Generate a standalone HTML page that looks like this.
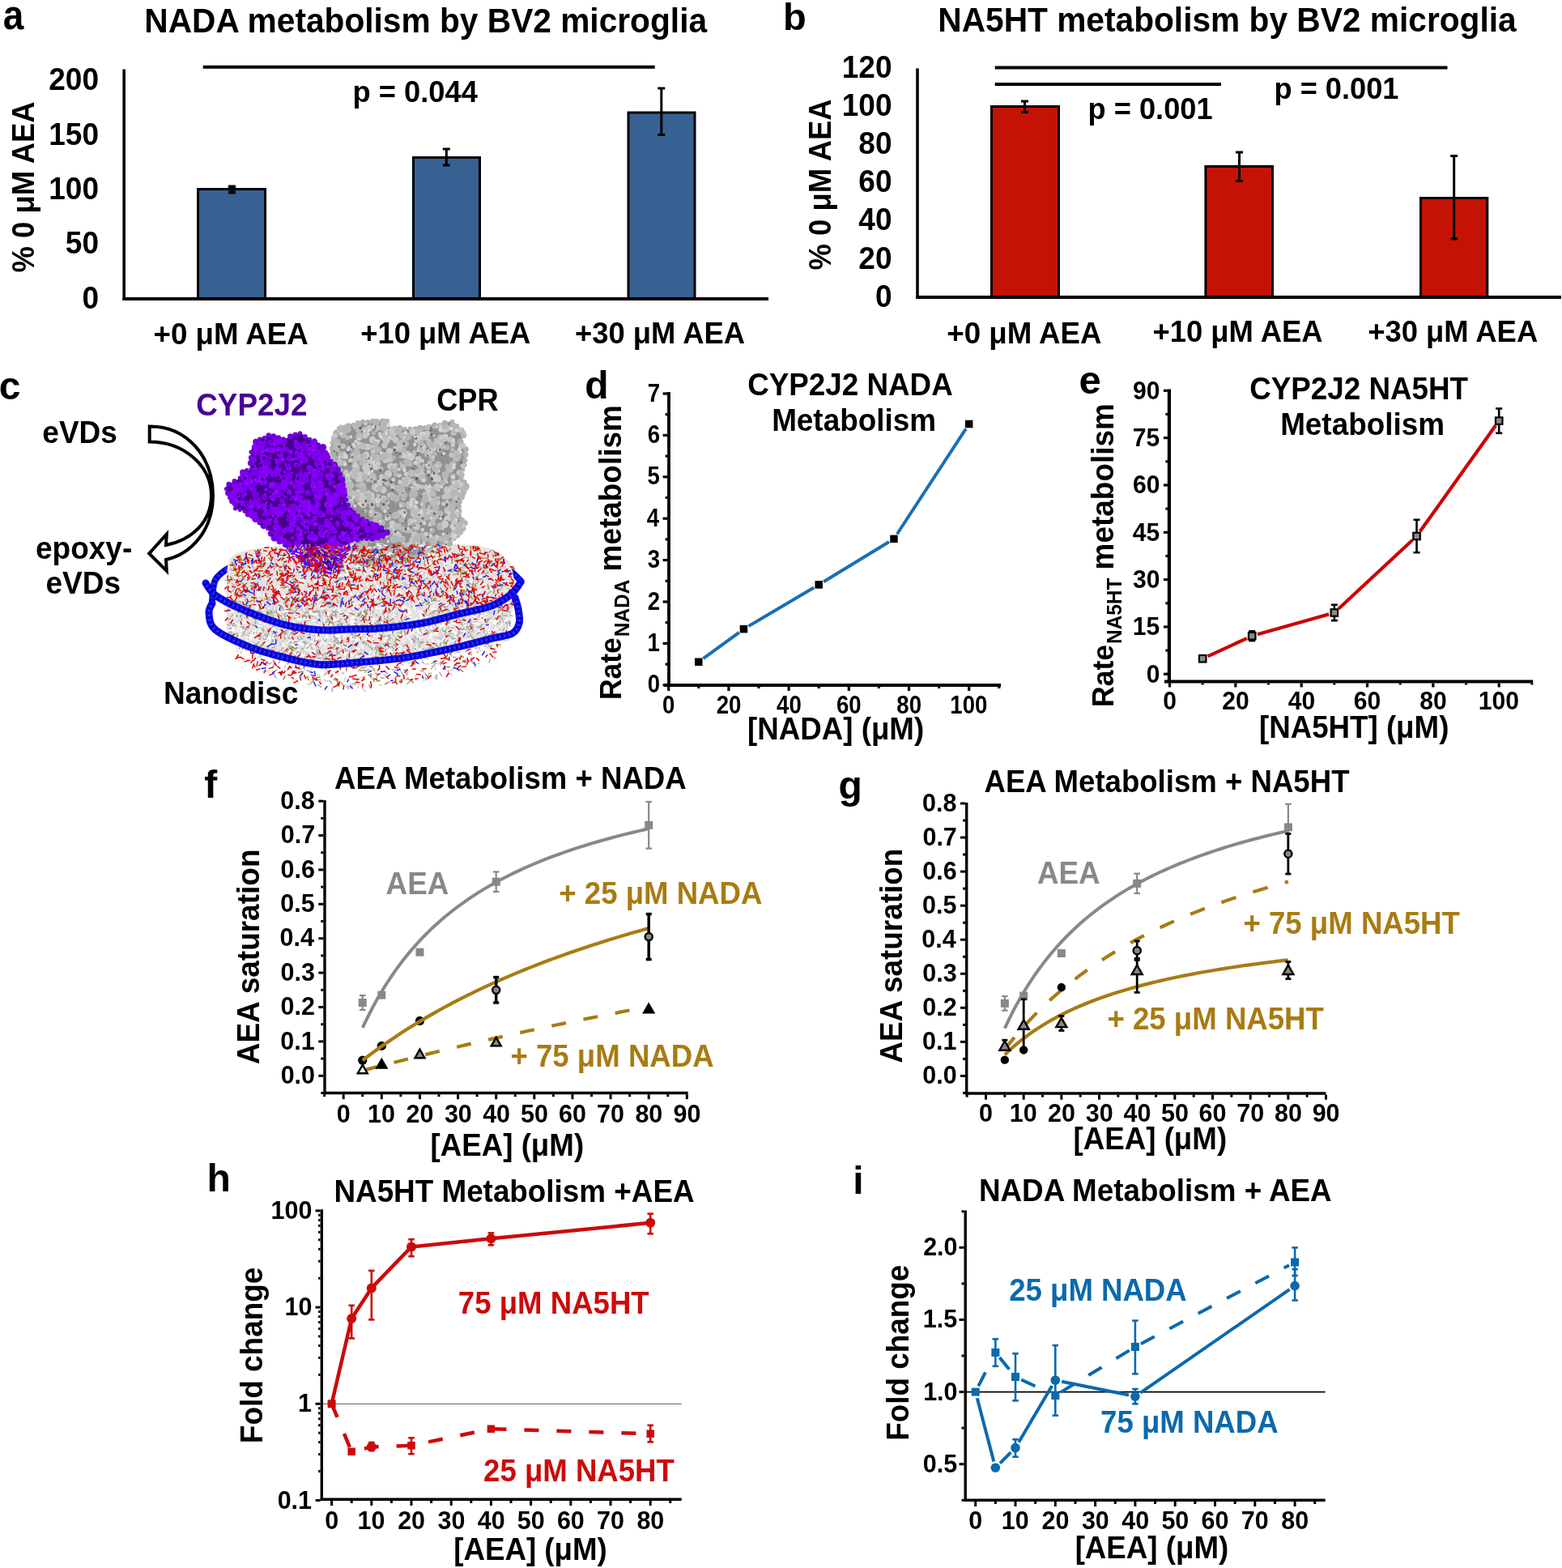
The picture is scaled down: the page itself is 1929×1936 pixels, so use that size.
<!DOCTYPE html>
<html><head><meta charset="utf-8"><title>Figure</title>
<style>html,body{margin:0;padding:0;background:#fff;}svg{display:block;}text{font-family:"Liberation Sans", Arial, Helvetica, sans-serif;font-weight:bold;}</style>
</head><body>
<svg width="1929" height="1936" viewBox="0 0 1929 1936">
<rect width="1929" height="1936" fill="#fff"/>
<text transform="translate(3.65,36.4) scale(1,1.12)" font-size="46">a</text>
<text transform="translate(178.28,39.5) scale(1,1.03)" font-size="40.7">NADA metabolism by BV2 microglia</text>
<rect x="244.5" y="233.5" width="83" height="135.5" fill="#366192" stroke="#000" stroke-width="3"/>
<rect x="510.5" y="194.5" width="82" height="174.5" fill="#366192" stroke="#000" stroke-width="3"/>
<rect x="776" y="139" width="82" height="230" fill="#366192" stroke="#000" stroke-width="3"/>
<line x1="286.5" y1="230.5" x2="286.5" y2="237.5" stroke="#000" stroke-width="4"/>
<line x1="282" y1="230.5" x2="291" y2="230.5" stroke="#000" stroke-width="4"/>
<line x1="282" y1="237.5" x2="291" y2="237.5" stroke="#000" stroke-width="4"/>
<line x1="551.3" y1="184" x2="551.3" y2="204" stroke="#000" stroke-width="3"/>
<line x1="546.8" y1="184" x2="555.8" y2="184" stroke="#000" stroke-width="3"/>
<line x1="546.8" y1="204" x2="555.8" y2="204" stroke="#000" stroke-width="3"/>
<line x1="816.8" y1="109" x2="816.8" y2="166.5" stroke="#000" stroke-width="3"/>
<line x1="812.3" y1="109" x2="821.3" y2="109" stroke="#000" stroke-width="3"/>
<line x1="812.3" y1="166.5" x2="821.3" y2="166.5" stroke="#000" stroke-width="3"/>
<line x1="153.2" y1="85.5" x2="153.2" y2="371" stroke="#000" stroke-width="3.6"/>
<line x1="151.4" y1="369" x2="949" y2="369" stroke="#000" stroke-width="4"/>
<line x1="250.7" y1="82.7" x2="808.7" y2="82.7" stroke="#000" stroke-width="4"/>
<text transform="translate(435.61,125.6) scale(1,1.03)" font-size="36.3">p = 0.044</text>
<text transform="translate(60.28,110.5) scale(1,1.03)" font-size="37">200</text>
<text transform="translate(60.28,178.7) scale(1,1.03)" font-size="37">150</text>
<text transform="translate(60.28,246) scale(1,1.03)" font-size="37">100</text>
<text transform="translate(80.86,313.3) scale(1,1.03)" font-size="37">50</text>
<text transform="translate(101.44,380.5) scale(1,1.03)" font-size="37">0</text>
<text transform="translate(189.46,425) scale(1,1.03)" font-size="36.7">+0 μM AEA</text>
<text transform="translate(445.27,423.5) scale(1,1.03)" font-size="36.4">+10 μM AEA</text>
<text transform="translate(709.97,423.5) scale(1,1.03)" font-size="36.4">+30 μM AEA</text>
<text transform="translate(42.4,336.41) rotate(-90) scale(1,1.08)" font-size="36.4">% 0 μM AEA</text>
<text x="966.9" y="37" font-size="47">b</text>
<text transform="translate(1158.28,38.7) scale(1,1.03)" font-size="40.7">NA5HT metabolism by BV2 microglia</text>
<rect x="1224.5" y="131.5" width="83" height="235.5" fill="#c41304" stroke="#000" stroke-width="3"/>
<rect x="1488.9" y="205.5" width="82.6" height="161.5" fill="#c41304" stroke="#000" stroke-width="3"/>
<rect x="1754.5" y="244.5" width="82.3" height="122.5" fill="#c41304" stroke="#000" stroke-width="3"/>
<line x1="1265.5" y1="125" x2="1265.5" y2="138.5" stroke="#000" stroke-width="3"/>
<line x1="1261" y1="125" x2="1270" y2="125" stroke="#000" stroke-width="3"/>
<line x1="1261" y1="138.5" x2="1270" y2="138.5" stroke="#000" stroke-width="3"/>
<line x1="1530.5" y1="188" x2="1530.5" y2="223.5" stroke="#000" stroke-width="3"/>
<line x1="1526" y1="188" x2="1535" y2="188" stroke="#000" stroke-width="3"/>
<line x1="1526" y1="223.5" x2="1535" y2="223.5" stroke="#000" stroke-width="3"/>
<line x1="1795.7" y1="192.5" x2="1795.7" y2="295" stroke="#000" stroke-width="3"/>
<line x1="1791.2" y1="192.5" x2="1800.2" y2="192.5" stroke="#000" stroke-width="3"/>
<line x1="1791.2" y1="295" x2="1800.2" y2="295" stroke="#000" stroke-width="3"/>
<line x1="1133" y1="84.5" x2="1133" y2="369" stroke="#000" stroke-width="3.6"/>
<line x1="1131.2" y1="367" x2="1928" y2="367" stroke="#000" stroke-width="4"/>
<line x1="1228.75" y1="83.4" x2="1787.5" y2="83.4" stroke="#000" stroke-width="4"/>
<line x1="1228.75" y1="104" x2="1508" y2="104" stroke="#000" stroke-width="4"/>
<text transform="translate(1343.61,146.5) scale(1,1.03)" font-size="36.2">p = 0.001</text>
<text transform="translate(1573.51,122.3) scale(1,1.03)" font-size="36.2">p = 0.001</text>
<text transform="translate(1080.94,378.75) scale(1,1.03)" font-size="37">0</text>
<text transform="translate(1060.36,331.55) scale(1,1.03)" font-size="37">20</text>
<text transform="translate(1060.36,284.35) scale(1,1.03)" font-size="37">40</text>
<text transform="translate(1060.36,237.15) scale(1,1.03)" font-size="37">60</text>
<text transform="translate(1060.36,189.95) scale(1,1.03)" font-size="37">80</text>
<text transform="translate(1039.78,142.75) scale(1,1.03)" font-size="37">100</text>
<text transform="translate(1039.78,95.55) scale(1,1.03)" font-size="37">120</text>
<text transform="translate(1169.21,423.75) scale(1,1.03)" font-size="36.7">+0 μM AEA</text>
<text transform="translate(1423.47,422.4) scale(1,1.03)" font-size="36.4">+10 μM AEA</text>
<text transform="translate(1689.17,422.4) scale(1,1.03)" font-size="36.4">+30 μM AEA</text>
<text transform="translate(1025.5,333.41) rotate(-90) scale(1,1.08)" font-size="36.4">% 0 μM AEA</text>
<text x="-1.38" y="492.7" font-size="48">c</text>
<text transform="translate(242.19,513.2) scale(1,1.06)" font-size="36.9" fill="#4b0096">CYP2J2</text>
<text transform="translate(539.22,507) scale(1,1.06)" font-size="36.2">CPR</text>
<text transform="translate(52.35,547) scale(1,1.06)" font-size="37">eVDs</text>
<text transform="translate(44.05,690) scale(1,1.06)" font-size="37">epoxy-</text>
<text transform="translate(56.55,732.7) scale(1,1.06)" font-size="37">eVDs</text>
<text transform="translate(201.92,869) scale(1,1.06)" font-size="37">Nanodisc</text>
<path d="M184.7,526.4 C230,526 263,563 263,612 C263,655 236,684 205,691 L205.8,705 L184.2,683.4 L205.8,659.5 L205,673 C236,667 261,645 261,612 C261,574 226,545.6 184.7,545.6 Z" stroke="#000" stroke-width="4" fill="#fff" stroke-linejoin="miter"/>
<path d="M262,742 C262.67,737.67 262.17,723 266,716 C269.83,709 277.67,704 285,700 C292.33,696 305.83,693.33 310,692" stroke="#1010f0" stroke-width="8" fill="none" stroke-linecap="round" stroke-linejoin="round"/>
<path d="M262,742 C262.67,737.67 262.17,723 266,716 C269.83,709 277.67,704 285,700 C292.33,696 305.83,693.33 310,692" stroke="#0000a8" stroke-width="6.8" fill="none" stroke-dasharray="1.8 4" stroke-linecap="butt"/>
<path d="M262,742 C262.67,737.67 262.17,723 266,716 C269.83,709 277.67,704 285,700 C292.33,696 305.83,693.33 310,692" stroke="#4848ff" stroke-width="1.4" fill="none" stroke-dasharray="2 3.8" stroke-dashoffset="2.5"/>
<path d="M598,690 C602,691.33 614.67,693.67 622,698 C629.33,702.33 638.67,713 642,716" stroke="#1010f0" stroke-width="8" fill="none" stroke-linecap="round" stroke-linejoin="round"/>
<path d="M598,690 C602,691.33 614.67,693.67 622,698 C629.33,702.33 638.67,713 642,716" stroke="#0000a8" stroke-width="6.8" fill="none" stroke-dasharray="1.8 4" stroke-linecap="butt"/>
<path d="M598,690 C602,691.33 614.67,693.67 622,698 C629.33,702.33 638.67,713 642,716" stroke="#4848ff" stroke-width="1.4" fill="none" stroke-dasharray="2 3.8" stroke-dashoffset="2.5"/>
<path d="M283,692 C286.33,685.17 292.17,683.67 300,681 C307.83,678.33 316.67,677.67 330,676 C343.33,674.33 360,671.67 380,671 C400,670.33 426.67,672 450,672 C473.33,672 498.33,670.83 520,671 C541.67,671.17 565,671.67 580,673 C595,674.33 602.5,676.17 610,679 C617.5,681.83 621.33,686.17 625,690 C628.67,693.83 630.17,695.33 632,702 C633.83,708.67 636.17,720.33 636,730 C635.83,739.67 632.83,750.83 631,760 C629.17,769.17 630.17,779.67 625,785 C619.83,790.33 610.17,789.5 600,792 C589.83,794.5 580.67,796.5 564,800 C547.33,803.5 521.33,809.67 500,813 C478.67,816.33 453.67,818.5 436,820 C418.33,821.5 408.17,823 394,822 C379.83,821 365.17,817.5 351,814 C336.83,810.5 320.33,805 309,801 C297.67,797 287.83,796.83 283,790 C278.17,783.17 280.5,771.33 280,760 C279.5,748.67 279.5,733.33 280,722 C280.5,710.67 279.67,698.83 283,692Z" stroke="none" stroke-width="0" fill="#e6e2e2"/>
<path d="M418.6,529.4 C424.6,526.15 437.98,522.17 448,520.5 C458.02,518.83 473.2,518.07 478.7,519.4 C484.2,520.73 475.3,526.8 481,528.5 C486.7,530.2 505.68,529.6 512.9,529.6 C520.12,529.6 518.23,529.63 524.3,528.5 C530.37,527.37 543.6,524.13 549.3,522.8 C555,521.47 554.88,519.17 558.5,520.5 C562.12,521.83 568.53,527.95 571,530.8 C573.47,533.65 573.68,535.13 573.3,537.6 C572.92,540.07 568.33,542.75 568.7,545.6 C569.07,548.45 574.55,550.92 575.5,554.7 C576.45,558.48 574.97,564.13 574.4,568.3 C573.83,572.47 572.87,575.9 572.1,579.7 C571.33,583.5 569.03,587.68 569.8,591.1 C570.57,594.52 576.12,597.35 576.7,600.2 C577.28,603.05 574.82,604.97 573.3,608.2 C571.78,611.43 568.75,614.85 567.6,619.6 C566.45,624.35 565.27,632.33 566.4,636.7 C567.53,641.07 573.45,643.15 574.4,645.8 C575.35,648.45 574.38,649.38 572.1,652.6 C569.82,655.82 563.55,662.07 560.7,665.1 C557.85,668.13 558.03,668.7 555,670.8 C551.97,672.9 546.48,675.8 542.5,677.7 C538.52,679.6 534.9,680.68 531.1,682.2 C527.3,683.72 524.45,685.5 519.7,686.8 C514.95,688.1 507.72,688.63 502.6,690 C497.48,691.37 494.43,693.67 489,695 C483.57,696.33 478.17,698 470,698 C461.83,698 447.42,702.55 440,695 C432.58,687.45 427.17,664.87 425.5,652.7 C423.83,640.53 430.92,632.45 430,622 C429.08,611.55 423.43,601.43 420,590 C416.57,578.57 410.73,561.73 409.4,553.4 C408.07,545.07 410.47,544 412,540 C413.53,536 412.6,532.65 418.6,529.4Z" stroke="none" stroke-width="0" fill="#929292"/>
<path d="M415.75,529.4a2.85,2.85 0 1,0 5.7,0a2.85,2.85 0 1,0 -5.7,0M421.98,527.62a2.5,2.5 0 1,0 5,0a2.5,2.5 0 1,0 -5,0M426.86,525.84a3.5,3.5 0 1,0 7,0a3.5,3.5 0 1,0 -7,0M433.9,524.06a2.34,2.34 0 1,0 4.69,0a2.34,2.34 0 1,0 -4.69,0M438.85,522.28a3.27,3.27 0 1,0 6.54,0a3.27,3.27 0 1,0 -6.54,0M445.07,520.5a2.93,2.93 0 1,0 5.86,0a2.93,2.93 0 1,0 -5.86,0M451.82,520.28a2.32,2.32 0 1,0 4.63,0a2.32,2.32 0 1,0 -4.63,0M457.07,520.06a3.21,3.21 0 1,0 6.43,0a3.21,3.21 0 1,0 -6.43,0M464.15,519.84a2.27,2.27 0 1,0 4.55,0a2.27,2.27 0 1,0 -4.55,0M469.49,519.62a3.07,3.07 0 1,0 6.13,0a3.07,3.07 0 1,0 -6.13,0M476.36,519.4a2.34,2.34 0 1,0 4.68,0a2.34,2.34 0 1,0 -4.68,0M478.62,528.5a2.38,2.38 0 1,0 4.76,0a2.38,2.38 0 1,0 -4.76,0M484.33,528.72a3.05,3.05 0 1,0 6.1,0a3.05,3.05 0 1,0 -6.1,0M489.91,528.94a3.85,3.85 0 1,0 7.71,0a3.85,3.85 0 1,0 -7.71,0M497.69,529.16a2.45,2.45 0 1,0 4.9,0a2.45,2.45 0 1,0 -4.9,0M503.87,529.38a2.65,2.65 0 1,0 5.29,0a2.65,2.65 0 1,0 -5.29,0M509.45,529.6a3.45,3.45 0 1,0 6.91,0a3.45,3.45 0 1,0 -6.91,0M514.5,529.05a4.1,4.1 0 1,0 8.19,0a4.1,4.1 0 1,0 -8.19,0M520.95,528.5a3.35,3.35 0 1,0 6.71,0a3.35,3.35 0 1,0 -6.71,0M527.56,527.08a2.99,2.99 0 1,0 5.99,0a2.99,2.99 0 1,0 -5.99,0M532.65,525.65a4.15,4.15 0 1,0 8.31,0a4.15,4.15 0 1,0 -8.31,0M540.76,524.22a2.29,2.29 0 1,0 4.59,0a2.29,2.29 0 1,0 -4.59,0M545.38,522.8a3.92,3.92 0 1,0 7.83,0a3.92,3.92 0 1,0 -7.83,0M555.72,520.5a2.78,2.78 0 1,0 5.56,0a2.78,2.78 0 1,0 -5.56,0M562.26,525.65a2.49,2.49 0 1,0 4.98,0a2.49,2.49 0 1,0 -4.98,0M568.56,530.8a2.44,2.44 0 1,0 4.87,0a2.44,2.44 0 1,0 -4.87,0M570.48,537.6a2.82,2.82 0 1,0 5.63,0a2.82,2.82 0 1,0 -5.63,0M564.87,545.6a3.83,3.83 0 1,0 7.66,0a3.83,3.83 0 1,0 -7.66,0M569.54,550.15a2.56,2.56 0 1,0 5.12,0a2.56,2.56 0 1,0 -5.12,0M572.14,554.7a3.36,3.36 0 1,0 6.73,0a3.36,3.36 0 1,0 -6.73,0M571.47,561.5a3.48,3.48 0 1,0 6.96,0a3.48,3.48 0 1,0 -6.96,0M571.46,568.3a2.94,2.94 0 1,0 5.89,0a2.94,2.94 0 1,0 -5.89,0M569.95,574a3.3,3.3 0 1,0 6.59,0a3.3,3.3 0 1,0 -6.59,0M569.77,579.7a2.33,2.33 0 1,0 4.65,0a2.33,2.33 0 1,0 -4.65,0M568.63,585.4a2.32,2.32 0 1,0 4.64,0a2.32,2.32 0 1,0 -4.64,0M567.19,591.1a2.61,2.61 0 1,0 5.22,0a2.61,2.61 0 1,0 -5.22,0M569.69,595.65a3.56,3.56 0 1,0 7.12,0a3.56,3.56 0 1,0 -7.12,0M573.64,600.2a3.06,3.06 0 1,0 6.11,0a3.06,3.06 0 1,0 -6.11,0M570.47,608.2a2.83,2.83 0 1,0 5.66,0a2.83,2.83 0 1,0 -5.66,0M567.08,613.9a3.37,3.37 0 1,0 6.74,0a3.37,3.37 0 1,0 -6.74,0M564.49,619.6a3.11,3.11 0 1,0 6.21,0a3.11,3.11 0 1,0 -6.21,0M564.4,625.3a2.8,2.8 0 1,0 5.6,0a2.8,2.8 0 1,0 -5.6,0M563.01,631a3.79,3.79 0 1,0 7.58,0a3.79,3.79 0 1,0 -7.58,0M562.8,636.7a3.6,3.6 0 1,0 7.2,0a3.6,3.6 0 1,0 -7.2,0M567.71,641.25a2.69,2.69 0 1,0 5.38,0a2.69,2.69 0 1,0 -5.38,0M571.05,645.8a3.35,3.35 0 1,0 6.7,0a3.35,3.35 0 1,0 -6.7,0M568.85,652.6a3.25,3.25 0 1,0 6.5,0a3.25,3.25 0 1,0 -6.5,0M564.35,656.77a3.95,3.95 0 1,0 7.9,0a3.95,3.95 0 1,0 -7.9,0M560.84,660.93a3.66,3.66 0 1,0 7.32,0a3.66,3.66 0 1,0 -7.32,0M557.92,665.1a2.78,2.78 0 1,0 5.55,0a2.78,2.78 0 1,0 -5.55,0M550.84,670.8a4.16,4.16 0 1,0 8.32,0a4.16,4.16 0 1,0 -8.32,0M546.31,674.25a2.44,2.44 0 1,0 4.87,0a2.44,2.44 0 1,0 -4.87,0M539.46,677.7a3.04,3.04 0 1,0 6.07,0a3.04,3.04 0 1,0 -6.07,0M533.09,679.95a3.71,3.71 0 1,0 7.43,0a3.71,3.71 0 1,0 -7.43,0M528.6,682.2a2.5,2.5 0 1,0 5.01,0a2.5,2.5 0 1,0 -5.01,0M522.22,684.5a3.18,3.18 0 1,0 6.36,0a3.18,3.18 0 1,0 -6.36,0M517.42,686.8a2.28,2.28 0 1,0 4.56,0a2.28,2.28 0 1,0 -4.56,0M510.46,687.87a3.54,3.54 0 1,0 7.07,0a3.54,3.54 0 1,0 -7.07,0M504.57,688.93a3.73,3.73 0 1,0 7.46,0a3.73,3.73 0 1,0 -7.46,0M499.25,690a3.35,3.35 0 1,0 6.69,0a3.35,3.35 0 1,0 -6.69,0M491.85,692.5a3.95,3.95 0 1,0 7.9,0a3.95,3.95 0 1,0 -7.9,0M486.17,695a2.83,2.83 0 1,0 5.65,0a2.83,2.83 0 1,0 -5.65,0M479.08,696a3.59,3.59 0 1,0 7.18,0a3.59,3.59 0 1,0 -7.18,0M472.94,697a3.39,3.39 0 1,0 6.78,0a3.39,3.39 0 1,0 -6.78,0M466.64,698a3.36,3.36 0 1,0 6.72,0a3.36,3.36 0 1,0 -6.72,0M460.89,697.4a3.11,3.11 0 1,0 6.22,0a3.11,3.11 0 1,0 -6.22,0M454.12,696.8a3.88,3.88 0 1,0 7.76,0a3.88,3.88 0 1,0 -7.76,0M447.91,696.2a4.09,4.09 0 1,0 8.18,0a4.09,4.09 0 1,0 -8.18,0M442.85,695.6a3.15,3.15 0 1,0 6.3,0a3.15,3.15 0 1,0 -6.3,0M436.47,695a3.53,3.53 0 1,0 7.06,0a3.53,3.53 0 1,0 -7.06,0M435.87,689.71a2.32,2.32 0 1,0 4.64,0a2.32,2.32 0 1,0 -4.64,0M432.77,684.42a3.6,3.6 0 1,0 7.21,0a3.6,3.6 0 1,0 -7.21,0M431.07,679.14a3.49,3.49 0 1,0 6.99,0a3.49,3.49 0 1,0 -6.99,0M428.56,673.85a4.19,4.19 0 1,0 8.37,0a4.19,4.19 0 1,0 -8.37,0M427.09,668.56a3.84,3.84 0 1,0 7.69,0a3.84,3.84 0 1,0 -7.69,0M426.36,663.28a2.77,2.77 0 1,0 5.54,0a2.77,2.77 0 1,0 -5.54,0M424.34,657.99a2.97,2.97 0 1,0 5.94,0a2.97,2.97 0 1,0 -5.94,0M421.96,652.7a3.54,3.54 0 1,0 7.07,0a3.54,3.54 0 1,0 -7.07,0M424.15,646.56a2.25,2.25 0 1,0 4.49,0a2.25,2.25 0 1,0 -4.49,0M424.18,640.42a3.12,3.12 0 1,0 6.25,0a3.12,3.12 0 1,0 -6.25,0M425.66,634.28a2.54,2.54 0 1,0 5.07,0a2.54,2.54 0 1,0 -5.07,0M426.67,628.14a2.43,2.43 0 1,0 4.87,0a2.43,2.43 0 1,0 -4.87,0M427.68,622a2.32,2.32 0 1,0 4.64,0a2.32,2.32 0 1,0 -4.64,0M424.6,616.67a3.74,3.74 0 1,0 7.47,0a3.74,3.74 0 1,0 -7.47,0M424.21,611.33a2.46,2.46 0 1,0 4.92,0a2.46,2.46 0 1,0 -4.92,0M422.3,606a2.7,2.7 0 1,0 5.39,0a2.7,2.7 0 1,0 -5.39,0M420.35,600.67a2.98,2.98 0 1,0 5.96,0a2.98,2.98 0 1,0 -5.96,0M417.72,595.33a3.94,3.94 0 1,0 7.89,0a3.94,3.94 0 1,0 -7.89,0M417.64,590a2.36,2.36 0 1,0 4.72,0a2.36,2.36 0 1,0 -4.72,0M415.13,583.9a3.1,3.1 0 1,0 6.2,0a3.1,3.1 0 1,0 -6.2,0M413.17,577.8a3.3,3.3 0 1,0 6.6,0a3.3,3.3 0 1,0 -6.6,0M410.73,571.7a3.97,3.97 0 1,0 7.93,0a3.97,3.97 0 1,0 -7.93,0M409.09,565.6a3.84,3.84 0 1,0 7.68,0a3.84,3.84 0 1,0 -7.68,0M407.24,559.5a3.93,3.93 0 1,0 7.86,0a3.93,3.93 0 1,0 -7.86,0M406.64,553.4a2.76,2.76 0 1,0 5.51,0a2.76,2.76 0 1,0 -5.51,0M407.67,546.7a3.03,3.03 0 1,0 6.06,0a3.03,3.03 0 1,0 -6.06,0M409.08,540a2.92,2.92 0 1,0 5.84,0a2.92,2.92 0 1,0 -5.84,0M411.33,534.7a3.97,3.97 0 1,0 7.94,0a3.97,3.97 0 1,0 -7.94,0" fill="#b0b0b0"/>
<path d="M436.45,560.83a2.43,2.43 0 1,0 4.86,0a2.43,2.43 0 1,0 -4.86,0M416.36,531.43a3.46,3.46 0 1,0 6.92,0a3.46,3.46 0 1,0 -6.92,0M520.5,611.62a4.68,4.68 0 1,0 9.36,0a4.68,4.68 0 1,0 -9.36,0M449.83,584.89a3.25,3.25 0 1,0 6.51,0a3.25,3.25 0 1,0 -6.51,0M507.66,660.21a4.33,4.33 0 1,0 8.67,0a4.33,4.33 0 1,0 -8.67,0M543.43,651.54a2.88,2.88 0 1,0 5.76,0a2.88,2.88 0 1,0 -5.76,0M566.53,584.52a2.65,2.65 0 1,0 5.29,0a2.65,2.65 0 1,0 -5.29,0M425.91,588.79a3.55,3.55 0 1,0 7.09,0a3.55,3.55 0 1,0 -7.09,0M563.02,648.85a4.78,4.78 0 1,0 9.57,0a4.78,4.78 0 1,0 -9.57,0M465.57,617.39a2.45,2.45 0 1,0 4.9,0a2.45,2.45 0 1,0 -4.9,0M561.21,596.88a4.38,4.38 0 1,0 8.77,0a4.38,4.38 0 1,0 -8.77,0M552.66,542.75a3.66,3.66 0 1,0 7.31,0a3.66,3.66 0 1,0 -7.31,0M507.81,609.69a4.06,4.06 0 1,0 8.13,0a4.06,4.06 0 1,0 -8.13,0M433.85,638.67a2.79,2.79 0 1,0 5.58,0a2.79,2.79 0 1,0 -5.58,0M451.84,681.19a3.05,3.05 0 1,0 6.1,0a3.05,3.05 0 1,0 -6.1,0M420.95,529.67a3.42,3.42 0 1,0 6.84,0a3.42,3.42 0 1,0 -6.84,0M457.67,557.83a3.22,3.22 0 1,0 6.44,0a3.22,3.22 0 1,0 -6.44,0M545.27,645.62a3.37,3.37 0 1,0 6.74,0a3.37,3.37 0 1,0 -6.74,0M465.11,529.11a2.43,2.43 0 1,0 4.87,0a2.43,2.43 0 1,0 -4.87,0M509.77,650.47a4.58,4.58 0 1,0 9.17,0a4.58,4.58 0 1,0 -9.17,0M504.51,678.86a2.6,2.6 0 1,0 5.21,0a2.6,2.6 0 1,0 -5.21,0M510.85,631.24a3.57,3.57 0 1,0 7.15,0a3.57,3.57 0 1,0 -7.15,0M471.54,683.1a2.58,2.58 0 1,0 5.16,0a2.58,2.58 0 1,0 -5.16,0M520.03,591.81a3.4,3.4 0 1,0 6.8,0a3.4,3.4 0 1,0 -6.8,0M532.7,590.85a4.13,4.13 0 1,0 8.25,0a4.13,4.13 0 1,0 -8.25,0M558.43,617.65a3.53,3.53 0 1,0 7.07,0a3.53,3.53 0 1,0 -7.07,0M497.82,562.99a3.22,3.22 0 1,0 6.44,0a3.22,3.22 0 1,0 -6.44,0M491,631.85a2.62,2.62 0 1,0 5.24,0a2.62,2.62 0 1,0 -5.24,0M448.2,538.88a2.76,2.76 0 1,0 5.53,0a2.76,2.76 0 1,0 -5.53,0M452.47,575.9a3.54,3.54 0 1,0 7.08,0a3.54,3.54 0 1,0 -7.08,0M513.67,533.88a4,4 0 1,0 8,0a4,4 0 1,0 -8,0M568.7,575.07a2.95,2.95 0 1,0 5.91,0a2.95,2.95 0 1,0 -5.91,0M510.16,628.36a3.56,3.56 0 1,0 7.13,0a3.56,3.56 0 1,0 -7.13,0M557.1,529.48a4.61,4.61 0 1,0 9.23,0a4.61,4.61 0 1,0 -9.23,0M529.09,666.34a3.86,3.86 0 1,0 7.71,0a3.86,3.86 0 1,0 -7.71,0M568.63,550.33a3.4,3.4 0 1,0 6.8,0a3.4,3.4 0 1,0 -6.8,0M530.03,554.98a2.85,2.85 0 1,0 5.69,0a2.85,2.85 0 1,0 -5.69,0M445.62,569.65a3.18,3.18 0 1,0 6.37,0a3.18,3.18 0 1,0 -6.37,0M471.7,696.65a3.96,3.96 0 1,0 7.92,0a3.96,3.96 0 1,0 -7.92,0M505.23,667.27a4.63,4.63 0 1,0 9.26,0a4.63,4.63 0 1,0 -9.26,0M506.65,630.12a2.49,2.49 0 1,0 4.98,0a2.49,2.49 0 1,0 -4.98,0M437.9,575.16a2.48,2.48 0 1,0 4.95,0a2.48,2.48 0 1,0 -4.95,0M554.39,601.72a2.71,2.71 0 1,0 5.42,0a2.71,2.71 0 1,0 -5.42,0M510.74,585.63a2.75,2.75 0 1,0 5.5,0a2.75,2.75 0 1,0 -5.5,0M488.34,663.14a3.12,3.12 0 1,0 6.25,0a3.12,3.12 0 1,0 -6.25,0M509.25,666.67a3.94,3.94 0 1,0 7.87,0a3.94,3.94 0 1,0 -7.87,0M548.32,630.32a4.39,4.39 0 1,0 8.78,0a4.39,4.39 0 1,0 -8.78,0M432.59,583.55a2.99,2.99 0 1,0 5.99,0a2.99,2.99 0 1,0 -5.99,0M535.54,601.25a4.35,4.35 0 1,0 8.69,0a4.35,4.35 0 1,0 -8.69,0M491.24,586.89a2.46,2.46 0 1,0 4.92,0a2.46,2.46 0 1,0 -4.92,0M520.51,538.97a4.76,4.76 0 1,0 9.51,0a4.76,4.76 0 1,0 -9.51,0M487.64,690.26a4.05,4.05 0 1,0 8.09,0a4.05,4.05 0 1,0 -8.09,0M423.8,583.19a3.39,3.39 0 1,0 6.78,0a3.39,3.39 0 1,0 -6.78,0M484.75,543.47a4.1,4.1 0 1,0 8.2,0a4.1,4.1 0 1,0 -8.2,0M480.34,530.77a4.49,4.49 0 1,0 8.98,0a4.49,4.49 0 1,0 -8.98,0M491.42,607.42a4.57,4.57 0 1,0 9.14,0a4.57,4.57 0 1,0 -9.14,0M456.25,685.24a2.61,2.61 0 1,0 5.21,0a2.61,2.61 0 1,0 -5.21,0M489.87,549.72a4.42,4.42 0 1,0 8.84,0a4.42,4.42 0 1,0 -8.84,0M445.18,677.42a3.34,3.34 0 1,0 6.68,0a3.34,3.34 0 1,0 -6.68,0M504.58,620.35a2.75,2.75 0 1,0 5.49,0a2.75,2.75 0 1,0 -5.49,0M410.67,538.45a3.23,3.23 0 1,0 6.46,0a3.23,3.23 0 1,0 -6.46,0M523.17,615.47a4.11,4.11 0 1,0 8.23,0a4.11,4.11 0 1,0 -8.23,0M486.9,661.7a4.72,4.72 0 1,0 9.44,0a4.72,4.72 0 1,0 -9.44,0M492.5,622.63a3.08,3.08 0 1,0 6.16,0a3.08,3.08 0 1,0 -6.16,0M554.44,561.9a3.04,3.04 0 1,0 6.08,0a3.04,3.04 0 1,0 -6.08,0M531.53,667.02a4.14,4.14 0 1,0 8.27,0a4.14,4.14 0 1,0 -8.27,0M514.71,554.3a4.76,4.76 0 1,0 9.52,0a4.76,4.76 0 1,0 -9.52,0M472.56,660.67a3.6,3.6 0 1,0 7.2,0a3.6,3.6 0 1,0 -7.2,0M512.18,602.14a3.02,3.02 0 1,0 6.03,0a3.02,3.02 0 1,0 -6.03,0M517.11,635.93a4.03,4.03 0 1,0 8.06,0a4.03,4.03 0 1,0 -8.06,0M522.34,679.2a4.28,4.28 0 1,0 8.56,0a4.28,4.28 0 1,0 -8.56,0M548.49,611.96a4.55,4.55 0 1,0 9.09,0a4.55,4.55 0 1,0 -9.09,0M424.41,564.27a2.79,2.79 0 1,0 5.57,0a2.79,2.79 0 1,0 -5.57,0M473.27,688.71a4.78,4.78 0 1,0 9.55,0a4.78,4.78 0 1,0 -9.55,0M455.39,590.93a4.79,4.79 0 1,0 9.57,0a4.79,4.79 0 1,0 -9.57,0M567.44,601.93a2.71,2.71 0 1,0 5.42,0a2.71,2.71 0 1,0 -5.42,0M535.8,663.99a3.53,3.53 0 1,0 7.05,0a3.53,3.53 0 1,0 -7.05,0M500.18,559.76a3.25,3.25 0 1,0 6.5,0a3.25,3.25 0 1,0 -6.5,0M454.37,617.32a4.27,4.27 0 1,0 8.54,0a4.27,4.27 0 1,0 -8.54,0M484.89,659.35a3.04,3.04 0 1,0 6.08,0a3.04,3.04 0 1,0 -6.08,0M557.27,659.43a3.67,3.67 0 1,0 7.35,0a3.67,3.67 0 1,0 -7.35,0M557.29,644.5a3.6,3.6 0 1,0 7.19,0a3.6,3.6 0 1,0 -7.19,0M536.57,618.37a3.08,3.08 0 1,0 6.16,0a3.08,3.08 0 1,0 -6.16,0M518.35,601.18a2.64,2.64 0 1,0 5.29,0a2.64,2.64 0 1,0 -5.29,0M514.81,585.28a4.29,4.29 0 1,0 8.58,0a4.29,4.29 0 1,0 -8.58,0M445.32,650.41a4.61,4.61 0 1,0 9.23,0a4.61,4.61 0 1,0 -9.23,0M466.46,652.86a4.15,4.15 0 1,0 8.3,0a4.15,4.15 0 1,0 -8.3,0M459.38,567.27a3.81,3.81 0 1,0 7.62,0a3.81,3.81 0 1,0 -7.62,0M542.15,674.28a3.06,3.06 0 1,0 6.11,0a3.06,3.06 0 1,0 -6.11,0M539.66,555.2a3.14,3.14 0 1,0 6.29,0a3.14,3.14 0 1,0 -6.29,0M493.85,604.52a2.85,2.85 0 1,0 5.71,0a2.85,2.85 0 1,0 -5.71,0M500.84,591.28a2.99,2.99 0 1,0 5.98,0a2.99,2.99 0 1,0 -5.98,0M564.74,656.43a3.01,3.01 0 1,0 6.02,0a3.01,3.01 0 1,0 -6.02,0M412.43,555.3a3.31,3.31 0 1,0 6.62,0a3.31,3.31 0 1,0 -6.62,0M468.64,561.39a2.81,2.81 0 1,0 5.63,0a2.81,2.81 0 1,0 -5.63,0M429.6,654.23a4.02,4.02 0 1,0 8.05,0a4.02,4.02 0 1,0 -8.05,0M433.01,561.99a4.59,4.59 0 1,0 9.19,0a4.59,4.59 0 1,0 -9.19,0M554.34,602.97a4.32,4.32 0 1,0 8.63,0a4.32,4.32 0 1,0 -8.63,0M451.51,592.94a2.46,2.46 0 1,0 4.92,0a2.46,2.46 0 1,0 -4.92,0M501.9,572.36a3.03,3.03 0 1,0 6.05,0a3.03,3.03 0 1,0 -6.05,0M555.4,638.75a3.74,3.74 0 1,0 7.49,0a3.74,3.74 0 1,0 -7.49,0M544.41,540.69a4.73,4.73 0 1,0 9.46,0a4.73,4.73 0 1,0 -9.46,0M477.06,566.11a4.62,4.62 0 1,0 9.24,0a4.62,4.62 0 1,0 -9.24,0M423.18,571.09a2.54,2.54 0 1,0 5.08,0a2.54,2.54 0 1,0 -5.08,0M545.37,613.45a3.26,3.26 0 1,0 6.53,0a3.26,3.26 0 1,0 -6.53,0M452.06,551.67a3.65,3.65 0 1,0 7.3,0a3.65,3.65 0 1,0 -7.3,0M428.53,639.04a3.8,3.8 0 1,0 7.6,0a3.8,3.8 0 1,0 -7.6,0M505.59,622.36a4.09,4.09 0 1,0 8.17,0a4.09,4.09 0 1,0 -8.17,0M472.8,543.86a4.47,4.47 0 1,0 8.93,0a4.47,4.47 0 1,0 -8.93,0M546.51,528.96a4.7,4.7 0 1,0 9.4,0a4.7,4.7 0 1,0 -9.4,0M437.16,577.33a3.61,3.61 0 1,0 7.22,0a3.61,3.61 0 1,0 -7.22,0M556.75,534.49a3.46,3.46 0 1,0 6.91,0a3.46,3.46 0 1,0 -6.91,0M484.66,574.86a3.2,3.2 0 1,0 6.4,0a3.2,3.2 0 1,0 -6.4,0M465.22,673.33a3.18,3.18 0 1,0 6.35,0a3.18,3.18 0 1,0 -6.35,0M460.74,567.61a3.11,3.11 0 1,0 6.22,0a3.11,3.11 0 1,0 -6.22,0M463.87,655.64a4.77,4.77 0 1,0 9.55,0a4.77,4.77 0 1,0 -9.55,0M475.1,638.75a4.02,4.02 0 1,0 8.04,0a4.02,4.02 0 1,0 -8.04,0M511.52,632.3a3.39,3.39 0 1,0 6.78,0a3.39,3.39 0 1,0 -6.78,0M456.15,615.29a3.45,3.45 0 1,0 6.89,0a3.45,3.45 0 1,0 -6.89,0M471.96,619.66a4.51,4.51 0 1,0 9.02,0a4.51,4.51 0 1,0 -9.02,0M493.46,665.17a3.61,3.61 0 1,0 7.22,0a3.61,3.61 0 1,0 -7.22,0M555.45,611.26a3.78,3.78 0 1,0 7.56,0a3.78,3.78 0 1,0 -7.56,0M474.53,541.1a3.64,3.64 0 1,0 7.29,0a3.64,3.64 0 1,0 -7.29,0M535.07,577.06a3.25,3.25 0 1,0 6.5,0a3.25,3.25 0 1,0 -6.5,0M564.47,530.66a3.48,3.48 0 1,0 6.96,0a3.48,3.48 0 1,0 -6.96,0M566.94,597.92a3,3 0 1,0 6,0a3,3 0 1,0 -6,0M488.28,689.02a4.03,4.03 0 1,0 8.05,0a4.03,4.03 0 1,0 -8.05,0M553.23,605.91a2.61,2.61 0 1,0 5.22,0a2.61,2.61 0 1,0 -5.22,0M476.72,682.46a3.33,3.33 0 1,0 6.66,0a3.33,3.33 0 1,0 -6.66,0M517.55,580.38a2.98,2.98 0 1,0 5.96,0a2.98,2.98 0 1,0 -5.96,0M427.39,554.46a3.73,3.73 0 1,0 7.46,0a3.73,3.73 0 1,0 -7.46,0M484.76,661.38a2.78,2.78 0 1,0 5.56,0a2.78,2.78 0 1,0 -5.56,0M442.76,600.25a4.66,4.66 0 1,0 9.32,0a4.66,4.66 0 1,0 -9.32,0M496.15,591.58a2.7,2.7 0 1,0 5.4,0a2.7,2.7 0 1,0 -5.4,0M420.62,551.02a3.17,3.17 0 1,0 6.34,0a3.17,3.17 0 1,0 -6.34,0M472.24,681.73a4.65,4.65 0 1,0 9.3,0a4.65,4.65 0 1,0 -9.3,0M529.17,618.05a3.75,3.75 0 1,0 7.51,0a3.75,3.75 0 1,0 -7.51,0M503.26,643.71a4.03,4.03 0 1,0 8.07,0a4.03,4.03 0 1,0 -8.07,0M519.02,556.19a3.57,3.57 0 1,0 7.15,0a3.57,3.57 0 1,0 -7.15,0M433.08,658.86a3.71,3.71 0 1,0 7.41,0a3.71,3.71 0 1,0 -7.41,0M512.1,644.07a4.52,4.52 0 1,0 9.05,0a4.52,4.52 0 1,0 -9.05,0M425.11,595.24a4.02,4.02 0 1,0 8.05,0a4.02,4.02 0 1,0 -8.05,0M547.17,591.93a2.67,2.67 0 1,0 5.35,0a2.67,2.67 0 1,0 -5.35,0M455.3,583.78a2.5,2.5 0 1,0 5.01,0a2.5,2.5 0 1,0 -5.01,0M431.04,585.1a2.65,2.65 0 1,0 5.29,0a2.65,2.65 0 1,0 -5.29,0M514.41,583.03a3.28,3.28 0 1,0 6.57,0a3.28,3.28 0 1,0 -6.57,0M511.42,544.74a2.79,2.79 0 1,0 5.59,0a2.79,2.79 0 1,0 -5.59,0M547.58,605.02a4.14,4.14 0 1,0 8.27,0a4.14,4.14 0 1,0 -8.27,0M566.03,550.88a3.31,3.31 0 1,0 6.62,0a3.31,3.31 0 1,0 -6.62,0M458.82,601.64a4.74,4.74 0 1,0 9.48,0a4.74,4.74 0 1,0 -9.48,0M511.4,670.87a4.03,4.03 0 1,0 8.06,0a4.03,4.03 0 1,0 -8.06,0M563.44,583.7a3.76,3.76 0 1,0 7.51,0a3.76,3.76 0 1,0 -7.51,0M470.98,539.81a4.72,4.72 0 1,0 9.45,0a4.72,4.72 0 1,0 -9.45,0M438.86,653.32a4.47,4.47 0 1,0 8.94,0a4.47,4.47 0 1,0 -8.94,0M471.22,549.99a3.75,3.75 0 1,0 7.5,0a3.75,3.75 0 1,0 -7.5,0M482.89,540.93a3.42,3.42 0 1,0 6.84,0a3.42,3.42 0 1,0 -6.84,0M554.32,630.34a3.75,3.75 0 1,0 7.5,0a3.75,3.75 0 1,0 -7.5,0M540.73,539.58a3.01,3.01 0 1,0 6.02,0a3.01,3.01 0 1,0 -6.02,0M493.96,574.99a3.81,3.81 0 1,0 7.63,0a3.81,3.81 0 1,0 -7.63,0M463.08,605.74a2.45,2.45 0 1,0 4.9,0a2.45,2.45 0 1,0 -4.9,0M413.94,545.45a3.05,3.05 0 1,0 6.11,0a3.05,3.05 0 1,0 -6.11,0M500.57,623.78a4.78,4.78 0 1,0 9.56,0a4.78,4.78 0 1,0 -9.56,0M445.19,661.69a4.04,4.04 0 1,0 8.07,0a4.04,4.04 0 1,0 -8.07,0M471.85,657.34a3.81,3.81 0 1,0 7.62,0a3.81,3.81 0 1,0 -7.62,0M438.1,684.57a3.13,3.13 0 1,0 6.26,0a3.13,3.13 0 1,0 -6.26,0M532.21,631.28a4.09,4.09 0 1,0 8.18,0a4.09,4.09 0 1,0 -8.18,0M441.38,590.76a4.54,4.54 0 1,0 9.09,0a4.54,4.54 0 1,0 -9.09,0" fill="#c4c4c4"/>
<path d="M546.03,551.97a2.41,2.41 0 1,0 4.82,0a2.41,2.41 0 1,0 -4.82,0M474.8,585.35a4.69,4.69 0 1,0 9.37,0a4.69,4.69 0 1,0 -9.37,0M439.5,586.59a4.69,4.69 0 1,0 9.39,0a4.69,4.69 0 1,0 -9.39,0M429.96,653.29a3.55,3.55 0 1,0 7.1,0a3.55,3.55 0 1,0 -7.1,0M442.75,616.12a3.93,3.93 0 1,0 7.85,0a3.93,3.93 0 1,0 -7.85,0M484.93,553.98a3.47,3.47 0 1,0 6.95,0a3.47,3.47 0 1,0 -6.95,0M436.66,660.34a2.61,2.61 0 1,0 5.22,0a2.61,2.61 0 1,0 -5.22,0M441.1,564.38a3.6,3.6 0 1,0 7.21,0a3.6,3.6 0 1,0 -7.21,0M446.22,612.85a4.61,4.61 0 1,0 9.23,0a4.61,4.61 0 1,0 -9.23,0M476.78,557.39a4.28,4.28 0 1,0 8.56,0a4.28,4.28 0 1,0 -8.56,0M556.73,546.98a2.74,2.74 0 1,0 5.49,0a2.74,2.74 0 1,0 -5.49,0M478.18,611.49a3.41,3.41 0 1,0 6.82,0a3.41,3.41 0 1,0 -6.82,0M466.61,535.87a2.45,2.45 0 1,0 4.89,0a2.45,2.45 0 1,0 -4.89,0M427.7,594.81a3.37,3.37 0 1,0 6.75,0a3.37,3.37 0 1,0 -6.75,0M462.25,618.18a3.89,3.89 0 1,0 7.78,0a3.89,3.89 0 1,0 -7.78,0M449.31,551.75a3.91,3.91 0 1,0 7.82,0a3.91,3.91 0 1,0 -7.82,0M551.2,639.16a3.84,3.84 0 1,0 7.67,0a3.84,3.84 0 1,0 -7.67,0M498,563.06a2.92,2.92 0 1,0 5.85,0a2.92,2.92 0 1,0 -5.85,0M525.83,607.66a4.14,4.14 0 1,0 8.28,0a4.14,4.14 0 1,0 -8.28,0M448.63,532.7a2.96,2.96 0 1,0 5.93,0a2.96,2.96 0 1,0 -5.93,0M469.16,604.95a4.24,4.24 0 1,0 8.48,0a4.24,4.24 0 1,0 -8.48,0M461.01,635.76a3.89,3.89 0 1,0 7.78,0a3.89,3.89 0 1,0 -7.78,0M448.67,583.62a4.53,4.53 0 1,0 9.06,0a4.53,4.53 0 1,0 -9.06,0M469.92,540.99a2.4,2.4 0 1,0 4.81,0a2.4,2.4 0 1,0 -4.81,0M465.3,595.85a4.45,4.45 0 1,0 8.9,0a4.45,4.45 0 1,0 -8.9,0M452.43,528.62a3.92,3.92 0 1,0 7.85,0a3.92,3.92 0 1,0 -7.85,0M478.1,575.77a4.28,4.28 0 1,0 8.57,0a4.28,4.28 0 1,0 -8.57,0M481.26,653.83a3.57,3.57 0 1,0 7.13,0a3.57,3.57 0 1,0 -7.13,0M463.52,572.58a3.37,3.37 0 1,0 6.75,0a3.37,3.37 0 1,0 -6.75,0M420.3,562.11a4.34,4.34 0 1,0 8.68,0a4.34,4.34 0 1,0 -8.68,0M530.97,556.91a3.21,3.21 0 1,0 6.42,0a3.21,3.21 0 1,0 -6.42,0M417.08,568.96a2.7,2.7 0 1,0 5.4,0a2.7,2.7 0 1,0 -5.4,0M456.55,542.25a3.67,3.67 0 1,0 7.34,0a3.67,3.67 0 1,0 -7.34,0M443.79,655.22a2.66,2.66 0 1,0 5.32,0a2.66,2.66 0 1,0 -5.32,0M480.47,646.57a4.16,4.16 0 1,0 8.32,0a4.16,4.16 0 1,0 -8.32,0M515.8,587.02a4.76,4.76 0 1,0 9.53,0a4.76,4.76 0 1,0 -9.53,0M531.98,587.29a4.37,4.37 0 1,0 8.75,0a4.37,4.37 0 1,0 -8.75,0M526.18,575.92a3.11,3.11 0 1,0 6.23,0a3.11,3.11 0 1,0 -6.23,0M459.96,576.47a4.28,4.28 0 1,0 8.56,0a4.28,4.28 0 1,0 -8.56,0M455.28,569.3a3.3,3.3 0 1,0 6.59,0a3.3,3.3 0 1,0 -6.59,0M463.79,527.29a2.49,2.49 0 1,0 4.98,0a2.49,2.49 0 1,0 -4.98,0M471.94,567.83a4,4 0 1,0 8.01,0a4,4 0 1,0 -8.01,0M475.91,528.57a3.39,3.39 0 1,0 6.79,0a3.39,3.39 0 1,0 -6.79,0M547.67,639.46a2.68,2.68 0 1,0 5.37,0a2.68,2.68 0 1,0 -5.37,0M505.74,617.64a3.96,3.96 0 1,0 7.92,0a3.96,3.96 0 1,0 -7.92,0M472.94,531.39a3.43,3.43 0 1,0 6.87,0a3.43,3.43 0 1,0 -6.87,0M526.17,558.89a3.87,3.87 0 1,0 7.73,0a3.87,3.87 0 1,0 -7.73,0M447.02,577.24a4.57,4.57 0 1,0 9.14,0a4.57,4.57 0 1,0 -9.14,0M450.08,609.77a3.29,3.29 0 1,0 6.59,0a3.29,3.29 0 1,0 -6.59,0M438.65,591.46a4.03,4.03 0 1,0 8.06,0a4.03,4.03 0 1,0 -8.06,0M556.53,549.54a2.68,2.68 0 1,0 5.35,0a2.68,2.68 0 1,0 -5.35,0M493.47,633.05a4.72,4.72 0 1,0 9.44,0a4.72,4.72 0 1,0 -9.44,0M495.99,672.39a3.04,3.04 0 1,0 6.07,0a3.04,3.04 0 1,0 -6.07,0M455.05,611.58a3.93,3.93 0 1,0 7.87,0a3.93,3.93 0 1,0 -7.87,0M455.89,543.28a3.9,3.9 0 1,0 7.79,0a3.9,3.9 0 1,0 -7.79,0M535.53,591.19a4.72,4.72 0 1,0 9.44,0a4.72,4.72 0 1,0 -9.44,0M434.71,574.66a3.9,3.9 0 1,0 7.8,0a3.9,3.9 0 1,0 -7.8,0M513.04,541.42a4.11,4.11 0 1,0 8.22,0a4.11,4.11 0 1,0 -8.22,0M440.46,547.83a2.86,2.86 0 1,0 5.72,0a2.86,2.86 0 1,0 -5.72,0M538.73,634.83a3.17,3.17 0 1,0 6.33,0a3.17,3.17 0 1,0 -6.33,0M447.76,569.87a4.58,4.58 0 1,0 9.17,0a4.58,4.58 0 1,0 -9.17,0M545.09,622.01a2.81,2.81 0 1,0 5.62,0a2.81,2.81 0 1,0 -5.62,0M522.78,659.95a3.25,3.25 0 1,0 6.51,0a3.25,3.25 0 1,0 -6.51,0M514.42,585.83a3.03,3.03 0 1,0 6.06,0a3.03,3.03 0 1,0 -6.06,0M448.92,560.66a3.51,3.51 0 1,0 7.02,0a3.51,3.51 0 1,0 -7.02,0M569.69,648.56a2.79,2.79 0 1,0 5.57,0a2.79,2.79 0 1,0 -5.57,0M513.71,600.47a3.02,3.02 0 1,0 6.05,0a3.02,3.02 0 1,0 -6.05,0M524.27,631.85a4.44,4.44 0 1,0 8.88,0a4.44,4.44 0 1,0 -8.88,0M525.75,610.88a3.65,3.65 0 1,0 7.3,0a3.65,3.65 0 1,0 -7.3,0M509.06,633.27a3.06,3.06 0 1,0 6.12,0a3.06,3.06 0 1,0 -6.12,0M511.9,639.93a2.66,2.66 0 1,0 5.32,0a2.66,2.66 0 1,0 -5.32,0M486.71,663.25a3.26,3.26 0 1,0 6.52,0a3.26,3.26 0 1,0 -6.52,0M513.25,637.14a2.77,2.77 0 1,0 5.53,0a2.77,2.77 0 1,0 -5.53,0M556.08,660.15a2.87,2.87 0 1,0 5.75,0a2.87,2.87 0 1,0 -5.75,0M518.56,551.64a3.93,3.93 0 1,0 7.85,0a3.93,3.93 0 1,0 -7.85,0M462.83,673.3a3.22,3.22 0 1,0 6.44,0a3.22,3.22 0 1,0 -6.44,0M462.05,576.03a2.71,2.71 0 1,0 5.41,0a2.71,2.71 0 1,0 -5.41,0M500.6,565.48a2.84,2.84 0 1,0 5.69,0a2.84,2.84 0 1,0 -5.69,0M425.57,603.76a4.13,4.13 0 1,0 8.25,0a4.13,4.13 0 1,0 -8.25,0M523.46,601.66a4.59,4.59 0 1,0 9.18,0a4.59,4.59 0 1,0 -9.18,0M537.6,620.63a3.07,3.07 0 1,0 6.14,0a3.07,3.07 0 1,0 -6.14,0M508.95,635.66a4.49,4.49 0 1,0 8.97,0a4.49,4.49 0 1,0 -8.97,0M555.27,663.62a4.05,4.05 0 1,0 8.11,0a4.05,4.05 0 1,0 -8.11,0M469.55,615.94a4.25,4.25 0 1,0 8.51,0a4.25,4.25 0 1,0 -8.51,0M443.83,622.91a4.52,4.52 0 1,0 9.05,0a4.52,4.52 0 1,0 -9.05,0M438.3,551.67a3.27,3.27 0 1,0 6.54,0a3.27,3.27 0 1,0 -6.54,0M483.1,534a3.83,3.83 0 1,0 7.67,0a3.83,3.83 0 1,0 -7.67,0M441.71,684.69a3.42,3.42 0 1,0 6.84,0a3.42,3.42 0 1,0 -6.84,0M523.82,535.47a3.75,3.75 0 1,0 7.51,0a3.75,3.75 0 1,0 -7.51,0M468.03,589.06a3.56,3.56 0 1,0 7.11,0a3.56,3.56 0 1,0 -7.11,0M555.36,649.93a2.82,2.82 0 1,0 5.64,0a2.82,2.82 0 1,0 -5.64,0M559.48,612a3.2,3.2 0 1,0 6.41,0a3.2,3.2 0 1,0 -6.41,0M558.68,604.52a3,3 0 1,0 5.99,0a3,3 0 1,0 -5.99,0M501.94,672.65a3.65,3.65 0 1,0 7.3,0a3.65,3.65 0 1,0 -7.3,0M446.07,667.65a4.27,4.27 0 1,0 8.54,0a4.27,4.27 0 1,0 -8.54,0M561.93,651.34a2.44,2.44 0 1,0 4.88,0a2.44,2.44 0 1,0 -4.88,0M563.52,658.16a3.36,3.36 0 1,0 6.72,0a3.36,3.36 0 1,0 -6.72,0M545.34,647.19a4.36,4.36 0 1,0 8.71,0a4.36,4.36 0 1,0 -8.71,0M512.83,566.87a3.91,3.91 0 1,0 7.82,0a3.91,3.91 0 1,0 -7.82,0M450.84,650.84a4.42,4.42 0 1,0 8.83,0a4.42,4.42 0 1,0 -8.83,0M524.37,601.71a3.87,3.87 0 1,0 7.74,0a3.87,3.87 0 1,0 -7.74,0M481.96,601.18a3.1,3.1 0 1,0 6.21,0a3.1,3.1 0 1,0 -6.21,0M469.29,560.82a3.18,3.18 0 1,0 6.35,0a3.18,3.18 0 1,0 -6.35,0M547.61,669.09a2.89,2.89 0 1,0 5.78,0a2.89,2.89 0 1,0 -5.78,0M447.71,679.41a4.61,4.61 0 1,0 9.22,0a4.61,4.61 0 1,0 -9.22,0M458.98,694.15a3.63,3.63 0 1,0 7.26,0a3.63,3.63 0 1,0 -7.26,0M437.81,608.32a4.49,4.49 0 1,0 8.98,0a4.49,4.49 0 1,0 -8.98,0M515.95,538.86a4.33,4.33 0 1,0 8.66,0a4.33,4.33 0 1,0 -8.66,0M533.68,553.84a2.61,2.61 0 1,0 5.22,0a2.61,2.61 0 1,0 -5.22,0M434.36,584.87a4.55,4.55 0 1,0 9.11,0a4.55,4.55 0 1,0 -9.11,0M508.43,596.32a2.77,2.77 0 1,0 5.55,0a2.77,2.77 0 1,0 -5.55,0M442.87,608.32a4.62,4.62 0 1,0 9.24,0a4.62,4.62 0 1,0 -9.24,0M564.21,598.44a4.06,4.06 0 1,0 8.12,0a4.06,4.06 0 1,0 -8.12,0M438.25,689.48a2.82,2.82 0 1,0 5.64,0a2.82,2.82 0 1,0 -5.64,0M447.94,530.01a3.23,3.23 0 1,0 6.47,0a3.23,3.23 0 1,0 -6.47,0M429.23,620a3.91,3.91 0 1,0 7.82,0a3.91,3.91 0 1,0 -7.82,0M480.89,539.58a3.47,3.47 0 1,0 6.94,0a3.47,3.47 0 1,0 -6.94,0M488.68,659.4a2.42,2.42 0 1,0 4.84,0a2.42,2.42 0 1,0 -4.84,0M559.27,634.51a3.97,3.97 0 1,0 7.93,0a3.97,3.97 0 1,0 -7.93,0M526.35,574.83a3.31,3.31 0 1,0 6.62,0a3.31,3.31 0 1,0 -6.62,0M498.63,585.35a2.97,2.97 0 1,0 5.95,0a2.97,2.97 0 1,0 -5.95,0M541.24,530.12a3.86,3.86 0 1,0 7.72,0a3.86,3.86 0 1,0 -7.72,0M455.54,621.4a3.55,3.55 0 1,0 7.11,0a3.55,3.55 0 1,0 -7.11,0M514.03,572.86a3.67,3.67 0 1,0 7.35,0a3.67,3.67 0 1,0 -7.35,0M480.51,534.62a3.73,3.73 0 1,0 7.46,0a3.73,3.73 0 1,0 -7.46,0M447.71,536.36a4.1,4.1 0 1,0 8.2,0a4.1,4.1 0 1,0 -8.2,0M433.18,652.53a4.33,4.33 0 1,0 8.66,0a4.33,4.33 0 1,0 -8.66,0M448.03,562.14a4.13,4.13 0 1,0 8.26,0a4.13,4.13 0 1,0 -8.26,0M410.06,539.12a2.84,2.84 0 1,0 5.69,0a2.84,2.84 0 1,0 -5.69,0M503.15,564.1a4.68,4.68 0 1,0 9.35,0a4.68,4.68 0 1,0 -9.35,0M412.56,549.71a4.15,4.15 0 1,0 8.29,0a4.15,4.15 0 1,0 -8.29,0M461.68,603.06a3.15,3.15 0 1,0 6.31,0a3.15,3.15 0 1,0 -6.31,0M451.87,608.7a3.26,3.26 0 1,0 6.51,0a3.26,3.26 0 1,0 -6.51,0M511.27,584.22a4.3,4.3 0 1,0 8.61,0a4.3,4.3 0 1,0 -8.61,0M456.64,655.73a3.62,3.62 0 1,0 7.24,0a3.62,3.62 0 1,0 -7.24,0M556.24,663.93a2.76,2.76 0 1,0 5.52,0a2.76,2.76 0 1,0 -5.52,0M429.32,647.97a4.14,4.14 0 1,0 8.29,0a4.14,4.14 0 1,0 -8.29,0M499.05,686.82a2.58,2.58 0 1,0 5.15,0a2.58,2.58 0 1,0 -5.15,0M459.1,550.7a3.71,3.71 0 1,0 7.42,0a3.71,3.71 0 1,0 -7.42,0M505.83,533.56a4.13,4.13 0 1,0 8.25,0a4.13,4.13 0 1,0 -8.25,0M460.24,524.32a3.18,3.18 0 1,0 6.37,0a3.18,3.18 0 1,0 -6.37,0" fill="#c9c9c9"/>
<path d="M521.42,611.47a3.5,3.5 0 1,0 6.99,0a3.5,3.5 0 1,0 -6.99,0M496.61,688.88a2.57,2.57 0 1,0 5.14,0a2.57,2.57 0 1,0 -5.14,0M505.72,604.08a4.44,4.44 0 1,0 8.87,0a4.44,4.44 0 1,0 -8.87,0M493.56,545.58a4.22,4.22 0 1,0 8.44,0a4.22,4.22 0 1,0 -8.44,0M455.2,634.22a4.07,4.07 0 1,0 8.14,0a4.07,4.07 0 1,0 -8.14,0M487.55,649.96a4.3,4.3 0 1,0 8.59,0a4.3,4.3 0 1,0 -8.59,0M485.21,636.02a4.4,4.4 0 1,0 8.81,0a4.4,4.4 0 1,0 -8.81,0M539.47,649.13a3.66,3.66 0 1,0 7.33,0a3.66,3.66 0 1,0 -7.33,0M447.35,568.86a3.62,3.62 0 1,0 7.24,0a3.62,3.62 0 1,0 -7.24,0M499.91,655.13a3.46,3.46 0 1,0 6.93,0a3.46,3.46 0 1,0 -6.93,0M425.74,598.36a4.01,4.01 0 1,0 8.02,0a4.01,4.01 0 1,0 -8.02,0M498.77,598.07a3.32,3.32 0 1,0 6.64,0a3.32,3.32 0 1,0 -6.64,0M493.3,572.17a2.67,2.67 0 1,0 5.34,0a2.67,2.67 0 1,0 -5.34,0M560.47,560.22a2.6,2.6 0 1,0 5.2,0a2.6,2.6 0 1,0 -5.2,0M511.68,662.57a3.86,3.86 0 1,0 7.72,0a3.86,3.86 0 1,0 -7.72,0M443.12,566.63a3.49,3.49 0 1,0 6.98,0a3.49,3.49 0 1,0 -6.98,0M434.38,581.37a4.79,4.79 0 1,0 9.57,0a4.79,4.79 0 1,0 -9.57,0M437.38,567.45a3.03,3.03 0 1,0 6.06,0a3.03,3.03 0 1,0 -6.06,0M436.47,579.29a3.54,3.54 0 1,0 7.08,0a3.54,3.54 0 1,0 -7.08,0M490.89,555.3a2.62,2.62 0 1,0 5.24,0a2.62,2.62 0 1,0 -5.24,0M542.75,545.09a3.35,3.35 0 1,0 6.69,0a3.35,3.35 0 1,0 -6.69,0M455.73,631.86a3.81,3.81 0 1,0 7.61,0a3.81,3.81 0 1,0 -7.61,0M530.97,620.93a4.38,4.38 0 1,0 8.77,0a4.38,4.38 0 1,0 -8.77,0M530.6,609.23a3.98,3.98 0 1,0 7.96,0a3.98,3.98 0 1,0 -7.96,0M508.78,634.2a3.84,3.84 0 1,0 7.68,0a3.84,3.84 0 1,0 -7.68,0M530.34,669.27a4.66,4.66 0 1,0 9.31,0a4.66,4.66 0 1,0 -9.31,0M529.84,564.62a3.34,3.34 0 1,0 6.69,0a3.34,3.34 0 1,0 -6.69,0M458.89,664.84a2.71,2.71 0 1,0 5.41,0a2.71,2.71 0 1,0 -5.41,0M426.47,621.09a3.95,3.95 0 1,0 7.9,0a3.95,3.95 0 1,0 -7.9,0M480.01,655.82a2.57,2.57 0 1,0 5.14,0a2.57,2.57 0 1,0 -5.14,0M560.11,559.9a4.07,4.07 0 1,0 8.14,0a4.07,4.07 0 1,0 -8.14,0M539.86,651.41a2.89,2.89 0 1,0 5.79,0a2.89,2.89 0 1,0 -5.79,0M506.29,593.59a2.84,2.84 0 1,0 5.68,0a2.84,2.84 0 1,0 -5.68,0M480.35,538.86a3.07,3.07 0 1,0 6.14,0a3.07,3.07 0 1,0 -6.14,0M464.45,690.05a3.75,3.75 0 1,0 7.49,0a3.75,3.75 0 1,0 -7.49,0M466.42,679.6a3.92,3.92 0 1,0 7.83,0a3.92,3.92 0 1,0 -7.83,0M558.77,565.3a4.56,4.56 0 1,0 9.11,0a4.56,4.56 0 1,0 -9.11,0M463.1,568.04a3.03,3.03 0 1,0 6.06,0a3.03,3.03 0 1,0 -6.06,0M527.66,625.77a2.46,2.46 0 1,0 4.92,0a2.46,2.46 0 1,0 -4.92,0M427.28,608.08a4.33,4.33 0 1,0 8.65,0a4.33,4.33 0 1,0 -8.65,0M447.22,530.96a3.56,3.56 0 1,0 7.11,0a3.56,3.56 0 1,0 -7.11,0M508.91,639.8a4.27,4.27 0 1,0 8.54,0a4.27,4.27 0 1,0 -8.54,0M423.58,602.26a2.65,2.65 0 1,0 5.29,0a2.65,2.65 0 1,0 -5.29,0M413.63,571.85a2.52,2.52 0 1,0 5.04,0a2.52,2.52 0 1,0 -5.04,0M536.4,638.13a2.65,2.65 0 1,0 5.31,0a2.65,2.65 0 1,0 -5.31,0M471.57,617.65a3.97,3.97 0 1,0 7.93,0a3.97,3.97 0 1,0 -7.93,0M556.87,595.08a3.37,3.37 0 1,0 6.75,0a3.37,3.37 0 1,0 -6.75,0M454.13,612.48a2.66,2.66 0 1,0 5.32,0a2.66,2.66 0 1,0 -5.32,0M506.49,633.06a4.57,4.57 0 1,0 9.14,0a4.57,4.57 0 1,0 -9.14,0M526.15,679.66a4.52,4.52 0 1,0 9.04,0a4.52,4.52 0 1,0 -9.04,0M481.74,597.69a2.41,2.41 0 1,0 4.82,0a2.41,2.41 0 1,0 -4.82,0M422.25,598.34a2.5,2.5 0 1,0 5,0a2.5,2.5 0 1,0 -5,0M459.36,648.06a2.53,2.53 0 1,0 5.06,0a2.53,2.53 0 1,0 -5.06,0M482.19,612.53a3,3 0 1,0 6.01,0a3,3 0 1,0 -6.01,0M516.24,575.24a4.19,4.19 0 1,0 8.39,0a4.19,4.19 0 1,0 -8.39,0M472.73,561.85a4.59,4.59 0 1,0 9.18,0a4.59,4.59 0 1,0 -9.18,0M512.89,643.89a2.56,2.56 0 1,0 5.12,0a2.56,2.56 0 1,0 -5.12,0M503.67,584.3a4.51,4.51 0 1,0 9.02,0a4.51,4.51 0 1,0 -9.02,0M439.14,539.4a4.68,4.68 0 1,0 9.36,0a4.68,4.68 0 1,0 -9.36,0M557.45,654.02a4.38,4.38 0 1,0 8.76,0a4.38,4.38 0 1,0 -8.76,0M512.34,570.72a2.72,2.72 0 1,0 5.44,0a2.72,2.72 0 1,0 -5.44,0M475.25,597.35a3.23,3.23 0 1,0 6.46,0a3.23,3.23 0 1,0 -6.46,0M473.12,589.88a3.41,3.41 0 1,0 6.83,0a3.41,3.41 0 1,0 -6.83,0M427.39,625.5a3.24,3.24 0 1,0 6.47,0a3.24,3.24 0 1,0 -6.47,0M461.49,553.2a2.8,2.8 0 1,0 5.59,0a2.8,2.8 0 1,0 -5.59,0M436,611.16a4.15,4.15 0 1,0 8.3,0a4.15,4.15 0 1,0 -8.3,0M455.73,588.18a4.39,4.39 0 1,0 8.77,0a4.39,4.39 0 1,0 -8.77,0M464.24,623.43a2.9,2.9 0 1,0 5.81,0a2.9,2.9 0 1,0 -5.81,0M417.66,571.73a3.79,3.79 0 1,0 7.58,0a3.79,3.79 0 1,0 -7.58,0M537.84,549.39a4,4 0 1,0 8.01,0a4,4 0 1,0 -8.01,0M429.15,607.46a3.56,3.56 0 1,0 7.12,0a3.56,3.56 0 1,0 -7.12,0M496.88,673.51a2.78,2.78 0 1,0 5.57,0a2.78,2.78 0 1,0 -5.57,0M462.22,564.33a4.38,4.38 0 1,0 8.77,0a4.38,4.38 0 1,0 -8.77,0M568.78,535.04a3.36,3.36 0 1,0 6.71,0a3.36,3.36 0 1,0 -6.71,0M498.78,591.92a3.36,3.36 0 1,0 6.71,0a3.36,3.36 0 1,0 -6.71,0M511.36,643.78a2.91,2.91 0 1,0 5.82,0a2.91,2.91 0 1,0 -5.82,0M435.14,526a4.59,4.59 0 1,0 9.19,0a4.59,4.59 0 1,0 -9.19,0M500.55,622.68a3.59,3.59 0 1,0 7.19,0a3.59,3.59 0 1,0 -7.19,0M559.05,599.14a4.03,4.03 0 1,0 8.06,0a4.03,4.03 0 1,0 -8.06,0M520.87,541.13a2.92,2.92 0 1,0 5.85,0a2.92,2.92 0 1,0 -5.85,0M560.46,607.5a3.29,3.29 0 1,0 6.58,0a3.29,3.29 0 1,0 -6.58,0M464.48,612.17a2.63,2.63 0 1,0 5.25,0a2.63,2.63 0 1,0 -5.25,0M455.86,625.04a3.53,3.53 0 1,0 7.06,0a3.53,3.53 0 1,0 -7.06,0M431.02,668.14a4.64,4.64 0 1,0 9.28,0a4.64,4.64 0 1,0 -9.28,0M428.16,599.28a4.62,4.62 0 1,0 9.24,0a4.62,4.62 0 1,0 -9.24,0M470.34,523.28a3.49,3.49 0 1,0 6.97,0a3.49,3.49 0 1,0 -6.97,0M467.8,578.69a2.83,2.83 0 1,0 5.67,0a2.83,2.83 0 1,0 -5.67,0M527.48,571.82a3.46,3.46 0 1,0 6.92,0a3.46,3.46 0 1,0 -6.92,0M443.56,550.77a4.39,4.39 0 1,0 8.78,0a4.39,4.39 0 1,0 -8.78,0M480.72,611.49a3.26,3.26 0 1,0 6.51,0a3.26,3.26 0 1,0 -6.51,0M551.53,622.33a3.1,3.1 0 1,0 6.2,0a3.1,3.1 0 1,0 -6.2,0M495.17,615.37a2.98,2.98 0 1,0 5.97,0a2.98,2.98 0 1,0 -5.97,0M435.04,575.11a2.45,2.45 0 1,0 4.89,0a2.45,2.45 0 1,0 -4.89,0M525.85,527.47a3.52,3.52 0 1,0 7.03,0a3.52,3.52 0 1,0 -7.03,0M504.73,655.41a2.69,2.69 0 1,0 5.39,0a2.69,2.69 0 1,0 -5.39,0M471.09,594.5a3.35,3.35 0 1,0 6.7,0a3.35,3.35 0 1,0 -6.7,0M563.67,632.49a2.48,2.48 0 1,0 4.96,0a2.48,2.48 0 1,0 -4.96,0M541.3,525.79a3,3 0 1,0 6,0a3,3 0 1,0 -6,0M493.36,596.86a3.09,3.09 0 1,0 6.18,0a3.09,3.09 0 1,0 -6.18,0M457.95,635.05a2.54,2.54 0 1,0 5.09,0a2.54,2.54 0 1,0 -5.09,0M534.72,547.72a3.85,3.85 0 1,0 7.71,0a3.85,3.85 0 1,0 -7.71,0M508.33,671.21a4.17,4.17 0 1,0 8.35,0a4.17,4.17 0 1,0 -8.35,0M423.1,592.7a3.59,3.59 0 1,0 7.19,0a3.59,3.59 0 1,0 -7.19,0M476.01,659.37a3.31,3.31 0 1,0 6.62,0a3.31,3.31 0 1,0 -6.62,0M478.28,682.03a2.46,2.46 0 1,0 4.92,0a2.46,2.46 0 1,0 -4.92,0M557.02,624.31a2.81,2.81 0 1,0 5.62,0a2.81,2.81 0 1,0 -5.62,0M437.62,551.98a3.25,3.25 0 1,0 6.5,0a3.25,3.25 0 1,0 -6.5,0M536.57,574.18a4.6,4.6 0 1,0 9.2,0a4.6,4.6 0 1,0 -9.2,0M471.91,536.99a4,4 0 1,0 8.01,0a4,4 0 1,0 -8.01,0M433.28,567.02a4.46,4.46 0 1,0 8.92,0a4.46,4.46 0 1,0 -8.92,0M433.1,587.09a4.73,4.73 0 1,0 9.46,0a4.73,4.73 0 1,0 -9.46,0M454.83,619.69a3.2,3.2 0 1,0 6.41,0a3.2,3.2 0 1,0 -6.41,0M550.49,579.39a4.71,4.71 0 1,0 9.41,0a4.71,4.71 0 1,0 -9.41,0M531.29,640.46a3.7,3.7 0 1,0 7.4,0a3.7,3.7 0 1,0 -7.4,0M526.22,545.31a3.34,3.34 0 1,0 6.67,0a3.34,3.34 0 1,0 -6.67,0M473.57,681.22a2.84,2.84 0 1,0 5.67,0a2.84,2.84 0 1,0 -5.67,0M528.84,646.67a3.37,3.37 0 1,0 6.74,0a3.37,3.37 0 1,0 -6.74,0M518.84,622.14a2.67,2.67 0 1,0 5.34,0a2.67,2.67 0 1,0 -5.34,0M532.67,636.46a4.5,4.5 0 1,0 9,0a4.5,4.5 0 1,0 -9,0M536.01,581.14a3.4,3.4 0 1,0 6.8,0a3.4,3.4 0 1,0 -6.8,0M509.11,558.83a3.24,3.24 0 1,0 6.48,0a3.24,3.24 0 1,0 -6.48,0M555.19,573.68a4.08,4.08 0 1,0 8.17,0a4.08,4.08 0 1,0 -8.17,0M502.12,571.11a2.51,2.51 0 1,0 5.02,0a2.51,2.51 0 1,0 -5.02,0M478.8,692.61a4.75,4.75 0 1,0 9.5,0a4.75,4.75 0 1,0 -9.5,0M443.21,601.23a4.17,4.17 0 1,0 8.33,0a4.17,4.17 0 1,0 -8.33,0M539.39,543.38a3.9,3.9 0 1,0 7.81,0a3.9,3.9 0 1,0 -7.81,0M535.68,543.83a3.37,3.37 0 1,0 6.74,0a3.37,3.37 0 1,0 -6.74,0M430.33,609.02a4.32,4.32 0 1,0 8.64,0a4.32,4.32 0 1,0 -8.64,0M552.19,628.5a3.27,3.27 0 1,0 6.53,0a3.27,3.27 0 1,0 -6.53,0M453.81,609.04a2.87,2.87 0 1,0 5.74,0a2.87,2.87 0 1,0 -5.74,0" fill="#bcbcbc"/>
<path d="M519.9,619.29a3.36,3.36 0 1,0 6.72,0a3.36,3.36 0 1,0 -6.72,0M572.4,602.63a3.15,3.15 0 1,0 6.3,0a3.15,3.15 0 1,0 -6.3,0M484.15,579.72a3.9,3.9 0 1,0 7.8,0a3.9,3.9 0 1,0 -7.8,0M564.33,648.32a3.36,3.36 0 1,0 6.73,0a3.36,3.36 0 1,0 -6.73,0M483.28,636.54a3.98,3.98 0 1,0 7.95,0a3.98,3.98 0 1,0 -7.95,0M532.76,577.62a4.4,4.4 0 1,0 8.8,0a4.4,4.4 0 1,0 -8.8,0M555.2,637.72a4.39,4.39 0 1,0 8.77,0a4.39,4.39 0 1,0 -8.77,0M539.22,550.18a3.89,3.89 0 1,0 7.77,0a3.89,3.89 0 1,0 -7.77,0M425.25,530.43a4.28,4.28 0 1,0 8.56,0a4.28,4.28 0 1,0 -8.56,0M481.46,614.64a3.62,3.62 0 1,0 7.24,0a3.62,3.62 0 1,0 -7.24,0M556.03,555.58a2.73,2.73 0 1,0 5.46,0a2.73,2.73 0 1,0 -5.46,0M441.61,689.52a4.52,4.52 0 1,0 9.05,0a4.52,4.52 0 1,0 -9.05,0M495.09,611.34a4.08,4.08 0 1,0 8.16,0a4.08,4.08 0 1,0 -8.16,0M494.65,556.17a3.6,3.6 0 1,0 7.2,0a3.6,3.6 0 1,0 -7.2,0M492.78,563.28a2.66,2.66 0 1,0 5.31,0a2.66,2.66 0 1,0 -5.31,0M542.7,596.59a3.71,3.71 0 1,0 7.42,0a3.71,3.71 0 1,0 -7.42,0M511.25,676.54a2.79,2.79 0 1,0 5.58,0a2.79,2.79 0 1,0 -5.58,0M493.7,653.45a4.23,4.23 0 1,0 8.47,0a4.23,4.23 0 1,0 -8.47,0M566.19,586.66a3.74,3.74 0 1,0 7.48,0a3.74,3.74 0 1,0 -7.48,0M532.37,560.61a3.59,3.59 0 1,0 7.17,0a3.59,3.59 0 1,0 -7.17,0M428.68,605.56a3.05,3.05 0 1,0 6.09,0a3.05,3.05 0 1,0 -6.09,0M518.73,643.02a3.1,3.1 0 1,0 6.2,0a3.1,3.1 0 1,0 -6.2,0M491.58,602.39a4.24,4.24 0 1,0 8.48,0a4.24,4.24 0 1,0 -8.48,0M459.1,534.73a2.44,2.44 0 1,0 4.88,0a2.44,2.44 0 1,0 -4.88,0M481.4,665.83a4.79,4.79 0 1,0 9.57,0a4.79,4.79 0 1,0 -9.57,0M523.72,560.73a3.35,3.35 0 1,0 6.69,0a3.35,3.35 0 1,0 -6.69,0M446.64,605.7a2.69,2.69 0 1,0 5.37,0a2.69,2.69 0 1,0 -5.37,0M513.29,532.83a3.72,3.72 0 1,0 7.44,0a3.72,3.72 0 1,0 -7.44,0M481.76,578.84a3.43,3.43 0 1,0 6.85,0a3.43,3.43 0 1,0 -6.85,0M439.9,522.99a3.32,3.32 0 1,0 6.64,0a3.32,3.32 0 1,0 -6.64,0M556,588.08a3.44,3.44 0 1,0 6.87,0a3.44,3.44 0 1,0 -6.87,0M475.81,655.8a4.72,4.72 0 1,0 9.45,0a4.72,4.72 0 1,0 -9.45,0M486.61,532.46a4.73,4.73 0 1,0 9.47,0a4.73,4.73 0 1,0 -9.47,0M569.39,538.85a2.6,2.6 0 1,0 5.21,0a2.6,2.6 0 1,0 -5.21,0M494.11,623.5a3.03,3.03 0 1,0 6.05,0a3.03,3.03 0 1,0 -6.05,0M444.59,563.52a4.09,4.09 0 1,0 8.18,0a4.09,4.09 0 1,0 -8.18,0M456.3,523.29a4.52,4.52 0 1,0 9.05,0a4.52,4.52 0 1,0 -9.05,0M526.7,584.11a2.88,2.88 0 1,0 5.75,0a2.88,2.88 0 1,0 -5.75,0M462.01,552.53a2.48,2.48 0 1,0 4.95,0a2.48,2.48 0 1,0 -4.95,0M485.75,585.97a2.86,2.86 0 1,0 5.73,0a2.86,2.86 0 1,0 -5.73,0M448.4,631.1a2.5,2.5 0 1,0 5,0a2.5,2.5 0 1,0 -5,0M443.84,604.27a4.69,4.69 0 1,0 9.38,0a4.69,4.69 0 1,0 -9.38,0M469.71,564.24a4.36,4.36 0 1,0 8.71,0a4.36,4.36 0 1,0 -8.71,0M504.86,610.82a4.21,4.21 0 1,0 8.41,0a4.21,4.21 0 1,0 -8.41,0M495.99,548.1a4.52,4.52 0 1,0 9.04,0a4.52,4.52 0 1,0 -9.04,0M418.69,536.62a4.77,4.77 0 1,0 9.54,0a4.77,4.77 0 1,0 -9.54,0M484.23,665.69a4.59,4.59 0 1,0 9.19,0a4.59,4.59 0 1,0 -9.19,0M467.83,674.09a3.85,3.85 0 1,0 7.69,0a3.85,3.85 0 1,0 -7.69,0M541.68,665.64a4.03,4.03 0 1,0 8.06,0a4.03,4.03 0 1,0 -8.06,0M489.67,605.75a2.64,2.64 0 1,0 5.29,0a2.64,2.64 0 1,0 -5.29,0M539.46,634.5a4.15,4.15 0 1,0 8.29,0a4.15,4.15 0 1,0 -8.29,0M415.43,544.85a2.61,2.61 0 1,0 5.23,0a2.61,2.61 0 1,0 -5.23,0M546.32,527.17a3.15,3.15 0 1,0 6.31,0a3.15,3.15 0 1,0 -6.31,0M435.36,558.36a4.65,4.65 0 1,0 9.31,0a4.65,4.65 0 1,0 -9.31,0M456.98,563.92a3.98,3.98 0 1,0 7.96,0a3.98,3.98 0 1,0 -7.96,0M570.15,602.5a4.23,4.23 0 1,0 8.47,0a4.23,4.23 0 1,0 -8.47,0M482.86,564.79a2.9,2.9 0 1,0 5.8,0a2.9,2.9 0 1,0 -5.8,0M466.72,655.96a2.95,2.95 0 1,0 5.9,0a2.95,2.95 0 1,0 -5.9,0M443.08,571.37a3.4,3.4 0 1,0 6.8,0a3.4,3.4 0 1,0 -6.8,0M467.37,527.93a2.95,2.95 0 1,0 5.89,0a2.95,2.95 0 1,0 -5.89,0M554.9,625.62a3.84,3.84 0 1,0 7.69,0a3.84,3.84 0 1,0 -7.69,0M516.4,554.63a2.88,2.88 0 1,0 5.76,0a2.88,2.88 0 1,0 -5.76,0M506.78,609.94a4.35,4.35 0 1,0 8.7,0a4.35,4.35 0 1,0 -8.7,0M484.93,615.56a4.43,4.43 0 1,0 8.85,0a4.43,4.43 0 1,0 -8.85,0M531.25,602.5a2.82,2.82 0 1,0 5.64,0a2.82,2.82 0 1,0 -5.64,0M449.85,618.31a4.05,4.05 0 1,0 8.09,0a4.05,4.05 0 1,0 -8.09,0M469.85,626.78a4.58,4.58 0 1,0 9.16,0a4.58,4.58 0 1,0 -9.16,0M511.38,643.14a3.53,3.53 0 1,0 7.07,0a3.53,3.53 0 1,0 -7.07,0M533.18,646.43a2.66,2.66 0 1,0 5.31,0a2.66,2.66 0 1,0 -5.31,0M533.65,626.92a4.44,4.44 0 1,0 8.89,0a4.44,4.44 0 1,0 -8.89,0M442.52,644.33a2.8,2.8 0 1,0 5.6,0a2.8,2.8 0 1,0 -5.6,0M562.16,656.35a4.29,4.29 0 1,0 8.58,0a4.29,4.29 0 1,0 -8.58,0M555.42,608.91a4.76,4.76 0 1,0 9.52,0a4.76,4.76 0 1,0 -9.52,0M460.06,547.14a3.99,3.99 0 1,0 7.98,0a3.99,3.99 0 1,0 -7.98,0M529.48,549.68a4.05,4.05 0 1,0 8.11,0a4.05,4.05 0 1,0 -8.11,0M539.33,650.37a3.06,3.06 0 1,0 6.11,0a3.06,3.06 0 1,0 -6.11,0M453.9,677.51a2.48,2.48 0 1,0 4.96,0a2.48,2.48 0 1,0 -4.96,0M445.5,671.73a4.43,4.43 0 1,0 8.86,0a4.43,4.43 0 1,0 -8.86,0M459.7,521.3a4.58,4.58 0 1,0 9.16,0a4.58,4.58 0 1,0 -9.16,0M492.57,537.45a3.7,3.7 0 1,0 7.4,0a3.7,3.7 0 1,0 -7.4,0M471.67,521.78a4.6,4.6 0 1,0 9.19,0a4.6,4.6 0 1,0 -9.19,0M512.75,665.63a3.52,3.52 0 1,0 7.05,0a3.52,3.52 0 1,0 -7.05,0M468.3,564.68a4.03,4.03 0 1,0 8.06,0a4.03,4.03 0 1,0 -8.06,0M515.45,576.61a3.43,3.43 0 1,0 6.86,0a3.43,3.43 0 1,0 -6.86,0M549.07,552.56a3.23,3.23 0 1,0 6.46,0a3.23,3.23 0 1,0 -6.46,0M521.29,614.2a4.01,4.01 0 1,0 8.02,0a4.01,4.01 0 1,0 -8.02,0M426.01,540.55a2.96,2.96 0 1,0 5.92,0a2.96,2.96 0 1,0 -5.92,0M459.05,643.69a4,4 0 1,0 7.99,0a4,4 0 1,0 -7.99,0M545.23,586.37a4.8,4.8 0 1,0 9.6,0a4.8,4.8 0 1,0 -9.6,0M461.12,694.73a3.56,3.56 0 1,0 7.13,0a3.56,3.56 0 1,0 -7.13,0M555.66,525.45a3.9,3.9 0 1,0 7.8,0a3.9,3.9 0 1,0 -7.8,0M455.2,667.23a3.2,3.2 0 1,0 6.4,0a3.2,3.2 0 1,0 -6.4,0M462.79,555.75a4.3,4.3 0 1,0 8.6,0a4.3,4.3 0 1,0 -8.6,0M423.69,527.69a3.86,3.86 0 1,0 7.72,0a3.86,3.86 0 1,0 -7.72,0M515.61,660.32a3.88,3.88 0 1,0 7.76,0a3.88,3.88 0 1,0 -7.76,0M492.98,666.7a3.78,3.78 0 1,0 7.56,0a3.78,3.78 0 1,0 -7.56,0M516,547.14a3.72,3.72 0 1,0 7.43,0a3.72,3.72 0 1,0 -7.43,0M556.85,631.36a2.41,2.41 0 1,0 4.82,0a2.41,2.41 0 1,0 -4.82,0M521.13,629.81a3.15,3.15 0 1,0 6.29,0a3.15,3.15 0 1,0 -6.29,0M527.57,549.05a3.86,3.86 0 1,0 7.72,0a3.86,3.86 0 1,0 -7.72,0M458.79,688.85a3.53,3.53 0 1,0 7.06,0a3.53,3.53 0 1,0 -7.06,0M433.52,662.61a3.33,3.33 0 1,0 6.65,0a3.33,3.33 0 1,0 -6.65,0M429.94,668.11a4.74,4.74 0 1,0 9.49,0a4.74,4.74 0 1,0 -9.49,0M446.73,588.58a3.84,3.84 0 1,0 7.69,0a3.84,3.84 0 1,0 -7.69,0M548.57,663.54a3.23,3.23 0 1,0 6.46,0a3.23,3.23 0 1,0 -6.46,0M439.83,674.92a3.81,3.81 0 1,0 7.62,0a3.81,3.81 0 1,0 -7.62,0M466.57,645.41a4.67,4.67 0 1,0 9.35,0a4.67,4.67 0 1,0 -9.35,0M557.02,530.86a4.61,4.61 0 1,0 9.23,0a4.61,4.61 0 1,0 -9.23,0M517.01,589.61a4.44,4.44 0 1,0 8.88,0a4.44,4.44 0 1,0 -8.88,0M450.01,611.08a2.53,2.53 0 1,0 5.07,0a2.53,2.53 0 1,0 -5.07,0M463.57,666.4a2.68,2.68 0 1,0 5.35,0a2.68,2.68 0 1,0 -5.35,0M480.43,678.23a4.49,4.49 0 1,0 8.98,0a4.49,4.49 0 1,0 -8.98,0M425,600.87a2.67,2.67 0 1,0 5.35,0a2.67,2.67 0 1,0 -5.35,0M491.95,610.63a2.4,2.4 0 1,0 4.81,0a2.4,2.4 0 1,0 -4.81,0M438.82,531.13a4.42,4.42 0 1,0 8.84,0a4.42,4.42 0 1,0 -8.84,0M423.78,649.95a3.63,3.63 0 1,0 7.26,0a3.63,3.63 0 1,0 -7.26,0M431.24,621.71a2.79,2.79 0 1,0 5.59,0a2.79,2.79 0 1,0 -5.59,0M561.72,563.92a3.99,3.99 0 1,0 7.98,0a3.99,3.99 0 1,0 -7.98,0M408.62,544.3a4.26,4.26 0 1,0 8.53,0a4.26,4.26 0 1,0 -8.53,0M491.21,677.5a3.79,3.79 0 1,0 7.57,0a3.79,3.79 0 1,0 -7.57,0M508.56,621.23a2.88,2.88 0 1,0 5.77,0a2.88,2.88 0 1,0 -5.77,0M438.56,616.9a2.43,2.43 0 1,0 4.86,0a2.43,2.43 0 1,0 -4.86,0M463.22,636.87a4.4,4.4 0 1,0 8.8,0a4.4,4.4 0 1,0 -8.8,0M530.71,655.08a3.04,3.04 0 1,0 6.09,0a3.04,3.04 0 1,0 -6.09,0M470.81,618.59a3.96,3.96 0 1,0 7.91,0a3.96,3.96 0 1,0 -7.91,0M535.16,615.58a3.64,3.64 0 1,0 7.28,0a3.64,3.64 0 1,0 -7.28,0M492.42,641.78a3.51,3.51 0 1,0 7.03,0a3.51,3.51 0 1,0 -7.03,0M417.52,560.35a3.3,3.3 0 1,0 6.6,0a3.3,3.3 0 1,0 -6.6,0M566.51,606.33a4.24,4.24 0 1,0 8.48,0a4.24,4.24 0 1,0 -8.48,0M520.9,665.95a3.91,3.91 0 1,0 7.83,0a3.91,3.91 0 1,0 -7.83,0M487.11,602.9a4.34,4.34 0 1,0 8.67,0a4.34,4.34 0 1,0 -8.67,0M470.12,529.17a3.8,3.8 0 1,0 7.6,0a3.8,3.8 0 1,0 -7.6,0M549.27,575.62a3.13,3.13 0 1,0 6.26,0a3.13,3.13 0 1,0 -6.26,0M519.17,623.85a3.14,3.14 0 1,0 6.28,0a3.14,3.14 0 1,0 -6.28,0M485.05,580.92a2.48,2.48 0 1,0 4.97,0a2.48,2.48 0 1,0 -4.97,0M464.53,648.43a3.91,3.91 0 1,0 7.82,0a3.91,3.91 0 1,0 -7.82,0M502.95,572.49a3.61,3.61 0 1,0 7.22,0a3.61,3.61 0 1,0 -7.22,0M452.17,657.23a2.47,2.47 0 1,0 4.94,0a2.47,2.47 0 1,0 -4.94,0M454.6,665.29a3.08,3.08 0 1,0 6.16,0a3.08,3.08 0 1,0 -6.16,0M529.35,667.64a3.62,3.62 0 1,0 7.24,0a3.62,3.62 0 1,0 -7.24,0M428.34,641.96a4.01,4.01 0 1,0 8.02,0a4.01,4.01 0 1,0 -8.02,0M446.48,562.57a2.72,2.72 0 1,0 5.44,0a2.72,2.72 0 1,0 -5.44,0M485.18,694.4a2.6,2.6 0 1,0 5.2,0a2.6,2.6 0 1,0 -5.2,0M499,538.83a4.7,4.7 0 1,0 9.39,0a4.7,4.7 0 1,0 -9.39,0M509.93,665.8a4.57,4.57 0 1,0 9.14,0a4.57,4.57 0 1,0 -9.14,0M563.33,607.7a4.15,4.15 0 1,0 8.31,0a4.15,4.15 0 1,0 -8.31,0M549.75,659.94a2.74,2.74 0 1,0 5.49,0a2.74,2.74 0 1,0 -5.49,0M416.91,529.28a4.54,4.54 0 1,0 9.07,0a4.54,4.54 0 1,0 -9.07,0M519.77,620.76a2.6,2.6 0 1,0 5.21,0a2.6,2.6 0 1,0 -5.21,0M557.49,620.64a4.03,4.03 0 1,0 8.06,0a4.03,4.03 0 1,0 -8.06,0M565.68,611.41a4.39,4.39 0 1,0 8.79,0a4.39,4.39 0 1,0 -8.79,0M439.04,599.19a2.67,2.67 0 1,0 5.35,0a2.67,2.67 0 1,0 -5.35,0M497.72,571.2a4.41,4.41 0 1,0 8.81,0a4.41,4.41 0 1,0 -8.81,0M410.91,551.96a4.42,4.42 0 1,0 8.85,0a4.42,4.42 0 1,0 -8.85,0M567.92,643.16a3.34,3.34 0 1,0 6.69,0a3.34,3.34 0 1,0 -6.69,0M534.45,675.21a3.92,3.92 0 1,0 7.84,0a3.92,3.92 0 1,0 -7.84,0M512.47,581.99a3.2,3.2 0 1,0 6.41,0a3.2,3.2 0 1,0 -6.41,0M523.61,639.38a3.61,3.61 0 1,0 7.22,0a3.61,3.61 0 1,0 -7.22,0M440.39,678.13a3.37,3.37 0 1,0 6.74,0a3.37,3.37 0 1,0 -6.74,0M464.41,602.96a4.13,4.13 0 1,0 8.26,0a4.13,4.13 0 1,0 -8.26,0M530.9,635.3a3.86,3.86 0 1,0 7.73,0a3.86,3.86 0 1,0 -7.73,0M538.99,550.57a4.31,4.31 0 1,0 8.62,0a4.31,4.31 0 1,0 -8.62,0" fill="#b6b6b6"/>
<path d="M475.42,687.33a0.83,0.83 0 1,0 1.65,0a0.83,0.83 0 1,0 -1.65,0M411.35,556.99a1.16,1.16 0 1,0 2.32,0a1.16,1.16 0 1,0 -2.32,0M468.46,580.86a1.46,1.46 0 1,0 2.91,0a1.46,1.46 0 1,0 -2.91,0M512.88,590.99a1.74,1.74 0 1,0 3.47,0a1.74,1.74 0 1,0 -3.47,0M512.55,541.23a1.36,1.36 0 1,0 2.71,0a1.36,1.36 0 1,0 -2.71,0M551.41,658.55a1.15,1.15 0 1,0 2.3,0a1.15,1.15 0 1,0 -2.3,0M473.58,557.28a0.91,0.91 0 1,0 1.82,0a0.91,0.91 0 1,0 -1.82,0M431.11,573a1.13,1.13 0 1,0 2.26,0a1.13,1.13 0 1,0 -2.26,0M489.51,678.53a1.12,1.12 0 1,0 2.24,0a1.12,1.12 0 1,0 -2.24,0M443.23,528.71a1.65,1.65 0 1,0 3.3,0a1.65,1.65 0 1,0 -3.3,0M458.24,523.76a0.95,0.95 0 1,0 1.9,0a0.95,0.95 0 1,0 -1.9,0M531.27,536.82a1.26,1.26 0 1,0 2.53,0a1.26,1.26 0 1,0 -2.53,0M447.81,660.87a0.84,0.84 0 1,0 1.68,0a0.84,0.84 0 1,0 -1.68,0M498.49,632.49a1.33,1.33 0 1,0 2.66,0a1.33,1.33 0 1,0 -2.66,0M446.05,532.33a0.82,0.82 0 1,0 1.63,0a0.82,0.82 0 1,0 -1.63,0M453.1,691.99a1.31,1.31 0 1,0 2.62,0a1.31,1.31 0 1,0 -2.62,0M461.46,594.26a1.19,1.19 0 1,0 2.37,0a1.19,1.19 0 1,0 -2.37,0M472.18,592.62a1.7,1.7 0 1,0 3.4,0a1.7,1.7 0 1,0 -3.4,0M545.87,637.89a1.64,1.64 0 1,0 3.29,0a1.64,1.64 0 1,0 -3.29,0M488.27,558.91a0.87,0.87 0 1,0 1.73,0a0.87,0.87 0 1,0 -1.73,0M534.76,584.43a1.33,1.33 0 1,0 2.65,0a1.33,1.33 0 1,0 -2.65,0M544.52,562.02a0.95,0.95 0 1,0 1.9,0a0.95,0.95 0 1,0 -1.9,0M519,551.14a1.12,1.12 0 1,0 2.24,0a1.12,1.12 0 1,0 -2.24,0M433.97,564.31a1.16,1.16 0 1,0 2.33,0a1.16,1.16 0 1,0 -2.33,0M483.01,604.83a1.56,1.56 0 1,0 3.12,0a1.56,1.56 0 1,0 -3.12,0M450.33,618.74a1.37,1.37 0 1,0 2.74,0a1.37,1.37 0 1,0 -2.74,0M514.9,672.8a0.93,0.93 0 1,0 1.86,0a0.93,0.93 0 1,0 -1.86,0M527.91,586.5a1.51,1.51 0 1,0 3.03,0a1.51,1.51 0 1,0 -3.03,0M472.09,622.76a1.78,1.78 0 1,0 3.56,0a1.78,1.78 0 1,0 -3.56,0M550.43,623.03a1.47,1.47 0 1,0 2.93,0a1.47,1.47 0 1,0 -2.93,0M496.46,608.09a0.91,0.91 0 1,0 1.82,0a0.91,0.91 0 1,0 -1.82,0M430.56,653.85a1.47,1.47 0 1,0 2.94,0a1.47,1.47 0 1,0 -2.94,0M531.55,591.14a1.73,1.73 0 1,0 3.45,0a1.73,1.73 0 1,0 -3.45,0M427.79,558.82a1.37,1.37 0 1,0 2.74,0a1.37,1.37 0 1,0 -2.74,0M499.68,652.98a1.8,1.8 0 1,0 3.6,0a1.8,1.8 0 1,0 -3.6,0M544.94,675.13a1.12,1.12 0 1,0 2.24,0a1.12,1.12 0 1,0 -2.24,0M439.44,694.83a1.79,1.79 0 1,0 3.58,0a1.79,1.79 0 1,0 -3.58,0M518.04,646.18a1.17,1.17 0 1,0 2.33,0a1.17,1.17 0 1,0 -2.33,0M541.95,555.17a1.53,1.53 0 1,0 3.06,0a1.53,1.53 0 1,0 -3.06,0M530.3,555.81a0.86,0.86 0 1,0 1.72,0a0.86,0.86 0 1,0 -1.72,0M481.02,633.57a0.94,0.94 0 1,0 1.87,0a0.94,0.94 0 1,0 -1.87,0M562.42,619.61a1.3,1.3 0 1,0 2.6,0a1.3,1.3 0 1,0 -2.6,0M497.5,547.79a1.32,1.32 0 1,0 2.63,0a1.32,1.32 0 1,0 -2.63,0M485.55,555.41a1.75,1.75 0 1,0 3.5,0a1.75,1.75 0 1,0 -3.5,0M481.69,595.23a1.72,1.72 0 1,0 3.45,0a1.72,1.72 0 1,0 -3.45,0M548.96,546.53a1.19,1.19 0 1,0 2.38,0a1.19,1.19 0 1,0 -2.38,0M515.6,559.29a1,1 0 1,0 2,0a1,1 0 1,0 -2,0M539.14,678.25a1,1 0 1,0 2,0a1,1 0 1,0 -2,0M455.24,573.51a1,1 0 1,0 2,0a1,1 0 1,0 -2,0M486.73,656.52a1.38,1.38 0 1,0 2.76,0a1.38,1.38 0 1,0 -2.76,0M457.8,623.01a1.77,1.77 0 1,0 3.53,0a1.77,1.77 0 1,0 -3.53,0" fill="#5e5e5e"/>
<path d="M461.56,636.22a0.86,0.86 0 1,0 1.71,0a0.86,0.86 0 1,0 -1.71,0M511.16,648.73a0.96,0.96 0 1,0 1.91,0a0.96,0.96 0 1,0 -1.91,0M508.43,578.49a1.61,1.61 0 1,0 3.23,0a1.61,1.61 0 1,0 -3.23,0M516.34,635.78a1.36,1.36 0 1,0 2.72,0a1.36,1.36 0 1,0 -2.72,0M468.92,613.99a0.93,0.93 0 1,0 1.86,0a0.93,0.93 0 1,0 -1.86,0M518.09,657.67a0.95,0.95 0 1,0 1.9,0a0.95,0.95 0 1,0 -1.9,0M438.28,687.24a1.54,1.54 0 1,0 3.08,0a1.54,1.54 0 1,0 -3.08,0M527.11,598.26a1.01,1.01 0 1,0 2.03,0a1.01,1.01 0 1,0 -2.03,0M530.62,531.09a1.47,1.47 0 1,0 2.95,0a1.47,1.47 0 1,0 -2.95,0M466.86,560.14a1.21,1.21 0 1,0 2.42,0a1.21,1.21 0 1,0 -2.42,0M513.5,559.42a0.82,0.82 0 1,0 1.64,0a0.82,0.82 0 1,0 -1.64,0M527.06,562.59a1,1 0 1,0 2.01,0a1,1 0 1,0 -2.01,0M534.73,634.19a1.68,1.68 0 1,0 3.36,0a1.68,1.68 0 1,0 -3.36,0M539.95,604.66a1.75,1.75 0 1,0 3.51,0a1.75,1.75 0 1,0 -3.51,0M531.47,527.65a0.98,0.98 0 1,0 1.96,0a0.98,0.98 0 1,0 -1.96,0M561.14,543.22a0.95,0.95 0 1,0 1.9,0a0.95,0.95 0 1,0 -1.9,0M474.17,593.38a1.68,1.68 0 1,0 3.36,0a1.68,1.68 0 1,0 -3.36,0M492.35,560.77a1.5,1.5 0 1,0 3,0a1.5,1.5 0 1,0 -3,0M530.41,528.03a0.86,0.86 0 1,0 1.73,0a0.86,0.86 0 1,0 -1.73,0M476.61,618.81a1.07,1.07 0 1,0 2.13,0a1.07,1.07 0 1,0 -2.13,0M462.55,526.8a1.34,1.34 0 1,0 2.69,0a1.34,1.34 0 1,0 -2.69,0M500.02,642.69a1.2,1.2 0 1,0 2.4,0a1.2,1.2 0 1,0 -2.4,0M514.14,562.1a1.49,1.49 0 1,0 2.99,0a1.49,1.49 0 1,0 -2.99,0M462.41,634.82a1.26,1.26 0 1,0 2.51,0a1.26,1.26 0 1,0 -2.51,0M504.74,603.96a1.31,1.31 0 1,0 2.62,0a1.31,1.31 0 1,0 -2.62,0M447.47,631.83a1.16,1.16 0 1,0 2.31,0a1.16,1.16 0 1,0 -2.31,0M453.1,637.2a0.87,0.87 0 1,0 1.74,0a0.87,0.87 0 1,0 -1.74,0M541.73,638.03a1.06,1.06 0 1,0 2.12,0a1.06,1.06 0 1,0 -2.12,0M548.78,672.59a1.32,1.32 0 1,0 2.64,0a1.32,1.32 0 1,0 -2.64,0M469,673.64a0.92,0.92 0 1,0 1.85,0a0.92,0.92 0 1,0 -1.85,0M519.07,612.73a1.25,1.25 0 1,0 2.51,0a1.25,1.25 0 1,0 -2.51,0M422.63,590.04a1.5,1.5 0 1,0 2.99,0a1.5,1.5 0 1,0 -2.99,0M433.19,640.88a1.29,1.29 0 1,0 2.58,0a1.29,1.29 0 1,0 -2.58,0M518.26,630.62a1.6,1.6 0 1,0 3.2,0a1.6,1.6 0 1,0 -3.2,0M417.34,551.27a1.72,1.72 0 1,0 3.43,0a1.72,1.72 0 1,0 -3.43,0M451.27,566.8a0.89,0.89 0 1,0 1.78,0a0.89,0.89 0 1,0 -1.78,0M568.01,571.27a1.72,1.72 0 1,0 3.44,0a1.72,1.72 0 1,0 -3.44,0M457.64,592.26a1.15,1.15 0 1,0 2.3,0a1.15,1.15 0 1,0 -2.3,0M463.34,532.04a1.18,1.18 0 1,0 2.36,0a1.18,1.18 0 1,0 -2.36,0M502.46,686.4a1.21,1.21 0 1,0 2.43,0a1.21,1.21 0 1,0 -2.43,0M487.44,678.42a1.2,1.2 0 1,0 2.4,0a1.2,1.2 0 1,0 -2.4,0M457.01,578.37a1.57,1.57 0 1,0 3.14,0a1.57,1.57 0 1,0 -3.14,0M550.44,557.91a0.86,0.86 0 1,0 1.71,0a0.86,0.86 0 1,0 -1.71,0M521.67,646.4a1.66,1.66 0 1,0 3.33,0a1.66,1.66 0 1,0 -3.33,0M454.17,566.25a1.18,1.18 0 1,0 2.37,0a1.18,1.18 0 1,0 -2.37,0M519.17,572.76a1.31,1.31 0 1,0 2.62,0a1.31,1.31 0 1,0 -2.62,0M478.65,528.54a1.05,1.05 0 1,0 2.1,0a1.05,1.05 0 1,0 -2.1,0M471.91,597.29a1.1,1.1 0 1,0 2.21,0a1.1,1.1 0 1,0 -2.21,0M429.71,556.46a1.73,1.73 0 1,0 3.46,0a1.73,1.73 0 1,0 -3.46,0M414.22,558.64a1.09,1.09 0 1,0 2.18,0a1.09,1.09 0 1,0 -2.18,0M527.07,662.72a1.21,1.21 0 1,0 2.41,0a1.21,1.21 0 1,0 -2.41,0M555.63,664.83a0.98,0.98 0 1,0 1.96,0a0.98,0.98 0 1,0 -1.96,0M520.53,639.95a1.6,1.6 0 1,0 3.2,0a1.6,1.6 0 1,0 -3.2,0M477.27,637.08a1.51,1.51 0 1,0 3.01,0a1.51,1.51 0 1,0 -3.01,0M430.62,548a1.09,1.09 0 1,0 2.19,0a1.09,1.09 0 1,0 -2.19,0M446.82,623.36a1.51,1.51 0 1,0 3.01,0a1.51,1.51 0 1,0 -3.01,0M528.62,574.69a1.12,1.12 0 1,0 2.25,0a1.12,1.12 0 1,0 -2.25,0M432.84,552.25a1.48,1.48 0 1,0 2.96,0a1.48,1.48 0 1,0 -2.96,0M496.64,571.33a0.82,0.82 0 1,0 1.64,0a0.82,0.82 0 1,0 -1.64,0" fill="#6e6e6e"/>
<path d="M465.74,688.07a1.26,1.26 0 1,0 2.52,0a1.26,1.26 0 1,0 -2.52,0M468.13,538.98a2.17,2.17 0 1,0 4.34,0a2.17,2.17 0 1,0 -4.34,0M497.58,540.4a1.5,1.5 0 1,0 2.99,0a1.5,1.5 0 1,0 -2.99,0M450.58,688.96a1.68,1.68 0 1,0 3.37,0a1.68,1.68 0 1,0 -3.37,0M511.22,642.96a1.61,1.61 0 1,0 3.22,0a1.61,1.61 0 1,0 -3.22,0M565.47,592.98a1.24,1.24 0 1,0 2.48,0a1.24,1.24 0 1,0 -2.48,0M540,605.08a1.83,1.83 0 1,0 3.66,0a1.83,1.83 0 1,0 -3.66,0M512.68,670.45a1.31,1.31 0 1,0 2.62,0a1.31,1.31 0 1,0 -2.62,0M490.44,657.29a1.36,1.36 0 1,0 2.72,0a1.36,1.36 0 1,0 -2.72,0M545.35,659.5a2.1,2.1 0 1,0 4.2,0a2.1,2.1 0 1,0 -4.2,0M505.82,619.7a1.89,1.89 0 1,0 3.78,0a1.89,1.89 0 1,0 -3.78,0M473.26,631.34a2.19,2.19 0 1,0 4.38,0a2.19,2.19 0 1,0 -4.38,0M475.37,534.96a2,2 0 1,0 3.99,0a2,2 0 1,0 -3.99,0M559.46,595.59a1.21,1.21 0 1,0 2.41,0a1.21,1.21 0 1,0 -2.41,0M478.07,627.41a1.37,1.37 0 1,0 2.75,0a1.37,1.37 0 1,0 -2.75,0M498.43,534.24a2.21,2.21 0 1,0 4.43,0a2.21,2.21 0 1,0 -4.43,0M438.74,678.27a1.99,1.99 0 1,0 3.99,0a1.99,1.99 0 1,0 -3.99,0M557.04,589a2.35,2.35 0 1,0 4.7,0a2.35,2.35 0 1,0 -4.7,0M468.45,559.44a1.57,1.57 0 1,0 3.14,0a1.57,1.57 0 1,0 -3.14,0M424.67,563.31a2.08,2.08 0 1,0 4.17,0a2.08,2.08 0 1,0 -4.17,0M530.93,653.91a1.36,1.36 0 1,0 2.72,0a1.36,1.36 0 1,0 -2.72,0M534.14,564.65a1.29,1.29 0 1,0 2.58,0a1.29,1.29 0 1,0 -2.58,0M512.16,598.72a1.63,1.63 0 1,0 3.27,0a1.63,1.63 0 1,0 -3.27,0M517.69,632.26a2.33,2.33 0 1,0 4.65,0a2.33,2.33 0 1,0 -4.65,0M542.9,530.06a1.79,1.79 0 1,0 3.58,0a1.79,1.79 0 1,0 -3.58,0M427.22,586.76a2.1,2.1 0 1,0 4.2,0a2.1,2.1 0 1,0 -4.2,0M557.24,649.57a1.24,1.24 0 1,0 2.48,0a1.24,1.24 0 1,0 -2.48,0M462.43,543.87a1.37,1.37 0 1,0 2.75,0a1.37,1.37 0 1,0 -2.75,0M436.49,624.7a1.95,1.95 0 1,0 3.91,0a1.95,1.95 0 1,0 -3.91,0M542.27,640.22a1.79,1.79 0 1,0 3.58,0a1.79,1.79 0 1,0 -3.58,0M558.25,577.3a2.19,2.19 0 1,0 4.38,0a2.19,2.19 0 1,0 -4.38,0M542.4,530.41a2.09,2.09 0 1,0 4.17,0a2.09,2.09 0 1,0 -4.17,0M468.08,643.26a1.57,1.57 0 1,0 3.14,0a1.57,1.57 0 1,0 -3.14,0M564.97,554.65a2.31,2.31 0 1,0 4.63,0a2.31,2.31 0 1,0 -4.63,0M475.16,641.13a1.67,1.67 0 1,0 3.35,0a1.67,1.67 0 1,0 -3.35,0M472.56,691.5a1.33,1.33 0 1,0 2.67,0a1.33,1.33 0 1,0 -2.67,0M562.32,630.62a1.96,1.96 0 1,0 3.93,0a1.96,1.96 0 1,0 -3.93,0M496.92,637.52a2.1,2.1 0 1,0 4.21,0a2.1,2.1 0 1,0 -4.21,0M453.64,584.19a1.84,1.84 0 1,0 3.67,0a1.84,1.84 0 1,0 -3.67,0M455.91,631.95a1.74,1.74 0 1,0 3.48,0a1.74,1.74 0 1,0 -3.48,0M524.67,573.98a1.52,1.52 0 1,0 3.04,0a1.52,1.52 0 1,0 -3.04,0M473.72,687.35a1.68,1.68 0 1,0 3.36,0a1.68,1.68 0 1,0 -3.36,0M431.39,650.79a2,2 0 1,0 4.01,0a2,2 0 1,0 -4.01,0M558.2,543.25a2.02,2.02 0 1,0 4.04,0a2.02,2.02 0 1,0 -4.04,0M519.67,622.6a1.46,1.46 0 1,0 2.91,0a1.46,1.46 0 1,0 -2.91,0M557.52,652.1a2.25,2.25 0 1,0 4.51,0a2.25,2.25 0 1,0 -4.51,0M429.43,645.15a1.93,1.93 0 1,0 3.87,0a1.93,1.93 0 1,0 -3.87,0M453.49,531.42a1.93,1.93 0 1,0 3.86,0a1.93,1.93 0 1,0 -3.86,0M558.61,574.63a2.01,2.01 0 1,0 4.02,0a2.01,2.01 0 1,0 -4.02,0M567.03,558.4a1.96,1.96 0 1,0 3.91,0a1.96,1.96 0 1,0 -3.91,0M554.57,529.17a2.35,2.35 0 1,0 4.71,0a2.35,2.35 0 1,0 -4.71,0M504.27,596.44a1.43,1.43 0 1,0 2.86,0a1.43,1.43 0 1,0 -2.86,0M440.96,654.34a2.1,2.1 0 1,0 4.19,0a2.1,2.1 0 1,0 -4.19,0M477.45,668.61a1.87,1.87 0 1,0 3.74,0a1.87,1.87 0 1,0 -3.74,0M512,620.38a2.39,2.39 0 1,0 4.78,0a2.39,2.39 0 1,0 -4.78,0M477.71,524.65a2.13,2.13 0 1,0 4.25,0a2.13,2.13 0 1,0 -4.25,0M464.64,672.66a2.13,2.13 0 1,0 4.27,0a2.13,2.13 0 1,0 -4.27,0M559.65,661.34a2.28,2.28 0 1,0 4.55,0a2.28,2.28 0 1,0 -4.55,0M496.33,564.27a1.45,1.45 0 1,0 2.9,0a1.45,1.45 0 1,0 -2.9,0M481.07,650.21a1.39,1.39 0 1,0 2.79,0a1.39,1.39 0 1,0 -2.79,0M443.97,623.94a1.23,1.23 0 1,0 2.47,0a1.23,1.23 0 1,0 -2.47,0M464.24,619.34a1.78,1.78 0 1,0 3.56,0a1.78,1.78 0 1,0 -3.56,0M428.63,555.1a1.89,1.89 0 1,0 3.77,0a1.89,1.89 0 1,0 -3.77,0M561.28,641.81a2.11,2.11 0 1,0 4.23,0a2.11,2.11 0 1,0 -4.23,0M503.39,647.85a1.4,1.4 0 1,0 2.81,0a1.4,1.4 0 1,0 -2.81,0M537.6,527.3a1.52,1.52 0 1,0 3.03,0a1.52,1.52 0 1,0 -3.03,0M543.09,548.48a1.33,1.33 0 1,0 2.65,0a1.33,1.33 0 1,0 -2.65,0M518.38,629.25a1.68,1.68 0 1,0 3.35,0a1.68,1.68 0 1,0 -3.35,0M549.8,537.51a1.53,1.53 0 1,0 3.06,0a1.53,1.53 0 1,0 -3.06,0M459.2,572.22a1.93,1.93 0 1,0 3.86,0a1.93,1.93 0 1,0 -3.86,0M521.15,671.21a2.16,2.16 0 1,0 4.32,0a2.16,2.16 0 1,0 -4.32,0M458.02,581.64a1.66,1.66 0 1,0 3.32,0a1.66,1.66 0 1,0 -3.32,0M434.41,548.5a2.11,2.11 0 1,0 4.23,0a2.11,2.11 0 1,0 -4.23,0M497.08,580.25a2.31,2.31 0 1,0 4.61,0a2.31,2.31 0 1,0 -4.61,0M550.2,595.31a1.64,1.64 0 1,0 3.28,0a1.64,1.64 0 1,0 -3.28,0M510.06,549.12a2.1,2.1 0 1,0 4.21,0a2.1,2.1 0 1,0 -4.21,0M508.13,643.51a1.29,1.29 0 1,0 2.59,0a1.29,1.29 0 1,0 -2.59,0M431.22,539.56a1.98,1.98 0 1,0 3.96,0a1.98,1.98 0 1,0 -3.96,0M493.36,676.17a1.41,1.41 0 1,0 2.83,0a1.41,1.41 0 1,0 -2.83,0M424.11,573.55a2.04,2.04 0 1,0 4.07,0a2.04,2.04 0 1,0 -4.07,0M419.56,535.38a1.99,1.99 0 1,0 3.99,0a1.99,1.99 0 1,0 -3.99,0" fill="#d8d8d8"/>
<path d="M463.54,599.7a1.6,1.6 0 1,0 3.19,0a1.6,1.6 0 1,0 -3.19,0M528.33,600.66a2.15,2.15 0 1,0 4.29,0a2.15,2.15 0 1,0 -4.29,0M507.8,601.81a1.25,1.25 0 1,0 2.5,0a1.25,1.25 0 1,0 -2.5,0M504.61,593.16a1.7,1.7 0 1,0 3.4,0a1.7,1.7 0 1,0 -3.4,0M547.83,533.02a1.63,1.63 0 1,0 3.26,0a1.63,1.63 0 1,0 -3.26,0M518.07,535.48a2.21,2.21 0 1,0 4.42,0a2.21,2.21 0 1,0 -4.42,0M554.01,605.17a1.51,1.51 0 1,0 3.03,0a1.51,1.51 0 1,0 -3.03,0M425.43,562.04a1.8,1.8 0 1,0 3.59,0a1.8,1.8 0 1,0 -3.59,0M441.37,542.1a2.07,2.07 0 1,0 4.14,0a2.07,2.07 0 1,0 -4.14,0M497.65,562.2a1.22,1.22 0 1,0 2.44,0a1.22,1.22 0 1,0 -2.44,0M565.19,606.63a2.03,2.03 0 1,0 4.05,0a2.03,2.03 0 1,0 -4.05,0M445.55,653.36a2.21,2.21 0 1,0 4.42,0a2.21,2.21 0 1,0 -4.42,0M512.53,538.98a1.3,1.3 0 1,0 2.6,0a1.3,1.3 0 1,0 -2.6,0M504,561.18a2.19,2.19 0 1,0 4.37,0a2.19,2.19 0 1,0 -4.37,0M420.37,579.64a1.25,1.25 0 1,0 2.5,0a1.25,1.25 0 1,0 -2.5,0M543.79,601.88a1.21,1.21 0 1,0 2.43,0a1.21,1.21 0 1,0 -2.43,0M539.95,545.84a1.38,1.38 0 1,0 2.76,0a1.38,1.38 0 1,0 -2.76,0M464.69,544.47a2.31,2.31 0 1,0 4.62,0a2.31,2.31 0 1,0 -4.62,0M521.78,645.96a2.4,2.4 0 1,0 4.79,0a2.4,2.4 0 1,0 -4.79,0M463.17,531.73a1.44,1.44 0 1,0 2.88,0a1.44,1.44 0 1,0 -2.88,0M527.26,581.77a2.16,2.16 0 1,0 4.33,0a2.16,2.16 0 1,0 -4.33,0M559.05,652.45a1.72,1.72 0 1,0 3.44,0a1.72,1.72 0 1,0 -3.44,0M507.43,636.42a1.28,1.28 0 1,0 2.56,0a1.28,1.28 0 1,0 -2.56,0M538.93,662.69a1.49,1.49 0 1,0 2.98,0a1.49,1.49 0 1,0 -2.98,0M510.61,571.57a2.39,2.39 0 1,0 4.78,0a2.39,2.39 0 1,0 -4.78,0M542.78,540.96a1.65,1.65 0 1,0 3.3,0a1.65,1.65 0 1,0 -3.3,0M460.46,675.89a2.23,2.23 0 1,0 4.46,0a2.23,2.23 0 1,0 -4.46,0M505.3,622.41a2.4,2.4 0 1,0 4.79,0a2.4,2.4 0 1,0 -4.79,0M448.14,657.44a1.7,1.7 0 1,0 3.41,0a1.7,1.7 0 1,0 -3.41,0M540.74,581.42a1.44,1.44 0 1,0 2.88,0a1.44,1.44 0 1,0 -2.88,0M436.05,575.12a1.9,1.9 0 1,0 3.81,0a1.9,1.9 0 1,0 -3.81,0M538.13,575.62a1.53,1.53 0 1,0 3.07,0a1.53,1.53 0 1,0 -3.07,0M448.01,531.88a2.1,2.1 0 1,0 4.21,0a2.1,2.1 0 1,0 -4.21,0M520.52,593.11a2.32,2.32 0 1,0 4.63,0a2.32,2.32 0 1,0 -4.63,0M435.03,550.91a2.13,2.13 0 1,0 4.26,0a2.13,2.13 0 1,0 -4.26,0M490.96,579.56a2.05,2.05 0 1,0 4.11,0a2.05,2.05 0 1,0 -4.11,0M561.85,531.33a2.22,2.22 0 1,0 4.44,0a2.22,2.22 0 1,0 -4.44,0M529.94,659.64a1.38,1.38 0 1,0 2.76,0a1.38,1.38 0 1,0 -2.76,0M519.47,654.08a2.28,2.28 0 1,0 4.56,0a2.28,2.28 0 1,0 -4.56,0M468.23,644.32a1.35,1.35 0 1,0 2.69,0a1.35,1.35 0 1,0 -2.69,0M430.24,568.53a2.37,2.37 0 1,0 4.75,0a2.37,2.37 0 1,0 -4.75,0M506.9,625.79a1.25,1.25 0 1,0 2.5,0a1.25,1.25 0 1,0 -2.5,0M546.27,539.14a1.55,1.55 0 1,0 3.11,0a1.55,1.55 0 1,0 -3.11,0M496.65,560.53a1.54,1.54 0 1,0 3.08,0a1.54,1.54 0 1,0 -3.08,0M527.47,559.23a1.23,1.23 0 1,0 2.47,0a1.23,1.23 0 1,0 -2.47,0M491.49,595.11a2.35,2.35 0 1,0 4.69,0a2.35,2.35 0 1,0 -4.69,0M453.52,535.39a1.68,1.68 0 1,0 3.36,0a1.68,1.68 0 1,0 -3.36,0M493.07,624.55a2,2 0 1,0 4,0a2,2 0 1,0 -4,0M462.54,695.54a1.97,1.97 0 1,0 3.94,0a1.97,1.97 0 1,0 -3.94,0M510.86,539.38a1.54,1.54 0 1,0 3.08,0a1.54,1.54 0 1,0 -3.08,0M440.16,650.85a1.73,1.73 0 1,0 3.45,0a1.73,1.73 0 1,0 -3.45,0M440.35,645.09a2.13,2.13 0 1,0 4.26,0a2.13,2.13 0 1,0 -4.26,0M528.66,647.9a1.62,1.62 0 1,0 3.25,0a1.62,1.62 0 1,0 -3.25,0M458.52,527.3a2.03,2.03 0 1,0 4.06,0a2.03,2.03 0 1,0 -4.06,0M449.5,523.19a2.05,2.05 0 1,0 4.1,0a2.05,2.05 0 1,0 -4.1,0M558.15,597.39a1.22,1.22 0 1,0 2.43,0a1.22,1.22 0 1,0 -2.43,0M441.29,621.71a2.23,2.23 0 1,0 4.46,0a2.23,2.23 0 1,0 -4.46,0M514.94,556.14a1.45,1.45 0 1,0 2.89,0a1.45,1.45 0 1,0 -2.89,0M466.81,676.67a1.91,1.91 0 1,0 3.82,0a1.91,1.91 0 1,0 -3.82,0M516.4,673.33a2.06,2.06 0 1,0 4.12,0a2.06,2.06 0 1,0 -4.12,0M486.62,676.68a1.34,1.34 0 1,0 2.68,0a1.34,1.34 0 1,0 -2.68,0M490.55,587.57a2.16,2.16 0 1,0 4.32,0a2.16,2.16 0 1,0 -4.32,0M502.14,652.5a1.96,1.96 0 1,0 3.92,0a1.96,1.96 0 1,0 -3.92,0M542.01,526.2a1.68,1.68 0 1,0 3.36,0a1.68,1.68 0 1,0 -3.36,0M534.64,537.94a1.42,1.42 0 1,0 2.85,0a1.42,1.42 0 1,0 -2.85,0M550.04,618.68a1.8,1.8 0 1,0 3.61,0a1.8,1.8 0 1,0 -3.61,0M511.05,625.59a2.05,2.05 0 1,0 4.09,0a2.05,2.05 0 1,0 -4.09,0M543.12,601.2a2.05,2.05 0 1,0 4.1,0a2.05,2.05 0 1,0 -4.1,0M530.52,639.37a1.94,1.94 0 1,0 3.87,0a1.94,1.94 0 1,0 -3.87,0M520.55,535.09a2.22,2.22 0 1,0 4.44,0a2.22,2.22 0 1,0 -4.44,0M426.59,643.07a1.82,1.82 0 1,0 3.65,0a1.82,1.82 0 1,0 -3.65,0M483.33,592.16a2.3,2.3 0 1,0 4.6,0a2.3,2.3 0 1,0 -4.6,0M529.77,661.66a2.2,2.2 0 1,0 4.41,0a2.2,2.2 0 1,0 -4.41,0M456.98,565.03a1.5,1.5 0 1,0 3.01,0a1.5,1.5 0 1,0 -3.01,0M534.11,568.37a1.22,1.22 0 1,0 2.43,0a1.22,1.22 0 1,0 -2.43,0M462.13,657a2.27,2.27 0 1,0 4.54,0a2.27,2.27 0 1,0 -4.54,0M541.09,614.42a1.24,1.24 0 1,0 2.48,0a1.24,1.24 0 1,0 -2.48,0M434.03,614.22a2.33,2.33 0 1,0 4.65,0a2.33,2.33 0 1,0 -4.65,0M475.6,682.6a1.98,1.98 0 1,0 3.95,0a1.98,1.98 0 1,0 -3.95,0M443.82,654.26a2.06,2.06 0 1,0 4.11,0a2.06,2.06 0 1,0 -4.11,0M479.64,540.53a1.93,1.93 0 1,0 3.87,0a1.93,1.93 0 1,0 -3.87,0M449.66,565.32a1.31,1.31 0 1,0 2.62,0a1.31,1.31 0 1,0 -2.62,0M552.33,633.91a1.99,1.99 0 1,0 3.97,0a1.99,1.99 0 1,0 -3.97,0M529.83,615.07a1.63,1.63 0 1,0 3.27,0a1.63,1.63 0 1,0 -3.27,0M485.23,577.03a1.24,1.24 0 1,0 2.47,0a1.24,1.24 0 1,0 -2.47,0M545.89,559.81a2.16,2.16 0 1,0 4.33,0a2.16,2.16 0 1,0 -4.33,0M519.4,568.99a2.21,2.21 0 1,0 4.43,0a2.21,2.21 0 1,0 -4.43,0M437.41,545.06a2.2,2.2 0 1,0 4.41,0a2.2,2.2 0 1,0 -4.41,0M417.09,564.75a1.88,1.88 0 1,0 3.77,0a1.88,1.88 0 1,0 -3.77,0" fill="#d2d2d2"/>
<path d="M370.6,535.1 C373.65,535.1 372.65,535.73 377.4,538.6 C382.15,541.47 394.52,547.92 399.1,552.3 C403.68,556.68 401.85,560.52 404.9,564.9 C407.95,569.28 414.37,574.03 417.4,578.6 C420.43,583.17 421.77,586.97 423.1,592.3 C424.43,597.63 423.87,604.32 425.4,610.6 C426.93,616.88 427.72,624.48 432.3,630 C436.88,635.52 446.43,640.08 452.9,643.7 C459.37,647.32 466.92,649.42 471.1,651.7 C475.28,653.98 477.62,655.5 478,657.4 C478.38,659.3 477.58,661.77 473.4,663.1 C469.22,664.43 459.18,664.82 452.9,665.4 C446.62,665.98 439.52,664.88 435.7,666.6 C431.88,668.32 432.28,671.32 430,675.7 C427.72,680.08 423.9,688.13 422,692.9 C420.1,697.67 422.98,702.02 418.6,704.3 C414.22,706.58 401.42,707.55 395.7,706.6 C389.98,705.65 389.07,701.85 384.3,698.6 C379.53,695.35 372.43,691.48 367.1,687.1 C361.77,682.72 357.05,676.1 352.3,672.3 C347.55,668.5 342.22,667.53 338.6,664.3 C334.98,661.07 334.42,656.72 330.6,652.9 C326.78,649.08 320.47,645.03 315.7,641.4 C310.93,637.77 306.18,633.38 302,631.1 C297.82,628.82 293.08,629.78 290.6,627.7 C288.12,625.62 289.02,622.6 287.1,618.6 C285.18,614.6 279.85,607.13 279.1,603.7 C278.35,600.27 279.73,600.28 282.6,598 C285.47,595.72 293.45,592.48 296.3,590 C299.15,587.52 297.42,585 299.7,583.1 C301.98,581.2 308.28,582.78 310,578.6 C311.72,574.42 309.05,563.53 310,558 C310.95,552.47 312.08,548.83 315.7,545.4 C319.32,541.97 325.98,537.97 331.7,537.4 C337.42,536.83 345.43,541.8 350,542 C354.57,542.2 355.67,539.75 359.1,538.6 C362.53,537.45 367.55,535.1 370.6,535.1Z" stroke="none" stroke-width="0" fill="#46008c"/>
<path d="M367.95,535.1a2.65,2.65 0 1,0 5.29,0a2.65,2.65 0 1,0 -5.29,0M375.07,538.6a2.33,2.33 0 1,0 4.66,0a2.33,2.33 0 1,0 -4.66,0M380.6,542.02a2.23,2.23 0 1,0 4.46,0a2.23,2.23 0 1,0 -4.46,0M384.34,545.45a3.91,3.91 0 1,0 7.81,0a3.91,3.91 0 1,0 -7.81,0M391.21,548.88a2.46,2.46 0 1,0 4.92,0a2.46,2.46 0 1,0 -4.92,0M394.97,552.3a4.13,4.13 0 1,0 8.25,0a4.13,4.13 0 1,0 -8.25,0M399.07,558.6a2.93,2.93 0 1,0 5.85,0a2.93,2.93 0 1,0 -5.85,0M401.25,564.9a3.65,3.65 0 1,0 7.29,0a3.65,3.65 0 1,0 -7.29,0M406.59,569.47a2.48,2.48 0 1,0 4.95,0a2.48,2.48 0 1,0 -4.95,0M409.46,574.03a3.78,3.78 0 1,0 7.55,0a3.78,3.78 0 1,0 -7.55,0M414.7,578.6a2.7,2.7 0 1,0 5.41,0a2.7,2.7 0 1,0 -5.41,0M417.32,585.45a2.93,2.93 0 1,0 5.86,0a2.93,2.93 0 1,0 -5.86,0M419.85,592.3a3.25,3.25 0 1,0 6.49,0a3.25,3.25 0 1,0 -6.49,0M421.44,598.4a2.42,2.42 0 1,0 4.85,0a2.42,2.42 0 1,0 -4.85,0M421.94,604.5a2.7,2.7 0 1,0 5.39,0a2.7,2.7 0 1,0 -5.39,0M421.61,610.6a3.79,3.79 0 1,0 7.58,0a3.79,3.79 0 1,0 -7.58,0M424.93,617.07a2.77,2.77 0 1,0 5.54,0a2.77,2.77 0 1,0 -5.54,0M427.04,623.53a2.96,2.96 0 1,0 5.92,0a2.96,2.96 0 1,0 -5.92,0M428.57,630a3.73,3.73 0 1,0 7.46,0a3.73,3.73 0 1,0 -7.46,0M434.8,633.42a2.65,2.65 0 1,0 5.3,0a2.65,2.65 0 1,0 -5.3,0M440.01,636.85a2.59,2.59 0 1,0 5.18,0a2.59,2.59 0 1,0 -5.18,0M445.11,640.28a2.64,2.64 0 1,0 5.28,0a2.64,2.64 0 1,0 -5.28,0M449.93,643.7a2.97,2.97 0 1,0 5.94,0a2.97,2.97 0 1,0 -5.94,0M456.04,646.37a2.93,2.93 0 1,0 5.86,0a2.93,2.93 0 1,0 -5.86,0M461.55,649.03a3.48,3.48 0 1,0 6.97,0a3.48,3.48 0 1,0 -6.97,0M467.96,651.7a3.14,3.14 0 1,0 6.29,0a3.14,3.14 0 1,0 -6.29,0M474.06,657.4a3.94,3.94 0 1,0 7.88,0a3.94,3.94 0 1,0 -7.88,0M471.1,663.1a2.3,2.3 0 1,0 4.6,0a2.3,2.3 0 1,0 -4.6,0M463.04,663.87a3.53,3.53 0 1,0 7.05,0a3.53,3.53 0 1,0 -7.05,0M455.86,664.63a3.87,3.87 0 1,0 7.75,0a3.87,3.87 0 1,0 -7.75,0M450.23,665.4a2.67,2.67 0 1,0 5.34,0a2.67,2.67 0 1,0 -5.34,0M444.91,665.8a2.26,2.26 0 1,0 4.52,0a2.26,2.26 0 1,0 -4.52,0M438.36,666.2a3.08,3.08 0 1,0 6.15,0a3.08,3.08 0 1,0 -6.15,0M433.27,666.6a2.43,2.43 0 1,0 4.86,0a2.43,2.43 0 1,0 -4.86,0M426.88,675.7a3.12,3.12 0 1,0 6.24,0a3.12,3.12 0 1,0 -6.24,0M423.71,681.43a3.62,3.62 0 1,0 7.25,0a3.62,3.62 0 1,0 -7.25,0M422.28,687.17a2.39,2.39 0 1,0 4.77,0a2.39,2.39 0 1,0 -4.77,0M419.56,692.9a2.44,2.44 0 1,0 4.87,0a2.44,2.44 0 1,0 -4.87,0M417.14,698.6a3.16,3.16 0 1,0 6.32,0a3.16,3.16 0 1,0 -6.32,0M416.05,704.3a2.55,2.55 0 1,0 5.1,0a2.55,2.55 0 1,0 -5.1,0M410.21,704.88a2.66,2.66 0 1,0 5.32,0a2.66,2.66 0 1,0 -5.32,0M404.07,705.45a3.08,3.08 0 1,0 6.16,0a3.08,3.08 0 1,0 -6.16,0M398.99,706.02a2.44,2.44 0 1,0 4.87,0a2.44,2.44 0 1,0 -4.87,0M393.36,706.6a2.34,2.34 0 1,0 4.67,0a2.34,2.34 0 1,0 -4.67,0M387.08,702.6a2.92,2.92 0 1,0 5.84,0a2.92,2.92 0 1,0 -5.84,0M381.16,698.6a3.14,3.14 0 1,0 6.28,0a3.14,3.14 0 1,0 -6.28,0M374.49,694.77a4.07,4.07 0 1,0 8.15,0a4.07,4.07 0 1,0 -8.15,0M369.52,690.93a3.31,3.31 0 1,0 6.62,0a3.31,3.31 0 1,0 -6.62,0M364.76,687.1a2.34,2.34 0 1,0 4.69,0a2.34,2.34 0 1,0 -4.69,0M359.52,682.17a2.64,2.64 0 1,0 5.29,0a2.64,2.64 0 1,0 -5.29,0M353.54,677.23a3.69,3.69 0 1,0 7.38,0a3.69,3.69 0 1,0 -7.38,0M348.97,672.3a3.33,3.33 0 1,0 6.65,0a3.33,3.33 0 1,0 -6.65,0M341.51,668.3a3.94,3.94 0 1,0 7.88,0a3.94,3.94 0 1,0 -7.88,0M334.48,664.3a4.12,4.12 0 1,0 8.25,0a4.12,4.12 0 1,0 -8.25,0M330.68,658.6a3.92,3.92 0 1,0 7.83,0a3.92,3.92 0 1,0 -7.83,0M328.18,652.9a2.42,2.42 0 1,0 4.84,0a2.42,2.42 0 1,0 -4.84,0M321.55,649.07a4.09,4.09 0 1,0 8.17,0a4.09,4.09 0 1,0 -8.17,0M317.42,645.23a3.25,3.25 0 1,0 6.5,0a3.25,3.25 0 1,0 -6.5,0M313.02,641.4a2.68,2.68 0 1,0 5.36,0a2.68,2.68 0 1,0 -5.36,0M308.59,637.97a2.54,2.54 0 1,0 5.08,0a2.54,2.54 0 1,0 -5.08,0M302.64,634.53a3.93,3.93 0 1,0 7.86,0a3.93,3.93 0 1,0 -7.86,0M299.38,631.1a2.62,2.62 0 1,0 5.25,0a2.62,2.62 0 1,0 -5.25,0M293.93,629.4a2.37,2.37 0 1,0 4.73,0a2.37,2.37 0 1,0 -4.73,0M287.87,627.7a2.73,2.73 0 1,0 5.46,0a2.73,2.73 0 1,0 -5.46,0M283.05,618.6a4.05,4.05 0 1,0 8.1,0a4.05,4.05 0 1,0 -8.1,0M281.31,613.63a3.12,3.12 0 1,0 6.24,0a3.12,3.12 0 1,0 -6.24,0M278.1,608.67a3.66,3.66 0 1,0 7.33,0a3.66,3.66 0 1,0 -7.33,0M276.75,603.7a2.35,2.35 0 1,0 4.7,0a2.35,2.35 0 1,0 -4.7,0M279.49,598a3.11,3.11 0 1,0 6.21,0a3.11,3.11 0 1,0 -6.21,0M286.61,594a2.84,2.84 0 1,0 5.67,0a2.84,2.84 0 1,0 -5.67,0M293.69,590a2.61,2.61 0 1,0 5.22,0a2.61,2.61 0 1,0 -5.22,0M296.17,583.1a3.53,3.53 0 1,0 7.05,0a3.53,3.53 0 1,0 -7.05,0M301.93,580.85a2.92,2.92 0 1,0 5.84,0a2.92,2.92 0 1,0 -5.84,0M307.56,578.6a2.44,2.44 0 1,0 4.88,0a2.44,2.44 0 1,0 -4.88,0M305.83,571.73a4.17,4.17 0 1,0 8.34,0a4.17,4.17 0 1,0 -8.34,0M306.84,564.87a3.16,3.16 0 1,0 6.33,0a3.16,3.16 0 1,0 -6.33,0M307.44,558a2.56,2.56 0 1,0 5.12,0a2.56,2.56 0 1,0 -5.12,0M310.63,551.7a2.22,2.22 0 1,0 4.44,0a2.22,2.22 0 1,0 -4.44,0M312.19,545.4a3.51,3.51 0 1,0 7.01,0a3.51,3.51 0 1,0 -7.01,0M317.8,542.73a3.23,3.23 0 1,0 6.46,0a3.23,3.23 0 1,0 -6.46,0M324.12,540.07a2.25,2.25 0 1,0 4.5,0a2.25,2.25 0 1,0 -4.5,0M328.56,537.4a3.14,3.14 0 1,0 6.28,0a3.14,3.14 0 1,0 -6.28,0M334.12,538.93a3.68,3.68 0 1,0 7.36,0a3.68,3.68 0 1,0 -7.36,0M340.63,540.47a3.27,3.27 0 1,0 6.55,0a3.27,3.27 0 1,0 -6.55,0M347.33,542a2.67,2.67 0 1,0 5.34,0a2.67,2.67 0 1,0 -5.34,0M355.9,538.6a3.2,3.2 0 1,0 6.4,0a3.2,3.2 0 1,0 -6.4,0M361.44,536.85a3.41,3.41 0 1,0 6.82,0a3.41,3.41 0 1,0 -6.82,0" fill="#7000d8"/>
<path d="M422.38,682.13a3.98,3.98 0 1,0 7.95,0a3.98,3.98 0 1,0 -7.95,0M312.57,615.78a4.8,4.8 0 1,0 9.6,0a4.8,4.8 0 1,0 -9.6,0M367.44,573.91a2.48,2.48 0 1,0 4.95,0a2.48,2.48 0 1,0 -4.95,0M301.84,624.66a4.53,4.53 0 1,0 9.06,0a4.53,4.53 0 1,0 -9.06,0M358.32,625.89a4.34,4.34 0 1,0 8.67,0a4.34,4.34 0 1,0 -8.67,0M373.91,626.07a4.56,4.56 0 1,0 9.11,0a4.56,4.56 0 1,0 -9.11,0M388.59,566.23a3.94,3.94 0 1,0 7.89,0a3.94,3.94 0 1,0 -7.89,0M342.7,624.68a3.1,3.1 0 1,0 6.2,0a3.1,3.1 0 1,0 -6.2,0M414.44,580.2a3.22,3.22 0 1,0 6.44,0a3.22,3.22 0 1,0 -6.44,0M338.27,648.72a2.71,2.71 0 1,0 5.43,0a2.71,2.71 0 1,0 -5.43,0M287.05,614.49a4.38,4.38 0 1,0 8.77,0a4.38,4.38 0 1,0 -8.77,0M338.22,585.43a3.63,3.63 0 1,0 7.27,0a3.63,3.63 0 1,0 -7.27,0M314.38,555.61a4.05,4.05 0 1,0 8.09,0a4.05,4.05 0 1,0 -8.09,0M349.14,611.73a3.88,3.88 0 1,0 7.77,0a3.88,3.88 0 1,0 -7.77,0M297.26,613.26a2.72,2.72 0 1,0 5.44,0a2.72,2.72 0 1,0 -5.44,0M406.45,681.29a3.45,3.45 0 1,0 6.9,0a3.45,3.45 0 1,0 -6.9,0M414.25,702.52a3.15,3.15 0 1,0 6.3,0a3.15,3.15 0 1,0 -6.3,0M321.33,594.06a3.86,3.86 0 1,0 7.71,0a3.86,3.86 0 1,0 -7.71,0M348.52,599.35a3.35,3.35 0 1,0 6.69,0a3.35,3.35 0 1,0 -6.69,0M305.73,587.71a3.31,3.31 0 1,0 6.63,0a3.31,3.31 0 1,0 -6.63,0M313.02,585.01a2.64,2.64 0 1,0 5.29,0a2.64,2.64 0 1,0 -5.29,0M315.59,586.85a3.64,3.64 0 1,0 7.27,0a3.64,3.64 0 1,0 -7.27,0M395.9,579.54a2.96,2.96 0 1,0 5.92,0a2.96,2.96 0 1,0 -5.92,0M386.85,606.28a3.5,3.5 0 1,0 7.01,0a3.5,3.5 0 1,0 -7.01,0M347.23,609.87a2.79,2.79 0 1,0 5.58,0a2.79,2.79 0 1,0 -5.58,0M392.13,651.25a4.32,4.32 0 1,0 8.65,0a4.32,4.32 0 1,0 -8.65,0M327.29,639.67a2.44,2.44 0 1,0 4.88,0a2.44,2.44 0 1,0 -4.88,0M307.31,566.13a4.01,4.01 0 1,0 8.03,0a4.01,4.01 0 1,0 -8.03,0M337.24,599.69a4.78,4.78 0 1,0 9.57,0a4.78,4.78 0 1,0 -9.57,0M390.12,591.06a4.32,4.32 0 1,0 8.65,0a4.32,4.32 0 1,0 -8.65,0M426.67,633.43a3.81,3.81 0 1,0 7.62,0a3.81,3.81 0 1,0 -7.62,0M364.38,659.67a2.6,2.6 0 1,0 5.19,0a2.6,2.6 0 1,0 -5.19,0M406.35,582.76a2.89,2.89 0 1,0 5.79,0a2.89,2.89 0 1,0 -5.79,0M413.37,646.14a3.49,3.49 0 1,0 6.99,0a3.49,3.49 0 1,0 -6.99,0M357.87,615.65a4.04,4.04 0 1,0 8.07,0a4.04,4.04 0 1,0 -8.07,0M295.98,620.42a2.79,2.79 0 1,0 5.58,0a2.79,2.79 0 1,0 -5.58,0M366.1,598.47a3.55,3.55 0 1,0 7.11,0a3.55,3.55 0 1,0 -7.11,0M321.67,554.03a4.62,4.62 0 1,0 9.25,0a4.62,4.62 0 1,0 -9.25,0M285.74,608.25a3.15,3.15 0 1,0 6.3,0a3.15,3.15 0 1,0 -6.3,0M414.23,607.89a3.63,3.63 0 1,0 7.27,0a3.63,3.63 0 1,0 -7.27,0M418.91,629.64a4.61,4.61 0 1,0 9.21,0a4.61,4.61 0 1,0 -9.21,0M355.46,627.05a4.79,4.79 0 1,0 9.57,0a4.79,4.79 0 1,0 -9.57,0M342.79,580.76a2.93,2.93 0 1,0 5.87,0a2.93,2.93 0 1,0 -5.87,0M375.12,673.8a2.55,2.55 0 1,0 5.1,0a2.55,2.55 0 1,0 -5.1,0M329.08,564.35a3.38,3.38 0 1,0 6.75,0a3.38,3.38 0 1,0 -6.75,0M320.45,561.34a2.6,2.6 0 1,0 5.2,0a2.6,2.6 0 1,0 -5.2,0M405.23,651.06a4.06,4.06 0 1,0 8.13,0a4.06,4.06 0 1,0 -8.13,0M329.98,545.54a3.38,3.38 0 1,0 6.77,0a3.38,3.38 0 1,0 -6.77,0M361.78,639.43a4.33,4.33 0 1,0 8.66,0a4.33,4.33 0 1,0 -8.66,0M363.7,607.34a2.77,2.77 0 1,0 5.54,0a2.77,2.77 0 1,0 -5.54,0M403.6,657.34a3.07,3.07 0 1,0 6.15,0a3.07,3.07 0 1,0 -6.15,0M350.16,555.57a3.45,3.45 0 1,0 6.91,0a3.45,3.45 0 1,0 -6.91,0M353.39,637.19a4.77,4.77 0 1,0 9.54,0a4.77,4.77 0 1,0 -9.54,0M322.82,635.6a2.69,2.69 0 1,0 5.38,0a2.69,2.69 0 1,0 -5.38,0M338.59,606.52a2.44,2.44 0 1,0 4.87,0a2.44,2.44 0 1,0 -4.87,0M379.63,554.65a4.47,4.47 0 1,0 8.93,0a4.47,4.47 0 1,0 -8.93,0M347.18,592.63a3.08,3.08 0 1,0 6.16,0a3.08,3.08 0 1,0 -6.16,0M349.84,554.72a2.73,2.73 0 1,0 5.46,0a2.73,2.73 0 1,0 -5.46,0M315.05,626.26a3.37,3.37 0 1,0 6.75,0a3.37,3.37 0 1,0 -6.75,0M365.69,677.77a4.36,4.36 0 1,0 8.71,0a4.36,4.36 0 1,0 -8.71,0M286.65,599.69a4.04,4.04 0 1,0 8.08,0a4.04,4.04 0 1,0 -8.08,0M429.24,648.06a3.1,3.1 0 1,0 6.19,0a3.1,3.1 0 1,0 -6.19,0M307.74,585.28a3.12,3.12 0 1,0 6.24,0a3.12,3.12 0 1,0 -6.24,0M377.29,557.94a3.35,3.35 0 1,0 6.7,0a3.35,3.35 0 1,0 -6.7,0M320.16,572.36a3.51,3.51 0 1,0 7.02,0a3.51,3.51 0 1,0 -7.02,0M344.94,618.23a3.36,3.36 0 1,0 6.73,0a3.36,3.36 0 1,0 -6.73,0M345.13,555.88a3.3,3.3 0 1,0 6.61,0a3.3,3.3 0 1,0 -6.61,0M404.51,609.53a2.76,2.76 0 1,0 5.51,0a2.76,2.76 0 1,0 -5.51,0M390.39,646.27a2.65,2.65 0 1,0 5.3,0a2.65,2.65 0 1,0 -5.3,0M306.73,587.75a3.72,3.72 0 1,0 7.44,0a3.72,3.72 0 1,0 -7.44,0M293.86,619.02a2.4,2.4 0 1,0 4.8,0a2.4,2.4 0 1,0 -4.8,0M381.86,665.03a2.83,2.83 0 1,0 5.66,0a2.83,2.83 0 1,0 -5.66,0M334.38,600.6a3.65,3.65 0 1,0 7.3,0a3.65,3.65 0 1,0 -7.3,0M306.35,601.94a3.27,3.27 0 1,0 6.53,0a3.27,3.27 0 1,0 -6.53,0M362.42,635.59a4.42,4.42 0 1,0 8.83,0a4.42,4.42 0 1,0 -8.83,0M391.95,658.75a4.03,4.03 0 1,0 8.05,0a4.03,4.03 0 1,0 -8.05,0M391.66,586.39a3.93,3.93 0 1,0 7.86,0a3.93,3.93 0 1,0 -7.86,0M348.32,589.4a4.13,4.13 0 1,0 8.25,0a4.13,4.13 0 1,0 -8.25,0M349.63,605.8a3.83,3.83 0 1,0 7.66,0a3.83,3.83 0 1,0 -7.66,0M352.88,607.96a4,4 0 1,0 8,0a4,4 0 1,0 -8,0M387.47,702.51a3.37,3.37 0 1,0 6.73,0a3.37,3.37 0 1,0 -6.73,0M302.34,622.95a4.78,4.78 0 1,0 9.56,0a4.78,4.78 0 1,0 -9.56,0M308.86,596.74a4.54,4.54 0 1,0 9.08,0a4.54,4.54 0 1,0 -9.08,0M365.68,592.11a4.76,4.76 0 1,0 9.52,0a4.76,4.76 0 1,0 -9.52,0M387.6,571.46a4.48,4.48 0 1,0 8.95,0a4.48,4.48 0 1,0 -8.95,0M431.6,648.91a3.84,3.84 0 1,0 7.68,0a3.84,3.84 0 1,0 -7.68,0M388.21,591.03a3.62,3.62 0 1,0 7.23,0a3.62,3.62 0 1,0 -7.23,0M363.09,614.3a4.61,4.61 0 1,0 9.22,0a4.61,4.61 0 1,0 -9.22,0M372.37,592.44a4.79,4.79 0 1,0 9.58,0a4.79,4.79 0 1,0 -9.58,0M372.13,619.66a4.41,4.41 0 1,0 8.82,0a4.41,4.41 0 1,0 -8.82,0M370,666.61a2.51,2.51 0 1,0 5.02,0a2.51,2.51 0 1,0 -5.02,0M449.83,649.15a4,4 0 1,0 8.01,0a4,4 0 1,0 -8.01,0M351.05,573.93a3.87,3.87 0 1,0 7.75,0a3.87,3.87 0 1,0 -7.75,0M363.62,679.88a4.65,4.65 0 1,0 9.29,0a4.65,4.65 0 1,0 -9.29,0M289.54,600.23a3.7,3.7 0 1,0 7.4,0a3.7,3.7 0 1,0 -7.4,0M310.54,610.22a4.75,4.75 0 1,0 9.49,0a4.75,4.75 0 1,0 -9.49,0M388,582.37a3.85,3.85 0 1,0 7.7,0a3.85,3.85 0 1,0 -7.7,0M311.06,640.51a4.53,4.53 0 1,0 9.07,0a4.53,4.53 0 1,0 -9.07,0M430.75,666.53a3.18,3.18 0 1,0 6.35,0a3.18,3.18 0 1,0 -6.35,0M352.59,585.34a3.1,3.1 0 1,0 6.2,0a3.1,3.1 0 1,0 -6.2,0M398.72,564.82a3.94,3.94 0 1,0 7.87,0a3.94,3.94 0 1,0 -7.87,0M402.49,705.28a3.3,3.3 0 1,0 6.6,0a3.3,3.3 0 1,0 -6.6,0M381.48,663.25a2.56,2.56 0 1,0 5.12,0a2.56,2.56 0 1,0 -5.12,0M353.02,641.34a2.43,2.43 0 1,0 4.86,0a2.43,2.43 0 1,0 -4.86,0M364.42,684.06a3.12,3.12 0 1,0 6.25,0a3.12,3.12 0 1,0 -6.25,0M334.76,659.11a3.75,3.75 0 1,0 7.49,0a3.75,3.75 0 1,0 -7.49,0M368.96,687.53a3.53,3.53 0 1,0 7.06,0a3.53,3.53 0 1,0 -7.06,0M399.56,680.2a3.68,3.68 0 1,0 7.37,0a3.68,3.68 0 1,0 -7.37,0M355.06,538.95a3.24,3.24 0 1,0 6.47,0a3.24,3.24 0 1,0 -6.47,0M413.47,631.34a3.98,3.98 0 1,0 7.96,0a3.98,3.98 0 1,0 -7.96,0M344.09,660.22a3.08,3.08 0 1,0 6.15,0a3.08,3.08 0 1,0 -6.15,0M303.2,597.75a3.22,3.22 0 1,0 6.44,0a3.22,3.22 0 1,0 -6.44,0M386.25,616.66a4.59,4.59 0 1,0 9.18,0a4.59,4.59 0 1,0 -9.18,0M372.39,548.68a4.03,4.03 0 1,0 8.05,0a4.03,4.03 0 1,0 -8.05,0M388.87,625.69a2.73,2.73 0 1,0 5.46,0a2.73,2.73 0 1,0 -5.46,0M318.13,560.22a2.71,2.71 0 1,0 5.43,0a2.71,2.71 0 1,0 -5.43,0M376.22,694.79a3.04,3.04 0 1,0 6.08,0a3.04,3.04 0 1,0 -6.08,0M322.91,613.95a3.77,3.77 0 1,0 7.54,0a3.77,3.77 0 1,0 -7.54,0M415.69,684.34a4.58,4.58 0 1,0 9.17,0a4.58,4.58 0 1,0 -9.17,0M339.47,570.3a3.69,3.69 0 1,0 7.37,0a3.69,3.69 0 1,0 -7.37,0M348.9,543.4a2.82,2.82 0 1,0 5.65,0a2.82,2.82 0 1,0 -5.65,0M393.13,558.66a4.76,4.76 0 1,0 9.53,0a4.76,4.76 0 1,0 -9.53,0M327.07,571.39a3.72,3.72 0 1,0 7.44,0a3.72,3.72 0 1,0 -7.44,0M339.72,577.73a4.38,4.38 0 1,0 8.76,0a4.38,4.38 0 1,0 -8.76,0M343.96,542.99a3.01,3.01 0 1,0 6.03,0a3.01,3.01 0 1,0 -6.03,0M404.89,596.23a4.1,4.1 0 1,0 8.2,0a4.1,4.1 0 1,0 -8.2,0M417.4,590.66a3.05,3.05 0 1,0 6.11,0a3.05,3.05 0 1,0 -6.11,0M329.8,642.35a2.83,2.83 0 1,0 5.66,0a2.83,2.83 0 1,0 -5.66,0M390.11,563.47a4.39,4.39 0 1,0 8.79,0a4.39,4.39 0 1,0 -8.79,0M397.16,561.16a3.17,3.17 0 1,0 6.35,0a3.17,3.17 0 1,0 -6.35,0M330.26,556.53a3.22,3.22 0 1,0 6.45,0a3.22,3.22 0 1,0 -6.45,0M367.59,674.37a3.13,3.13 0 1,0 6.26,0a3.13,3.13 0 1,0 -6.26,0M346.45,630.1a3.48,3.48 0 1,0 6.96,0a3.48,3.48 0 1,0 -6.96,0M364.03,631.61a4.7,4.7 0 1,0 9.41,0a4.7,4.7 0 1,0 -9.41,0" fill="#7400dc"/>
<path d="M404.71,655.11a3.84,3.84 0 1,0 7.67,0a3.84,3.84 0 1,0 -7.67,0M338.19,569.29a3.36,3.36 0 1,0 6.73,0a3.36,3.36 0 1,0 -6.73,0M310.64,605.94a3.76,3.76 0 1,0 7.53,0a3.76,3.76 0 1,0 -7.53,0M405.59,623.05a3.47,3.47 0 1,0 6.94,0a3.47,3.47 0 1,0 -6.94,0M318.23,580.72a3.62,3.62 0 1,0 7.25,0a3.62,3.62 0 1,0 -7.25,0M395.79,680.82a2.88,2.88 0 1,0 5.75,0a2.88,2.88 0 1,0 -5.75,0M327.71,580.64a3.9,3.9 0 1,0 7.8,0a3.9,3.9 0 1,0 -7.8,0M372.71,567.41a4.2,4.2 0 1,0 8.41,0a4.2,4.2 0 1,0 -8.41,0M337.58,658.78a4.26,4.26 0 1,0 8.52,0a4.26,4.26 0 1,0 -8.52,0M371.21,588.4a2.65,2.65 0 1,0 5.31,0a2.65,2.65 0 1,0 -5.31,0M292.03,602.65a4.12,4.12 0 1,0 8.24,0a4.12,4.12 0 1,0 -8.24,0M455.98,650.06a4.08,4.08 0 1,0 8.16,0a4.08,4.08 0 1,0 -8.16,0M383.1,592.79a3.23,3.23 0 1,0 6.46,0a3.23,3.23 0 1,0 -6.46,0M461.41,662.74a4.3,4.3 0 1,0 8.61,0a4.3,4.3 0 1,0 -8.61,0M347.7,546.08a3.19,3.19 0 1,0 6.37,0a3.19,3.19 0 1,0 -6.37,0M320.67,547.22a3.59,3.59 0 1,0 7.19,0a3.59,3.59 0 1,0 -7.19,0M288.2,611.61a4.51,4.51 0 1,0 9.03,0a4.51,4.51 0 1,0 -9.03,0M347.2,597.4a3.97,3.97 0 1,0 7.94,0a3.97,3.97 0 1,0 -7.94,0M434.08,638.65a2.93,2.93 0 1,0 5.85,0a2.93,2.93 0 1,0 -5.85,0M360.69,600.37a4.63,4.63 0 1,0 9.26,0a4.63,4.63 0 1,0 -9.26,0M319.53,642.88a2.62,2.62 0 1,0 5.24,0a2.62,2.62 0 1,0 -5.24,0M362.58,549.91a4.55,4.55 0 1,0 9.11,0a4.55,4.55 0 1,0 -9.11,0M397.69,561.93a4.68,4.68 0 1,0 9.36,0a4.68,4.68 0 1,0 -9.36,0M330.49,624.53a3.24,3.24 0 1,0 6.48,0a3.24,3.24 0 1,0 -6.48,0M437.23,642.86a3.06,3.06 0 1,0 6.12,0a3.06,3.06 0 1,0 -6.12,0M420.3,658.6a4.67,4.67 0 1,0 9.35,0a4.67,4.67 0 1,0 -9.35,0M384.42,693.21a4.25,4.25 0 1,0 8.51,0a4.25,4.25 0 1,0 -8.51,0M363.05,670.74a3.48,3.48 0 1,0 6.97,0a3.48,3.48 0 1,0 -6.97,0M351.74,653.55a3.6,3.6 0 1,0 7.2,0a3.6,3.6 0 1,0 -7.2,0M458.22,655.44a4.43,4.43 0 1,0 8.85,0a4.43,4.43 0 1,0 -8.85,0M374.21,677.21a2.76,2.76 0 1,0 5.52,0a2.76,2.76 0 1,0 -5.52,0M364.8,598.27a3.59,3.59 0 1,0 7.17,0a3.59,3.59 0 1,0 -7.17,0M367.35,615.54a4.15,4.15 0 1,0 8.3,0a4.15,4.15 0 1,0 -8.3,0M312.01,558.53a3.95,3.95 0 1,0 7.9,0a3.95,3.95 0 1,0 -7.9,0M320.69,579.62a2.93,2.93 0 1,0 5.86,0a2.93,2.93 0 1,0 -5.86,0M384.83,588.93a3.16,3.16 0 1,0 6.33,0a3.16,3.16 0 1,0 -6.33,0M315.82,622.13a4.21,4.21 0 1,0 8.42,0a4.21,4.21 0 1,0 -8.42,0M392.58,676.47a3.78,3.78 0 1,0 7.55,0a3.78,3.78 0 1,0 -7.55,0M320.64,571.21a3.04,3.04 0 1,0 6.08,0a3.04,3.04 0 1,0 -6.08,0M355.84,654.71a3.83,3.83 0 1,0 7.66,0a3.83,3.83 0 1,0 -7.66,0M306.02,636.03a2.78,2.78 0 1,0 5.57,0a2.78,2.78 0 1,0 -5.57,0M361.57,616.8a2.93,2.93 0 1,0 5.87,0a2.93,2.93 0 1,0 -5.87,0M422.19,662.39a3.08,3.08 0 1,0 6.17,0a3.08,3.08 0 1,0 -6.17,0M362.31,648.5a2.98,2.98 0 1,0 5.95,0a2.98,2.98 0 1,0 -5.95,0M313.95,580.23a3.32,3.32 0 1,0 6.64,0a3.32,3.32 0 1,0 -6.64,0M410.43,578.49a4.01,4.01 0 1,0 8.02,0a4.01,4.01 0 1,0 -8.02,0M371.23,556.89a4.07,4.07 0 1,0 8.15,0a4.07,4.07 0 1,0 -8.15,0M389.8,702.54a4.29,4.29 0 1,0 8.59,0a4.29,4.29 0 1,0 -8.59,0M415.96,613.13a4.21,4.21 0 1,0 8.42,0a4.21,4.21 0 1,0 -8.42,0M320.58,592.88a4.13,4.13 0 1,0 8.25,0a4.13,4.13 0 1,0 -8.25,0M352.89,566.97a4.17,4.17 0 1,0 8.33,0a4.17,4.17 0 1,0 -8.33,0M399.54,567.41a3.79,3.79 0 1,0 7.58,0a3.79,3.79 0 1,0 -7.58,0M390.13,574.84a2.88,2.88 0 1,0 5.76,0a2.88,2.88 0 1,0 -5.76,0M389.17,623.6a3.62,3.62 0 1,0 7.25,0a3.62,3.62 0 1,0 -7.25,0M392.26,599.79a3.65,3.65 0 1,0 7.29,0a3.65,3.65 0 1,0 -7.29,0M351.37,672.24a4.75,4.75 0 1,0 9.5,0a4.75,4.75 0 1,0 -9.5,0M426.87,663.37a3.15,3.15 0 1,0 6.29,0a3.15,3.15 0 1,0 -6.29,0M449.75,653.98a2.62,2.62 0 1,0 5.25,0a2.62,2.62 0 1,0 -5.25,0M382.63,657.99a2.72,2.72 0 1,0 5.45,0a2.72,2.72 0 1,0 -5.45,0M394.67,701.58a4.35,4.35 0 1,0 8.69,0a4.35,4.35 0 1,0 -8.69,0M406.09,577.76a3.03,3.03 0 1,0 6.07,0a3.03,3.03 0 1,0 -6.07,0M358.68,664.47a2.67,2.67 0 1,0 5.35,0a2.67,2.67 0 1,0 -5.35,0M353.27,588.69a3.88,3.88 0 1,0 7.77,0a3.88,3.88 0 1,0 -7.77,0M390.84,577.14a2.59,2.59 0 1,0 5.18,0a2.59,2.59 0 1,0 -5.18,0M321.14,546.74a4.01,4.01 0 1,0 8.02,0a4.01,4.01 0 1,0 -8.02,0M403.05,662.01a2.68,2.68 0 1,0 5.37,0a2.68,2.68 0 1,0 -5.37,0M385.76,678.15a3.96,3.96 0 1,0 7.93,0a3.96,3.96 0 1,0 -7.93,0M386.78,606.48a3.87,3.87 0 1,0 7.75,0a3.87,3.87 0 1,0 -7.75,0M296.47,586.81a4.35,4.35 0 1,0 8.69,0a4.35,4.35 0 1,0 -8.69,0M375.57,644.57a3.73,3.73 0 1,0 7.45,0a3.73,3.73 0 1,0 -7.45,0M357.65,637.6a2.64,2.64 0 1,0 5.28,0a2.64,2.64 0 1,0 -5.28,0M333.59,633.61a3.08,3.08 0 1,0 6.15,0a3.08,3.08 0 1,0 -6.15,0M384.9,565.42a2.77,2.77 0 1,0 5.55,0a2.77,2.77 0 1,0 -5.55,0M320.71,578.49a3.82,3.82 0 1,0 7.65,0a3.82,3.82 0 1,0 -7.65,0M368,607.05a2.99,2.99 0 1,0 5.98,0a2.99,2.99 0 1,0 -5.98,0M287.12,611.59a3.49,3.49 0 1,0 6.97,0a3.49,3.49 0 1,0 -6.97,0M357.57,680.84a3.81,3.81 0 1,0 7.61,0a3.81,3.81 0 1,0 -7.61,0M390.93,634.64a4.7,4.7 0 1,0 9.4,0a4.7,4.7 0 1,0 -9.4,0M400.42,605.31a3.6,3.6 0 1,0 7.2,0a3.6,3.6 0 1,0 -7.2,0M380.55,552.88a3.37,3.37 0 1,0 6.74,0a3.37,3.37 0 1,0 -6.74,0M434.13,637.69a4.16,4.16 0 1,0 8.31,0a4.16,4.16 0 1,0 -8.31,0M369.09,552.85a3.2,3.2 0 1,0 6.39,0a3.2,3.2 0 1,0 -6.39,0M370.08,643.87a4.09,4.09 0 1,0 8.18,0a4.09,4.09 0 1,0 -8.18,0M354.92,629.05a3.18,3.18 0 1,0 6.37,0a3.18,3.18 0 1,0 -6.37,0M402.04,630.64a4.62,4.62 0 1,0 9.23,0a4.62,4.62 0 1,0 -9.23,0M348.67,553.52a3.14,3.14 0 1,0 6.28,0a3.14,3.14 0 1,0 -6.28,0M374.11,622.75a4.35,4.35 0 1,0 8.7,0a4.35,4.35 0 1,0 -8.7,0M437.7,665.87a2.86,2.86 0 1,0 5.72,0a2.86,2.86 0 1,0 -5.72,0M381.28,644.64a3.73,3.73 0 1,0 7.46,0a3.73,3.73 0 1,0 -7.46,0M376.38,608.37a3.79,3.79 0 1,0 7.58,0a3.79,3.79 0 1,0 -7.58,0M364.62,587.41a3.22,3.22 0 1,0 6.45,0a3.22,3.22 0 1,0 -6.45,0M324.71,579.35a2.97,2.97 0 1,0 5.93,0a2.97,2.97 0 1,0 -5.93,0M383.6,696.52a4.05,4.05 0 1,0 8.11,0a4.05,4.05 0 1,0 -8.11,0M412.17,605.52a3.11,3.11 0 1,0 6.23,0a3.11,3.11 0 1,0 -6.23,0M420.14,639.02a3.66,3.66 0 1,0 7.33,0a3.66,3.66 0 1,0 -7.33,0M407.12,578.51a3.39,3.39 0 1,0 6.77,0a3.39,3.39 0 1,0 -6.77,0M443.04,660.59a3.37,3.37 0 1,0 6.74,0a3.37,3.37 0 1,0 -6.74,0M341.92,588.81a2.51,2.51 0 1,0 5.03,0a2.51,2.51 0 1,0 -5.03,0M404.46,647.6a3.59,3.59 0 1,0 7.17,0a3.59,3.59 0 1,0 -7.17,0M327.6,586.12a3.46,3.46 0 1,0 6.91,0a3.46,3.46 0 1,0 -6.91,0M310.47,620.89a3.48,3.48 0 1,0 6.95,0a3.48,3.48 0 1,0 -6.95,0M431.61,651.23a4.08,4.08 0 1,0 8.15,0a4.08,4.08 0 1,0 -8.15,0M451.34,647.25a3.77,3.77 0 1,0 7.55,0a3.77,3.77 0 1,0 -7.55,0M431.98,633.29a3.76,3.76 0 1,0 7.52,0a3.76,3.76 0 1,0 -7.52,0M357.32,627.4a2.83,2.83 0 1,0 5.66,0a2.83,2.83 0 1,0 -5.66,0M401.92,673.45a4.63,4.63 0 1,0 9.27,0a4.63,4.63 0 1,0 -9.27,0M319.82,573.14a3.36,3.36 0 1,0 6.73,0a3.36,3.36 0 1,0 -6.73,0M368.73,584.14a2.63,2.63 0 1,0 5.27,0a2.63,2.63 0 1,0 -5.27,0M401.21,622.04a4.45,4.45 0 1,0 8.9,0a4.45,4.45 0 1,0 -8.9,0M310.87,581.6a3.19,3.19 0 1,0 6.38,0a3.19,3.19 0 1,0 -6.38,0" fill="#7a00e6"/>
<path d="M363.29,559.19a3.13,3.13 0 1,0 6.26,0a3.13,3.13 0 1,0 -6.26,0M324.99,632.88a4.46,4.46 0 1,0 8.93,0a4.46,4.46 0 1,0 -8.93,0M332.22,584.66a4.49,4.49 0 1,0 8.98,0a4.49,4.49 0 1,0 -8.98,0M364.07,593.42a3.52,3.52 0 1,0 7.03,0a3.52,3.52 0 1,0 -7.03,0M355.58,558.07a3.29,3.29 0 1,0 6.58,0a3.29,3.29 0 1,0 -6.58,0M437.14,653.97a3.35,3.35 0 1,0 6.69,0a3.35,3.35 0 1,0 -6.69,0M333.29,629.46a3.92,3.92 0 1,0 7.85,0a3.92,3.92 0 1,0 -7.85,0M416.02,700.82a3.29,3.29 0 1,0 6.57,0a3.29,3.29 0 1,0 -6.57,0M443.85,646.36a4.37,4.37 0 1,0 8.74,0a4.37,4.37 0 1,0 -8.74,0M386.84,558.8a4.64,4.64 0 1,0 9.28,0a4.64,4.64 0 1,0 -9.28,0M340.97,544.89a4.14,4.14 0 1,0 8.28,0a4.14,4.14 0 1,0 -8.28,0M396.35,604.79a2.82,2.82 0 1,0 5.63,0a2.82,2.82 0 1,0 -5.63,0M342.84,556.24a3.5,3.5 0 1,0 7,0a3.5,3.5 0 1,0 -7,0M332.36,614.89a4.16,4.16 0 1,0 8.32,0a4.16,4.16 0 1,0 -8.32,0M420.19,680.65a3.98,3.98 0 1,0 7.97,0a3.98,3.98 0 1,0 -7.97,0M425.17,667.11a4.36,4.36 0 1,0 8.72,0a4.36,4.36 0 1,0 -8.72,0M366.8,663.54a4.15,4.15 0 1,0 8.3,0a4.15,4.15 0 1,0 -8.3,0M286.5,621.69a3.63,3.63 0 1,0 7.25,0a3.63,3.63 0 1,0 -7.25,0M418,663.44a3.69,3.69 0 1,0 7.39,0a3.69,3.69 0 1,0 -7.39,0M320.53,565.09a4.74,4.74 0 1,0 9.48,0a4.74,4.74 0 1,0 -9.48,0M368.01,637a3.05,3.05 0 1,0 6.11,0a3.05,3.05 0 1,0 -6.11,0M341.15,666.57a4.79,4.79 0 1,0 9.58,0a4.79,4.79 0 1,0 -9.58,0M318.75,549.67a3.82,3.82 0 1,0 7.63,0a3.82,3.82 0 1,0 -7.63,0M369.27,569.05a3.6,3.6 0 1,0 7.2,0a3.6,3.6 0 1,0 -7.2,0M415.8,679.21a3.52,3.52 0 1,0 7.03,0a3.52,3.52 0 1,0 -7.03,0M307.12,629.75a3.09,3.09 0 1,0 6.17,0a3.09,3.09 0 1,0 -6.17,0M420.53,607.51a3.83,3.83 0 1,0 7.67,0a3.83,3.83 0 1,0 -7.67,0M353.29,578.54a3.56,3.56 0 1,0 7.12,0a3.56,3.56 0 1,0 -7.12,0M341.66,603a4.46,4.46 0 1,0 8.93,0a4.46,4.46 0 1,0 -8.93,0M347.33,656.11a3.77,3.77 0 1,0 7.54,0a3.77,3.77 0 1,0 -7.54,0M383.45,662.08a3.24,3.24 0 1,0 6.49,0a3.24,3.24 0 1,0 -6.49,0M366.64,676.23a4.62,4.62 0 1,0 9.23,0a4.62,4.62 0 1,0 -9.23,0M384.72,604.58a4.6,4.6 0 1,0 9.19,0a4.6,4.6 0 1,0 -9.19,0M310.76,567.4a3.12,3.12 0 1,0 6.24,0a3.12,3.12 0 1,0 -6.24,0M349.93,628.31a2.78,2.78 0 1,0 5.56,0a2.78,2.78 0 1,0 -5.56,0M286.03,607.59a4.62,4.62 0 1,0 9.24,0a4.62,4.62 0 1,0 -9.24,0M323.73,541.55a2.88,2.88 0 1,0 5.75,0a2.88,2.88 0 1,0 -5.75,0M364.86,652.77a3.13,3.13 0 1,0 6.27,0a3.13,3.13 0 1,0 -6.27,0M415.76,608.65a3.81,3.81 0 1,0 7.62,0a3.81,3.81 0 1,0 -7.62,0M379.08,663.4a3.63,3.63 0 1,0 7.25,0a3.63,3.63 0 1,0 -7.25,0M393.58,688.05a2.74,2.74 0 1,0 5.48,0a2.74,2.74 0 1,0 -5.48,0M363.56,565.91a2.62,2.62 0 1,0 5.24,0a2.62,2.62 0 1,0 -5.24,0M419.54,683.4a3.98,3.98 0 1,0 7.96,0a3.98,3.98 0 1,0 -7.96,0M404.07,697.65a3.15,3.15 0 1,0 6.29,0a3.15,3.15 0 1,0 -6.29,0M300.35,595.94a3.89,3.89 0 1,0 7.77,0a3.89,3.89 0 1,0 -7.77,0M281.05,608.8a2.5,2.5 0 1,0 5.01,0a2.5,2.5 0 1,0 -5.01,0M297.76,590.16a4.03,4.03 0 1,0 8.06,0a4.03,4.03 0 1,0 -8.06,0M286.08,600.32a3.84,3.84 0 1,0 7.68,0a3.84,3.84 0 1,0 -7.68,0M345.65,598.29a2.64,2.64 0 1,0 5.28,0a2.64,2.64 0 1,0 -5.28,0M382.75,546.67a4.07,4.07 0 1,0 8.13,0a4.07,4.07 0 1,0 -8.13,0M326.47,645.64a4.09,4.09 0 1,0 8.17,0a4.09,4.09 0 1,0 -8.17,0M336.48,651.48a4.01,4.01 0 1,0 8.02,0a4.01,4.01 0 1,0 -8.02,0M372.9,629.4a4.37,4.37 0 1,0 8.75,0a4.37,4.37 0 1,0 -8.75,0M385.61,640.12a3.32,3.32 0 1,0 6.63,0a3.32,3.32 0 1,0 -6.63,0M384.92,631.71a4.08,4.08 0 1,0 8.16,0a4.08,4.08 0 1,0 -8.16,0M295.97,605.75a3.16,3.16 0 1,0 6.33,0a3.16,3.16 0 1,0 -6.33,0M312.7,634.14a2.79,2.79 0 1,0 5.57,0a2.79,2.79 0 1,0 -5.57,0M373.72,539.06a2.9,2.9 0 1,0 5.8,0a2.9,2.9 0 1,0 -5.8,0M356.69,648.45a3.51,3.51 0 1,0 7.01,0a3.51,3.51 0 1,0 -7.01,0M400.29,643.5a3.53,3.53 0 1,0 7.06,0a3.53,3.53 0 1,0 -7.06,0M302.41,586.59a2.74,2.74 0 1,0 5.49,0a2.74,2.74 0 1,0 -5.49,0M337.23,628.71a2.68,2.68 0 1,0 5.35,0a2.68,2.68 0 1,0 -5.35,0M419.23,598.33a3.88,3.88 0 1,0 7.76,0a3.88,3.88 0 1,0 -7.76,0M362.51,574.21a3.17,3.17 0 1,0 6.34,0a3.17,3.17 0 1,0 -6.34,0M394.44,564.48a4.65,4.65 0 1,0 9.3,0a4.65,4.65 0 1,0 -9.3,0M396.47,570.09a4.34,4.34 0 1,0 8.69,0a4.34,4.34 0 1,0 -8.69,0M386.83,548.74a3.26,3.26 0 1,0 6.53,0a3.26,3.26 0 1,0 -6.53,0M389.04,623.49a3.34,3.34 0 1,0 6.67,0a3.34,3.34 0 1,0 -6.67,0M367.66,679.01a4.04,4.04 0 1,0 8.08,0a4.04,4.04 0 1,0 -8.08,0M378.7,559.71a4.75,4.75 0 1,0 9.5,0a4.75,4.75 0 1,0 -9.5,0M333.16,549.19a3.35,3.35 0 1,0 6.7,0a3.35,3.35 0 1,0 -6.7,0M411.13,656.22a2.73,2.73 0 1,0 5.45,0a2.73,2.73 0 1,0 -5.45,0M363.38,671.12a4.35,4.35 0 1,0 8.71,0a4.35,4.35 0 1,0 -8.71,0M281,613.99a3.9,3.9 0 1,0 7.79,0a3.9,3.9 0 1,0 -7.79,0M415.12,602.43a4.44,4.44 0 1,0 8.87,0a4.44,4.44 0 1,0 -8.87,0M410.56,673.39a3.46,3.46 0 1,0 6.93,0a3.46,3.46 0 1,0 -6.93,0M294.78,604.04a2.79,2.79 0 1,0 5.58,0a2.79,2.79 0 1,0 -5.58,0M299.33,603.17a2.98,2.98 0 1,0 5.96,0a2.98,2.98 0 1,0 -5.96,0M295.98,621.19a3.63,3.63 0 1,0 7.25,0a3.63,3.63 0 1,0 -7.25,0M407.3,587.87a3.09,3.09 0 1,0 6.18,0a3.09,3.09 0 1,0 -6.18,0M368.2,605.6a4.08,4.08 0 1,0 8.15,0a4.08,4.08 0 1,0 -8.15,0M407.63,632.92a2.98,2.98 0 1,0 5.95,0a2.98,2.98 0 1,0 -5.95,0M386.46,647.32a2.7,2.7 0 1,0 5.4,0a2.7,2.7 0 1,0 -5.4,0M420.63,598.79a3.04,3.04 0 1,0 6.08,0a3.04,3.04 0 1,0 -6.08,0M393.24,660.09a4.77,4.77 0 1,0 9.54,0a4.77,4.77 0 1,0 -9.54,0M420.81,634.16a3.39,3.39 0 1,0 6.79,0a3.39,3.39 0 1,0 -6.79,0M331.16,599.15a4.71,4.71 0 1,0 9.42,0a4.71,4.71 0 1,0 -9.42,0M469.08,660.08a3.19,3.19 0 1,0 6.38,0a3.19,3.19 0 1,0 -6.38,0M324.29,577.44a4.08,4.08 0 1,0 8.16,0a4.08,4.08 0 1,0 -8.16,0M374.22,649.2a4,4 0 1,0 7.99,0a4,4 0 1,0 -7.99,0M330,555.29a3.63,3.63 0 1,0 7.26,0a3.63,3.63 0 1,0 -7.26,0M400.21,623.75a4.47,4.47 0 1,0 8.93,0a4.47,4.47 0 1,0 -8.93,0M341.85,560.76a4.28,4.28 0 1,0 8.56,0a4.28,4.28 0 1,0 -8.56,0M449.67,654.72a4.22,4.22 0 1,0 8.44,0a4.22,4.22 0 1,0 -8.44,0M336.35,660.14a2.74,2.74 0 1,0 5.49,0a2.74,2.74 0 1,0 -5.49,0M422.76,646.25a4.61,4.61 0 1,0 9.22,0a4.61,4.61 0 1,0 -9.22,0M426.45,633.3a3.19,3.19 0 1,0 6.38,0a3.19,3.19 0 1,0 -6.38,0M393.05,598.04a3.76,3.76 0 1,0 7.51,0a3.76,3.76 0 1,0 -7.51,0M364.99,634.56a2.64,2.64 0 1,0 5.28,0a2.64,2.64 0 1,0 -5.28,0M392.56,607.29a3.61,3.61 0 1,0 7.22,0a3.61,3.61 0 1,0 -7.22,0M392.19,610.48a3.78,3.78 0 1,0 7.55,0a3.78,3.78 0 1,0 -7.55,0M339.54,610.49a4.15,4.15 0 1,0 8.29,0a4.15,4.15 0 1,0 -8.29,0M412.01,611.7a3.1,3.1 0 1,0 6.21,0a3.1,3.1 0 1,0 -6.21,0M410.53,663.31a2.57,2.57 0 1,0 5.13,0a2.57,2.57 0 1,0 -5.13,0M401.26,683.52a2.98,2.98 0 1,0 5.96,0a2.98,2.98 0 1,0 -5.96,0M384.29,585.73a2.72,2.72 0 1,0 5.44,0a2.72,2.72 0 1,0 -5.44,0M308.73,604.13a3.13,3.13 0 1,0 6.25,0a3.13,3.13 0 1,0 -6.25,0M302.69,590.68a3.37,3.37 0 1,0 6.74,0a3.37,3.37 0 1,0 -6.74,0M383.55,557.97a2.65,2.65 0 1,0 5.29,0a2.65,2.65 0 1,0 -5.29,0M306.69,626.21a2.78,2.78 0 1,0 5.55,0a2.78,2.78 0 1,0 -5.55,0M281.99,609.9a4.04,4.04 0 1,0 8.09,0a4.04,4.04 0 1,0 -8.09,0M418.72,619.03a2.42,2.42 0 1,0 4.84,0a2.42,2.42 0 1,0 -4.84,0M300,594.37a3.7,3.7 0 1,0 7.4,0a3.7,3.7 0 1,0 -7.4,0M457.28,649.35a4.7,4.7 0 1,0 9.4,0a4.7,4.7 0 1,0 -9.4,0M420.28,665.52a3.53,3.53 0 1,0 7.06,0a3.53,3.53 0 1,0 -7.06,0M340.29,587.47a4.3,4.3 0 1,0 8.6,0a4.3,4.3 0 1,0 -8.6,0" fill="#8000f0"/>
<path d="M369.97,622.85a4.01,4.01 0 1,0 8.03,0a4.01,4.01 0 1,0 -8.03,0M436.8,639.14a3.75,3.75 0 1,0 7.5,0a3.75,3.75 0 1,0 -7.5,0M324.17,555.77a2.76,2.76 0 1,0 5.52,0a2.76,2.76 0 1,0 -5.52,0M308.12,635.53a4.3,4.3 0 1,0 8.59,0a4.3,4.3 0 1,0 -8.59,0M415.72,600.29a4.24,4.24 0 1,0 8.48,0a4.24,4.24 0 1,0 -8.48,0M403,615.63a4.66,4.66 0 1,0 9.32,0a4.66,4.66 0 1,0 -9.32,0M390.7,596.1a3.15,3.15 0 1,0 6.31,0a3.15,3.15 0 1,0 -6.31,0M338.41,547.47a2.63,2.63 0 1,0 5.25,0a2.63,2.63 0 1,0 -5.25,0M391.37,567.91a4.33,4.33 0 1,0 8.66,0a4.33,4.33 0 1,0 -8.66,0M366.41,663.87a3.65,3.65 0 1,0 7.3,0a3.65,3.65 0 1,0 -7.3,0M319.18,584.97a3.88,3.88 0 1,0 7.75,0a3.88,3.88 0 1,0 -7.75,0M290.47,601.48a2.56,2.56 0 1,0 5.12,0a2.56,2.56 0 1,0 -5.12,0M364.28,681.27a4.25,4.25 0 1,0 8.5,0a4.25,4.25 0 1,0 -8.5,0M385.34,550.82a3.53,3.53 0 1,0 7.07,0a3.53,3.53 0 1,0 -7.07,0M324.06,578.86a4.35,4.35 0 1,0 8.71,0a4.35,4.35 0 1,0 -8.71,0M401.72,588.46a4.69,4.69 0 1,0 9.38,0a4.69,4.69 0 1,0 -9.38,0M337.57,643.54a3.16,3.16 0 1,0 6.33,0a3.16,3.16 0 1,0 -6.33,0M389.69,614.25a2.46,2.46 0 1,0 4.91,0a2.46,2.46 0 1,0 -4.91,0M300.3,585.89a3.55,3.55 0 1,0 7.1,0a3.55,3.55 0 1,0 -7.1,0M320.71,595.43a4.72,4.72 0 1,0 9.44,0a4.72,4.72 0 1,0 -9.44,0M356.13,595.83a3.21,3.21 0 1,0 6.41,0a3.21,3.21 0 1,0 -6.41,0M369.25,622.38a4.68,4.68 0 1,0 9.37,0a4.68,4.68 0 1,0 -9.37,0M303.71,597.84a4.3,4.3 0 1,0 8.6,0a4.3,4.3 0 1,0 -8.6,0M382.23,694.49a2.68,2.68 0 1,0 5.36,0a2.68,2.68 0 1,0 -5.36,0M399.95,647.47a3.67,3.67 0 1,0 7.35,0a3.67,3.67 0 1,0 -7.35,0M419.28,605.21a4.69,4.69 0 1,0 9.39,0a4.69,4.69 0 1,0 -9.39,0M341.41,633.47a4.68,4.68 0 1,0 9.37,0a4.68,4.68 0 1,0 -9.37,0M375.88,620.99a4.25,4.25 0 1,0 8.49,0a4.25,4.25 0 1,0 -8.49,0M327.21,621.94a3.55,3.55 0 1,0 7.09,0a3.55,3.55 0 1,0 -7.09,0M401.66,626.5a2.91,2.91 0 1,0 5.82,0a2.91,2.91 0 1,0 -5.82,0M287.14,608.42a2.79,2.79 0 1,0 5.57,0a2.79,2.79 0 1,0 -5.57,0M375.72,633.62a3.39,3.39 0 1,0 6.78,0a3.39,3.39 0 1,0 -6.78,0M346.38,667.77a3.81,3.81 0 1,0 7.63,0a3.81,3.81 0 1,0 -7.63,0M407.59,678.25a4.77,4.77 0 1,0 9.54,0a4.77,4.77 0 1,0 -9.54,0M369.36,655.43a2.64,2.64 0 1,0 5.28,0a2.64,2.64 0 1,0 -5.28,0M356.24,653.17a2.57,2.57 0 1,0 5.13,0a2.57,2.57 0 1,0 -5.13,0M328.33,555.16a2.62,2.62 0 1,0 5.24,0a2.62,2.62 0 1,0 -5.24,0M335.24,636.31a4.73,4.73 0 1,0 9.45,0a4.73,4.73 0 1,0 -9.45,0M333.13,555.49a4.27,4.27 0 1,0 8.55,0a4.27,4.27 0 1,0 -8.55,0M378.3,577.8a3.71,3.71 0 1,0 7.41,0a3.71,3.71 0 1,0 -7.41,0M338.41,652a4.47,4.47 0 1,0 8.94,0a4.47,4.47 0 1,0 -8.94,0M300.7,593.22a4.48,4.48 0 1,0 8.96,0a4.48,4.48 0 1,0 -8.96,0M321.52,592.03a2.98,2.98 0 1,0 5.95,0a2.98,2.98 0 1,0 -5.95,0M384.26,587.2a4.26,4.26 0 1,0 8.53,0a4.26,4.26 0 1,0 -8.53,0M310.23,637.86a3.72,3.72 0 1,0 7.43,0a3.72,3.72 0 1,0 -7.43,0M293.81,598.37a3.38,3.38 0 1,0 6.77,0a3.38,3.38 0 1,0 -6.77,0M409.17,620.34a4.32,4.32 0 1,0 8.64,0a4.32,4.32 0 1,0 -8.64,0M362.94,677.48a3.68,3.68 0 1,0 7.36,0a3.68,3.68 0 1,0 -7.36,0M382.67,599.7a4.39,4.39 0 1,0 8.78,0a4.39,4.39 0 1,0 -8.78,0M308.14,620.21a2.78,2.78 0 1,0 5.55,0a2.78,2.78 0 1,0 -5.55,0M389.85,572.44a4.34,4.34 0 1,0 8.68,0a4.34,4.34 0 1,0 -8.68,0M362.84,615.2a2.85,2.85 0 1,0 5.71,0a2.85,2.85 0 1,0 -5.71,0M391.32,568.22a4.41,4.41 0 1,0 8.82,0a4.41,4.41 0 1,0 -8.82,0M428.84,632.85a2.92,2.92 0 1,0 5.84,0a2.92,2.92 0 1,0 -5.84,0M436.01,663.39a3.8,3.8 0 1,0 7.61,0a3.8,3.8 0 1,0 -7.61,0M368.07,618.64a3.32,3.32 0 1,0 6.64,0a3.32,3.32 0 1,0 -6.64,0M403.99,677.89a3.65,3.65 0 1,0 7.29,0a3.65,3.65 0 1,0 -7.29,0M406.96,670.54a4.1,4.1 0 1,0 8.21,0a4.1,4.1 0 1,0 -8.21,0M377.15,551.24a3.22,3.22 0 1,0 6.43,0a3.22,3.22 0 1,0 -6.43,0M393.44,576.44a4.66,4.66 0 1,0 9.33,0a4.66,4.66 0 1,0 -9.33,0M412.8,694.52a3.51,3.51 0 1,0 7.02,0a3.51,3.51 0 1,0 -7.02,0M371.2,646.48a2.5,2.5 0 1,0 5.01,0a2.5,2.5 0 1,0 -5.01,0M416.8,673.94a3.72,3.72 0 1,0 7.44,0a3.72,3.72 0 1,0 -7.44,0M383.68,580.69a2.79,2.79 0 1,0 5.57,0a2.79,2.79 0 1,0 -5.57,0M326.59,582.11a4.27,4.27 0 1,0 8.53,0a4.27,4.27 0 1,0 -8.53,0M323,587.38a3.4,3.4 0 1,0 6.8,0a3.4,3.4 0 1,0 -6.8,0M382.52,694.31a4.59,4.59 0 1,0 9.18,0a4.59,4.59 0 1,0 -9.18,0M407.19,684.92a3.9,3.9 0 1,0 7.8,0a3.9,3.9 0 1,0 -7.8,0M432.29,657.59a3.68,3.68 0 1,0 7.35,0a3.68,3.68 0 1,0 -7.35,0M299.34,610a3.08,3.08 0 1,0 6.16,0a3.08,3.08 0 1,0 -6.16,0M447.82,644.6a3.13,3.13 0 1,0 6.26,0a3.13,3.13 0 1,0 -6.26,0M364.39,608.43a3.02,3.02 0 1,0 6.04,0a3.02,3.02 0 1,0 -6.04,0M363.94,615.39a3.87,3.87 0 1,0 7.74,0a3.87,3.87 0 1,0 -7.74,0M357.66,633.97a3.92,3.92 0 1,0 7.84,0a3.92,3.92 0 1,0 -7.84,0M400.58,622.09a3.19,3.19 0 1,0 6.38,0a3.19,3.19 0 1,0 -6.38,0M374.55,586.32a3.68,3.68 0 1,0 7.36,0a3.68,3.68 0 1,0 -7.36,0M409.11,653.28a2.77,2.77 0 1,0 5.53,0a2.77,2.77 0 1,0 -5.53,0M367.46,562.42a4.67,4.67 0 1,0 9.34,0a4.67,4.67 0 1,0 -9.34,0M371.51,596.17a2.6,2.6 0 1,0 5.2,0a2.6,2.6 0 1,0 -5.2,0M424.82,636.15a3.91,3.91 0 1,0 7.83,0a3.91,3.91 0 1,0 -7.83,0M403.6,620.49a4.28,4.28 0 1,0 8.56,0a4.28,4.28 0 1,0 -8.56,0M383.8,664.69a4.76,4.76 0 1,0 9.52,0a4.76,4.76 0 1,0 -9.52,0M407.17,666.16a4.32,4.32 0 1,0 8.65,0a4.32,4.32 0 1,0 -8.65,0M356.69,645.27a4.65,4.65 0 1,0 9.3,0a4.65,4.65 0 1,0 -9.3,0M339.92,569.14a3.03,3.03 0 1,0 6.06,0a3.03,3.03 0 1,0 -6.06,0M323.24,626.96a3.24,3.24 0 1,0 6.48,0a3.24,3.24 0 1,0 -6.48,0M322.12,623.89a2.85,2.85 0 1,0 5.7,0a2.85,2.85 0 1,0 -5.7,0M399.95,673.25a3.53,3.53 0 1,0 7.06,0a3.53,3.53 0 1,0 -7.06,0M311.6,550.98a3.56,3.56 0 1,0 7.12,0a3.56,3.56 0 1,0 -7.12,0M411.81,614.64a2.8,2.8 0 1,0 5.61,0a2.8,2.8 0 1,0 -5.61,0M324.11,624.17a2.75,2.75 0 1,0 5.51,0a2.75,2.75 0 1,0 -5.51,0M339.94,554.66a3.48,3.48 0 1,0 6.95,0a3.48,3.48 0 1,0 -6.95,0M408.74,611.99a3.47,3.47 0 1,0 6.93,0a3.47,3.47 0 1,0 -6.93,0M347.19,595.04a4.6,4.6 0 1,0 9.19,0a4.6,4.6 0 1,0 -9.19,0M397.35,635.85a2.72,2.72 0 1,0 5.43,0a2.72,2.72 0 1,0 -5.43,0M317.24,592.08a4.36,4.36 0 1,0 8.73,0a4.36,4.36 0 1,0 -8.73,0M345.48,567.12a3.22,3.22 0 1,0 6.43,0a3.22,3.22 0 1,0 -6.43,0M311,576.56a2.73,2.73 0 1,0 5.45,0a2.73,2.73 0 1,0 -5.45,0M411.67,671.28a3.96,3.96 0 1,0 7.91,0a3.96,3.96 0 1,0 -7.91,0M337.63,544.64a4.04,4.04 0 1,0 8.08,0a4.04,4.04 0 1,0 -8.08,0M414.6,647.75a2.49,2.49 0 1,0 4.99,0a2.49,2.49 0 1,0 -4.99,0M384.69,627.63a4.59,4.59 0 1,0 9.18,0a4.59,4.59 0 1,0 -9.18,0M379.29,689.58a4.72,4.72 0 1,0 9.45,0a4.72,4.72 0 1,0 -9.45,0M337.33,630.96a4.62,4.62 0 1,0 9.24,0a4.62,4.62 0 1,0 -9.24,0M370.9,677.13a3.29,3.29 0 1,0 6.59,0a3.29,3.29 0 1,0 -6.59,0M339.17,579.88a3.95,3.95 0 1,0 7.91,0a3.95,3.95 0 1,0 -7.91,0M363.76,627.55a3.79,3.79 0 1,0 7.58,0a3.79,3.79 0 1,0 -7.58,0M379.84,627.61a4.74,4.74 0 1,0 9.48,0a4.74,4.74 0 1,0 -9.48,0M466.7,659.73a2.58,2.58 0 1,0 5.16,0a2.58,2.58 0 1,0 -5.16,0M391.02,692.02a3.83,3.83 0 1,0 7.67,0a3.83,3.83 0 1,0 -7.67,0" fill="#8400f6"/>
<path d="M321.63,621.17a1.17,1.17 0 1,0 2.35,0a1.17,1.17 0 1,0 -2.35,0M350.79,634.88a1.35,1.35 0 1,0 2.7,0a1.35,1.35 0 1,0 -2.7,0M415.88,594.85a1.76,1.76 0 1,0 3.52,0a1.76,1.76 0 1,0 -3.52,0M389.38,680.66a0.88,0.88 0 1,0 1.77,0a0.88,0.88 0 1,0 -1.77,0M411.45,598.62a0.88,0.88 0 1,0 1.77,0a0.88,0.88 0 1,0 -1.77,0M335.22,551.43a1.13,1.13 0 1,0 2.26,0a1.13,1.13 0 1,0 -2.26,0M322.35,643.22a1.05,1.05 0 1,0 2.1,0a1.05,1.05 0 1,0 -2.1,0M364.94,646.95a1,1 0 1,0 2.01,0a1,1 0 1,0 -2.01,0M363.95,539.74a1,1 0 1,0 2,0a1,1 0 1,0 -2,0M468.37,662.74a0.84,0.84 0 1,0 1.67,0a0.84,0.84 0 1,0 -1.67,0M337.76,639.64a0.82,0.82 0 1,0 1.65,0a0.82,0.82 0 1,0 -1.65,0M424.05,655.18a1.39,1.39 0 1,0 2.78,0a1.39,1.39 0 1,0 -2.78,0M292.21,610.87a1.32,1.32 0 1,0 2.65,0a1.32,1.32 0 1,0 -2.65,0M372.89,678.7a1.59,1.59 0 1,0 3.18,0a1.59,1.59 0 1,0 -3.18,0M301.55,590.83a1.49,1.49 0 1,0 2.98,0a1.49,1.49 0 1,0 -2.98,0M380.55,654.14a1.79,1.79 0 1,0 3.57,0a1.79,1.79 0 1,0 -3.57,0M342.52,593.67a1.15,1.15 0 1,0 2.29,0a1.15,1.15 0 1,0 -2.29,0M318.97,612.35a1.11,1.11 0 1,0 2.22,0a1.11,1.11 0 1,0 -2.22,0M446.61,661.53a1.21,1.21 0 1,0 2.42,0a1.21,1.21 0 1,0 -2.42,0M390.97,548.28a0.91,0.91 0 1,0 1.81,0a0.91,0.91 0 1,0 -1.81,0M385.25,618.5a1.53,1.53 0 1,0 3.06,0a1.53,1.53 0 1,0 -3.06,0M399.95,570.42a1.63,1.63 0 1,0 3.25,0a1.63,1.63 0 1,0 -3.25,0M329.99,622.45a1.66,1.66 0 1,0 3.31,0a1.66,1.66 0 1,0 -3.31,0M424.18,628.08a0.87,0.87 0 1,0 1.75,0a0.87,0.87 0 1,0 -1.75,0M405.14,680.07a1.29,1.29 0 1,0 2.59,0a1.29,1.29 0 1,0 -2.59,0M353.5,570.29a1.61,1.61 0 1,0 3.23,0a1.61,1.61 0 1,0 -3.23,0M414.26,681.96a1.21,1.21 0 1,0 2.43,0a1.21,1.21 0 1,0 -2.43,0M349.37,590.68a1.31,1.31 0 1,0 2.61,0a1.31,1.31 0 1,0 -2.61,0M339.04,637.07a1.45,1.45 0 1,0 2.9,0a1.45,1.45 0 1,0 -2.9,0M293.43,616.01a1.63,1.63 0 1,0 3.27,0a1.63,1.63 0 1,0 -3.27,0M301.01,589.87a1.43,1.43 0 1,0 2.86,0a1.43,1.43 0 1,0 -2.86,0M401.01,599.92a1.46,1.46 0 1,0 2.92,0a1.46,1.46 0 1,0 -2.92,0M316.87,604.58a1.47,1.47 0 1,0 2.95,0a1.47,1.47 0 1,0 -2.95,0M324.35,600.57a1.22,1.22 0 1,0 2.45,0a1.22,1.22 0 1,0 -2.45,0M432.94,654.41a1.29,1.29 0 1,0 2.59,0a1.29,1.29 0 1,0 -2.59,0M453.64,647.63a1.78,1.78 0 1,0 3.55,0a1.78,1.78 0 1,0 -3.55,0M392.48,699.53a0.91,0.91 0 1,0 1.81,0a0.91,0.91 0 1,0 -1.81,0M337.23,570.2a1.37,1.37 0 1,0 2.74,0a1.37,1.37 0 1,0 -2.74,0M377.32,647.18a1.33,1.33 0 1,0 2.66,0a1.33,1.33 0 1,0 -2.66,0M332.95,593.13a1.26,1.26 0 1,0 2.52,0a1.26,1.26 0 1,0 -2.52,0M360.12,638.84a0.95,0.95 0 1,0 1.9,0a0.95,0.95 0 1,0 -1.9,0M322.06,591.84a1.77,1.77 0 1,0 3.53,0a1.77,1.77 0 1,0 -3.53,0M365.02,633.81a1.44,1.44 0 1,0 2.88,0a1.44,1.44 0 1,0 -2.88,0M351.44,582.37a1.02,1.02 0 1,0 2.05,0a1.02,1.02 0 1,0 -2.05,0M331.24,618.61a1.75,1.75 0 1,0 3.49,0a1.75,1.75 0 1,0 -3.49,0M415.43,578.95a0.92,0.92 0 1,0 1.83,0a0.92,0.92 0 1,0 -1.83,0M442.88,654.85a1.37,1.37 0 1,0 2.75,0a1.37,1.37 0 1,0 -2.75,0M373.43,615.46a1.2,1.2 0 1,0 2.4,0a1.2,1.2 0 1,0 -2.4,0M421.52,659.7a1.31,1.31 0 1,0 2.62,0a1.31,1.31 0 1,0 -2.62,0M310.44,576.29a1.42,1.42 0 1,0 2.83,0a1.42,1.42 0 1,0 -2.83,0M345.94,584.03a1.72,1.72 0 1,0 3.44,0a1.72,1.72 0 1,0 -3.44,0M322.91,543.28a1.45,1.45 0 1,0 2.91,0a1.45,1.45 0 1,0 -2.91,0M381.08,551.89a1.62,1.62 0 1,0 3.24,0a1.62,1.62 0 1,0 -3.24,0M401.48,682.21a1.76,1.76 0 1,0 3.52,0a1.76,1.76 0 1,0 -3.52,0M392.33,571.02a0.89,0.89 0 1,0 1.79,0a0.89,0.89 0 1,0 -1.79,0M345.01,576.1a0.98,0.98 0 1,0 1.96,0a0.98,0.98 0 1,0 -1.96,0M317.07,607.36a0.91,0.91 0 1,0 1.83,0a0.91,0.91 0 1,0 -1.83,0M321.83,647.1a1.54,1.54 0 1,0 3.08,0a1.54,1.54 0 1,0 -3.08,0" fill="#2c0060"/>
<path d="M330.69,631.25a0.87,0.87 0 1,0 1.75,0a0.87,0.87 0 1,0 -1.75,0M387.97,656.85a1.68,1.68 0 1,0 3.35,0a1.68,1.68 0 1,0 -3.35,0M281.7,606.51a1.05,1.05 0 1,0 2.11,0a1.05,1.05 0 1,0 -2.11,0M383.47,613.75a0.87,0.87 0 1,0 1.74,0a0.87,0.87 0 1,0 -1.74,0M425.46,669.52a1.25,1.25 0 1,0 2.5,0a1.25,1.25 0 1,0 -2.5,0M324.33,565.73a1.74,1.74 0 1,0 3.47,0a1.74,1.74 0 1,0 -3.47,0M372.23,668.92a1.21,1.21 0 1,0 2.42,0a1.21,1.21 0 1,0 -2.42,0M346.21,605.12a1.23,1.23 0 1,0 2.46,0a1.23,1.23 0 1,0 -2.46,0M428,637.81a1.12,1.12 0 1,0 2.24,0a1.12,1.12 0 1,0 -2.24,0M326.15,553.26a1.01,1.01 0 1,0 2.02,0a1.01,1.01 0 1,0 -2.02,0M341.87,589.27a1.73,1.73 0 1,0 3.47,0a1.73,1.73 0 1,0 -3.47,0M309.44,600.34a0.98,0.98 0 1,0 1.97,0a0.98,0.98 0 1,0 -1.97,0M412.4,605.8a1.18,1.18 0 1,0 2.35,0a1.18,1.18 0 1,0 -2.35,0M373.07,662.84a0.8,0.8 0 1,0 1.6,0a0.8,0.8 0 1,0 -1.6,0M401.41,628.03a1,1 0 1,0 2,0a1,1 0 1,0 -2,0M443.52,663.06a1.79,1.79 0 1,0 3.58,0a1.79,1.79 0 1,0 -3.58,0M419.59,614.75a1.57,1.57 0 1,0 3.13,0a1.57,1.57 0 1,0 -3.13,0M410.42,620.91a1,1 0 1,0 2,0a1,1 0 1,0 -2,0M401.06,574.1a1.19,1.19 0 1,0 2.39,0a1.19,1.19 0 1,0 -2.39,0M331.17,560.58a1.43,1.43 0 1,0 2.86,0a1.43,1.43 0 1,0 -2.86,0M320.74,574.1a1.71,1.71 0 1,0 3.42,0a1.71,1.71 0 1,0 -3.42,0M392.49,644.43a1.45,1.45 0 1,0 2.9,0a1.45,1.45 0 1,0 -2.9,0M374.04,558.38a1.36,1.36 0 1,0 2.72,0a1.36,1.36 0 1,0 -2.72,0M317.15,633.53a0.88,0.88 0 1,0 1.75,0a0.88,0.88 0 1,0 -1.75,0M346.89,569.45a1.08,1.08 0 1,0 2.16,0a1.08,1.08 0 1,0 -2.16,0M383.62,563.02a0.95,0.95 0 1,0 1.9,0a0.95,0.95 0 1,0 -1.9,0M314.72,602.11a1.15,1.15 0 1,0 2.3,0a1.15,1.15 0 1,0 -2.3,0M352.16,660.37a1.36,1.36 0 1,0 2.72,0a1.36,1.36 0 1,0 -2.72,0M365.5,574.76a1.02,1.02 0 1,0 2.04,0a1.02,1.02 0 1,0 -2.04,0M419.05,619.02a1.21,1.21 0 1,0 2.43,0a1.21,1.21 0 1,0 -2.43,0M330.87,586.83a1.6,1.6 0 1,0 3.2,0a1.6,1.6 0 1,0 -3.2,0M330.09,649.87a1.5,1.5 0 1,0 2.99,0a1.5,1.5 0 1,0 -2.99,0M339.54,553.15a0.87,0.87 0 1,0 1.75,0a0.87,0.87 0 1,0 -1.75,0M350.91,560.87a1.12,1.12 0 1,0 2.24,0a1.12,1.12 0 1,0 -2.24,0M395.89,677.14a1.49,1.49 0 1,0 2.98,0a1.49,1.49 0 1,0 -2.98,0M360.22,619.13a1.72,1.72 0 1,0 3.44,0a1.72,1.72 0 1,0 -3.44,0M371.1,683.58a1.31,1.31 0 1,0 2.61,0a1.31,1.31 0 1,0 -2.61,0M329.45,560.94a0.93,0.93 0 1,0 1.85,0a0.93,0.93 0 1,0 -1.85,0M398.93,682.74a1.39,1.39 0 1,0 2.79,0a1.39,1.39 0 1,0 -2.79,0M354.81,612.26a1.58,1.58 0 1,0 3.16,0a1.58,1.58 0 1,0 -3.16,0M311,588.95a1.32,1.32 0 1,0 2.64,0a1.32,1.32 0 1,0 -2.64,0M302.59,622.32a1.38,1.38 0 1,0 2.76,0a1.38,1.38 0 1,0 -2.76,0M366.33,591.25a1.49,1.49 0 1,0 2.98,0a1.49,1.49 0 1,0 -2.98,0M404.05,701.19a1.66,1.66 0 1,0 3.33,0a1.66,1.66 0 1,0 -3.33,0M335.18,660.67a1.35,1.35 0 1,0 2.69,0a1.35,1.35 0 1,0 -2.69,0M393.01,576.02a1.66,1.66 0 1,0 3.31,0a1.66,1.66 0 1,0 -3.31,0M350.61,609.62a1.79,1.79 0 1,0 3.57,0a1.79,1.79 0 1,0 -3.57,0M394.06,590.21a0.81,0.81 0 1,0 1.63,0a0.81,0.81 0 1,0 -1.63,0M329.41,626.64a1.62,1.62 0 1,0 3.24,0a1.62,1.62 0 1,0 -3.24,0M371.12,643.1a0.91,0.91 0 1,0 1.83,0a0.91,0.91 0 1,0 -1.83,0M342.93,558.52a1.7,1.7 0 1,0 3.4,0a1.7,1.7 0 1,0 -3.4,0M413.1,592.88a1.06,1.06 0 1,0 2.13,0a1.06,1.06 0 1,0 -2.13,0" fill="#34006e"/>
<path d="M336.25,599.93a2.14,2.14 0 1,0 4.29,0a2.14,2.14 0 1,0 -4.29,0M413.15,635.49a1.34,1.34 0 1,0 2.68,0a1.34,1.34 0 1,0 -2.68,0M385.85,596.43a2.11,2.11 0 1,0 4.23,0a2.11,2.11 0 1,0 -4.23,0M417.23,637.45a1.24,1.24 0 1,0 2.49,0a1.24,1.24 0 1,0 -2.49,0M367.69,678.38a1.25,1.25 0 1,0 2.51,0a1.25,1.25 0 1,0 -2.51,0M385.97,563.31a1.52,1.52 0 1,0 3.04,0a1.52,1.52 0 1,0 -3.04,0M393.25,596.69a1.28,1.28 0 1,0 2.55,0a1.28,1.28 0 1,0 -2.55,0M312.96,592.03a2.28,2.28 0 1,0 4.56,0a2.28,2.28 0 1,0 -4.56,0M418.19,688.79a2.29,2.29 0 1,0 4.57,0a2.29,2.29 0 1,0 -4.57,0M328.18,586.41a1.75,1.75 0 1,0 3.5,0a1.75,1.75 0 1,0 -3.5,0M332.52,607.2a1.39,1.39 0 1,0 2.78,0a1.39,1.39 0 1,0 -2.78,0M362.49,672.48a1.83,1.83 0 1,0 3.65,0a1.83,1.83 0 1,0 -3.65,0M302.86,588.24a1.88,1.88 0 1,0 3.76,0a1.88,1.88 0 1,0 -3.76,0M457.89,647.23a1.79,1.79 0 1,0 3.57,0a1.79,1.79 0 1,0 -3.57,0M325.29,610.33a1.98,1.98 0 1,0 3.96,0a1.98,1.98 0 1,0 -3.96,0M386.3,685.98a1.26,1.26 0 1,0 2.53,0a1.26,1.26 0 1,0 -2.53,0M349.4,582.47a2.06,2.06 0 1,0 4.13,0a2.06,2.06 0 1,0 -4.13,0M396.98,577.07a1.67,1.67 0 1,0 3.33,0a1.67,1.67 0 1,0 -3.33,0M432.18,646.17a1.79,1.79 0 1,0 3.58,0a1.79,1.79 0 1,0 -3.58,0M319.04,589.72a1.36,1.36 0 1,0 2.71,0a1.36,1.36 0 1,0 -2.71,0M437.24,642.99a2.24,2.24 0 1,0 4.48,0a2.24,2.24 0 1,0 -4.48,0M291.28,617.66a1.55,1.55 0 1,0 3.1,0a1.55,1.55 0 1,0 -3.1,0M348.6,601.69a1.84,1.84 0 1,0 3.68,0a1.84,1.84 0 1,0 -3.68,0M317.88,625.92a2.16,2.16 0 1,0 4.32,0a2.16,2.16 0 1,0 -4.32,0M362.81,545.23a2.23,2.23 0 1,0 4.46,0a2.23,2.23 0 1,0 -4.46,0M380.63,583.24a2.04,2.04 0 1,0 4.09,0a2.04,2.04 0 1,0 -4.09,0M323.88,577.25a1.76,1.76 0 1,0 3.51,0a1.76,1.76 0 1,0 -3.51,0M291.62,603.63a2.24,2.24 0 1,0 4.47,0a2.24,2.24 0 1,0 -4.47,0M410.55,619.7a1.35,1.35 0 1,0 2.69,0a1.35,1.35 0 1,0 -2.69,0M392.37,582.57a1.45,1.45 0 1,0 2.9,0a1.45,1.45 0 1,0 -2.9,0M323.46,643.82a1.81,1.81 0 1,0 3.63,0a1.81,1.81 0 1,0 -3.63,0M408.07,665.79a1.86,1.86 0 1,0 3.73,0a1.86,1.86 0 1,0 -3.73,0M374.87,682.24a1.46,1.46 0 1,0 2.91,0a1.46,1.46 0 1,0 -2.91,0M393.68,614.65a2.04,2.04 0 1,0 4.08,0a2.04,2.04 0 1,0 -4.08,0M286.29,598.4a1.51,1.51 0 1,0 3.03,0a1.51,1.51 0 1,0 -3.03,0M335.86,609.23a1.24,1.24 0 1,0 2.48,0a1.24,1.24 0 1,0 -2.48,0M360,567.14a2.03,2.03 0 1,0 4.06,0a2.03,2.03 0 1,0 -4.06,0M385.17,595.72a1.93,1.93 0 1,0 3.86,0a1.93,1.93 0 1,0 -3.86,0M382.3,664.44a1.64,1.64 0 1,0 3.27,0a1.64,1.64 0 1,0 -3.27,0M369.74,569.75a2.23,2.23 0 1,0 4.46,0a2.23,2.23 0 1,0 -4.46,0M314.5,592.65a1.74,1.74 0 1,0 3.48,0a1.74,1.74 0 1,0 -3.48,0M354.8,607.07a2.25,2.25 0 1,0 4.5,0a2.25,2.25 0 1,0 -4.5,0M318.59,546.07a1.63,1.63 0 1,0 3.25,0a1.63,1.63 0 1,0 -3.25,0M425.53,640.72a1.69,1.69 0 1,0 3.39,0a1.69,1.69 0 1,0 -3.39,0M307.53,625.95a1.54,1.54 0 1,0 3.08,0a1.54,1.54 0 1,0 -3.08,0M369.95,684.72a2.12,2.12 0 1,0 4.24,0a2.12,2.12 0 1,0 -4.24,0M308.09,617.01a1.21,1.21 0 1,0 2.43,0a1.21,1.21 0 1,0 -2.43,0M389.09,673.32a1.44,1.44 0 1,0 2.88,0a1.44,1.44 0 1,0 -2.88,0M365.93,554.22a1.41,1.41 0 1,0 2.81,0a1.41,1.41 0 1,0 -2.81,0M390.01,625.46a1.46,1.46 0 1,0 2.92,0a1.46,1.46 0 1,0 -2.92,0M379.03,630.85a2.39,2.39 0 1,0 4.79,0a2.39,2.39 0 1,0 -4.79,0M416.83,618.82a1.48,1.48 0 1,0 2.96,0a1.48,1.48 0 1,0 -2.96,0M387.47,611.57a2.18,2.18 0 1,0 4.36,0a2.18,2.18 0 1,0 -4.36,0M419.31,682.63a1.28,1.28 0 1,0 2.57,0a1.28,1.28 0 1,0 -2.57,0M378.25,633.39a2.3,2.3 0 1,0 4.6,0a2.3,2.3 0 1,0 -4.6,0M386.1,651.87a1.3,1.3 0 1,0 2.61,0a1.3,1.3 0 1,0 -2.61,0M421.07,605.99a2.19,2.19 0 1,0 4.38,0a2.19,2.19 0 1,0 -4.38,0M418.39,589.64a2.07,2.07 0 1,0 4.14,0a2.07,2.07 0 1,0 -4.14,0M388.34,555.1a1.52,1.52 0 1,0 3.04,0a1.52,1.52 0 1,0 -3.04,0M424.75,681.66a1.94,1.94 0 1,0 3.88,0a1.94,1.94 0 1,0 -3.88,0M313.48,554.4a2.3,2.3 0 1,0 4.61,0a2.3,2.3 0 1,0 -4.61,0M338.04,546.51a1.46,1.46 0 1,0 2.92,0a1.46,1.46 0 1,0 -2.92,0M378.91,693.43a1.35,1.35 0 1,0 2.69,0a1.35,1.35 0 1,0 -2.69,0M407.65,675.43a1.27,1.27 0 1,0 2.55,0a1.27,1.27 0 1,0 -2.55,0M387,580.54a1.82,1.82 0 1,0 3.64,0a1.82,1.82 0 1,0 -3.64,0M381.24,684.38a1.45,1.45 0 1,0 2.9,0a1.45,1.45 0 1,0 -2.9,0M378.45,635.15a1.75,1.75 0 1,0 3.5,0a1.75,1.75 0 1,0 -3.5,0M378.6,653.14a1.82,1.82 0 1,0 3.64,0a1.82,1.82 0 1,0 -3.64,0M432.97,651.73a2.09,2.09 0 1,0 4.19,0a2.09,2.09 0 1,0 -4.19,0M358.92,584.2a1.79,1.79 0 1,0 3.58,0a1.79,1.79 0 1,0 -3.58,0M416.2,693.67a2.12,2.12 0 1,0 4.25,0a2.12,2.12 0 1,0 -4.25,0M317.01,593.45a2,2 0 1,0 4,0a2,2 0 1,0 -4,0M326.44,604.58a2.36,2.36 0 1,0 4.72,0a2.36,2.36 0 1,0 -4.72,0M407.74,629.15a1.3,1.3 0 1,0 2.59,0a1.3,1.3 0 1,0 -2.59,0M449.36,643.73a1.94,1.94 0 1,0 3.88,0a1.94,1.94 0 1,0 -3.88,0M405.18,667.26a2.1,2.1 0 1,0 4.19,0a2.1,2.1 0 1,0 -4.19,0M439.19,663.59a1.5,1.5 0 1,0 3,0a1.5,1.5 0 1,0 -3,0M400.87,586.87a1.85,1.85 0 1,0 3.71,0a1.85,1.85 0 1,0 -3.71,0M421.3,622.05a1.65,1.65 0 1,0 3.3,0a1.65,1.65 0 1,0 -3.3,0M414.74,672.75a1.39,1.39 0 1,0 2.77,0a1.39,1.39 0 1,0 -2.77,0M370.44,579.2a1.44,1.44 0 1,0 2.87,0a1.44,1.44 0 1,0 -2.87,0" fill="#8c00ff"/>
<path d="M379.79,682.3a1.97,1.97 0 1,0 3.94,0a1.97,1.97 0 1,0 -3.94,0M391.26,693.61a1.76,1.76 0 1,0 3.53,0a1.76,1.76 0 1,0 -3.53,0M380.78,583.34a1.26,1.26 0 1,0 2.53,0a1.26,1.26 0 1,0 -2.53,0M387.68,698.7a2.25,2.25 0 1,0 4.5,0a2.25,2.25 0 1,0 -4.5,0M384.51,689.84a1.85,1.85 0 1,0 3.7,0a1.85,1.85 0 1,0 -3.7,0M336.77,597.42a1.28,1.28 0 1,0 2.56,0a1.28,1.28 0 1,0 -2.56,0M338.52,549.82a1.38,1.38 0 1,0 2.76,0a1.38,1.38 0 1,0 -2.76,0M379.41,656.86a1.35,1.35 0 1,0 2.71,0a1.35,1.35 0 1,0 -2.71,0M411.1,600.72a2.39,2.39 0 1,0 4.79,0a2.39,2.39 0 1,0 -4.79,0M397.87,662.26a1.55,1.55 0 1,0 3.11,0a1.55,1.55 0 1,0 -3.11,0M387.7,666.08a1.79,1.79 0 1,0 3.58,0a1.79,1.79 0 1,0 -3.58,0M401.74,654.86a1.53,1.53 0 1,0 3.06,0a1.53,1.53 0 1,0 -3.06,0M379.88,552.99a1.55,1.55 0 1,0 3.1,0a1.55,1.55 0 1,0 -3.1,0M384.47,556.05a2.11,2.11 0 1,0 4.23,0a2.11,2.11 0 1,0 -4.23,0M361.41,639.46a2.27,2.27 0 1,0 4.55,0a2.27,2.27 0 1,0 -4.55,0M347.27,567.32a2.19,2.19 0 1,0 4.38,0a2.19,2.19 0 1,0 -4.38,0M402.32,610.55a2.18,2.18 0 1,0 4.37,0a2.18,2.18 0 1,0 -4.37,0M386.68,647.24a2.4,2.4 0 1,0 4.8,0a2.4,2.4 0 1,0 -4.8,0M387.15,681.68a1.33,1.33 0 1,0 2.66,0a1.33,1.33 0 1,0 -2.66,0M369.51,657.31a1.68,1.68 0 1,0 3.37,0a1.68,1.68 0 1,0 -3.37,0M315.55,594.66a2.01,2.01 0 1,0 4.02,0a2.01,2.01 0 1,0 -4.02,0M336.95,609.35a1.84,1.84 0 1,0 3.69,0a1.84,1.84 0 1,0 -3.69,0M375.38,644.11a1.55,1.55 0 1,0 3.1,0a1.55,1.55 0 1,0 -3.1,0M368.21,630.64a1.71,1.71 0 1,0 3.41,0a1.71,1.71 0 1,0 -3.41,0M336.51,617.72a1.42,1.42 0 1,0 2.84,0a1.42,1.42 0 1,0 -2.84,0M417.16,663.08a1.3,1.3 0 1,0 2.6,0a1.3,1.3 0 1,0 -2.6,0M291.58,619.69a2.09,2.09 0 1,0 4.18,0a2.09,2.09 0 1,0 -4.18,0M352.09,598.9a1.23,1.23 0 1,0 2.45,0a1.23,1.23 0 1,0 -2.45,0M368.53,563.62a1.23,1.23 0 1,0 2.46,0a1.23,1.23 0 1,0 -2.46,0M400.44,609.93a1.9,1.9 0 1,0 3.79,0a1.9,1.9 0 1,0 -3.79,0M406.66,630.27a1.27,1.27 0 1,0 2.54,0a1.27,1.27 0 1,0 -2.54,0M428.55,646.92a1.42,1.42 0 1,0 2.84,0a1.42,1.42 0 1,0 -2.84,0M348.1,623.3a2.33,2.33 0 1,0 4.66,0a2.33,2.33 0 1,0 -4.66,0M354.87,630.64a2.03,2.03 0 1,0 4.06,0a2.03,2.03 0 1,0 -4.06,0M387.48,601.35a1.25,1.25 0 1,0 2.51,0a1.25,1.25 0 1,0 -2.51,0M407.27,640.19a1.83,1.83 0 1,0 3.65,0a1.83,1.83 0 1,0 -3.65,0M400.17,657.17a1.76,1.76 0 1,0 3.52,0a1.76,1.76 0 1,0 -3.52,0M440.27,651.53a2.32,2.32 0 1,0 4.64,0a2.32,2.32 0 1,0 -4.64,0M321.71,558.08a2.15,2.15 0 1,0 4.3,0a2.15,2.15 0 1,0 -4.3,0M363.52,615.78a2.13,2.13 0 1,0 4.25,0a2.13,2.13 0 1,0 -4.25,0M319.3,594.86a2.35,2.35 0 1,0 4.7,0a2.35,2.35 0 1,0 -4.7,0M396.65,673.03a1.57,1.57 0 1,0 3.14,0a1.57,1.57 0 1,0 -3.14,0M332.81,641.21a1.52,1.52 0 1,0 3.03,0a1.52,1.52 0 1,0 -3.03,0M421.85,659.01a2.3,2.3 0 1,0 4.59,0a2.3,2.3 0 1,0 -4.59,0M348.86,549.58a1.36,1.36 0 1,0 2.71,0a1.36,1.36 0 1,0 -2.71,0M291.29,598.37a1.3,1.3 0 1,0 2.61,0a1.3,1.3 0 1,0 -2.61,0M402.92,575.99a1.91,1.91 0 1,0 3.82,0a1.91,1.91 0 1,0 -3.82,0M452.64,661.22a1.52,1.52 0 1,0 3.04,0a1.52,1.52 0 1,0 -3.04,0M422.58,678.74a1.76,1.76 0 1,0 3.53,0a1.76,1.76 0 1,0 -3.53,0M436.92,652.85a1.67,1.67 0 1,0 3.35,0a1.67,1.67 0 1,0 -3.35,0M310.47,625.35a1.94,1.94 0 1,0 3.88,0a1.94,1.94 0 1,0 -3.88,0M380.3,627.44a1.79,1.79 0 1,0 3.59,0a1.79,1.79 0 1,0 -3.59,0M308.55,593.36a2.03,2.03 0 1,0 4.05,0a2.03,2.03 0 1,0 -4.05,0M336.22,610.02a1.76,1.76 0 1,0 3.52,0a1.76,1.76 0 1,0 -3.52,0M313.06,550.9a1.3,1.3 0 1,0 2.59,0a1.3,1.3 0 1,0 -2.59,0M338.38,607.39a2.37,2.37 0 1,0 4.73,0a2.37,2.37 0 1,0 -4.73,0M334.44,598.4a2.01,2.01 0 1,0 4.02,0a2.01,2.01 0 1,0 -4.02,0M289.66,617.14a1.89,1.89 0 1,0 3.77,0a1.89,1.89 0 1,0 -3.77,0M413.73,611.31a1.53,1.53 0 1,0 3.06,0a1.53,1.53 0 1,0 -3.06,0M301.75,596.89a2.39,2.39 0 1,0 4.78,0a2.39,2.39 0 1,0 -4.78,0M407.27,586.52a1.3,1.3 0 1,0 2.6,0a1.3,1.3 0 1,0 -2.6,0M410.48,574.79a2.36,2.36 0 1,0 4.72,0a2.36,2.36 0 1,0 -4.72,0M379.44,636.37a2.09,2.09 0 1,0 4.18,0a2.09,2.09 0 1,0 -4.18,0M380.97,553.94a2.03,2.03 0 1,0 4.07,0a2.03,2.03 0 1,0 -4.07,0M371.71,638.07a1.62,1.62 0 1,0 3.24,0a1.62,1.62 0 1,0 -3.24,0M369.05,659.99a2.3,2.3 0 1,0 4.6,0a2.3,2.3 0 1,0 -4.6,0M375.69,657.38a1.47,1.47 0 1,0 2.94,0a1.47,1.47 0 1,0 -2.94,0M348.65,624.12a2.31,2.31 0 1,0 4.62,0a2.31,2.31 0 1,0 -4.62,0M405.95,623.54a2.36,2.36 0 1,0 4.71,0a2.36,2.36 0 1,0 -4.71,0" fill="#9008ff"/>
<path d="M327.29,772.52l4.84,2.14M607.85,784.96l-2.97,2.88M402.37,703.18l2.92,1.94M476.29,755.35l-3.05,3.95M488.61,679.33l4.26,1.91M438.93,796.69l-3.4,0.24M366.79,699.07l-3.9,0.81M563.85,817.92l0.14,3.21M346.24,775.19l4.46,1.09M331.36,680.19l1.4,4.42M440.82,722.54l-0.08,5.31M481.26,765.33l1.64,3.1M457.59,835.17l2.95,3.67M526.57,735.58l-2.02,1.94M316.44,761.35l-4.37,0.09M351.87,811.67l-2.33,1.07M553.91,781.85l1.63,4.84M417.32,828.86l-0.41,5.19M501.98,813.15l1.2,3.79M612.29,798.79l-0.77,2.76M510.19,790.94l2.39,2.54M582.2,755.72l-1.94,4.07M317.94,798.46l2.91,1.55M625.78,698.89l-2.58,1.73M522.01,789.22l0.85,3.74M401.56,784.28l0.69,2.82M463.89,806.02l1.9,2.59M335.71,808.39l-1.33,2.3M380.59,783.97l-0.03,2.61M590.34,766.92l2.41,1.4M415.85,844.06l3.03,2.91M410.8,718.16l0.86,4.42M537.96,757.68l-3.24,0.95M402.48,795.76l-0.89,4.26M323,781.24l-5.4,0.85M311.47,798.37l-3.67,0.53M480.67,678.15l-4.86,0.07M334.72,734.15l2.65,1.73M558.79,705.87l3.34,0.02M610.4,725.73l2.95,0.22M426.82,680.89l-4.57,2.57M419.73,771.5l4.37,1.1M517.42,748.74l2.38,3.35M574.57,724.09l3,2.29M533.45,775.65l-1.88,2.37M410.26,832.65l-2.71,0.37M468.93,766.32l-0.1,4.78M369.48,729.85l1.09,2.45M600.04,706.67l0.7,3.12M367.39,705.53l-1.79,1.91M562.09,778.94l4.82,1.65M435.72,719.79l4.35,0.06M606.1,761.49l-0.32,3.43M518.42,685.17l-0.21,2.94M368.18,741.64l-0.8,4.87M560.11,826.23l-3.11,1.15M339.35,694.27l-2.04,1.61M578.86,746.83l3.3,2.18M519.81,792.46l-4.86,2.56M532.22,804.01l5.29,0.41M322.72,794.1l0.86,5.23M486.3,700.42l1.57,2.32M471.51,784.59l-2.8,1.4M457.01,833.96l0.99,3.41M627.85,726.03l5.09,1.28M355.09,827.27l-2.97,1.83M458.47,676.94l2.87,0.29M568.84,804.78l-3.59,1.08M559,782.52l1.87,2.89M566.6,745.19l-2.11,3.42M456.42,732.68l-4.12,2.7M399.1,701.91l-0.78,4.74M541.45,812.39l-3.93,2.45M554.52,794.68l-3.65,2.99M362.25,774.79l0.65,2.74M365.91,754.32l-2.08,2.56M406.54,811.96l2.94,1.29M471.08,777.38l-4.04,0.2M311.77,754l3.48,2.02M478.29,713.87l4.94,2.27M497.42,833.47l0.27,5.15M392.43,723.47l-4.13,1.71M603.8,753.76l1.19,2.83M512.05,752.13l-3.12,1.3M546.79,678.92l-1.82,4.82M494.89,777.6l2.23,2.63M362.18,807.54l-5.21,0.55M387.1,784.52l2.6,0.04M443.12,720.92l-2.08,3.86M378.2,772.98l1.76,2.35M447.22,849.44l3.77,3.92M414.88,720.12l-3.55,0.21M330.83,789.36l2.08,1.8M307.28,762.73l-5.25,0.42M411.8,767.24l3.15,0.72M426.3,752.52l-1.59,3.16M552.79,814.23l4.53,1.36M388.87,764.17l5.25,0.66M520,765.25l0.75,3.29M466.18,792.75l3.51,3.3M627.65,715.52l-2.98,0.04M366.38,808.29l0.01,4.88M573.08,789.65l1.56,4.62M359.17,756.39l-2.72,2.49M353.61,807.17l-2.61,0.32M484.69,784.61l3.22,0.78M541.7,675.23l2.04,2.19M505.42,692.25l-4.85,2.25M386.78,836.52l-3.25,3.76M383.78,713.08l3.2,2.1M379.64,729.36l-3.16,2.2M543,734.73l-2.62,1.67M513,809.89l-2.17,3.37M340.69,696.65l-2.72,0.43M283.76,763.64l-4.74,1.34M507,817.42l-2.81,2.31M594.59,762.17l1.46,2.08M417.81,804.82l0.03,2.72M526.83,738.45l-1.79,2.19M617.07,732.46l2.72,0.49M457.14,773.71l1.57,4.24M335.03,755.49l4.8,1.99M404.74,819.57l-2.96,4.02M461.12,732.69l-0.08,4.75M514.87,760.05l1.93,3.03M329.53,695.16l-2.89,3.23M501.12,753.82l2.52,0.27M287.54,745.57l-2.47,0.98M375.5,748.33l2.65,3.52M583.8,811.84l-1.8,3.02M394.35,719.51l-2.91,1.82M341.33,776.22l-5.18,1.64M544.2,778.71l-1.36,3.97M345.43,705.68l-3.01,1.8M494.09,787.4l-3.41,2.98M469.56,816.37l-2.98,3.69M599.61,754.14l-1.58,5.09M465.39,776.63l-3.93,1.81M434.89,844.2l-3.09,2.71M592.34,790.55l-4.53,1.63M549.54,765.53l-2.7,3.09M563.77,771.93l-2.82,4.41M551.12,720.86l-2.93,0.25M372.19,776.4l-2.74,3.52M343.57,726.78l-4.41,1.75M631.26,715.99l-3.53,0.86M421.59,738.96l-0.53,4.1M537.93,819.07l4.42,0.59M551.72,814.84l-4.27,1.45M501.78,696.7l1.63,4.41M439.03,775.48l-2.52,4.44M443.01,845.79l-1.26,3.15M565.01,792.29l-3.4,0.13M547.4,778.43l3.65,3.13M433.02,806.91l0.87,2.73M357.39,796.25l3.74,2.49M501.11,762.81l4.67,2.29M503.18,752.77l-2.54,2.07M474.25,716.01l-0.29,4.74M451.41,725.99l-0.79,2.49M330.51,702.05l-2.64,2.27M500.29,774.51l-1.46,5.23M339.86,756.35l-3.03,0.51M358.18,784.58l-2.95,3.42M332.08,827.17l-2.55,1.62M513.56,755.37l-4.32,1.13M513.63,801.9l4.14,1.62M425.65,778.9l-2.58,1.45M442.2,778.7l-2.99,0.04M538.34,833.28l-1.64,5.22M328.55,785.07l0.21,4.29M443.39,776.18l-0.11,4.47M557.63,774.28l4.32,0.43M304.93,766.28l-2.27,4.25M534.73,678.56l3.12,0.82M633.86,728.26l-3.77,0.31M604.08,750.82l-2.3,1.26M551.55,683.89l-4.54,0.8M501.81,738.77l2.67,3.55M452.03,792.25l0.23,2.74M416.81,702.24l-3.01,2.59M395.71,800.54l-4.08,1.17M592.55,715.65l4.01,1.47M628.81,754.42l-3.33,2.09M296.74,760.76l2.61,1.74M528.04,810.89l0.2,3.34M475.18,716.84l4.51,1.61M602.31,704.57l1.24,3.26M426.64,836.81l-2.13,4.73M570.75,716.06l-2.31,2M563.92,675.41l3.61,0.1M288.12,785.82l2.72,3.43M581.86,802.98l0.54,3.92M353.27,763.3l4.09,3.45M422.55,773.5l-1.36,3.8M516.39,783.95l2.7,0.15M296.29,694.46l-5.05,0.88M591.62,706.47l-0.31,4.8M440.55,686.08l-1.88,3.44M305.96,814.02l-3.77,3.41M442.78,815.36l0.82,3.61M494.17,701.01l0.7,4.88M365.06,674.1l-2.47,4.79M344.7,792.92l2.11,1.96M312.3,752.78l-3.19,2.68M434.35,781.39l0.06,3.44M468.61,784.13l-2.97,0.72M554.11,688.76l-3.26,0.29M415.74,801.03l-4.47,0.62M535.24,716.93l2.72,4.06M592.59,712.79l-3.12,2.91M473.52,806.59l-0.6,4.1M533.53,746.62l-3.83,1.41M538.54,691.28l5.17,1.07M589.49,799.22l3.77,3.15M387.22,698.18l0.47,3.6M405.27,688.83l3.07,3.33M544.54,694.79l1.34,2.72M514.34,704.43l2.75,2.5M607.43,698.48l-2.55,4M395.85,838.39l0.28,3.17M308.27,793.71l1.71,2.93M593.34,792.57l2.29,1.56M461.63,750.67l-0.1,3.79M450.05,780.06l4.4,0.83M525.2,763.81l0.67,3.72M526.57,766.73l-0.03,4.01M527.45,722.67l-2.7,4.21M390.48,690.37l4.72,0.65M578.7,726.9l-3.04,3.58M495.52,838.55l-1.5,2.29M581.55,770.53l0.21,3.19M382.23,772.77l3.1,3.4M473.2,748.2l2.89,2.18M573.37,776.03l-2.39,3.98M382.52,819.46l3.96,2.31M450.41,682.29l0.34,2.99M521.86,828.05l3.51,4.2M370.66,749.67l-2.2,1.71M529.05,727.47l1.64,4.76M550.58,676.49l1.9,2.64M413.27,701.01l-0.45,4.27M525.58,803.98l0.42,4.02M408.92,726.22l3.78,0.15M528.9,731.42l-2.55,2.2M524.65,819.86l4.48,0M523.82,753.28l0.62,5.45M554.43,776.44l0.05,2.72M316.43,698.71l3.22,2.02M446.22,801.39l-0.23,3.83M281.57,717.15l1.62,2.24M510.67,788.36l2.13,3.35M445.14,777.03l2.43,1.54M612.2,794.88l-1.56,2.01M523.39,720.88l-1.34,5.3M430.97,748.97l-2.88,0.4M323.33,784.84l-1.21,2.27M543.74,794.86l4.05,1.15M541.31,795.1l1.87,3.64M466.83,703.19l4.97,1.3M410.52,681.99l-1.54,3.3M371.84,752.58l3.09,3.32M375.98,744.84l-3.54,3.44M433.26,702.13l-2.37,2.55M374.43,802l0.62,3.58M387.34,724.43l2.01,2.16M630.49,744.65l2.11,4.6M408.87,788.74l-0.93,4.14M435.99,815.67l-3.87,3.35M321.72,748.62l3.59,3.62M447.86,754.81l-2.47,4.34M483.34,710.58l2.53,2.02M461.85,707.04l0.3,2.52M335.41,681.23l2.37,4.8M441.09,767.51l3.76,0.12M363.83,786.56l0.81,5.38M410.15,741.48l-2.9,1.82M625.2,786.13l3.32,3.51M412.44,700.34l-1.93,3.03M488.38,799.88l2.16,2.61M554.67,754.83l-3.95,0.96M497.02,794.86l0.7,2.86M586.8,772.86l5.18,0.79M534.48,710.46l1.96,2.26M351.88,789.65l-3.18,2.19M336.01,794.95l0.94,4.58M332.98,767.65l-1.68,2.88M413.63,746.4l-1.81,1.98M364.17,792.03l3.82,0.19M524.99,706.47l-2.73,4.21M377.85,749.76l4.12,3.55M453.81,807.33l2.66,0.78M430.9,787.51l-2.48,0.8M442.36,762.07l4.45,2.49M457.31,755.55l-0.47,3.29M374.86,770.93l-1.87,1.77M457.42,803.01l0.73,4.01M565.12,696.15l2.55,0.46M513.5,792.41l-3.74,1.85M450.2,752.11l-0.74,4.29M420.75,773.29l-4.55,2.25M365.36,779.57l3.16,0.13M307.07,793.59l2.76,1.04M586.48,761.15l3.9,1.91M340.78,800.82l-4.59,1.25M379.2,835.66l-3.36,0.85M312.31,795l5.34,0.22M570.78,790.31l1.69,2.43M498.59,802.52l3.98,2.98M562.21,822.14l3.24,0.92M516.19,792.92l-2.83,3.79M572.86,817.19l-2.32,1.35M617.81,774.67l-0.23,3.84M421.64,788.69l3.86,3.67M372.99,757.82l3,1.61M382.7,730.75l-0.67,2.98M287.9,785.26l-1.01,4.64M501.77,719.32l-3.17,1.13M450.95,715.34l4.46,0.31M604.31,754.22l-1.95,2M498.41,718.75l-1.5,2.15M511.67,786.36l-4.08,2.91M359.79,804.53l2,2.64M557.76,772.92l-2.28,3.16M370.57,802.33l0.7,3.29M527.35,676.16l-1.5,2.24M495.22,778.93l-2.76,0.3M508.37,808.38l-2.42,0.98M347.46,678.61l3.14,3.49M334.84,778.88l-4.25,1.42M547.64,795.18l-1.87,2.44M465.42,675.06l-0.26,4.26M407.93,759.06l-2.36,2.95M395.18,705.11l-1.36,2.12M312.67,751.63l0.22,5.44M340.7,761.29l-1.36,3.19M435.48,770.95l-4.31,0.76M432.44,708.46l2.7,0.68M356.08,779.13l-1,4.22M477.68,762.83l2.84,3.26M505.8,749.81l3.78,0.15M377.61,804.35l1.23,4.08M541.61,787.02l3.34,1.67M470.74,794.89l-0.36,4.23M606.08,712.11l-0.39,3.13M550.03,753.08l-5.06,1.39M373.91,783.99l0.68,4.33M585.77,789.9l2.28,2.85M561.51,752.05l-0.49,3.62M510.38,775.06l-1.65,2.19M420.21,767.04l1.02,3.92M554.56,830.93l3.76,2.58M320.36,752.47l0.67,4.37M617.59,768.86l-0.07,2.82M612.29,680.99l0.9,4.33M398.64,758.91l-3.8,0.43M474.03,808.74l2.98,0.63M330.03,791.03l1.84,2.69M513.23,775.34l2.27,2.94M480.06,756.95l-1.45,2.94M575.78,802.83l2.72,1.35M324.23,777.11l0.52,3.81M346.54,677.5l1.1,5.25M554.58,719.12l1.02,2.59M419.96,767.82l1.15,3.83M410.19,817.23l0.18,3.17M512.4,704.9l-0.21,3.57M603.64,781.37l-3.71,1.92M370.1,780.69l-4.76,2.35M455.31,752.49l-4.07,0M616.08,700.82l2.96,2.78M435.95,782.65l3.92,1.71M490.11,713.49l3.38,3.54M332.63,752.21l1.87,1.99M302.92,801.7l1.74,2.24M302.65,759.31l-4.05,0.72M450.3,778.44l-0.69,3.42M573.79,716.57l5.46,0.07M494.42,749.72l0.34,5.32M504.02,701.14l-4.54,0.1M349.84,714.26l-2.42,2.85M432.09,834.78l-1.97,2.73M586.63,726.1l2.07,2.6M406.6,820.64l0.25,3.94M347.86,807.58l-4.62,2.44M408.57,682.5l-3.27,1.51M294.37,714.67l4.38,0.16M357.5,688.53l5.25,1.11M524.65,732.42l-3.04,0.13M435.38,790.58l0.12,3.33M397.07,753.78l3.65,3.44M577.8,774.19l0.63,2.53M533.76,723.42l-2.11,4.81M298.81,758.84l-3.28,0.47M432.85,753.65l-0.71,3.48M371.73,751.11l1.71,2.7M521.95,783.55l-0.46,3.65M581.3,775.5l-0.7,2.72M498.93,777.62l-1.84,2.21M610.79,811.92l-0.53,2.62M421.13,701.79l3.8,0.96M450,802.6l2.07,4.32M340.63,785.3l0.38,2.8M594.6,775.19l3.35,3.06M523.75,836.69l-0.27,3.88M481.28,735.81l-2.54,3.15M497.19,705.64l-1.4,2.17M410.69,780.44l3.71,1.48M544.87,749.21l-0.63,3.17M319.23,784.45l-4.08,0.75M427.8,766.19l-0.99,2.95M465.36,765.97l5.16,0.91M319.2,810.75l-2.15,3.19M367.85,762.14l-5.29,1.25M373.23,697.26l-2.62,1.41M463.87,748.33l-1.8,3.75M581.36,783.08l-1.81,2.04M625.27,726.52l4.14,1.37M464.46,698.57l0.69,3.6M456.42,697.83l1.84,3.35M440.5,776.81l3.45,0.32M477.26,742.48l-3.5,4.04M321.73,770.07l-0.53,4.6M494.38,729.68l-2.38,3.08M595.27,770.69l-3.18,3.72M405.17,745.97l2.46,3.26M297.7,776.73l2.35,4.07M513.83,796.9l-0.8,2.95M341.42,761.86l-0.19,4.65M456.09,776.31l3.25,2.12M429.18,803l-2.99,0.78M614.15,723.13l-3.33,1.57M606.22,733.5l3.44,0.14M405.35,776.22l4.34,1.2M626.19,767.22l3.51,1.97M618.03,726.69l3.66,1.47M593.29,708.56l-2.92,0.42M282.04,742.4l-1.74,4.43M309.86,725.33l0.2,3.53M520.53,695.54l-1.95,1.66M435.31,844.78l-0.71,3.67M372.17,783.8l3.89,3M400.34,839.77l4.78,1.29M288.92,748.59l-0.76,2.63M331.09,735.85l2.43,3.57M430.48,792.68l-2.05,5.05M554.21,766.48l-4.29,3.2M302.4,790.8l-0.71,2.94M628.34,699.4l4.2,2.39M480.3,709.2l-1.43,2.35M621.57,790.38l4.99,0.47M423.27,797.91l2.44,3.69M365.33,769.32l4.94,0.47M501.48,792.75l2.35,1.55M457.29,774.89l-3.49,0.76M567.86,716.06l3.05,2.54M442.31,804.66l1.48,4.94M434.57,797.48l0.01,4.48M324.21,758.95l-3.97,1.45M369.29,692.04l2.33,3.18M622.32,719.24l2.18,4.78M413.34,795.37l0.12,3.49M504.73,727.08l3.62,1.02M385.85,753.06l3.27,3.97M404.46,753.54l-2.2,1.7M405.61,717.73l-4.11,2.05M315.63,704.39l3.76,2.15M481.96,787.12l-1.2,3.54M453.73,743.13l5.15,0.69M556.48,794.97l0.07,3.29M558.9,797.58l1,4.28M372.64,797.47l3.66,1.74M393.15,807.55l3.12,2.1M416.65,827.5l-2.93,2.54M365.4,827.34l-0.27,3.01M607.4,801.18l3.76,2.16M531.44,745.61l0.6,4.93M543.98,786.4l-2.6,1.66M536.24,786.21l4.14,2.46M532.95,761.06l3.5,1.18M467.45,763.26l2.53,2.34M461.73,738.77l2.45,3.7M388.46,759.75l1.44,4.84M525.92,767.32l-5.27,0.22M510.4,750.31l3.26,2.04M470.19,680.33l1,2.45M291.7,778.22l1.35,2.45M446.24,772.7l-2.24,3.9M450.02,773.8l1.14,3.88M486.31,775.14l-0.71,3.3M337.99,781.2l-2.47,3.49M368.66,809.84l-0.7,3.24M333.97,775.59l-2.8,2.52M296.56,803.36l1.54,3.8M459.06,741.27l1.9,3.32M600.36,710.81l-3.09,1.9M427.53,711.69l-2.37,3.6M382.23,835.57l-3.28,0.22M370.26,825.68l3,0.43M389.6,785.83l0.29,5.48M591.93,818.98l-3.45,0.7M484.84,789.14l0.32,2.89M491.71,760.88l-4.54,0.25M536.19,800.71l-1.73,2.05M532.66,799.16l-3.46,2.4M365.49,781.14l-1.36,2.25M528.34,783.01l-2.55,0.57M416.21,772.56l-3.9,0.58M351.89,759.61l-3.2,0.48M528.51,758.76l-1.93,4.81M611.02,738.66l-0.67,5.29M563.71,726.86l-3.32,1.85M517.52,795.15l-2.05,4.57M378.4,702.03l-2.22,3.4M365.34,838.63l3.05,3.91M483.61,806.97l3.2,2.65M404.75,725.56l0.85,2.43M611.86,711.16l-3.74,2.45M574.07,760.05l0.23,3.38M585.1,777.53l-0.07,3.71M619.41,701.01l0.21,3.98M490.94,781.32l3.08,0.2M489.66,746.05l-2.22,4.85M314,730.93l-0.59,4.57M514.3,832.08l-1.37,3.54M351.83,807.85l-1.55,3.23M524.04,801.18l-0.4,4.3M573.16,731.65l-2.33,3.96M578.34,698.2l3.2,2.26M341.07,788.04l1.66,2.85M613.26,771.88l-4.04,3.17M380.86,792.27l-1.39,2.45M428.21,809.24l0.54,3.74M395.84,680.19l3.44,3.2M411.61,703.07l-1.47,4.62M434.88,752.44l2.81,3.73M384.3,844.68l-4.75,0.06M548.82,811.82l-3.44,2.73M547.29,785.31l-2.75,1.13M318.26,812.83l-4.21,2.07M489.5,792.4l2.61,2.28M334.94,762.23l-4.1,3.6M565.45,773.65l-4.41,0.09M467.55,799.53l3.08,0.17M368.53,724.1l0.37,2.76M551.35,771.52l-1.64,4.87M357.74,706.55l-1.66,2.8M309.87,792.04l3.41,1.7M512.99,774.5l-5.39,0.83M485.67,800.38l0.96,3.82M320.7,787.01l1.13,2.41M493.9,746.59l3.16,2.72M530.88,736.13l1.94,4.7M416.09,687.1l3.12,1.37M329.48,781.34l2.82,2.05M494.58,770.33l-3.94,2.3M551.75,776.77l3.19,0.13M447.25,761.85l-3.02,0.27M533.53,710.25l0.64,3.1M360.31,750.46l2.33,3.49M594.05,771.91l-0.47,4.56M564.52,748.4l-0.16,3.47M457.81,784.13l3.55,4.19M482.57,775.57l4.05,1.28M495.12,696.55l-3.17,0.52M316.42,756.63l4.05,2.9M452.62,805.44l-0.63,2.62M604.38,807.12l-0.13,3.45M599.36,782.92l-1.23,2.43M608.13,755.74l-3.18,2.17M430.04,749.5l-1.3,2.76M420.54,800.26l0.11,5.17M433.77,758.79l3.82,0.92M398.84,725.78l2.6,3.5M314.25,796.62l-2.55,1.91M575.15,776.36l2,1.84M596.7,788.68l-2.45,0.82M341.23,812.73l3.36,2.73M355.34,824.43l-0.66,3.72M333.69,757.03l0.06,5M398.5,726.15l2.5,1.02M622.3,706.67l-2.68,1.17M302.13,775.57l2.58,1.62M432.1,844.5l0.67,4.8M416.89,690.39l-0.45,3.08M467.46,739.32l2.11,2.32M339.5,689.01l0.51,3.17M378.97,809.27l-3.26,3.25M385.3,825.79l-1.74,3.66M346.15,768.52l2.38,1.98M397.84,819.56l-2.37,1.27M312.09,757.11l-0.76,2.53M457.89,775.35l0.06,3.59M518.76,797.72l-1.53,2.84M498.9,820.29l-3.45,0.61M370.47,761.05l-1,4.01M590.13,799.52l3.19,0.82M573.23,776.29l3.44,3.02M525.2,802.06l-1.99,2.3M549.31,800l-1.23,3.25M397.82,676.89l-3.9,1.6M513.18,780.63l2.55,3.42M469.79,827.16l2.22,3.3M382.33,786l-1.43,2.66M544.85,739.59l-2.72,2.73M439.12,795.14l-0.38,3.94M562.64,792.94l-1.88,2.08M476.01,800.94l-2.46,3.32M454.19,795.02l1.03,2.91M583.09,706.6l-2.12,2.11M447.04,705.15l1.96,4.91M382,760.41l0.91,5.18M501.81,734.24l1.56,2.29M302.33,762.03l4.26,2.86M618.99,749.81l4.11,1.29M467.25,797.75l-0.69,3.57M438.16,802.55l2.84,2.05M549.38,756.48l-0.96,5.01M565.91,804.47l-4.09,2.32M467.73,845.37l3.21,0.65M502.5,781.55l3.23,2.99M390.46,750.17l2.33,2.76M342.63,748.37l-1.39,4.11M289.91,692.63l-2.76,3.94M393.44,764.1l5.39,0.43M400,724.4l4.87,0.71M395.64,824.66l2.41,1.5M546.44,767.97l-3.86,0.14M512.79,746.02l0.65,2.83M609.85,724.41l-3.55,0.41M554.69,829.5l-2.57,3.12M452.99,821.66l0.27,2.93M316.98,780.16l4.2,3.24M285.35,779.39l3.02,1.59M385.24,716.62l0.79,4.73M489.95,790.77l0.85,4.72M395.1,816.54l-0.35,3.25M441.51,805.84l-0.81,5.38M334.64,745.46l-2.7,3.75M624.59,708.48l-4.64,1.59M592.89,784.23l1.15,3.01M368.25,721.41l1.19,3.97M512.39,800.12l2.09,2.39M501.67,709.81l-1.9,2.41M319.75,774.68l4.75,0.31M435.61,817.14l1.67,2.51M472.41,763.07l4.65,0.51M423.3,772.13l-2.65,3.01M582.75,732.71l4.74,0.3M545.51,783.6l1.64,5.08M609.61,746.35l-4.09,0.51M487.96,740.7l-2.82,0.36M331.11,769.92l4.03,3.23M374.98,824.83l1.64,2.65M488.86,841.18l-2.96,1.44M477.32,833.08l-3.54,0.08M440.29,699.67l-1.53,2.5M325.41,700.39l-2.57,2.09M305.42,782.26l-2.31,2.58M294.79,746.54l-2.6,2.3M327.66,826.97l-3.15,2M601.96,798.64l-1.99,3.3M384.16,721.32l1.49,3.73M592.82,751.57l-2.56,3.46M570.28,788.08l-1.85,2.23M347.72,795.76l-2.83,1.67M315.56,765.94l3.26,4.26M346.65,770.73l3.77,1.94M511.83,815.96l-4.63,1.94M531.43,734.52l-1.43,4.82M412.86,761.01l2.88,3.72M493.44,839.88l3.77,1.03M510.14,800.01l-0.59,3.13M563.06,749.43l-0.54,2.53M473.44,772.16l-0.09,3.97M389.15,797.17l4.16,2.21M309.69,741.1l-2.61,1.78M398.87,809.71l-2.24,2.41M293.43,737.84l-2.89,1.86M392.06,833.13l2.86,0.85M282.41,776.46l3.91,2.88M295.76,774.02l-1.3,2.97M439.65,797.75l-1.49,3.62M306.44,694.61l3.65,0.17M595.88,733.65l-3.5,2.81M493.06,749.26l3.89,1.62M542.74,673.59l1.11,4.43M553.92,761.64l-2.37,1.75M389.09,740.81l-2.79,2.58M337.82,731.14l2.02,4.2M415.43,709.86l2.37,0.94M447.84,785.64l-3.93,3.43M606.7,798.92l-2.61,1.17M574.89,700.24l-2.16,1.88M536.26,821.44l2.11,5.05M571.93,769.94l-2.49,0.8M307.05,747.27l-3.55,0.94M306.31,796.39l-1.95,1.85M548.53,802.55l5.31,1.4M518.94,748.29l-1.84,1.73M337.82,754.82l-5.43,0.7M325.88,785.18l-4.07,3.25M343.62,763.57l-0.32,3.37M596.1,778.36l-4.86,0.57M337.31,749.46l-1.02,3.47M501.24,744.69l3.35,2.19M596.2,792.01l1.5,2.15M429.08,761.68l-1.98,1.99M541.28,802.7l3.77,1.24M366.76,788.37l3.23,2.57M361.81,707.38l-1.41,5.27M360.92,761.16l-3.16,0.18M345.63,742.1l-1.72,4.35M567.54,760.76l2.93,1.18M343.28,726.56l-3.23,2.19M308.49,730.68l-1.72,3.98M308.02,786.16l-1.03,3.27M413.68,710.8l2.71,3.6M314.68,806.38l-3.74,1.72M526.18,758.2l2.65,2.73M443.19,816.88l-3.33,0.55M407.33,775.51l-2.41,3.53M556.16,726.2l-2.03,3.48M386.46,788.45l-2.14,4.07M524.13,771.2l-4.01,2.28" stroke="#cdcdcd" stroke-width="1.5" fill="none" stroke-linecap="round"/>
<path d="M302.86,775.94l-0.42,2.55M283.08,752.31l-2.05,2.71M542.9,708.55l3.14,2.79M603.11,701.06l-3.33,1.62M360.27,724.33l-3.3,2.49M561.4,722.67l-1.07,3.32M523.82,724.65l3.45,2.43M587.24,699.64l5.24,0.84M401.17,714.52l1.97,3.61M534.57,760.85l1.97,1.82M399.31,730.79l-2.46,4.08M297.01,799.09l-3.44,4.11M600.25,748.38l4.82,2.28M448.53,756.02l0.19,4.32M477.84,726.14l3.66,3.25M484.48,798.62l1.84,2.86M334.15,785.45l1.75,4.48M597.25,722.87l4.46,0.98M375.81,791.6l1.19,4.47M583.12,774.99l-0.48,5.46M281.7,715.85l-2.85,0.77M531.98,718.61l-0.86,3.05M579.45,688.59l-4.66,0.53M380.69,798.73l-2,1.54M569.17,691.32l-0.96,4.46M552.07,716.35l-0.3,5.27M407.07,739.85l3.81,0.53M500.55,809.98l-1.58,3.1M522.32,743.64l-0.32,3.75M540.88,787.61l2.18,1.81M550.59,749.94l-2.8,0.15M390.14,727.37l-0.1,5.08M459.25,777.25l-1.34,3.11M478.36,683.73l0.85,5.16M478.71,728.51l-0.84,2.5M288.34,788.02l-2.92,0.5M468.53,797.86l-2.83,1.97M605.04,781.9l1.22,4.11M554.19,804.23l2.01,4.32M328.38,763.84l3.91,2.76M453.51,737.39l-3.1,3.02M398.55,725.79l5.03,1.53M524.86,692l-0.85,2.51M322.28,696.55l1.22,4.92M400.86,755.45l-2.59,0.9M437.64,680.27l-3.62,2.18M385.34,689.06l2.69,0.55M585.75,746.86l0.92,4.9M320.97,800.74l3.55,2.77M423.52,793.08l-1.03,3.23M433.17,781.39l2.7,3.63M537.72,754.52l-2.87,2.74M547.64,745.91l3.72,3.34M431.72,690.06l-2.71,1.39M566.4,683.68l4.68,1.64M318.95,784.07l2.99,1.41M550.54,794.31l3.33,1.19M538.22,719.82l-0.58,4.01M571.9,763.89l3.73,3.63M549.44,687.02l1.52,3.16M534.38,750.48l0.61,5.34M466.4,802.5l-2.71,4.38M468.79,808.57l3.22,0.23M402.34,678.21l2.86,3.8M420.98,704.18l4.79,1.08M336.85,767.21l-2.6,0.65M537.39,767.94l0.94,4.63M302.31,779.92l-2.52,4.75M400.86,814.43l-1.88,3.83M285.21,747.26l-2.45,0.71M375.93,759.45l-2.71,3.47M438.74,763.47l1.25,3M522.71,717.96l-2.44,2.36M588.34,766.84l-3.55,2.5M426.94,817.38l1.93,3.01M516.94,788.07l-0.91,2.63M386.31,782.22l-4.51,1.73M390.83,796.65l2.8,2.79M394.49,764.01l-1.1,2.72M573.05,775.95l-3.52,2.42M283.08,775.44l2.28,4.22M530.94,726.99l-0.37,4.56M554.99,765.55l-0.15,4.49M320.38,753.7l1.71,2.69M484.46,797.6l-4.71,2.26M476.75,759.15l1.89,2.01M625.94,751l-1.27,3.49M628.59,766.11l1.65,3.53M421.17,745.94l4.11,0.11M569.78,768.84l1.12,3.2M385.67,702.09l-3.38,3.5M542.04,742.05l-3.99,0.23M415.57,711.89l-0.14,2.51M588,677.8l3.79,3.47M530.91,800.7l2.55,2.96M423.01,769.28l-2.36,3.73M484.96,815.71l4.6,0.76M399.5,788.7l1.66,2.36M593.47,775.01l-1,4.11M381.66,766.33l-5.17,0.5M442.91,783.81l-3.56,2.08M387.64,741.23l1.94,3.95M401.64,806.63l4.32,1.22M625.97,760l-4.61,0.25M307.26,768.41l-2.57,0.55M615.96,768.6l-2.43,2.09M594.26,789.52l-0.18,3.83M479.67,692.98l2.5,2.53M473.86,815.26l5.38,0.97M547.51,802.97l-1.08,5.12M562.06,688.43l2.66,1.03M506,672.83l3.1,0.38M352.8,678.62l3.41,0.42M470.33,836.77l3.32,0.47M531.39,737.24l2.11,2.97M616.48,754.56l-1.66,5.22M566.07,683.76l-3.86,1.35M419.32,731.41l-2.5,2.08M626.33,767.19l-1.32,2.94M392.48,753.6l2.57,2.02M552.92,805.54l-0.58,4.24M340.82,762.86l0.99,3.53M307.74,754.8l-3.23,3.18M392.17,713.68l3.14,1.73M374.14,678.34l1.32,5.13M528.03,736.36l3.27,2.49M566.88,792.41l1.43,4.68M414.54,756.13l-0.06,4.37M366.38,799.23l-4.42,2.75M421.18,770.12l-3.32,0.66M440.7,771.03l-2.44,2.33M453.82,772.02l-5.02,0.12M311.68,726.24l2.34,2.44M469.66,808.14l3.73,2.28M473.79,703.06l1.47,2.11M310.47,779.54l4.28,3.07M495.35,769.47l-3.02,0.65M496.29,753.88l-2.49,3.19M478.07,809.52l2.77,4.72M403.04,776.83l-0.19,2.82M399.18,699.45l-5.03,2.08M534.6,769.31l-4.19,1.72M461.07,777.39l3.78,3.74M584.72,743.94l4.71,1.96M448.12,808.29l1.57,4.57M493.14,774.04l0.53,4.81M554.94,798.42l-2.48,2.15M456.16,710.95l-2.6,0.65M415.18,777.31l3.17,1.64M412.65,781.97l-0.14,5.34M541.87,751.09l-1.19,3.54M420.9,784.46l-3.91,0.25M358.1,816.68l-3.11,3.13M476.2,811.4l5.15,0.31M366.22,759.01l3.95,3.32M535.72,762.11l-2.42,3.77M464.46,758.94l1.74,1.83M444.7,812.81l-2.74,3.09M449.98,672l-2.56,1.75M517.06,708.12l-2.62,4.19M478.62,724.5l-2.74,0.44M600.61,765.35l5.19,1.23M550.66,702.87l-3.27,3.36M371.24,798.42l-4.46,1.76M621.59,789.07l-4.57,1.01M293.38,783.68l-0.85,3.44M422.06,802.97l-2.2,2.76M404.63,741.79l-2.5,1.66M538.77,733.42l3.53,1.81M446.01,822.51l2.44,2.77M459.44,745.64l5,0.3M287.05,720.89l1.76,1.87M492.28,767.48l3.12,2.42M549.55,676.21l3.23,2.9M437.61,790.19l3.12,3.07M338.2,779.46l3.56,0.46M554.49,800.3l-0.71,5.44M532.29,831.07l-0.06,3.61M342.41,781.08l-5.36,0.89M312.87,752.89l4,3.02M518.2,774.97l1.13,4.28M335.18,801.89l-4.86,2.01M539.47,833.51l-0.27,5.21M355.93,797.7l3.22,3.36M436.7,844l2.25,1.43M408.45,675.86l-3.1,2.78M463.26,832.79l-2.76,0.33M453.29,752.99l-2.54,1.65M442.87,776.93l-0.37,3.43M580.93,755.6l2.77,1.62M612.56,780.7l-2.47,1.45M400.48,742.66l-2.57,1.62M411.13,691.43l-1.11,4.4M505.4,731.35l3.6,2.33M307.74,781.3l-0.77,4.28M451.19,765.29l4.2,0.44M340.91,732.7l-2.93,0.8M323.53,724.2l-0.33,2.81M519.1,705.41l-2.74,4.47M291.45,706.08l1.49,4.31M445.24,731.7l2.61,1.63M358.53,710.33l4.83,1.53M379.94,771.82l-1.78,3.02M351.65,738.85l2.1,3.12M596.82,724.95l1.07,3.46M567.91,776.09l-0.47,5.47M303.34,723.92l1.73,3.25M455.88,826.62l-4.12,1.42M533.82,737.52l-1.13,4.9M590.22,715.96l0.52,2.85M600.46,697.15l1.36,2.6M320.97,789.74l-1.42,2.27M581.15,750.83l-2.05,3.99M546.01,672.49l-3.32,0.04M574.27,759.4l-4.15,0.58M409.96,691.6l0.18,4.11M387.95,780.57l0.24,4.83M474.46,764.54l2.91,0.91M604.53,728.51l3.53,1.12M374.55,700.12l4.62,1.95M321.55,803.86l3.9,0.61M521.38,764.3l-2.05,3.03M526.43,812.29l-2.77,0.02M416.03,739.52l1.56,5.07M553.27,828.1l-0.25,5.19M402.43,744.19l4.68,2.59M465.09,797.44l-2.16,4.56M474.95,768.58l-3.04,3.81M474.64,752.85l2.2,2.72M628.37,769.01l1.86,3.79M298.81,764.66l-3.11,1.86M559.81,771.77l-1.36,4.21M408.96,780.55l-0.94,2.79M386.2,811.01l0.98,5.4M494.77,734.99l-2.32,1.35M331.64,757.65l-2.52,4.23M401.99,806.19l-2.88,2.69M439.17,722.86l2.26,2.64M520.44,684.69l-3.39,2.03M347.16,775.93l1.94,3.95M471.5,772.41l4.33,3.05M499.91,703.84l-4.86,2.06M292.15,800.16l0.92,4.28M544.72,760.27l2.69,1.01M586.27,788.26l-2.24,2.86M399.45,752.59l2.62,1.13M537.53,795.8l4.12,3.46M495.95,764.02l1.63,4.19M610.23,747.09l-3.32,0.57M415.1,758.36l-4.28,1.87M546.77,731.68l-0.16,5.12M513.59,818.69l-3.33,2.26M478.65,714.25l0.66,2.79M374.26,836.32l-3.03,0.33M324.94,752.05l2.99,0.66M444.16,693.93l2.71,4.12M323.82,756.04l-2.38,3.89M438.32,778.29l0.59,3.37M321.03,790.23l-2.28,2.98M447.04,759.43l-0.53,3.43M339.29,732.46l-0.32,3.04M502.44,750.68l-0.17,2.57M606.32,730.57l-4.6,2.89M343.78,759.36l0.8,3.08M589.38,775.57l5.03,1.09M470.08,768.65l1.69,4.38M384.68,795.31l-3.81,2.22M327.73,725.66l2.72,3.7M390.21,792.54l3.69,1.94M619.68,746.38l2.47,0.71M461.78,731.46l0.2,4M420.56,784.7l0.86,4.05M325.41,805.56l2.79,1.57M605.25,814.15l-1.22,3.4M491.12,794.46l-2.33,3.69M469.43,783.34l3,0.34M474.64,760.68l-0.25,2.82M499.59,803.88l-0.06,3.99M491.65,776.22l-2.6,1.97M610.59,748.58l-2.85,0.19M419.38,778.83l5.25,1.51M519.61,768.24l-0.51,5.34M626.44,749.31l-0.37,4.79M350.48,805.05l-2.66,2.65M287.69,766.39l-3.55,2.33M289.27,745.88l5.41,0.24M521.69,775.61l2.56,1.5M424.72,724.2l-2.79,0.61M379.46,813.81l-1.87,2.24M394.36,705.32l3.16,1.58M517.89,797.02l-2.25,1.75M461.21,790.62l-0.25,4.49M484,826.38l3.88,0.88M613.66,796.04l4.59,1.1M578.87,719.63l4.94,1.97M582.68,754.42l-0.33,3.39M537.98,739.05l1,4.61M539.05,775.24l1.45,5.24M373.31,672.56l-3.11,3.57M598.03,775.99l-0.72,5.32M399.55,811.95l0.34,2.61M303.08,795.43l2.55,3.21M573.14,695.29l-5.13,1.2M600.73,794.61l-1.99,4.12M587.13,761.63l-2.53,0.82M362.89,712.36l-2.39,1.13M436.52,768.82l4.06,1.67M382.98,782.46l-2.57,0.65M547.4,791.2l2.64,1.82M475.92,785.16l-4.93,0.79M486.06,767.34l-0.61,5.37M309.32,728.44l4.4,0.29M515.55,712.54l1.06,4.47M329.18,805.09l-3.01,1.63M391.64,738.7l-3.18,2.44M481.07,785.79l1.31,2.57M345.82,753.35l2.82,4.26M336.87,788.2l0.58,4.64M284.49,717.81l-3.41,2.67M301.45,797.7l2.46,3.64M387.05,778.12l-2.69,1.97M567.96,786.5l-2,1.71M467.61,681.34l3.18,3.27M525.04,742.68l-3.43,3.01M364.72,750.29l4.42,1.02M484.3,803.97l4.17,2.82M458.05,825.19l4.54,0.79M408.09,798.05l2.75,1.97M508.77,748.86l-3.44,1.24M465.34,766.75l1.51,2.84M412.92,717.92l3.25,0.2M367.39,786.64l2.45,2.78M605.47,779.17l-3.28,0.71M285.56,769.18l2.15,3.42M333.73,778.16l-2.24,2.98M507.87,767.69l-0.13,2.75M592.96,803.1l-3.69,2.51M511.74,785.48l2.45,3.66M368.34,823.75l2.59,2.52M531.25,776.42l4.72,2.49M341.64,827.09l-2.19,1.81M286.5,745.11l2.53,1.87M440.26,692.47l-3.64,1.41M550.64,735.16l4.88,1.96M563.46,793.29l-2.73,2.7M476.02,753.94l0.95,3.27M577.32,749.54l0.58,3.59M443.02,839.25l-2.83,2.27M484,732.66l1.91,2.15M581.82,744.18l-3.29,0.81M503.78,689.66l-4.68,0.5M410.65,767.99l1.33,4.37M350.82,798.73l-3.64,4.11M284.19,754.55l2.31,1.28M412.63,706.85l-2.61,2.45M339.5,817.85l-1.64,2.95M433.07,686.15l-2.28,4.82M358.7,790.01l0.52,3.73M523.33,760.8l1.36,2.17M432.32,712.54l2.78,1.13M503.87,699.25l-3.92,1.34M571.1,738.07l1.84,3.46M293.8,786l-2.97,3.27M546.25,685.11l-3.85,2.52M627.8,747.19l-5.09,1.4M455.72,845.18l1.54,4.61M391.22,765.64l1.05,3.21M391.2,688.68l-5.25,0.06M572.22,748.58l-3.17,0.32M560.76,690.55l2.8,1.66M418.25,696.25l4.6,1.85M294.41,753.96l0.25,5.08M489.88,776.64l0.47,3.93M463.73,809.11l-1.85,2.44M389.42,680l-2.63,1.28M419.81,727.33l-3.77,1.95M302.66,771.36l-3.1,4.43M547.57,767.29l2.66,3.07M497.03,710.75l0.95,2.77M523.5,827.66l-4.19,0.48M525.59,742.23l-2.93,1.65M474.03,743.33l5.3,0.15M332.13,774.16l-1.46,3.01M288.48,769.98l2.91,0.62M393.1,718.69l-3.28,3.75M456.68,697.09l-2.86,4.63M591.34,714.3l5.11,1.64M567.2,758.16l2.11,2.84M411,760.32l-3.98,0.86M475.27,829.87l3.39,1.42M363.27,762.96l3.42,1.72M367.23,804.01l4.14,3.44M433.5,775.98l-3.31,3.25M582.14,738.47l3.7,2.14M535.64,799.58l0.52,4.26M443.99,779.96l4.43,3.21M438.92,698.74l3.77,0.64M544.69,754.27l-3.01,2.92M491.47,750.84l3.17,4.49M480.17,786.4l-0.49,3.93M570.77,765.15l1.1,2.6M477.59,765.65l4.1,1.99M385.81,811.5l3.75,0.82M579.25,776.58l4.38,2.16M443.83,758.9l-2.4,2.81M520.72,807.68l2.84,4.14M398.43,677.4l4.26,3.33M598.83,681.98l0.11,2.74M432.93,681.35l3.03,2.57M393.42,755.63l1.89,1.71M393.56,805.69l0.57,3.52M523.89,758.2l-1.26,4.51M295.8,791.55l3.32,0.62M582.44,814.97l1.34,4.08M507.63,718.91l-0.93,3.38M539.34,706.34l1.14,3.93M387.95,711.64l2.75,1.56M411.77,754.95l5.12,0.49M549.52,778.76l-2.73,0.43M574.09,754.17l1.36,3.12M298.16,773.89l2.55,1.88M406.51,715.43l0.95,2.55M621.69,764.05l4.15,2.58M543.6,816.95l0.99,4.58M622.6,775.74l-1.63,3.14M524.38,769.89l-1.31,4.86M499.1,721.86l3.89,0.88M620.22,787.69l-2.53,3.08M339.62,699.9l-1.51,3.57M332.54,709.88l2.76,1.01M560.94,753.62l-2.86,2.45M579.84,751.92l3.17,2.98M295,689.23l-2.28,2.78M577.1,773.99l-1.92,3.52M578.38,770.09l5.41,0.46M566.74,811.05l1.86,3.52M576.62,799.61l-1.36,5.14M300.94,722.5l0.27,2.85M522.73,792.39l-3.27,2.98M494.59,682.03l-3.49,2.04M549.31,785.08l-0.22,5.38M335.58,793.19l-1.2,3.32M281.18,771.32l2.71,0.56M556.98,785.63l2.75,4.2M403.73,829.91l-3.09,3.54M415.39,789.11l2.67,3.76M387.61,777.86l-0.98,3.15M619.07,760.26l-2.21,3.35M517.76,792.59l4.82,0.1M283.48,743.56l3.86,3.32M540.82,792.39l4.11,1.15M586.8,712.71l3.3,2.01M508.64,788.3l2.55,3.59M523.48,777.85l-0.2,5.26M436.69,701.12l-3.26,2.17M416.75,683.04l-3.78,2.62M300.32,719.46l0.17,4.25M475.76,702.3l3.41,0.4M520.91,765.51l-0.18,4.59M330.48,745.96l-3.19,1.36M315.76,720.19l-4.36,1.67M402.78,789.43l-0.91,2.84M380.17,754.89l-3.57,1.7M596.54,751.8l0.21,3.86M394.74,675.39l-3.91,0.19M627.09,746.04l4.51,0.58M553.05,725.87l-3.2,0.96M509.95,718.39l-3.34,2.55M446.25,824.36l-3.43,4.2M595.34,775.87l2.38,1.18M519.35,731.61l3.51,0.99M460.46,773.15l4.33,1.75M416.09,725.82l3.95,1.7M509.36,719.1l3.4,2.83M520.01,684.54l0.08,4.01M626.92,754.84l2.77,1.11M495.22,755.76l-3.28,0.85M345.6,807.69l-3.51,2.84M369.99,772.6l-3.44,2.78M391.5,791.51l4.03,0.18M519.52,671.15l-1.97,4.39M354.86,791.46l2.11,2.44M527.9,696.82l0.42,3.42M350.57,739.5l1.2,2.57M517.71,716.27l2.62,3.13M462.03,784.08l-3.52,0.52M527.96,713.67l-2.82,1.54M481.15,784.16l-2.62,1.75M361.55,715.22l3.16,1.62M403.73,689.07l-1.24,3.8M557.18,744.86l2.1,2.77M565.88,758.08l3.53,1.23M590.38,710.74l-3,2.57M542.33,792.57l2.64,4.11M576.56,725.44l1.1,3.37M627.05,770.58l-0.64,4.62M310.97,800.24l-4.83,2.02M566.55,790.01l-1.86,2.97M377.78,768.27l-1.99,2.81M574.71,814.79l-3.27,1.93M380.83,680.58l-5.34,0.43M347.34,711.12l2.95,0.23M568.4,780.77l-3.37,3.12M493.13,773.15l-3.04,1.79M502.06,826.53l-3.31,1.18M595.95,770.75l-3.65,3.18M394.84,708.81l4.38,3.14M406.97,840.24l2.57,3.63M485.85,795.26l3.47,3.43M387.07,840.92l-3.94,2.47M437.24,778.76l2.8,1.53M414.34,753.66l-2.35,2.73M409.17,812.18l-2.32,4.89M332.46,738.12l2.02,3.99M586.51,753.62l3.11,0.59M414.47,731.2l2.38,4.62M378.91,827.62l3.6,1.34M578.44,795.89l4.69,2.25M466.72,727.73l4.53,0.86M371.57,769.14l-4.97,1.53M435.36,786.99l1.74,2.22M341.52,754.19l0.11,3.32M491.57,772.17l-4.82,0.3M480.42,752.64l-0.03,2.92M344.39,803.29l1.3,3.66M508.53,739.29l-0.11,3.97M472.87,806.43l-4.62,0.6M296.86,735.32l2.31,1.13M547.91,793.45l-3.53,3.54M462.98,798.88l3.09,4.47M582.91,773.21l0.92,5M356.37,738.56l-1.52,2.93M338.83,814.53l-1.9,1.67M433.72,769.99l-4.56,1.79M418.26,764.63l2.6,0.44M368.9,768.78l2.69,2.74M611.1,763.18l3.33,2.99M571.41,764.76l-2.08,2.39M298.29,812.56l3.89,1.72M449.5,755.14l-1.94,4.16M598.75,759.86l2.48,0.93M445.16,697.27l3.94,0.61M313.74,780.22l4.12,0.86M489.71,788.3l-2.22,4.56M549.84,783.54l4.4,1.85M568.31,798.78l3.24,0.62M548.73,797.88l-3.3,4.11M525.84,781.18l4.11,1.1M448.14,754.06l-2.58,3.35M593.07,761.89l3.17,1.66M484.52,813.91l2.5,2.46M500.13,753.08l-3.18,1.01M366.71,708.02l0.12,3.3M427.56,680.18l-1.21,2.91M417.88,791.98l-0.23,2.62M460.11,710.71l1.22,4.89M360.08,777.65l-0.23,5.24M512.89,776.18l-4.96,1.5M491.71,822.79l2.69,4.01M531.88,737.79l-2.29,1.59M542.97,830.26l2.56,4.49M575.82,774.93l3.13,1.03M328.48,748.63l0.57,3.91M597.27,758.62l-5.07,0.7M538.41,718.67l-3.82,1.59M360.89,775.68l5.46,0.56M570.67,780.91l3.12,2.97M325.34,816.35l0.7,4.41M479.49,774.58l0.03,2.83M449.97,791.72l-2.38,2.71M347.67,763.57l2.84,0.68M547.37,775.3l-1.71,2.02M494.42,773.44l3.28,1.81M603.4,784.52l-1.03,4.95M353.69,754.98l-1.15,2.5M433.91,717.08l-4.42,0.65M587.61,793.92l-4.71,1.1M364.88,736.28l0.12,2.77M410.95,848.04l-1.03,5.28M486.33,745.83l1.77,4.32M395.42,686.41l-1.6,5.02M309.96,750.59l0.97,3.09M586.98,754.45l-2.67,0.52M420.19,715.84l-4.7,1.47M526.76,754.73l-2.09,3.84M374.22,759.85l3.51,1.4M285.09,702.77l2.4,1.85M570.64,685.36l3.59,2.93M571.65,700.65l-4.27,0.14M297.88,795.38l-1.93,4.23M440.92,772.46l4.23,1.97M411.83,755.95l-3.5,3.42M459.04,776.54l-5.1,0.41M580.27,776.71l-0.19,2.55M511.21,722.62l-4.1,1.32M488.78,697.85l-2.35,2.5M419.64,766.73l-2.96,0.76M386.33,804.63l3.73,3.46M436.47,743.02l-2.01,2.4M408.34,806.03l-1.88,3.69M465.57,739.16l3.22,0.67M626.37,733.26l0.27,4.81M620.24,752.78l0.13,5.34M428.62,777.2l-3.67,3.99M359.28,704.98l-3.78,3.71M366.26,768.91l-2.49,2.44M537,674.82l-2.15,2.02M558.18,774.24l-5.12,0.5M384.53,701.57l-4.33,2.75M495.55,765.51l2.46,3.33M435.4,796.35l-3.94,1.85M620.68,746.63l3.13,0.37M578.46,752.65l2.82,3.88M444.49,734.07l2.18,2.06M383.53,760.09l2.78,1.03M280.91,752.28l3.31,1.47M608.73,810.92l3.59,2M295.55,741.88l-3.96,2.31M431.94,749.68l-3.96,0.11M614.24,763.44l3.66,4.1M499.5,753.94l3.04,2.64M294.04,729.63l3.23,2M575.55,781.09l1.27,2.34M384.83,697.71l2.72,0.99M515.15,680.33l-0.82,4.32M354.09,696.17l-1.18,2.68M585.59,774.37l2.55,0.43M421.15,736.02l-2.53,2.29M591.9,715.83l-2.37,4.39M349,722.26l3.5,1.77M329.24,816.25l2.3,2.85M409.5,809.15l5.38,0.1M378.19,682.23l-3.97,2.44M594.24,774.15l-3.62,2.82M295.23,772.74l1.23,3.31M544.34,673.08l-1.4,2.11M499.09,772.09l-2.08,1.78M520.4,813.66l2.34,4.93M384.71,711.92l0.2,5.22M599.65,752.18l-1.52,2.07M382.96,787.96l0.6,3.75M629.8,748.95l-4.86,1.82M549.86,746.09l-1.52,3.67M469.34,812.95l-0.9,5.01M380.88,703.26l4.47,0.25M488.14,713.89l2.47,0.66M339.43,754.3l2.22,1.63M491.59,777.54l2.76,3.39M390.04,789.08l-3.16,1.84M598.31,705.26l-1.18,3.73M410.24,753.48l3.27,1.96M517.89,781.49l3.09,0.33M493.17,798.89l-2.88,2.34M442.94,739.83l1.75,3.16M412.45,786.38l3.01,2.23M531.92,771.59l-3.75,1.19M472.71,672.87l-3.67,1.25M480.74,794.38l2.87,1.69M525.59,836.27l1.01,3.52M399.18,712.49l-2.97,2.79M430.39,792.3l-3.3,0.03M484.73,773.4l1.91,2.41M586.72,758.62l-0.9,4.85M373.63,792.51l4.94,0.99M346.56,811.87l0.28,2.55M591.71,698.89l3.43,2.62M577.28,780.89l3.11,1.03M442.63,777.69l4.05,2.7M390.78,807.28l0.41,3.5M459.85,676.49l2.85,2.52M630.23,759.58l2.52,1.03M584.59,775.13l-3.14,1.3M510.71,798.27l1.91,2.82M384.36,745.55l1.19,2.34M605.27,785.98l1.77,3.68M462.98,830.75l3.4,1.32M470.78,764.35l2.77,1.68M301.32,773.77l-2.38,4.53M566.43,740.92l4.82,0.38M291.79,691.77l-2.62,2.31M355.93,760.48l3.23,1.31M545.56,748.4l-3.33,0.56M359.14,753.29l2.95,3.07M534.84,760.79l2.93,1.88M528.93,739.97l0.19,4.99M368.12,806.34l-4.69,1.05M395.49,806.95l2.43,1.69M298.18,755.02l2.61,1.15M612.15,787l-1.6,3.77M330.17,762.03l2.4,0.71M421.12,804.95l-3.89,1.5M283.86,780.97l1.43,2.98M359.33,777.45l4.86,1.22M382.15,671.92l0.7,3.74M336.27,733.97l3.16,1.07M306.35,688.1l-0.97,3.38M536.89,817.64l-0.36,3.88M571.36,705.82l2.2,3.26M341.54,690.93l2.84,0.97M589.12,749.38l3.41,2.21M451.94,678.41l-4.06,2.63M407,682.66l5.04,1.33M361.45,795.26l-3.58,3.79M353.95,715.78l1.4,4.71M505.37,810.11l3.28,2.61M360.88,687.08l4.49,0.66M414.76,788.78l-3.02,3.96M448.53,773.4l-3.51,2.13M562.87,798.37l2.22,2.93M334.52,688.24l3.03,0.25M306.9,705.96l-0.17,5.04M355.95,746.34l-3.08,2.55M504.03,836.6l-2.76,2.61M423.49,802.86l-0.12,2.9M438.1,784.31l0.61,3.95M578.48,717.24l-1.85,1.77M485.53,807.46l-1.72,3.1M475.99,760.93l3.65,1.54M330.9,741.7l-2.96,3.26M621.52,786.43l-2.61,1.76M315.1,804.49l-4.03,2.33M511.52,789.3l0.63,3.88M331.61,690.18l-1.37,2.23M426.89,845.88l1.2,2.42M453.62,787.72l0.71,5.39M341.36,783.57l-3.04,3.21M526.74,725.99l4.01,3.53M449.57,763.67l-3.78,2.87M430.3,803.52l2.67,1.82M439.6,679.12l2.71,2.07M322.45,683.1l-1.94,3.02M331.17,782.59l-1.17,2.71M410.14,684.61l-3.99,1.63M471.83,737.26l-1.01,4.02M311.74,699.27l1.63,2.39M334.98,754.11l1.51,3.8M369.78,821.96l-0.58,3.89M352.72,779.03l-1.93,4.05M446,755.38l-2.71,2.47M393.12,702.37l3.06,1.01M395.48,713.8l3.57,1.76M291.26,695.96l1.16,3.62M583.56,774.55l-2.89,3.33M346.2,722.42l-1.1,3.01M585.13,717.53l-3.15,0.83M349.42,779.28l-4.39,1.14M283.14,780.28l-2.47,3.44M522.6,805.1l4.09,0.11M329.88,719.83l-0.26,3.91M317.75,754.36l4.97,1.45M324.02,773.83l1.06,3.57M533.71,673.8l0.07,2.83M411.41,815.53l3.13,1.28M321.92,709.39l-2.98,3.33M534.11,755.66l-3.66,3.1M568.74,677.88l-1.32,2.7M538.22,764.31l-2.97,4.39M516.45,773.2l-4.38,1.2M579.76,808.2l2.75,0.16M462.64,769.18l3.87,2.58M402.94,809.81l0.29,2.82M619.04,699.38l-3.81,2.68M503.59,830.16l-1.03,3.7M326.97,782.45l3.5,4.21M474.45,805.16l-2.89,4.62M580.25,771.68l4.1,0.28M401.93,730.29l-2.62,4.81M387.87,788.98l1.96,4.12M425.42,687.2l3.72,1.78M607.11,679.4l-3.31,2.74M480.9,730.27l2.38,1.59M441.18,793.29l-0.43,2.53M553.42,747.01l-1.43,2.15M449.28,771.8l-3.65,0.01M564.12,737.43l-5.21,0.38M323.38,762.56l2.39,1.26M356.71,800.92l-2.6,4.37M335.29,722.27l-2.49,4.69M313.26,763.64l2.98,0.99M544.7,766.41l2.79,0.15M428.24,729.37l1.85,2.34M584.53,749.11l1.22,3.53M593.25,780.19l-4.07,2.72M510.17,821.11l-2.69,1.46M564.58,784.66l2.26,4.98M379.28,820.27l1.7,2.81M350.03,736.58l3.42,2.09M585.94,794.45l-3.64,1.61M336.22,786.13l4.07,3.59M394.75,839.36l-3.79,0.56M327.42,732.7l2.95,0.36M376.78,810.1l-0.12,3.4M398.05,695.08l0.03,2.8M299.1,714.14l3.54,1.76M319.91,784.48l1.22,4.51M297.96,745.89l4.33,1.07M536.43,751.94l1.79,2.1M511,710.93l-3.63,1.9M542.95,719.51l5.33,0.47M460.14,799.8l-0.31,2.56M366.19,753.04l-3.47,3.57M300.68,735.73l3.11,2.31M464.47,816.28l1.94,5.04M612.89,739.91l-1.78,3.03M439.69,803.68l-3.45,1.1M435.11,753.68l0.92,2.75M548.2,807.53l2.13,3.51M387.28,734.51l-0.77,3.37M601.99,723.17l2.44,4.85M594.67,694.74l-4.43,1.91M562.53,791.28l-1.64,4.34M309.85,797.73l-0.9,4.61M515.34,796.99l-1.85,2.54M565.1,697.9l-2.46,0.75M383.32,700.41l-4.43,1.75M550.77,751.53l4.83,2.32M533.16,726.16l-2.14,2.68M480.42,705.04l3.49,0.76M538.23,792.04l1.97,4.58M359.01,791.14l-3.05,2.72M442.26,759.09l3.12,3.79M374.66,800.77l-3.03,0.96M408.79,795.66l-2.95,0.18M351.08,757.88l1.83,4.67M392.8,845.16l3.63,3.35M414.4,755.58l0.88,5.33M333.76,756.71l-4.61,1.39M461.47,827.34l1.96,1.9M607.76,797.17l-5.03,0.46M607.85,801.73l3.45,0.88M542.91,699.04l-0.62,3.99M353.5,762.03l-0.26,5.06M351.29,803.05l0.79,5.07M508.61,676.04l1.01,4.42M528.79,800.29l1.49,4.01M374.57,815.37l-1.88,2.41M290.62,698.78l0.1,3.23M424.8,673.71l-1.07,2.58M355.75,775.03l-0.55,2.87M445.54,757.04l-3.26,1.37M594.13,790.45l2.48,4.55M565.85,714.65l-2.64,1.8M410.3,767.23l-4.08,1.1M536.17,777l-2.81,2.51M459.95,761.8l-4.25,0.22M289.4,727.92l-1.94,1.97M469.87,765.9l-4.17,1.77M556.66,781.75l-2.56,2.82M468.06,813.43l1.7,2.63M378.48,689.74l0.33,4.97M400.01,729.57l3.88,2.22M572.96,714.89l3.78,1.13M379.35,755.7l1.69,2.35M370.3,742.94l3.1,0.51M518.77,782.11l3.35,2.11M469.91,813.79l-2.87,1.55M376.09,713.29l-4.17,0.72M506.32,841.49l-3.46,2.86M558.07,735.51l1.37,3.74M330.82,740.71l1.83,4.99M318.53,794.79l-2.56,0.74M401.11,767.16l-2.59,1.77M338.69,832.49l1.83,4.55M624.96,742.71l-4.03,0.57M474.89,792.59l-0.82,3.57M522.86,801.1l-1.9,2.13M602.89,706.59l-2.75,1.14M292.72,758.58l-1.6,2.85M337.5,759.67l-0.63,5.38M519.17,691.97l-1.45,4.36M485.98,717.61l2.61,0.2M573.11,767.77l1,2.33M541.65,712.99l4.22,1.4M494.25,828.63l3.4,3.94M492.39,755.66l-2.36,1.81M559.72,810.82l4.33,2.15M572.11,704.28l-4.65,0.52M426.59,800.42l0.17,4.7M393.32,745.08l-3.02,1.81M325.1,788.77l3.28,0.88M453.9,754.3l-1.89,2.43M526.6,801.86l-2.56,1.6M329.63,798.32l2.68,3.52M300.1,730.85l-0.91,4.53M327.92,735.06l-0.23,4.57M617.49,693.34l3.46,0.65M583.12,788.5l0.26,3.01M476.98,727.96l0.71,3.99M474.33,806.48l-0.65,3.48M444.02,736.74l-0.69,3.15M536.46,753.87l3.1,0.39M423.15,693.46l0.68,4.83M316.09,789.01l4.71,0.95M437.77,819.12l2.24,1.12M322.94,777.55l2.99,1.71M499.96,827.03l1.28,4M337.73,731.64l1.1,3.24M305.07,757.43l-1.86,1.8M295.37,745.24l-4.34,0.93M411.01,768.52l-0.92,3.74M317.98,739.2l2.99,4.49M476.32,801.26l0.08,3.81M287.76,759.08l-2.49,2.51M502.69,838l3.09,1.21M366.33,792.01l-4.1,2.01M567.9,774.8l1.68,2.25M591.92,757.63l4.58,2.01M302.67,749.62l-3.61,1.51M465.63,835.09l-0.81,2.7M414.05,791.12l2.15,3.21M534.9,821.67l-2.18,4.27M592.06,694.26l-3.42,2.96M412.08,778.84l-3.98,2.76M348.72,751.52l1.82,1.73M334.21,805.68l-4.75,0.99M358.07,797.05l-1.13,5.15M518.8,724.59l-2.1,2.41M360.08,821.65l-3,4.07M329.69,708.02l0.68,2.67M438.04,702.01l4.4,1.32M317.23,713.83l4.25,1.77M292.66,717.02l-1.02,4.94M281.86,740.02l4.58,2.75M581.41,784.08l2.65,3.39M619.79,763.24l1.97,4.09M329.79,712.22l2.87,0.57M617.02,795.42l-4.78,0.5M549.37,708.45l-0.62,4.16M347.88,810.94l-4.16,1.2M515.21,805.27l1.78,2.59M307.89,794.82l1.05,3.65M349.86,724.8l-2.82,0.47M517.35,673.92l-2.3,4.04M356.28,787.89l3.66,1.37M535.86,817.61l-2.92,1.76M423.94,741.46l0.21,2.96M450.46,829.69l2.72,0.3M414.83,798.94l3.72,0.51M523.48,754.27l1.67,4.17M354.95,777.72l-3.01,1.97M431.7,740.28l-3.15,3.17M501.93,760.98l-2.47,4.41M515.19,737.84l2.37,4.51M574.92,748.51l4.23,3.48M381.63,818.39l2.87,1.96M575.39,815.18l3.59,1.38M549.41,693.18l1.47,5.18M525.65,776.86l3.95,3.58M288.28,775.46l-3.61,0.72M455.91,797.73l2.74,3.05M284.47,763.96l-3.98,1.05M358.2,749.72l-0.81,5.23M364.76,716.28l3.57,3.24M405.61,766.6l4.18,0.56M301.08,732.82l-2.96,1.59M580.33,796.85l-2.68,4.63M413.04,747.7l-0.56,3.88M498.67,723.66l-1.58,3.59M533.59,691.74l0.42,2.64M422.12,830.64l2.29,1.04M499.92,704.82l3.83,3.35M400.03,744.83l2.91,3.74M589.33,695.53l-3.25,3.52M335.01,818.11l-2.56,1.89M315.54,767.04l-0.72,3.86M366.17,676.14l1.48,2.73M362.19,780.28l-3.19,1.12M330.74,755.82l-0.92,4.02M544.32,763.43l0.43,3.13M554.38,758.66l-3.36,3.32M384.71,798.68l0.98,3.33M410.73,748.52l-4.52,1.77M572.39,743.34l2.94,1.24M448.96,744.45l3.57,1.94M550.51,778.52l-0.27,3.31M478.78,755.13l-3.74,1.24M587.21,763.45l3.16,0.65M479.1,745.29l-0.28,2.64M482.14,697.93l4.58,1.82M500.64,781.29l3.33,3.46M330.58,715.13l1.73,3.04M414.18,837.34l-2.57,2.01M417.42,675l3.28,1.44M339.27,773.02l-5.13,1.34M282.97,715.6l-0.92,4.09M573.8,705.97l2.62,3.79M353.34,743.62l-2.85,1.19M575.06,729.88l-4.49,2.82M350.61,785.87l1.72,3.24M340.25,820.19l-3.3,2.73M408.49,763.68l-4.86,1.6M338.56,678.47l1.97,4.47M418.98,714.23l3.84,1.08M437.78,808.1l0.34,4.36M566.7,755.37l3.6,2.8M403.83,825.45l1.8,4.07M300.71,717.66l-1.74,2.66M616.94,749.81l-1.93,3.88M283.82,779.45l1.71,1.84M391.45,802.33l0.76,4.36M604.61,764.26l-5.28,0.16M501.92,770.68l-0.22,2.54M301.38,748.81l-3.25,0.5M432.41,820.86l-2.09,3.83M547.73,762.29l-0.11,3.13M291.79,732.01l-2.04,2M451.62,823.24l-3.11,1.64M419.04,816.43l3.39,1.06M283.18,768.91l3.38,1.31M581.54,767.19l-3.5,3.75M412.24,768.54l-3.24,0.43M601.9,766.95l-1.07,3.74M295.74,765.71l-1,4.08M307.25,775.66l-3.05,1.51M559.98,788.24l4.11,0.19M352.63,693.46l-3.13,3.81M422.17,703.1l3.98,3.65M547.95,766.72l-4.72,1.31M419.1,793.55l-2.87,0.75M581.64,811.64l0.18,5.33M321.04,809.02l1.42,4.4M360.97,723.35l3.27,1.52M396.8,818.97l-1.06,4.41M289.07,696.26l1.68,2.91M489.56,704.87l-2.98,2.22M528.66,764.09l-1.76,5.06M508.98,707.83l-2.68,4.09M421.63,842.85l2.13,2.88M576.64,730.13l-3.39,2.14M333.93,753.97l0.55,5.23M451.64,791.64l-4.09,1.14M467.3,827.4l-1.51,4.99M500.3,778.76l-1.62,4.57M512.03,678.16l3.47,2.35M311.31,770.94l2.06,1.52M501.62,782.99l-3.98,1.16M377.13,757.73l1.14,4.53M460.86,754.13l-0.63,3.03M401.76,795.93l1.51,4.49M538.47,740.8l-4.99,1.29M288.1,714.37l2.35,2.38M456.9,683.58l2.81,0.12M291.05,772.54l-2.7,0.17M392.47,812.59l4.03,0.05M412.8,698.46l-0.11,3.91M443.65,751.31l-5.24,1.53M370.98,785.87l2.08,3.99M501.63,813.87l-2.03,3.38M450.48,733.57l3.58,1.38M348.24,748.99l0.36,3.11M520.45,717.75l2.5,1.49M417.25,678.39l-2.67,0.19M345.39,831l2.33,1.33M418.94,702.17l4.73,1.06M540.08,759.41l2.68,0.09M500.53,796.73l-2.28,1.23M525.81,719.79l-0.46,5.03M416.21,785.13l0.36,3.67M352.96,821.2l-1.37,2.54M298.14,742.24l-3.16,3.96M472.39,753.33l1.14,5.35M379.49,703.5l-3.43,1.32M457.9,767.09l-0.94,2.67M402.88,759.9l2.09,2.64M377.67,672.66l0.33,3.69M469.46,777.91l3.91,2.95M416.5,799.24l0.56,4.34M300,775.48l-1.76,2.05M618.82,786.4l4.56,0.12M499.2,768.44l4.59,1.64M360.13,720.16l-3.75,3.97M565.45,715.97l1.06,4.89M431.14,689.59l-2.95,2.17M604.94,781.25l3.41,2.42M347.15,815.01l-2.79,3.14M379.85,730.16l-4.5,2.66M360.34,682.08l-3.48,1.53M549.11,811.48l-0.08,2.84M523.4,774.97l1.81,3.82M356.68,727.05l-0.52,4.54M503.06,801.35l-2.12,3.42M484.43,752.9l-3.82,3.94M353.5,779.66l-1.13,4.21M318.11,707.1l2.27,1.54M347.15,781.47l2.61,0.48M425.5,673.76l-1.98,3.16M422.14,713.17l-3.9,1.36M471.16,765.49l-5.07,1.94M494.76,779.33l1.1,3.42M429.78,846.81l0.41,3.82M478.11,715.59l2.56,0.06M606.11,798.38l0.17,3.72M563.76,752.04l2.53,4.7M488.09,728.93l-4.13,0.58M606.75,763.47l-4.89,2.32M404.32,767.23l-2.28,1.33M405.86,803.69l4.16,0.92M304.5,723.88l-0.27,4.9M564.4,709.11l-4.67,0.48M587.41,797.89l0.33,3.27M425.85,685.6l2.33,1.59M326.77,692.13l0.55,4.21M378.7,777.4l2.59,0.8M472.31,752.99l-1.51,5.12M621.71,721.99l-2.74,4.55M297.57,758.85l-0.8,3.63M462.53,806.53l1.12,3.04M532.94,806.56l2.7,1.09M391.28,731.87l-3.62,0.45M365.16,779.97l-4.44,2.95M531.48,795.68l-0.74,2.97M467.86,770.37l1.4,3.64M577.48,785.96l3.01,0.01M292.25,782.14l2,3.94M536.82,685.94l-3.09,0.74M406.06,822.78l-4.17,3.58M311.94,781.02l4.47,1.01M530.21,831.05l-1.45,3.84M322.34,734.02l-0.37,4.3M334.03,774.39l1.39,4.31M404.8,681.52l1.13,3.87M600.9,782.88l-2.41,3.22M448.99,793.49l3.66,3.1M409.61,742.55l-3.87,1.18M305.77,705.94l-2.62,1.54M537.31,769.93l-3.39,3.33M556.59,806.23l0.57,3.98M306.1,749.95l2.6,2.74M531.28,796.47l1.63,2.26M603.04,737.66l-1.47,3.52M526.69,792.54l2.59,0.97M521.85,770.98l1.7,1.88M339.35,784.23l3.5,1.46M443.72,762.68l1.82,2.88M303.16,740.39l0.99,3.6M337.17,788.4l-0.6,3.06M592.73,718.81l1.31,2.65M447.86,776.87l1.82,2.21M493.41,756.54l3.91,1.42M563.84,755.27l2.75,3.23M548.07,768.72l-3.54,0.95M428.71,775.89l-1.74,3.38M443.74,695.92l-3.37,1.36M376.33,761.81l2.02,1.65M405.56,723.03l-2.09,2.6M405.24,673.55l2.75,2.17M591.43,760.68l-1.18,2.42M430.53,761.92l-3.39,2.65M549.54,794.97l2.79,0.59M378.7,738.83l-0.59,5.37M590.64,787.44l-2.08,3.02M464.45,674.92l1.09,2.68M366.14,801.05l-2.59,0.87M568.12,706.89l4.08,2.77M531.42,691.07l-3.33,0.8M393.57,758.56l2.33,3.39M478.86,777.03l-2.43,2.68M531.51,804.07l-3.35,1.55M329.47,755.19l0.63,4.54M596.69,719.86l0.08,4.72M295.38,758.34l-3.07,2.83M566.22,764.12l3.89,3.58M328.9,740.1l-3.36,1.8M356.4,730.58l2.63,4.16M407.3,689.15l-2.04,1.56M521.55,675.1l-3.31,2.67M412.36,801.88l-3.35,0.93M426.01,713.3l-4.19,1.26M449.19,732.13l0.85,4.8M575.78,728.08l-2.15,3.72M339.69,798.38l-3.87,1.47M480.68,794.87l-4.15,1.19M415.85,803.72l0.37,4.38" stroke="#a6a6a6" stroke-width="1.5" fill="none" stroke-linecap="round"/>
<path d="M353.69,680.2l-3.67,1.19M557.45,777.8l-5.38,1.15M377.77,801.97l4.79,1.28M289.07,773.94l-3.05,3.83M298.76,779.01l-2.27,1.23M503.35,706.7l-1.06,4.73M426.12,727.23l3.12,0.36M616.26,800.36l2.08,4.5M358.44,723.48l2.29,4.92M576.21,793.56l4.12,1.57M515.86,690.47l-0.18,2.8M415.85,786.31l3.97,0.26M352.55,725.59l2.22,2.93M434.44,755.31l2.88,1.38M430.16,722.17l-0.99,4.43M547.7,681.89l-5.02,0.78M458.24,803.74l-2.56,4.79M293.18,801.55l-5.32,0.22M503.23,786.42l3.21,3.01M539.48,802.92l-1.52,3.67M555.48,796.61l-0.32,4.23M319.82,778.27l2.94,1.11M325.62,824.15l-5.41,0.68M367.97,761.19l-2.95,0.58M460.05,683.56l-2.96,4.56M519.23,801.23l-2.97,1.57M476.15,767.09l1.31,2.27M345.65,723.71l-3.12,3.75M403.71,756.02l1.8,4.47M329.42,773.09l4.07,3.24M337.58,775.88l3.75,2.39M481.92,802.77l2.5,2.32M541.64,788.77l-0.09,3.86M593.55,759.51l-0.64,3.36M605.39,728.15l2.64,0.88M400.92,793.24l1.01,3.46M593.94,747.42l3.46,2.03M614.77,741.39l2.44,4.68M546.24,773.47l-2.81,1.25M478,771.54l-0.51,4.67M504.8,761.83l3.58,0.27M622.55,706.09l0.75,5.3M591.41,681.26l-3.83,1.65M564.03,723.97l3.01,1.05M326.48,680.87l2.52,4.08M471.47,748.81l4.35,0.75M508.94,703.13l1.72,2.05M446.89,726.16l-3.12,2.46M304.67,791.02l1.25,3.68M386.14,813.3l-0.9,2.68M390.78,766.22l-5.15,0.05M364.71,807.89l1.12,2.82M487.23,775.74l2.24,4.74M588.12,752.36l-2.4,0.75M439.55,717.23l4.24,0.27M395.12,715.14l4.01,0.82M606.14,732.09l-1.9,3.34M532.75,781.73l1.32,2.67M622.72,746.3l-3.81,1.3M458.33,815.2l3.08,1.27M389.19,830.69l2.53,1.41M507.25,831.45l1.3,4.92M444.92,716.9l2.7,1.7M499.77,748.45l-3.44,0.8M424.07,746.78l1.06,4.36M449.54,781.06l-4.17,3.44M465.66,782.05l0.76,4.27M435.01,745.05l4.18,0.67M319.45,772.37l4.61,1.87M438.57,799.93l5.26,1.34M493.16,801.51l2.36,4.32M353.98,750.27l-0.07,4.41M491.8,769.46l3.6,1.37M329.75,806.32l-2.26,1.16M541.04,700.9l-2.78,1.33M456.18,731.89l-3.69,1.79M492.18,826.97l2.26,3.67M440.08,789.3l-1.75,2.49M356.54,759.02l0.51,3.79M393.87,710.43l-1.07,3.1M599.01,767.72l-2.55,0.43M480.85,682.25l5.07,2.09M606.3,764.52l-1.8,2.28M420.75,708.65l-1.27,2.28M547.66,767.26l3.29,2.05M300.78,747.56l-3.2,1.16M376.59,835.92l-2.41,4.08M555.16,726.8l-5.16,0.96M414.41,718.63l-0.86,3.28M422.82,825.86l-1.72,4.98M374.36,676.34l-3.02,1.96M572.91,818.59l3.56,2.81M522.25,761.73l-3.06,3.08M392.63,775.13l-2.62,1.91M371.72,808.76l2.41,1.25M528.96,683.14l3.98,3.64M549.29,785.96l-2.28,4.82M591.65,803.42l0.96,4.01M569.44,786.18l-3.75,0.13M427.8,777.52l4.68,1.4M363.96,775.07l-1.59,2.92M552.71,691.03l-3.27,0.83M620.21,770.88l-2.55,3.27M468.4,683.97l0.27,2.84M462.45,831.49l-1.59,3.62M372.13,680.19l-4.24,0.32M456.21,683.55l-2.83,2.5M392.42,826.34l4.18,2.57M303.1,686.59l1.07,4.26M476.73,690.01l0.19,2.88M605.36,766.41l3.44,0.99M559.6,779.73l3.62,1.79M471.03,751.02l5.05,1.91M402.25,755.98l4.22,0.44M313.66,748.05l5.16,1.79M409.12,802.86l4.74,0.5M361.42,796.28l2.66,2.95M288.74,778.03l-5.16,0.79M545.64,791.73l-3.62,1.03M443.54,772.43l3.6,2.96M574.66,693.46l-4.31,1.31M621.48,735.54l-1.03,2.34M547.55,692.55l1.43,2.27M531.73,785.93l-3.48,2.13M441.9,696.65l-2.8,2.97M586.19,750.57l0.74,3.22M471.45,804.51l3.76,2.58M312.49,723.51l2.18,4.59M451.9,778.75l-1.78,2.09M332.66,791.85l-1.49,2.27M589.79,809.08l2.91,0.94M610.84,781.16l-1.86,3.15M531.26,727.09l0.59,5.29M500.75,809.74l-2.55,4.07M417.66,779l-1.69,3.04M429.05,673.01l-2.44,2.75M285.97,797.29l0.8,4.26M318.58,683.47l3.14,4.14M487.76,700.45l5.03,0.61M428.27,711.42l0.55,3.59M421.88,817.14l-3.25,3.2M630.63,741.03l5.3,0.19M355.55,822.66l5.05,1.57M606.46,778.19l-2.1,3.48M529.15,770.41l-1.6,2.77M415.71,797.04l2.47,1.7M440.5,744.73l-5.23,1.21M515.24,834.55l3.95,1.58M385.83,687.54l-3.61,2.97M595.39,693.92l2.29,2.3M402.52,748.84l-3.95,3.68M594.47,799.03l-1.19,3.3M499.16,771.03l4.99,0.3M352.85,817.12l0.16,4.85M470.05,772.56l0.92,2.88M413.82,783.66l3.11,0.91M456.52,788.49l-5.02,1.5M507.58,806.58l4.56,0.52M503.49,751.65l3.77,3.17M336.69,767.92l4.21,2.1M405.29,843.35l-0.29,3.5M498.45,781.29l-0.15,3.51M327.35,767.09l-0.1,4.51M496.07,773.01l-1.31,3.23M410.57,752.4l2.65,0.96M391.85,758.78l-3.59,0.48M521.29,815l4.48,2.24M330.67,788.92l-2.03,2.32M402.87,758.27l4.47,0.04M516.15,785.32l2.83,3.03M615.95,779.98l3.5,2.21M441.09,747.73l2.56,0.21M549.03,828.04l3.67,2.41M355.87,721.39l2.1,3.03M508.29,804.35l-1.52,2.77M470.65,801.85l2.11,4.72M457.28,810.28l-4.57,0.16M571.95,789.46l-4.99,0.44M587.45,821.74l-0.03,5.03M471.3,754.03l-0.18,3.46M406.9,846.24l3.13,0.95M389.7,785.37l2.09,2.92M459.28,823.27l-0.37,3.45M331.21,687.19l-2.5,1.7M486.36,823.92l-3.5,1.57M377.45,749.52l-2.66,1.04M578.22,789.34l5.43,0.61M494.32,730.58l0.83,4.86M553.59,812.61l-2.23,2.73M397.79,842.94l4.44,2.26M459,847.98l-1.52,2.53M458.01,707.81l3.14,1.68M388.61,841.71l-0.08,3.16M526.4,727.98l1.5,4.89M444.12,840.04l-1.92,3.31M434.55,761.68l4.08,0.51M402.11,797.64l1.41,3.79M316.1,696.72l-1.44,3.37M540.83,811.14l-1.97,4.63M596.31,765.22l-4.14,1.22M562.74,770.78l2.35,1.99M428.97,844.7l-1.12,2.49M415.29,812.2l-1.11,3.47M531.34,775.55l2.76,1.87M554.57,797.05l3.5,3.52M569.47,721.52l-1.25,4.2M571.85,751.55l-4.39,1.34M345.97,736.55l5.28,0.9M484.55,772.25l1.97,3.84M405.81,824.4l-1.88,5.16M439.55,725.95l-2.34,2.61M536.41,751.41l-3.05,2.92M353.3,829.1l1.52,2.2M360.94,788.83l-2.31,1.54M318.74,731.11l-0.18,4.69M463.84,773.07l-1.54,2.67M543.21,792.38l-2.49,3.62M326.98,692.02l4.26,2.2M400.36,696.74l3.65,3.38M446.39,795.29l1.46,5.19M626.59,716.23l2.84,3.05M371.77,735.83l-4.23,0.45M337.91,795.98l-3.19,2.51M556.01,797.95l-4.26,0.07M542.99,736.47l0.78,2.7M600.33,722.81l1.63,2.57M284.35,729.09l0.67,2.45M568.26,724.72l5.09,0.36M302.03,707.48l3.12,3.28M304.98,804.91l1.82,4.14M351.7,716.75l2.92,4.21M383.8,807.59l2.84,1.11M332.31,714.55l-4.19,0.63M309.7,793.87l3.18,1.39M569.82,792.31l4.45,0.6M518.23,687.34l4.06,1.67M329.71,820.74l-4.99,1.56M302.35,732.01l-3.03,1.83M437.47,788.96l-3.37,0.85M320.79,704.39l4.51,2.41M381.36,796.02l-2.46,2.58M557.01,796.48l2.94,2.76M602.07,761.81l-4.27,1.56M402.81,712.67l3.62,3.61M457.75,675.78l-3,0.22M443.8,685.05l3.8,1.05M405.52,808.32l3.51,3.31M480.66,698.11l-3.29,1.62M472.08,840.27l4.36,2.29M541.27,709.18l2.44,1.88M424.09,803.98l2,2.23M455.06,763.59l-4.14,0.05M511.4,747.14l3.11,1.2M520.88,729.93l4.93,2.24M428.69,756.53l-0.13,4.58M474.78,673.29l4.44,0.68M496.51,792.1l2.88,0.08M569.46,709.26l-2.27,1.15M442.69,727.72l-3.56,0.98M420.74,805.7l4.54,2.06M434.1,785.59l-1.31,4.84M517.71,766.98l2.01,4.4M630.22,710.35l-2.27,3.39M604.37,770.45l0.48,2.61M607.61,692.52l3.57,3.92M343.07,754.86l3.78,3.48M340.69,677.08l-2.74,4.36M469.05,751.36l-4.85,0.01M465.07,722.9l1.67,2.59M406.37,794.37l2.45,0.73M533.62,770.18l2.08,2.2M614.09,719.76l4.19,2.51M466.77,725.33l-3.99,2.53M341.12,761.5l0.5,3.52M528.29,696l-0.92,3.76M538.31,781.29l2.62,0.07M464.11,732.75l3.74,3.12M572.54,682.55l1.07,2.37M592.11,689.55l-0.05,4.53M394.15,692.12l-2.57,2M430.67,822.5l-4.25,3.16M397.26,738.89l-3.41,2.51M387.33,789.04l-1.99,4.15M555.17,792.86l-2.58,3.86M546.01,810.38l-0.06,4.68M418.05,750.85l1.42,4.5M531.52,674.2l-3.41,1.58M458.77,844.6l3.82,3.79M410.48,797.79l3.31,1.44M520.61,757.09l-2.78,2M596.16,777.07l-4.95,1.56M286.47,777.46l3.78,1.25M344.08,750.09l0.42,4.38M333.32,804.62l-2.53,0.34M559.16,697.15l0.88,4.13M283.55,781.86l-0.9,3.29M328.28,734.27l-3.54,0.53M478.02,806.94l-2.58,1.34M317.95,681.66l1.71,4.46M531.5,709.04l1.6,2.08M517.09,702.27l0.83,2.88M517.53,768.4l2.51,0.1M303.5,786.39l5.3,1.07M515.53,762.01l-2.65,3.28M579.88,713.23l-2.15,1.85M539.97,765.32l-4.38,1.16M518.11,768.82l1.51,3.15M570.23,728.01l-3.29,3.4M384.19,782.82l4.43,0.2M299.9,714.95l0.74,3.7M430.94,699.53l-2.19,5.03M575.72,689.92l-1.66,4.73M288.3,775.47l-0.93,4.23M520.51,758.74l-1.44,4.04M453.23,722.07l2.38,3.65M319.67,821.34l2.31,3.39M505.64,755.56l3.33,1.45M316.74,789.19l3.59,2.23M491.84,731.36l-4.89,0.8M343.4,733.6l3.55,2.43M506.72,749.85l-5.39,0.94M520.73,802.9l3.38,1.03M311.05,785.05l-0.43,5.34M469.9,685.95l3.61,1.57M426.48,827.11l4.32,2.75M528.37,769l5.43,0.37M356.79,792.81l-2.6,1.28M539.92,807.99l2.87,3.26M311.77,820.02l-3.33,4.15M555.01,771.25l1.32,3.76M362.17,801.14l1.25,2.47M312.44,801.27l1.64,3.88M597.69,719.41l0.12,4.84M349.07,675.89l1.6,2.11M549,699.34l3.15,3.79M444.44,699.04l-3.58,0.56M297.63,739.78l2.15,2.68M562.35,786.32l3.26,2.71M392.72,744.12l0.04,3.05M460.36,763.58l4.41,1.18M499.08,736.57l-2.96,2.18M324.83,800.7l-0.39,5.17M445.18,788.65l-3.97,1.4M385.1,712.85l4.05,3.59M362.6,805.95l2.48,2.02M514.25,782.95l1.81,2.16M479.25,837.92l4.99,0.37M351.94,769.48l1.36,3.93M485.84,816.9l-2.64,2.34M352.78,836.46l1.96,4.26M502.67,729.93l3.94,2.44M567.75,791.03l2.28,1.12M558.97,798.09l-2.73,0.55M435.38,762.83l-1.01,2.94M536.71,722.24l3.18,2.31M367.43,708.4l-2.01,4.53M559.3,723.44l-4.95,1.92M349.67,796.51l2.11,2.58M338.39,775.33l-2.9,2.7M552.19,813.78l0.58,3.55M403.78,741.4l3.11,0.06M388.75,802.97l-1.12,2.51M630.07,701.4l-1.62,2.55M551.03,821.21l5.42,0.51M517.26,720.95l2.57,0.73M561.52,758.03l4.72,2.42M447.67,742.73l3.23,4.25M383.2,738.89l-0.65,4.73M386.3,797.51l2.76,1.19M612.96,705.05l-4.13,1.35M468.9,728.17l-3.49,0.78M576.98,701.37l-1.12,2.55M392.5,764.36l1.76,4.25M542.57,770.94l2.74,2.57M314.36,754.63l3.23,2.11M318.72,749.52l-2.36,3.27M540.48,802.87l2.49,1.13M555.31,732.98l0.5,4.22M318.35,780l-1.45,4.91M294.78,775.74l3.66,1.95M414.85,834.06l-4.26,1.57M297.91,756.99l-4.51,2.4M578.84,770.13l-0.81,4.74M361.58,707.9l-4.24,0.36M602.17,743.88l-2.96,0.93M572.94,713.9l-0.07,2.71M611.47,773.42l1.49,3.62M569.49,758.29l-5.34,0.69M469.73,791.29l-3,1.56M609.67,778.48l-2.88,0.04M353.42,824.77l-2.83,1.57M412.51,761.96l0.25,3.02M578.6,770.12l-0.93,3.93M503.89,764.51l0.18,5.28M584.13,794.19l-3.45,0.25M370.3,775.66l0.95,2.46M291.51,787.42l3.53,0.71M522.4,764.91l0.88,4.52M582.84,704.74l-4.45,2.18M516.99,782l4.38,1.37M439.62,787.8l0.83,4.92M376.18,744.59l-3,3.68M569.98,756.8l1.56,2.32M532.99,684.19l-0.71,3.78M586.76,752.43l2.84,1.54M408.5,844.98l3.35,2.23M594.91,710.95l-3.08,2.46M599.34,720.78l-4.82,0.3M333.15,681.81l0.25,5.19M460.32,763.2l1.13,5.12M475.87,760.04l0,2.57M360.91,701.36l-2.87,4.31M558.76,713l1.26,3.42M358.18,809.34l-1.65,2.86M387.95,729.59l0.91,4.33M352.71,755.02l-4.25,0.81M504.1,755.61l1.22,3.16M300.41,769.62l4.88,1.13M510.94,748.17l-0.79,4.16M359.98,790.2l-4.65,1.92M616.6,700.94l-3.08,1.33M365.66,764.46l4.42,0.11M501.25,763.63l3.46,1.38M600.13,801.4l-3.6,2.86M311.57,795.13l-1.51,3.9M298.8,749.13l1.62,4.51M372.55,807.97l3.95,1.73M549.5,787.02l2.7,1.93M330.48,792.53l-1.93,3.21M552.57,705.66l-4.31,0.14M331.85,759.88l2.14,2.01M605.03,792.06l-3.9,1.34M331.81,785.68l1.44,4.97M535.58,831.87l-5.02,1.48M600.95,808.75l3.41,1.94M427.7,777.68l-1.68,1.97M326.01,752.19l2.66,0.4M540.1,813.57l0.04,3.17M531.09,783.3l1.03,4.35M463.19,736.39l-0.64,5.18M491.03,835.02l3.53,0.18M458.64,730.79l-3.1,0.44M348.81,812.26l-2.49,4.85M545.31,769.34l2.37,3.76M333.19,812.99l1.16,4.49M556.18,683.85l3.61,1.78M385.73,691.53l2.33,3.94M290.7,769.4l3.87,1.75M311.72,781.55l-0.01,2.83M366.45,747.35l4.47,2.87M519.94,753.74l-3.62,2.19M498.74,808.57l-0.45,2.72M558.22,762.08l-0.5,3.69M574.78,698.35l5.2,1.22M528.98,797.29l-2.55,0.83M291.63,778.37l2.89,1.78M547.91,691.1l-5.45,0.12M362.79,772.93l-2.59,2.82M441.94,752.04l0.4,2.91M336.99,808.35l1.03,3.35M396.15,817.53l3.88,1M414.7,749.28l-2.32,3.11M295.4,802.11l-3.73,1.83M486.02,733.4l-4.28,2.32M468.26,745.79l-3.89,3.82M484.14,796.21l-3.72,0.92M607.21,724.23l-1.36,2.94M308.85,688.41l-1.87,3.3M373.39,775.49l3.71,0.16M333.83,721.87l-4.63,2.31M398.3,686.87l1.38,5.31M621.22,793.67l2.33,2.15M593.84,779.32l-3.15,0.25M394.66,716.07l-5.11,1.35M584,715.8l-2.14,4.18M588.68,760.82l-2.98,0.1M580.93,773.28l1.24,5.07M562.89,765.36l1.93,2.28M451.53,706.49l-0.9,2.46M613.74,688.93l-2.16,1.32M543.99,677.53l4.01,0.65M445.01,727.23l-3.82,0.34M468.25,826.52l0.48,3.38M621.51,765.21l5.17,1.53M315.95,778.78l-4.45,1.16M531.79,807.82l2.31,4.04M393.64,821.79l2.53,2.9M353.71,762.61l4.33,1.54M313.67,704.55l4.85,1.75M455.42,814.51l0.42,3.95M535.78,690.01l4.92,0.04M423.04,838.94l0.65,3.03M592.19,718.98l3.85,3.84M544.97,738.13l-4.31,2.7M429.21,789.19l3.82,1.75M624.93,763.7l4.07,1.54M441.36,683.14l-3.48,0.41M549.18,768.39l-1.97,1.7M601.67,770.15l-0.13,5.28M328.48,689.69l4.38,1.73M570.86,721.77l1.35,2.15M450.93,810.95l2.21,2.85M394.31,786.78l-4.64,2.82M508.2,790.61l-0.09,5.13M600.32,725.33l-3.21,2.68M430.3,773.22l-3.28,0.19M495.55,784.43l-2.51,4.22M334.61,785.95l-3.94,2.1M540.62,791.9l-3.66,3.27M519.66,688.9l-3.49,2.76M377.22,765.02l3.8,0.19M332.32,774.75l4.33,2.82M577.14,766.28l-4.4,3.01M629.36,700.96l-0.24,5.29M513.4,673.36l-1.67,4.52M393.87,732.85l-2.76,2.86M331.86,811.46l-1.63,2.3M574.68,771.82l0.9,3.85M553.24,694.89l-4.39,1.89M627.63,745.77l1.44,4.97M513.92,770.39l2.58,2.22M522.81,769.02l3.14,2.06M433.56,770.7l-0.43,3.81M535.1,678.62l2.99,0.47M471.11,747.22l2.87,0.62M472.38,788.15l1.79,1.95M405.93,704.92l5,2.15M561.8,789.81l-4.05,1.79M356.14,763.39l1.96,3.57M611.17,776.68l-3.07,4.04M442,732.37l-0.2,3.09M399,791.92l-2.36,3.22M524.37,784.88l-2.87,1.82M491.1,800.28l3.58,0.5M494.58,770.28l1.95,2.36M499.73,801.69l2.46,3.14M362.94,711.32l0.92,2.72M594.63,754.91l0.73,4.88M366.83,712.64l-4.14,1.07M609.94,700.1l-2.82,1.05M458.47,698.93l3.65,3.95M547.22,752.01l-2.53,0.97M529.95,765.78l-2.92,1.56M456.96,785.06l-4.47,1.68M474.5,725.42l-0.17,4.35M303.08,768.21l-4.03,0.49M461.25,715.39l2.68,4.74M627.12,727.9l0.13,3.94M459.89,782.96l3.44,2.65M357.85,722.27l3.76,2.14M469.85,827.25l-3.86,2.92M439.15,680.91l-2.32,2.46M337.65,784.6l-0.81,3.06M404.77,770.13l5.14,1.09M302.21,772.39l2.88,1.95M587.72,788.69l3.82,0.47M547.28,761.39l4.56,1.91M556.74,817.32l2.3,4.05M503.99,699.36l-2.66,0.87M540.41,782.71l-3.92,0.46M563.25,769.26l-5.29,0.05M387.5,831.55l-1.12,4.28M343.84,708.5l-2.34,1.96M470.75,744.77l-0.62,3.53M566.88,731.05l2.54,3.41M359.35,801.79l-2.92,2.74M368.52,814.87l-2.83,0.85M618.88,800.85l3.84,1.32M342.94,743.91l2.12,2.16M461.41,788.34l-3.05,4.12M293.53,731.6l1.89,1.72M515,772.81l-0.81,4.12M445.46,843.79l0.58,4.27M477.61,794.47l0.78,5.07M361.34,794.83l-1.53,2.65M564.27,731.95l-2.22,1.88M359.76,778.44l-2.55,2.72M334.32,772.96l1.11,5.28M368.71,818.7l-1.59,2.14M610.04,733.52l0.53,2.89M498.7,722.93l3.7,0.71M570.06,802.5l2.65,0.65M441.99,749.42l-1.95,2.11M317.39,712.5l-2.12,2.87M501.53,725.2l3.62,3.64M326.66,748.23l-1.58,4.85M489.5,803.39l-3.29,1.03M395.75,827.66l4.31,0.02M491.6,756.31l5.08,1.29M292.68,699.27l0.12,3.09M309.92,786.13l-0.92,2.92M434.01,767.56l-1.67,2.13M477.81,771.5l-4.86,0.11M456.87,749.72l2.42,0.94M383.1,756.77l4.61,1.68M375.39,717.01l-3.88,1.17M515.52,695.53l0.1,3.72M319.73,747.8l-5.15,0.7M575.97,676.71l4.94,0.44M617.6,757.26l-2.95,2.65M402.63,782.92l2.41,4.79M334.27,785.28l-0.83,4.49M296.78,782.97l-1.95,3.77M368.23,747.42l1.15,2.68M315.38,779.78l-0.93,5.15M619.33,715.93l-3.22,3.66M419.1,783.47l-3.45,2.04M391.13,782.15l-0.81,4.83M495.39,777.4l-3.07,1.66M301.74,765.11l2.61,4.51M528.13,774.39l-3.85,2.97M366.64,797.05l3.2,2.29M590.45,763.11l-4.3,0.76M283.39,777.3l-3.39,3.88M584.4,749.54l-0.03,3.14M326,761.92l-3.79,0.29M563.72,778.14l-1.64,4.93M477.7,775.08l2.26,4.41M573.28,748.63l3.84,2.5M370.38,793.01l1.44,4.44M594.71,776.38l-4.32,0.45M555.77,752.39l2.47,2.14M518.79,819.48l1.99,2.21M357.82,818.58l3.01,4.21M349.7,769.64l2.52,4.16M370.64,747.63l3.1,1.57M333.28,807.5l-4.23,0.4M529.82,723.69l4.24,2.13M529.73,691.81l0.06,2.94M481.05,773.06l2.74,2.28M521.07,774.29l3.18,3.59M329.03,736.29l-1.98,4.93M460.4,769.85l-3.67,0.79M510.69,816.82l4.38,1.79M472.6,825.69l-1.94,4.19M560.6,776.62l-2.9,2.16M616.22,766.04l-4.72,2.75M574.08,766.1l-3.54,1.24M369.64,741.57l3.04,1.78M306.75,757.84l4.44,1.16M433.45,766.69l4.54,1.32M487.45,759.8l-2.76,1.54M479.01,721.37l-5.18,0.32M329.56,750.38l3.17,0.76M381.54,779.84l-0.99,3.47M289.07,739.64l5.02,1.63M497.63,787.62l-2.9,3.01M523.95,723.43l0.57,3.19M353.61,753.35l2.35,4.59M357.85,681.92l-1.01,3M422.07,780.26l-3.28,2.15M549.45,711.58l-0.3,2.84M520.53,672.43l1.39,4.4M383.79,700.24l4.26,0.86M348.22,826.55l-1.78,2.4M619.73,755.01l-3.21,0.87M394.18,748.97l4.03,2.94M371.07,763.65l-2.31,1.94M581.79,759.89l4.77,2.66M563.87,765.78l-4.45,1.3M365.04,682.95l4.27,1.56M377.9,733.33l2.42,1.59M328.42,693.07l5.43,0.05M346.87,758.52l-2.18,1.49M621.97,727.77l3.3,2.39M460.84,795.99l1.37,2.48M448.26,756.82l-3.18,1.56M627.35,733.66l0.08,4.15M545.28,706.64l-3.21,0.53M606.09,781.31l4.25,1.17M530.25,783.16l3.56,1.65M290.59,797.08l0.47,3.41M463.78,732.48l3.3,3.09M296.65,702.11l2.56,3.29M397.06,722.37l-4.29,1.65M462.38,806.14l0.43,5.12M395.11,808.55l1.28,2.27M553.09,794.59l0.74,4.41M599.99,759.89l-5.22,0.35M429.99,708.32l-4.1,2.24M323.33,797.42l-2.67,4.62M523.83,761.73l4.52,0.34M370.79,770l2.09,3.35M536.17,746.08l-1.87,4.55M435.78,767.52l0.34,4.68M391.06,792.66l-2.22,4.88M523.36,779.07l-1.08,2.83M633.65,721.25l-3.54,3.91M530.94,769.51l-4,2.16M557.49,771.91l1.62,2.2M531.78,748.16l0.35,3.28M473.95,806.24l2.87,2.5M352.36,734.17l-4.25,2.98M532.86,675.13l4.24,1.8M574.55,799.59l2.45,3.13M612.46,765.35l-2.67,2.21M289.92,758.17l0.23,4.45M346.42,767.52l-3.99,1.8M451.08,818.01l0.46,3.96M494.98,806.62l2.76,1.69M588.8,768.26l-4.87,1.91M549.67,774.24l-1.93,2.4M479.57,787.24l-3.67,0.96M545.9,767.77l2.45,4.1M608.43,768.71l4.23,1.94M443.05,742.69l2.98,4.09M369.09,819.71l-1.85,1.78M625.59,700.79l-2.49,2.66M523.74,672.77l-2.14,2.93M423.36,821.7l1.26,2.73M597.23,757.45l2.6,0.18M329.56,765.35l-3.25,2.77M596.08,798.26l-0.06,3.24M592.08,785.62l1.05,5.16M516.98,742.27l2.71,0.65M368.68,781.72l-3.28,3.53M352.7,772.13l3.05,4.55M517.01,776.77l-5.26,1.52M566.87,792.27l-2.03,3.31M385.05,802.84l3.67,2.82M328.44,743.61l2.67,2.15M510.23,777.09l2.9,1.73M373.81,716.63l-2.1,5.05M361.95,766.66l1.5,2.87M629.46,723.35l4.52,2.69M538.87,805.81l-2.43,1.98M361.69,803.22l3,3.93M401.71,736.64l-0.99,3.2M355.48,711.67l-2.8,0.87M490.73,688.58l1.65,3.26M356.8,709.15l-0.8,3.4M361.28,788.46l4.53,2.4M427.53,805.2l-2.29,4.42M498.08,817.93l2.35,2.16M327.87,710.47l-1.63,2.7M415.63,784.04l5.35,0.67M549.56,763.07l-3.89,1.67M446.48,775.59l-2.53,0.2M494.61,749.68l3.23,1.73M432.45,681.13l-4.04,1.3M505.86,783.9l-3.21,0.96M518.2,721.82l-0.22,3.48M552.91,746.81l-2.87,0.98M530.09,739.46l1.5,4.92M349.46,794.3l2.08,1.44M472.91,801.39l-2.96,0.54M508.72,828.18l-0.9,3M323.85,746.81l5,1.79M295.87,772.25l-1.78,4.23M574.98,779.03l-2.84,4.03M506.19,718.27l-1.64,3.65M503.26,703.59l-0.86,3.58M346.41,711l1.19,3.41M310.76,752.19l-3.53,2.77M531.9,693.55l-1.52,4.49M351.53,774.05l1.98,3.13M381.47,735.8l-2.9,3.46M442.47,810.38l-3.55,0.22M294.21,751.09l3.98,2.51M324.39,809.51l-3.07,3.5M435.92,672.14l-2.67,1.67M567.24,774.27l-3.79,3.66M466.61,672.18l4.29,2.83M463,815.76l2.26,2.13M430.5,819.52l-2.94,0.75M550.04,736.66l4.88,0.06M573.27,778.6l3.2,3.46M545.96,794.56l0.37,2.49M436.05,749.51l0.03,4.02M341,768.81l3.29,1.57M520.16,673.88l-2.9,0.2M476.66,790.05l-1.88,3.23M397.77,731.46l-3.01,4.4M610.21,711.57l0.94,3.22M611.95,794.38l0.27,4.87M503.3,772.66l4.69,0.14M320.77,825.69l0.78,3.44M551.61,753.41l-1.86,2.26M480.75,803.08l-2.67,1.8M376.37,778.12l-0.51,2.67M586.43,730.7l2.68,2.03M447.25,753.87l1.88,4.62M556.67,691.84l1.2,4.69M304.87,690.95l1.63,3.3M572.09,791.15l-3.75,2.42M581.45,716.56l-0.92,2.62M576.48,712.22l-4.86,1.78M427.14,710.63l-3.48,0.91M383.03,776.44l0.36,3.85M430.92,753.33l2.87,2.01M339.29,788.55l-3.94,0.03M373.01,794.05l1.55,3.69M494.32,730.11l-3.99,0.96M395.55,720.62l-0.41,3.4M441.86,781.72l5.12,0.3M438.68,709.75l-4.42,0.16M365.69,755.7l2.64,4.36M304.62,789.93l-0.49,2.48M355.95,690.54l2.99,0.91M593.06,743.18l-2.48,3.72M547,719.29l3.58,2.63M470.8,767.73l1.37,3.36M515.87,781.06l4.23,1.88M395.44,793.51l0.25,2.51M568.96,705.53l1.34,5.32M501.24,755.17l-2.43,3.56M566.31,699.82l0.44,4.66M587.2,815.29l1.27,2.18M387.22,748.32l-3,3.56M437.51,808.37l-3.22,1.93M480.16,779.44l2.85,2.43M382.77,791.2l3.28,0.76M501.29,771.63l2.54,2.37M364.48,769.63l3.76,1.16M599.78,739.28l1.1,3.64M434.68,806.1l-1.07,3.43M583.09,755.04l-3.7,1.03M593.42,728.45l-2.78,4.65M537.25,683.86l-4.93,1.21M626.54,735.2l0.14,3.65M343.5,779.01l1.71,2.41M587.64,753.63l-4.11,2.04M358.66,798.28l4.97,2.23M502.41,836.4l-3.29,0.5M615.71,801.12l-0.25,3.41M482.66,683.91l-4.46,0.89M440.71,677.04l-2.13,3.55M429.2,781.48l-5.06,0.7M354.79,752.81l1.29,2.61M455.86,699.24l-4.48,1.96M515.21,797.89l-4.07,1.68M623.21,703.89l-1.67,4.55M430.62,715.5l2.94,1.14M472.71,760.97l0.38,4.17M429.03,796.69l-1.75,2.54M515.9,779.27l3.22,1.87M318.81,739.87l-4.58,1.16M531.13,750.79l2.87,1.31M354.56,809.38l-0.61,2.79M361.64,837.39l-0.06,2.86M450.6,790.52l3.39,0.83M378.96,823.26l4.14,3.44M294.99,804.67l-1.18,4.07M601.52,802.58l-3.39,4.24M352.45,771.59l-2.82,0.02M564.99,752.3l3.11,3.95M501.14,749.3l-2.38,0.9M438.13,812.8l1.72,3.42M558.67,715.64l4.84,0.76M377.12,777.56l-4.64,1.11M467.1,684.15l-3.32,3.19M296.47,766.29l-1.67,3.37M368.47,763.98l4,0.63M342.26,810.53l5.14,0.41M421.03,777.16l2.55,3.76M605.71,747.43l3.6,0.09M456.65,773.32l-1.95,1.73M609.48,777.69l2.56,1.53M343.46,718.29l2.75,2.17M321.28,732.52l0.85,4.23M429.6,818.35l0.46,5.29M592.3,770.33l-4.18,0.64M578.96,753.47l2.1,1.95M499.21,786.64l-1.5,2.23M380.59,727.58l0.38,4.55M317.46,810.32l-1.15,3.88M617.26,727.34l1.56,4.09M400.28,764.09l0.15,4.13M508.63,705.57l-2.97,3.21M373.82,836.6l3.75,3.03M432.44,769.39l4.4,1.41M588.99,794.41l4.02,3.74M418.71,826.25l4.47,1.35M512.86,750.57l-0.73,5.38M500.34,748.78l3.11,0.93M532.55,769.72l0.45,5.46M504.78,756.22l-1.75,3.75M419.1,786.07l1.35,4M511.1,780.66l-3.58,1.84M624.03,781.29l-3.78,0.7M602.95,779.92l2.04,2.08M481.57,746.12l-4.13,2.69M505.7,810.78l-0.31,2.68M370.55,699.54l2.68,1.28M365.34,769.4l-1.51,3.8M352.41,734.02l-1.53,4.02M485.78,812.7l-1.56,2.59M590.83,703.53l3.9,3.17M427.9,717.33l-0.51,2.6M564.91,717.57l-0.32,3.49M523.89,824.53l2.96,2.15M443.16,761.96l2.75,2.59M347.04,776.4l2.99,2.4M313.49,745.42l1.29,3.91M361.13,755.79l-3.47,1.72M453.24,735.65l-1.1,2.26M345.11,736.43l-0.65,4.7M286.41,785.16l3.13,1.85M308.35,759.08l0.67,3.28M414.33,764.1l-2.87,3.45M362.63,705.72l1.89,3.6M517.37,714.2l2.19,2.16M520.97,755.4l2.67,2.06M604.88,776.1l-1.94,2.88M289.15,786.28l-3.94,3.78M444.24,808.7l2.19,2.51M535.32,751.63l3.37,0.84M560.08,768.82l0.05,3.42M492.78,812.05l-1.72,3.34M372.48,791.39l-3.79,3.59M574.3,753.17l-0.16,3.58M426.11,700.56l2.1,1.38M568.55,790.96l-4.74,2.76M377.62,759.62l-2.44,4.45M466.98,731.18l-5.3,1.17M430.76,778.18l-0.88,2.95M382,753.55l2.26,3.11M345.22,737.5l3.21,0.13M486.85,750.64l-1.24,3.37M357.05,771.32l3.01,0.16M433.32,733l0.94,4.12M626.03,697.66l1.84,2.56M412.66,830.86l4.45,1.86M520.25,707.32l1.28,3.36M470.48,752.48l0.33,2.58M369.69,715.86l2.13,3.24M586.1,772.5l2.13,4.38M562.42,774.29l2.95,2.1M308.27,754.77l-1.89,3.03M619.06,747.97l1.93,3.73M309.89,706.49l2.68,3M424.05,783.99l2.85,1.67M596.57,693.82l-2.66,1.13M573.91,757.88l-1.23,2.42M403.01,784.77l-2.12,4.55M522.75,809.24l-3.27,1.18M559.87,756l-2.89,2.13M565.42,795.9l-2.63,2.33M342.2,820.7l-3.07,2.82M507.25,727.63l0.85,2.38M388,774.65l-1.89,4.14M287.28,767.39l-2.54,0.15M438.44,762.41l-5.07,0.73M323.08,679.32l5.05,1.66M420.68,757.09l5.05,0.07M444.79,772.85l2.82,4.2M289.7,714.25l3.49,0.35M492.18,792.71l-4.78,2.19M349.66,733.85l4.54,1.38M538.5,743.34l4.4,1.11M560.7,715.84l4.45,0.08M411.26,776.52l-0.14,2.99M538.3,790.5l1.35,2.44M463.51,829.63l5.08,0.3M319.29,803.21l-0.57,4.74M288.58,754.92l-5.08,1.38M485.23,693.58l-3.88,0.13M535.35,790.01l-1.5,4.21M575.08,790.09l-3.61,1.09M627.48,771.67l0.03,3.88M502,684.13l1.2,5.03M586.95,689.76l-1.07,5.24M318.11,693.72l-4.2,1.59M568.36,778.38l4.86,2.57M515.19,795.79l0.12,5.06M319.28,798.03l-1.66,4.38M535.2,685.45l-0.89,2.63M508.08,834.28l-1.48,4.13M317.97,701.35l0.18,3.61M443.16,681.23l0.27,3.98M319.47,726.16l-5.17,1.43M493.17,779.13l-2.67,0.11M548.17,673.17l3.72,1.86M432.08,820.98l-2.82,2.46M299.71,754.13l-1.66,2.48M482.89,710.68l1.62,3.19M435.39,778.62l-3.61,1.78M491.12,798l5.11,0.34M296.66,775.97l4.04,2.15M353.94,700.45l1.43,3.08M390.03,792.88l0.25,4.12M631.24,712.21l3.33,3.02M547.56,712.73l-2.86,0.59M574.46,771.52l1.5,3.03M368.52,806.71l-1.72,3.48M551.09,791.98l3.11,2.8M423.26,738.04l0.05,2.74M504.04,776.18l-0.34,3.53M346.71,755.78l-3.21,3.29M422.77,795.49l1.62,4.63M345.25,727.42l0.63,3.53M346.72,776.61l-0.6,3.35M339.77,806.66l-4.35,0.39M320,767.67l1.24,2.54M436.28,705.92l3.25,1.25M366.34,735.03l2.81,0.48M437.78,825.89l-0.95,3.31M418.68,763.81l-4.12,2.15M367.28,801.71l2.83,1.33M443.65,780.19l0.34,3.58M348.48,774.76l-1.22,3.84M477.26,757.51l0.2,3.08M307.68,783.35l1.07,2.44M453.35,830.55l1.61,1.94M418.26,701.77l-3.65,1.25M352.65,833.24l3.47,0.59M320.34,704.2l3.55,0.16M296.1,708.92l2.27,1.15M606.17,752.04l-4.4,0.61M510.75,739.47l1.75,2.55M440.22,803.99l-3.05,2.88M372.27,756.25l-0.92,2.56" stroke="#ffffff" stroke-width="1.5" fill="none" stroke-linecap="round"/>
<path d="M343.23,757.77l3.91,2.99M457.14,679.07l-2.29,1.22M628.85,719.18l5.29,0.93M569.11,809.38l3.23,2.07M474.46,691.39l-3.94,1.77M341.24,676.55l-3.2,2.44M361.17,740.62l4.24,2.61M480.17,842.23l-4.72,2.48M595.06,744.08l1.04,4.11M553.82,712.3l-1.85,2.42M433.77,706.46l-2.19,2.86M320.98,747.8l0.32,4.38M576.98,696.76l-0.08,3.73M524.58,679.36l-3.44,4.24M355.58,808.61l4.39,1.19M617.06,713.12l-0.38,3.61M599.09,731.01l-2.27,4.42M465.02,703.41l-2.56,1.22M616.61,720.31l2.64,3.52M397.67,776.13l-2.72,1.13M609.72,680.03l2.07,4.02M413.36,795.48l-1.26,3.79M432.59,756.95l4.89,1.59M424.43,757.32l-4.33,1.08M486.04,777.01l-1.32,4.9M432.58,720.88l-3.7,2.39M485.79,763.72l-2.88,1.82M347.44,777.03l3.56,3.07M394.88,836.18l-3.84,0.21M391.15,684.19l0.83,4.46M305.75,688.49l-0.38,4.18M492.5,693.46l1.72,2.17M478.25,709.45l-0.76,4.99M507.24,678.89l-1.02,3.71M457.83,685.03l-4.08,2.2M460.76,722.57l-3.53,1.37M312.87,763.42l3.07,1.34M578.83,748.8l-3.13,2.11M461.21,838.14l0.95,3.39M507.82,839.81l2.25,3.2M555.22,723.77l1.44,2.25M455.7,693.66l-2.26,3.14M614.51,700.24l0.05,4.41M544.04,725.76l1.38,3.54M309.53,723.64l5.09,0.43M552.78,808.05l-1.74,3.55M296.43,688.1l2.78,4.04M530.36,743.63l-2.99,2.4M410.12,818.61l3.64,1.71M304.1,816.56l-2.67,0.26M331.08,739.43l-4.05,0.35M527.08,688.19l1.14,2.58M531.93,697.88l-4.41,2.91M470.42,799.25l-2.75,3.51M491.68,785.05l3.92,2.35M473.14,719.28l1.57,3.54M492.87,672.53l5.27,1.54M414.21,839.74l3.39,1.38M360.24,799.21l2.39,4.82M490.88,833.23l-3.15,4.49M615.19,727.4l2.62,1.26M568.76,702.39l0.12,4.3M469.02,840.25l-3.5,0.78M584.17,720.48l0.08,4.6M535.55,674.51l-2.33,1.92M445.64,734.5l-2.91,1.45M383.09,814.15l2.49,1.74M353.86,736.89l1.38,4.74M512.26,671.53l0.21,2.6M286.4,693.98l1.32,3.12M311.7,741.09l-3.38,1.98M610.53,728.82l-0.89,3.47M341.51,676.74l-2,3.97M475.96,689.19l2.04,1.63M629.07,730.6l2.39,4.22M369.14,737.15l-0.85,3.33M440.51,818.7l3.25,2.11M373.19,760.58l5.26,0.27M338.04,743.05l0.25,2.73M287.67,742.61l3.89,0.12M400.99,718.82l2.31,3.48M326.52,695.32l-4.93,1.89M554.34,712.2l0.53,4.15M396.65,684.34l-1.69,4.75M396.21,736.91l-3.4,3.56M301.01,700.24l-3.1,2.89M508,715.46l0.22,2.97M362.44,740.65l-2.46,4.53M535.44,692.97l-0.27,2.5M542.55,754.02l-0.84,3.19M462,707.13l-0.47,3.6M525.69,832.63l3.13,4.02M530.57,747.12l-1.83,4.82M475.34,742.96l-5.1,1.39M411.29,675.52l1.86,3.49M529.97,702.05l2.36,4.49M463.95,672.27l-3.68,1.33M590.76,678.6l2.66,1.61M344.48,704.13l3.74,0.7M609.98,784.56l-2.8,3.28M547.81,730.77l-1.55,4.13M294.25,702.37l-3.88,2.19M425.67,764.37l3.01,4.44M486.55,703.81l-1.53,4.43M382.4,691.71l1.94,3.55M344.96,747.19l3.03,1.87M371.13,696.2l1.78,2.62M295.74,726.46l-3.38,0.34M469.41,745.29l-5.15,1.16M306.93,691.28l0.16,4.21M358.64,751.97l-4.97,0.75M420.28,692.51l-3.37,2.03M457.85,831.83l0.56,3.77M314.74,680.14l3.5,0.31M379.17,835.29l1.9,4.41M583.54,703.23l-3.7,2.87M420.91,742.16l0.54,3.98M312.56,712.49l-2.26,2.72M571.25,674.62l3.68,3.19M544.49,753.63l2.23,2.1M497.68,736.13l1.47,3.85M510.26,768.64l2.37,2.06M503.77,676.28l3.87,1.49M602.54,722.26l0.41,4.64M302.27,798.28l-3.1,3.5M416.99,842.03l1.07,5.14M485.63,720.42l3.5,3.94M467.17,715.82l-3.34,0.04M298.06,749.08l-1.05,4.99M289.62,741.21l-1.42,2.81M549.86,690.89l0.3,2.71M293.33,733.74l1.61,3.27M348.73,689.11l2.6,0.19M581.48,674.42l-0.31,3.32M459.96,811.66l4.54,1.7M618.6,752.8l-3.05,2.52M442.59,677.49l-1.97,2.26M554.95,705.44l3.68,0.57M385.39,688.45l-4.46,0.47M558.01,702.65l-1.88,2.34M433.72,737.21l4.79,0.5M308.4,705.2l2.77,0.23M556.53,677.07l-2.02,2.93M456.62,822.68l3.62,1.15M378.21,745.17l3.65,2.11M490.4,712.38l-2.57,0.01M387.66,836.74l-1.33,3.22M448.94,808.47l-0.92,3.3M586.88,720.43l0.07,4.2M433.03,722.52l1.36,4.55M551.45,733.84l4.87,2.3M441.78,775.4l4.62,2.49M454.63,832.81l2.46,1.7M345.92,685.55l5.11,0.38M564.77,707.45l1.77,2.15M417.29,771.17l0.86,4.07M295.34,686.76l1.94,5.08M552.58,764.45l-3.86,0.56M555.29,823.38l-4.39,0.21M514.87,733.97l-0.04,3.15M309.69,689.03l-3.83,0.66M496.48,838.8l-3.46,3.4M580.26,720.58l-3.68,2.15M630.11,706.97l-1.04,3.86M444.6,786.55l1.19,3.32M523.76,700.98l2.43,2.51M318.2,719.03l0.58,3.34M480.09,706l-1.38,2.74M558.18,690.47l-0.14,4.94M581.43,679.43l0.66,5.11M607.28,741.51l1.48,3.13M515.31,738.32l2.12,1.58M364.48,731l5.02,0.77M489.19,788.88l4.74,2.43M505.26,725.58l-3.68,0.43M318.89,699.94l-1.31,2.81M569.99,744l-2.95,1.12M380.53,720.49l-0.1,4.57M500.08,690.8l1.24,5.07M359.94,797.92l4.17,2.68M356.91,815.58l-3.42,0.82M360.65,806.06l-2.28,1.4M390.62,722.18l3.3,0.28M579.04,695.47l2.11,2.52M370.23,729.08l-2.85,2.11M564.32,825.47l2.67,2.54M584.92,727.53l0.74,4.87M512.2,722.54l2.41,2.49M578.88,773.39l-2.96,0.85M610.18,695.34l-2.76,0.56M299.6,711.27l0.8,3.46M581.47,735.36l0.58,2.45M564.58,748.6l1.85,2.03M424.46,796.31l3.41,1.11M585.08,798.26l-3.18,1.6M485.5,709.86l1.61,4.57M443.19,711.46l0.46,5.12M445.46,757.97l-3.53,2.26M631.41,701.16l4.51,0.71M469.25,805.45l3.84,2.89M616.07,689.54l1.29,2.51M587.17,674.74l3.15,3.9M298.93,709.35l-4.33,2.44M403.38,818.03l2.38,1.52M300.07,727.79l2.01,1.91M505.86,700.14l-1.44,3.07M446.33,806.95l-3.18,0.86M333.11,683.35l-3.7,3.16M541.95,717.83l-1.89,2.64M363.63,720.97l-2.44,2.76M514.01,709.61l-4.39,2.59M573.89,729.62l-5.11,0.15M434.38,742.44l0.29,4.91M560.72,723.79l-0.74,5.09M352.11,767.91l-4.6,2.9M451.9,814.95l4.21,0.14M570.14,707.24l-1.39,4.71M498.83,689.13l4.57,0.59M354.26,724.25l-3.72,2.23M314.02,738.3l-0.02,4.94M491.63,674.4l-2.8,1.69M599.9,688.7l3.04,2.37M352.39,834.53l-2.58,4.28M451.82,758.38l-0.51,4.6M471.68,678.11l-4.88,1.62M415.97,719.8l-0.33,2.58M523.88,695.81l1.65,2.85M319.75,704.64l-4.96,0.64M461.74,678.58l-2.97,4.39M603.05,694.49l1.66,3.88M320.82,725.83l-3.69,3.02M575.12,695.38l-3.12,2.88M450.63,827.38l-5.26,0.75M375.69,678.33l-0.16,3.16M460.36,696.44l4.76,2.49M616.24,706.82l0.02,3.58M325.16,795.82l-4.72,2.58M296.1,734.41l-0.8,3.08M448.6,746.48l-4.61,0.64M504.35,772.46l2.05,3.5M345.23,713.92l-2.07,3.98M516.92,674.86l2.05,4.18M562,692.41l2.65,0.06M428.04,822.61l-0.25,5.44M536.98,738.74l-1.48,2.67M292.25,706.52l3.68,0.64M553.43,767.43l-1.83,4.39M340.36,698.7l4.73,0.66M479.29,724.19l2.18,2.17M319.62,760.21l-3.83,3.51M568.04,826.3l3.38,3M469.81,707.73l0.84,2.51M481.07,688.95l3.36,3.66M443.53,700.38l0.18,3.3M478.27,792.16l1.01,5.08M368.46,723.21l-3.1,1.26M534.15,679.21l1.64,3.18M417.86,821.08l3.33,3.11M440.73,724.2l0.04,2.92M633.05,741.8l-1.58,3.54M471.73,681.64l-3.61,2.51M509.47,738.2l-1.86,2.93M472.77,684.21l-1.79,3.3M410.55,683.94l-1.66,3.9M284.72,711.91l2.08,4.74M571.94,728.53l-0.49,4.63M463.06,690.78l-4.57,0.15M373.28,741.49l1.41,3.8M608.39,684.62l0.96,3.16M529.1,717.63l1.98,3.28M542.88,684.44l-0.82,3.68M425.04,703.73l-2.78,0.74M489.95,711.99l2.59,2.66M415.63,679.45l4.45,1.23M560.71,723.89l1.15,2.89M532.23,704.39l1.51,4.28M600.62,738.69l-0.24,5.04M593.78,688.67l3.94,0.29M566.25,686.74l-4.64,1.28M356.07,676.32l3.81,1.13M294.9,709.2l-5.02,0.93M355.47,698.74l-2.39,0.92M317.42,692.83l-3.33,2.01M449.74,754.76l3.63,3.39M314.25,703.49l-1.72,3.47M361.45,727.97l1.38,3.63M532.3,687.01l5.44,0.63M409.52,761.83l1.07,2.33M285.22,697.71l4.36,1.13M355.69,701.71l3.78,1M448.15,703.63l0.19,2.65M548.37,734.56l3.42,2.44M344.34,761.04l0.7,4.07M341.05,715.01l2.55,2.04M331.84,688.86l2.63,3.17M304.92,720.26l-4.65,2.28M342.17,810l3.95,1.16M450.9,838.52l-4.03,1.87M576.41,708.23l3.24,0.59M576.69,705.52l-3.33,0.94M474.35,724.98l-1.55,3.9M491.62,746.71l2.9,1.32M374.04,829.28l-1.9,3.76M358.52,799.56l2.1,4.18M534.9,799.25l-1.98,1.66M327.71,691.59l-3.38,1.7M320.06,741.84l2.72,4.76M558.78,805.19l-3,2M596.92,696.36l0.8,3.06M519.17,771.9l-5.03,1.14M372.74,829.34l-4.05,0.98M574.83,697.68l1.17,3.44M484.02,688.1l-3.66,1.03M407.76,768.86l-2.17,2.73M324.8,699.01l-3.98,2.47M391.65,754.99l-4.99,0.58M448.65,763.85l4.16,1.6M389.06,739.59l-2.14,3.49M295.79,702.28l1.77,1.78M320.52,708.33l-2.79,0.81M373.58,817.4l2.62,2.71M552.79,791.13l-2.56,3.49M566.51,786.87l-0.69,4.72M308.15,747.38l-3.85,0.7M330.89,754.62l0.18,3.87M335.46,804.25l0.52,3.83M433.77,684.04l-2.56,3.18M391.36,682.98l0.92,2.93M561.8,698.57l-1.55,3.37M354.11,739.12l3.41,3.17M327.65,704.64l-2.31,3.55M392.36,687.58l2.66,4.7" stroke="#a08428" stroke-width="1.5" fill="none" stroke-linecap="round"/>
<path d="M385.92,689.46l-0.7,4.19M327.86,824.7l-4.79,0.74M617.81,746.02l2.36,2.72M535.46,705.82l1.32,2.34M540.19,671.74l3.37,2.82M565.19,699.8l-2.69,3.33M489.08,702.03l-2.68,4.19M570.86,717.3l-2.87,0.72M564.14,825.54l2.41,1.92M358.49,677.43l-0.27,4.72M598.28,804.43l-2.64,4.33M387.9,710.28l-0.85,2.7M450.53,744.37l-1.9,2.98M288.63,690.95l4.89,1.66M354.68,716.18l-3.35,3.29M461.27,693.18l1.16,2.88M464.18,681.88l2.63,0.7M338.83,741.4l0.59,4.97M387.54,842.14l2.33,4.89M496.55,712.99l3.55,1.88M469.52,696.2l0.61,3.31M425.6,684.36l1.13,4.29M400.81,817.8l1.12,4.02M383.11,786.82l-2.94,0.68M367.34,795.93l-2.52,0.26M465.57,747.08l-5.08,0.21M464.33,678.03l2.54,3.21M448.82,699.86l0.55,5.01M622.66,715.49l-3.63,0.56M343.39,682.71l0.07,4.69M450.34,738.92l-2.79,3.89M538.42,727.47l0.42,3.72M476.15,725.8l-5.22,0.29M375.47,819.74l0.04,4.24M563.93,716.01l0.68,4.49M634.83,723.54l-1.19,2.29M354.3,704.69l1.57,3.26M412.59,700.98l2.68,3.13M458.37,828.23l-3.54,1.91M315.02,707.96l2.12,3.32M545.69,717.39l-1.52,2.29M458.43,739.71l1.48,2.34M333.92,796.35l-3.47,2.09M462.15,688.01l-2.58,3.29M428.34,813.48l4.26,1.7M453.03,691.26l0.16,5.03M378.8,732.78l-1.9,2.39M498.5,805.19l-1.78,2.37M536.64,707.48l-3.78,3.11M586.25,697.42l3.35,4.35M332.24,705.47l-4.03,0.17M505.36,739.93l-3.79,1.64M359.67,736.94l4.02,3.66M393.27,765.12l1.99,1.6M498.5,697.64l4.56,1.7M570.1,732.63l2.69,2.03M399.7,728.74l-1.23,3.93M518.69,744.36l2.06,3.75M618.62,785.94l-2.91,2.45M540.07,721.54l-0.33,4.03M531.68,735.13l-2.29,1.81M572.98,753.95l0.6,3.73M505.08,763.54l-3.99,1.45M383.68,697.91l-2.05,2.38M629.01,731.99l-1.54,4.2M498.36,688.57l-4.54,1.72M426.06,711.85l1.22,4.14M509.29,775.77l-0.97,3.21M395.64,737.53l3.97,0.92M472.09,685.85l-2.7,0.67M370.05,728.04l-1.45,4.99M617.12,707.15l-2.9,2.69M439.06,776.18l1.51,2.82M432.46,847.31l2.67,2.57M427.34,681.42l-2.58,2.31M320.76,682.49l-3.46,4.14M359.54,723.25l3.96,3.23M421.71,743.66l-0.93,5.37M352.97,698.04l0.13,3.04M449.67,809.99l-3.72,1.61M564.12,723.6l-2.75,4.01M366.57,702.14l1.13,2.28M434.25,796.01l-4.05,3.15M356.96,684.31l0.37,3.85M426.76,759.7l-2.46,1.1M521.56,834.36l0.74,2.88M478.28,689.4l0.37,2.95M290.22,693.33l1.86,3.82M300.53,733.66l2.91,1.64M537.99,730.61l1.23,4.6M589.86,689.88l-0.82,4.33M505.09,697.22l-4.67,1.94M554.27,687.08l-1.77,3.42M513.82,692.2l-3.11,1.64M580.82,764.92l-2.84,3.59M584.03,712.36l1.02,2.58M536.66,717.56l-2.82,3.97M450.68,693.16l-1.83,2.77M615.96,685.16l-3.58,0.47M318.29,691.35l4.05,3.62M579.52,729.86l-0.38,5.25M287.53,742.99l0.6,3.12M500.1,754.79l-3.32,0.68M579.71,746.94l-2.89,0.81M476.88,794.92l-1.26,2.71M297.68,697.36l3.48,0.17M523.77,716.76l-5.12,1.96M437.9,722.19l-4.71,0.02M467.72,692.53l1.03,2.66M323.1,817.86l-1.73,3.48M585.2,817.85l1.93,4.28M499.87,724l2.12,3.09M490.42,699.95l-3.97,3.73M453.95,714.99l-2.48,1.21M388.67,735.2l0.77,4.89M430.89,742.07l0.59,4.49M532.07,722.47l-0.8,2.59M391.45,740.77l-3.6,1.39M463.34,678.2l-2.94,4.35M378.09,711.19l-2.52,1.87M371.12,683.57l1.89,4.21M337.35,734.78l1.6,2.91M438.03,750.37l4.35,2.73M610.81,754.16l-1.12,4.53M562.91,696.63l2.54,4.09M307.53,730.59l4.38,2.02M562.3,697.47l-0.82,4.15M547.41,729.71l-2.14,1.46M517.51,693.67l-3.66,0.56M567.85,732.07l0.75,3.51M561.86,744.28l1.28,4.04M449.99,805.22l4.38,2.73M520.98,734.02l3.02,1.85M299.76,715.39l-2.24,2.73M304.06,687.06l-2.79,4.72M574.04,741.58l1.24,2.7M422.3,741.71l1.98,4.72M365.34,730.46l-2.67,1.27M414.55,689.95l3.17,2.68M576.59,721.79l3.97,2.95M324.4,817.81l3.9,3.1M372.11,747.97l-2.11,1.7M339.14,829.58l-2.45,0.67M520.76,681.94l-4.47,2.26M307.71,729.58l-5.31,1.36M598.87,698.16l3.25,1.85M367.35,677.26l-1.96,4.29M536.92,706.75l4.04,1.34M282.17,743.92l2.37,1.53M631.75,729.55l-2.3,1.85M576.21,742.07l1.86,3.56M339.67,795.23l-5.13,0.35M498.99,713.63l-2.73,2.03M472.34,733.59l3.36,2.97M467.13,727.62l2.23,2.88M321.09,685.95l-3.22,1.71M438.64,675.76l2.23,1.73M475.67,828.64l-5.3,0.62M479.17,727.2l1.4,2.88M556.22,735.57l1.01,3.14M629.92,704.32l-4.53,1.83M350.41,674.06l2.96,1.22M448.31,731.98l-3.19,4.16M488.09,707.19l3.46,0.73M376.32,695.59l2.41,1.27M496.41,688.02l1.46,4.13M316.73,740.95l1.38,2.31M517.25,723.17l2.52,3.63M438.44,672.03l-2.8,2.9M337.57,737.27l0.13,5.43M312.59,691.44l-1.65,5.13M467.21,699.06l0.31,3.63M518.29,681.15l-1.75,2.74M587.26,742.22l3.32,2.37M475.88,747.64l-4.72,0.83M564.28,729.79l0.38,3.48M405.18,734.48l-3.07,1.74M329.49,743.61l4.6,2.68M346.96,809.22l-1.68,5.21M455.8,779.9l-2.33,3.38M522.81,687.89l0.49,2.72M580.37,730.07l2.29,2.15M337.76,779.81l2.72,1.94M334.79,694.88l3.09,1.89M315.43,772.78l1.94,1.83M506.12,705.23l4.78,1.67M571.26,683.59l-1.07,2.58M603.18,771.22l-2.48,0.5M509.18,676.24l-2.56,2.97M410.12,807.49l-3.28,2.23M442.07,793.53l-2.33,3.73M440.18,736.6l2.68,4.1M510.14,700.87l-4.12,2.67M542.72,699.6l-1.32,5.1M345.92,749.98l-0.76,3.06M560.14,824.22l5.02,1.7M481.38,833.15l-2.43,1.82M404.66,743.96l4.16,1.36M493.84,826.56l-3.93,1.15M333.52,697.39l1.44,2.5M320.73,710.71l-1.9,2.6M430.3,839.15l-1.37,2.79M620.12,721.88l-5.09,1.59M423.5,738.23l-1.32,2.19M574.76,695.93l-1.03,2.74M403.75,847.81l-2.46,3.31M581.82,705.09l1.89,2.47M372.23,743.34l1.83,2.06M582.69,701.28l3.51,0.93M492.71,752.79l4.6,2.61M494.15,740.2l-5.06,1.82M549.09,822.35l0.38,4.39M576.21,743.91l1.55,2.27M392.64,716.82l-0.09,4.25M375.21,702.62l-0.87,2.57M485.24,840.15l-2.77,0.41M388.51,829.11l0.88,4.97M388.61,737.39l2.66,0.79M528.71,688.51l-3.18,0.12M605.69,737.4l4.11,0.52M482.13,739.71l0.07,4.47M400.21,709.95l2.75,1.48M303.94,683.44l0.57,4.74M611.08,695.74l-4.14,2.98M314.87,720.28l0.86,2.9M599.69,711.65l-2.94,0.74M382.71,730.71l-1.09,5.07M566.24,740.88l1.4,4.59M408.63,706.57l-0.24,2.67M560.62,703.93l3.94,1.33M382.6,691.18l-3.9,3.71M410.85,685.21l-4.4,2.05M321.62,724.58l-2.03,4.64M302.19,728.22l4.37,1.24M473.72,704.12l3.75,0.71M373.3,738.65l2.35,3.28M550.32,687.48l-1.39,4.83M488.55,675.21l-4.8,0.83M506.95,718.89l4.52,1.64M575.58,742.41l1.23,4.7M548.76,688.51l1.64,4.41M462.48,708.45l4.25,1.5M385.67,706.37l-1.12,3.95M400.5,737.54l3.15,1.03M373.48,698.99l3.98,0.78M327.3,746.35l-2.34,4.7M393.08,709.76l-0.72,3.23M374,831.31l-3.47,3.23M346.45,830.28l0.6,2.98M498.18,813.07l-0.32,3.21M515.5,697.73l0.33,3.54M521.74,675.56l0.46,3.8M540.94,763.11l-4.37,0.28M366.02,726.88l-2.54,0.56M561,683.71l-0.03,4.16M617.83,703.29l-2.91,2.8M519.46,692.58l-1.41,2.13M358.36,718.01l3.67,2.35M583.24,694.75l2.43,1.99M632.1,708.11l-2.49,2.23M595.62,734.01l0.7,3.1M495.51,723.3l-1.79,1.8M417.99,716.81l-3.77,2.33M340.66,789.95l0.2,4.58M314.26,728.09l-0.62,3.42M360.49,688.71l3.22,3.55M555.49,740.42l0.05,5.21M574.51,781.77l-2.11,4.01M365.66,741.17l3.87,1.33M377.41,708.28l-4.91,2.45M438.98,735l-1.73,1.87M513.61,817.22l3.06,2.05M453.97,746.75l0.67,3.56M557.32,703.51l-4.25,1.12M439.57,677.61l-4.08,0.36M567.64,743.75l-3.35,1.16M595.65,791.57l-2.77,1.26M524.53,739.88l2.51,2.81M359.28,770.45l4.96,0.19M333.78,766.36l2.95,1.39M545.38,744.83l-3.21,1.28M621.71,690.44l1.54,5.05M405.16,821.36l1.46,3.09M607.12,723.83l2.92,2.93M353.23,684.84l-3.23,1.34M494.53,741.29l4.53,1.37M435.85,820.8l2.57,1.89M299.09,695.18l4.26,1.39M374.23,692.31l-2.25,3.38M509.03,717.65l-2.04,1.67M603.1,714.91l3.75,0.06M486.93,829.62l4.22,2.63M517.82,747.15l-4.43,1.11M484.48,694.16l0.39,3.64M312.38,689.63l-2.33,3.81M367.67,746.08l1.74,3.75M475.78,688.53l1.21,4.1M318.59,721.99l-4.18,3.31M454.37,774.72l-1.53,3.26M499.88,737.71l-0.99,2.7M428.21,729.92l-3.68,2.46M489.62,713.12l-2.57,1.73M383.47,829.92l2.74,0.31M306.41,743.05l-2.87,3.54M411.8,744.6l0.54,2.56M429.08,698.13l-0.38,3.32" stroke="#1c1cff" stroke-width="1.5" fill="none" stroke-linecap="round"/>
<path d="M567.63,703.03l-1.69,2.69M340.73,735.41l-3.27,3.58M485.33,724.13l2.96,2.78M312.83,820.58l2.35,2.84M615.91,684.17l-5.03,2.03M394.38,723.29l2.53,0.08M544.67,689.8l-3.76,1.6M553.25,725.93l-2.17,3.02M478.67,675.04l-2.07,2.91M599.29,681.69l-1.1,2.83M482.29,717.53l0.24,2.52M520.14,700.27l2.84,1.73M564.14,745.37l2.53,1.33M501.08,752.88l1.51,2.81M620.01,713.08l-2.06,4.5M357.83,687.54l-3.35,0.88M334.55,775.58l-3.52,4.2M490.84,691.73l1.16,3.4M525.1,674.79l-3.11,4.3M313.58,719.54l-3.44,0.27M308.97,712.31l-3.19,3.86M400.01,721.46l-2.27,1.91M489.5,806.07l3.02,1.03M301.96,704.54l-3.34,3M323.63,818.77l-3.77,2.96M385.55,722.82l-4.16,1.87M301.67,722.73l-3.22,2.54M457.29,681.47l-3.06,1.61M365.84,830.72l-5.07,0.83M590.55,678.15l-4.87,2.07M316.7,725.48l-2.33,1.14M293.81,731.96l-2.14,1.89M338.58,817.48l2.87,4.12M348.49,767.24l-4.78,2.2M430.64,788.16l-0.08,3.73M420.26,723.81l-2.31,1.79M342.95,760.01l1.47,2.07M448.26,844.49l-0.6,3.52M389.98,675.44l-4.47,0.08M448.84,674.77l0.09,3.76M435.25,747.43l-4.8,2.29M298.74,734.27l-1.88,2.07M355.94,704.42l0.94,2.75M538.11,704.19l3.26,3.59M314.69,797.51l-2.75,3.91M379.66,745.65l-2.96,1M390.5,697.69l1.01,3.96M431.08,705.91l2.82,3.89M477.67,691.92l-0.02,3.95M432.62,702.55l-3.71,0.16M357.11,739.01l-2.84,2.94M401.22,708.98l-3.45,1.83M592.38,695.9l-2.4,2.27M541.98,681.28l1.27,4.73M424.82,683.87l-1.07,4.18M459.57,745.17l-1.59,4.26M468.62,803.96l4.65,0.79M399.38,713.68l1.68,3.93M583.92,675.11l0.72,3.38M428.33,698.5l1.32,2.17M442.27,692.89l5.42,0.71M299.88,743.34l1.6,3.72M474.75,677.9l-3.13,0.78M307.45,709.96l-1.73,3.78M295.09,694.23l3.98,0.47M621.49,687.84l-3.44,2.41M396.17,704.69l0.61,2.44M335.39,676.37l1.4,3.85M558.39,683.02l2.82,4.22M353.62,812.37l4.34,0.96M391.55,694.42l-2.1,4.57M388.34,692.91l0.97,4.14M461.17,739.79l-1.64,3.8M608.44,704.14l3.73,0.45M362.81,745.4l-3.12,3.31M571.91,816.29l3.17,1.21M560.86,752.32l2.26,1.72M366.9,738.73l-1.45,4.24M597.35,704.39l-2.02,3.32M391.93,734.63l-3.45,0.76M318.53,678.47l-0.31,4.78M327.08,792.76l-2.23,1.49M538.91,706.56l-2.88,0.43M336.37,708.79l-3.82,1.76M599.27,741.65l-3.98,0.76M367.52,728.02l2.81,0.78M360.57,744.28l-1.62,4.05M411.96,702.8l-0.43,4.67M382.45,697.15l-3.1,3.67M510.53,673.19l-3.1,2.48M502,731.77l0.89,4.5M387.18,726.45l-0.75,3.06M354.04,692.91l-3.11,0.88M549.35,762.79l-2.18,4.43M320.34,692.99l-0.95,2.41M411.1,712.76l4.28,1.14M589.62,684.54l1.86,3.84M542.6,714.63l4.91,0.19M458.96,727.72l-2.91,0.66M326.66,696.13l-1.48,3.15M621.66,695.8l-1.26,3.25M336.39,679.08l4.98,0.01M370.99,692.79l-4.15,2.18M282.35,724.52l-1.36,3.46M583.22,687.58l3.01,1.95M479.5,747.38l4.64,0.04M553.36,737.04l4.94,1.48M304.95,709.28l-3.66,3.43M497.23,692.73l-1.22,2.37M436.56,691.26l0.25,3.78M347.11,777.72l2.26,2.27M575.27,711.64l-3.04,0.86M348.08,699.5l-2.6,1.37M327.57,710.2l-4.45,2.13M577.35,678.88l-2.68,1.07M575.79,707.51l-4.31,0.64M367.39,725.44l2.72,4.77M620.75,694.14l-2.66,1.35M592.85,687.53l-2.04,2.34M494.13,815.22l-3.68,1.1M467.17,694.52l-1.64,3.32M486.07,711.04l-0.19,2.83M378.9,740.04l3.85,0.15M625.94,719.34l-1.87,3.09M544.81,711.77l-4.02,0.79M316.47,709.24l-3.97,1.65M437.31,692.68l-2.58,2.28M348.32,829.5l-4.25,1.21M467.96,800.31l5.06,0.25M625.93,703.43l-2.68,1.01M433.78,694.02l-2.27,2.09M490.92,721.52l-4.13,1.85M630.59,723.47l2.5,1.61M611.85,690.97l2.28,4.9M505.11,678.04l-0.9,4.78M330.33,704.43l-1.94,2.86M602.26,699.78l-3.25,1.43M619.89,740.02l-0.1,5.34M390,695.09l4.79,1.85M403.51,734.31l3.72,3.69M327.84,733.85l2.07,4.71M535.05,695.78l3.06,1.56M372.06,676.67l-1.14,4.3M373.63,698.89l1.31,4.1M475.83,811.9l1.5,4.51M467.24,793.66l-4.68,0.21M504.43,777.38l-1.15,4.34M586.36,726.33l-3.12,3.4M534.06,794.25l2.97,0.56M296.53,811.07l3.34,2.22M502.08,796.14l2.58,4.54M439.03,711.4l-2.77,4.47M581.16,773.15l0.8,3.51M583.54,744.67l-2.59,0.54M352.59,718.74l2.27,1.59M515.33,717.63l-2.93,0.5M367.64,780.91l-4.71,2.65M487.48,823.71l3.5,1.36M343.72,732.09l-3.64,2.74M295.16,698.13l-0.57,3.32M617.15,739.06l-2.61,0.46M535.48,732.48l0.12,2.92M510.5,816.89l-1.65,2.1M527.1,782.02l-3.71,1.74M285.45,739.24l1.96,1.82M439.65,712.34l-3.39,0.55M455.2,730.7l-5.11,0.03M452.53,713.84l-0.11,3.78M283.72,737.39l-5.16,1.05M419.67,841.66l-1.42,4.6M321.11,763.86l3,1.61M468.88,824.47l-2.22,2.87M507.42,710.57l-3.57,0.51M456.62,769.42l3.78,3.67M569.43,719.94l-1.45,3.41M383.71,732.81l-2.49,1.02M576.69,745.66l1.64,4.43M477.63,744.71l5.15,1.53M388.4,700.02l2.97,3.71M318.66,688.33l1.67,2M560.38,738.57l-0.74,4.76M348.61,828.23l-1.35,5M544.33,765.48l-4.81,2.4M622.81,705.52l-2.72,0.15M421.93,772.6l1.7,3.26M320.8,825.89l-4.05,1.4M531.02,716.87l-0.43,2.7M350.93,716.82l-3.61,2.78M320.45,691.99l3.37,0.67M535.59,680.6l-2.8,0.1M445.4,812.41l2.55,2.45M307.53,773.21l-2.87,1.26M354.78,741.51l-2.26,2.66M280.71,724.18l-2.96,2.68M429.8,787.09l-1.25,2.78M375.83,833.69l1.62,4.06M398.65,701.45l3.32,0.18M380.52,808.41l3.46,3.56M560.74,750.99l4.3,0.1M409.07,727.12l2.22,3.89M618.97,710.76l-1.4,4.81M429.21,719.15l2.07,4.56M293.2,716.21l-1.82,3.1M425.1,733.07l4.64,1.52M384.37,833.35l3.86,1.43M434.32,684.92l-0.77,4.91M348.64,806.5l1.52,4.66M510.21,697.28l1.75,2.02M346.71,713.1l1.71,2.02M359.51,724.81l3.36,2.55M345.08,829.97l4.8,0.54M306.45,699.12l2.6,2.03M416.49,706.78l3.11,1.34M553.43,689.35l-2.9,0.51M319.38,709.58l1.25,3.28M410.91,833.34l-2.15,2.38M545.4,801.29l-2.3,1.51M352.51,718.87l-3.97,1.94M585.1,735.96l3.01,3.61M436.14,704.88l0.46,3.11M349.48,709.36l-3.47,3.39M375.83,736.69l-3.37,3.5M443.54,693.82l3.72,0.47M367,739.85l-2.67,3.69M432.16,724.2l2.17,5.01M354.71,801.09l-1.44,2.31M428.86,760.69l-0.57,3.06M614.94,690.02l-0.2,5.23M384.25,679.1l3.43,3.71M615.06,695.71l-2.33,3.25M365.14,821.48l1.27,3.34M405.67,721.63l2.12,2.7M442.92,838.32l-3.24,0.6M589.36,742.86l0.55,3M418.82,732.36l1.67,1.9M367.23,813.43l-4.93,0.22M345.3,680.74l-0.28,4.51M631.92,735.52l2.48,2.2M371.55,780.8l4.39,1.68M426.47,731.87l-1.61,2.2M355.63,711.55l0.07,3.67M305.11,758.72l0.19,3.58M476.87,742.59l-4.12,0.71M527.75,690.97l1.25,5.3M386.53,681.41l-1.65,4.05M321.65,678.76l-1.85,3.18M531.25,704.72l-1.83,3.06M304.69,682.56l-1.58,2.43M415.68,682.79l-4.16,3.22M565.84,673.14l1.02,3.88M547.77,700.73l1.72,4.92M466.68,712.6l-0.67,3.66M374.63,813.87l-2.09,2.47M340.66,695.74l2.51,2.64M463.5,713.03l0.82,2.88M366.4,699.67l4.03,0.88M478.88,678.62l-3.8,0.59M361.76,778.27l2.57,1.32M567.75,678.05l4.49,0.34M619.54,784.1l2.34,1.2M380.92,684.15l-2.16,1.65M598.22,724.07l-3.07,1.3M479.36,674.47l-3.53,3.83M312.64,746.47l3,0.33M593.52,733.72l-3.95,1.76M403.8,711.35l2.74,1.66M431.04,700.61l-1.89,1.92M285.63,715.37l-4.2,1.16M493.38,703.07l-4.27,1.08M435.6,824.06l4.32,0.6M369.54,747.17l-3.8,1.48M379.77,736.25l-2.61,1.29M478.92,723.77l-4.85,0.03M408.51,674.94l-2.82,2.58M409.19,779.52l-3.96,2.27M448.45,677.83l-2.87,1.9M589.68,675.2l2.6,2.27M305.2,767.9l3.27,2.91M462.85,709.04l-1.71,3.71M558.52,734.22l2.12,2.31M612.3,719.11l2.77,4.35M354.91,759.96l3.86,3.59M343.84,729.36l-5.12,1.61M552.33,735.85l-1.12,2.86M477.63,701.71l2.24,1.28M447.07,773.99l1.37,2.47M475.83,687.91l3.78,2.87M354.39,708.39l-2.34,2.53M387.9,742.65l-0.77,4.14M598.74,744.1l2.87,2.36M315.96,681.89l1.26,5.29M422.57,790.65l-1.86,3.77M588.88,727.46l-3.23,2.16M345.46,715.64l3.43,1.2M478.55,728.4l2.96,0.71M401.84,735.3l4.26,0.65M412.97,746.13l3.21,2.3M418.15,699.99l-0.53,4.57M425.41,731.33l-0.94,3M430.25,715.33l1.49,4.08M405.16,690.25l-3.19,0.21M513.31,826.03l-3.67,0.03M309.96,746.83l-2.71,4.28M631.56,714.64l2.75,2.49M453.32,729.9l-0.5,3.57M596.95,741.66l3.3,2.08M487.87,841.46l2.62,3.17M582.73,699.69l-4.07,1.69M619.12,734.75l3.97,1.17M363.46,722.35l-2.77,2.59M349.87,689.85l-1.9,1.94M396.53,682.96l-4.78,1.06M580.79,681.11l0.54,5.04M619.84,732.24l1.12,3.61M605.49,807.12l2.94,4.04M460.63,716.43l-4.72,0.77M400.95,709.84l3.55,0.71M367.31,840.7l-4.32,2.44M450.21,693.52l3.35,1.58M554.25,831.25l-2.96,4.39M298.27,698.93l-3.07,2.86M470.25,711.64l-2,1.72M442.38,713.66l-2.94,1.17M518.19,726.68l-2.26,4.92M563.85,765.29l-0.31,2.57M537.22,692.02l-1.9,5M554.88,685.48l3.66,3.48M571.17,724.64l-2.95,0.16M590.27,685.61l0.49,5.25M411.98,813.5l3.33,2.2M379.58,705.12l-3.39,1.62M392.08,677.29l-2.26,1.73M497.71,815.86l-3.84,3.57M495.81,689.18l0.58,2.48M440.2,833.45l-4.59,1.21M283.24,753.53l-5.34,1.07M557.27,778.35l-3.09,1.47M489.05,691.4l3.62,2.65M557.09,717.92l2.14,4.85M599.47,794.32l3.66,0.71M517.45,806.59l-4.21,0.26M595.5,692.46l-2.42,0.78M435.66,675.03l2.82,4.43M478.91,719.07l0.24,2.65M469.34,831.67l-3.59,1.92M495.63,737.58l4.55,0.61M427.69,744.26l-1.32,4.62M433.4,687.39l0.2,3.05M295.74,734.65l-5.21,0.38M413.68,709.51l2.47,2.89M580.74,805.56l-2.07,1.87M490.1,712.93l3.4,1.92M611.97,715.8l3.18,2.89M475.76,743.9l4.11,0.73M508.18,673.01l-2.93,3.04M450.55,675.27l-1.97,2.54M387.07,690.45l-1.48,2.44M578.32,709.21l-0.19,3.91M613.02,724.01l-2.61,1.05M350.4,698.55l2.93,4.14M517.67,686.14l-2.52,4.02M429.65,689.61l3.97,2.74M395.07,690.4l0.55,3.9M432.02,835.54l3.22,0.28M489.51,691.84l-1.26,2.39M578.48,691.35l-1.88,1.93M308.75,815.17l-4.68,1.14M492.62,746.2l1.83,2.53M558.8,687.16l-2.39,1.24M475.09,738.6l-1.23,2.81M353.01,680.2l3.18,3.65M430.17,717.81l-2.64,4.08M464.57,695.16l2.77,0.6M405.14,828.73l1.04,2.98M597.73,742.06l3.2,0.39M315.57,812.52l-2.38,3.14M471.22,785.16l-1.09,5.34M612.48,689.51l-0.14,4.06M372.25,770.2l-1.55,3.04M508.62,808.31l-0.03,2.65M497.89,675.93l3.34,3.5M563.72,768.39l4.57,0.31M575.9,709.2l-0.17,3.75M386.07,696.54l-0.74,3.24M550.42,716.17l-0.44,4.73M568.83,789.14l-2.18,4.37M393.3,718.96l-4.58,2.56M416.14,846.6l-3.61,1.65M326.98,688.17l-1.34,3.56M542.47,749.26l2.38,3.65M500.21,772.13l-4.17,1.15M603.69,692.94l4.01,0.06M399.51,770.5l0.67,2.82M363.14,830.11l-3.75,3.34M288.6,701.36l3.43,1.24M564.91,818.42l-3.71,3.23M375.38,712.02l1.81,2.72M515.58,707.36l0.04,2.8M308.6,704.48l2.13,2.98M407.13,744.53l-3.89,0.66M481.62,731.75l1.45,3.78M337.53,730.93l3.49,1.31M591.26,677.22l-4.4,0.28M399.98,702.97l-1.25,2.48M281.01,763.01l-2.72,3.02M365.84,756.55l4.36,1.85M295.27,811.56l-4.55,1.86M624.41,746.69l3.17,0.18M456.52,698.07l-3.67,2M533.96,708.75l-3.07,0.87M456.78,749.77l0.43,4.05M287.25,765.41l-2.02,3.54M602.5,684.65l0.31,3.41M368.45,689.51l0.45,3.26M316.09,796.73l3.66,2.92M564.85,719.1l-2.56,1.77M584.41,674.43l2.43,1.93M415.19,672.17l-3.43,3.85M428.37,692.39l-2.09,1.87M528.79,703.34l1.56,3.79M507.18,714.89l3.05,0.46M477.38,753.49l-3.05,3.04M357.39,728.45l3.79,3.46M303.92,690.22l3.57,1.86M364.02,714.21l3.49,3.52M355.33,709.96l2.81,2.23M489.4,685.1l4.57,0.08M371.15,688l2.25,1.69M478.06,766.18l-0.05,2.67M338.31,808.54l-2.2,3.53M587.58,748.65l3.99,1.18M360.22,836.25l2.28,1.6M321.69,726.33l-4.13,2.1M476.77,750.14l-1.59,5.14M318.1,816.83l-0.87,5.33M515.91,838.09l-3.22,0.12M571.22,680.54l-1.59,1.94M548.05,746.13l-4.47,2.62M521.15,681.86l2.56,2.14M495.08,707.76l-2.87,3.62M363.38,689.65l-0.32,3.05M337.99,831.56l-5.02,2.1M605.3,714.1l3.76,2.46M410.48,810.77l-0.14,3.99M514.83,832.56l4.46,0.32M548.46,677.8l0.94,4.1M568.2,685.16l-4.47,1.51M408.19,711.28l1.47,2.91M394.58,842.06l1.65,2.24M286.85,724.23l3.77,0.85M439.68,802.61l-4.78,1.43M483.11,695.73l-0.7,5.02M406.23,673.19l-0.9,2.71M292.65,736.75l-2.23,5.02M569.04,821.79l-3.43,2.71M288.19,791.19l-1.09,2.49M401.56,813.19l4.28,0.51M413.01,709.3l-0.98,2.72M340.17,678.89l-3.37,0.96M444.04,822.4l-3.12,1.16M532.2,706.02l-0.23,2.57M533,686.92l-4.07,0.99M419.85,720.18l-2.13,4.92M467.53,701.09l-1.23,4.07M386.62,738.16l-2.44,4.35M423.1,719.69l-0.79,3.33M341.72,810.44l2.78,0.32M383.94,687.65l4.51,2.72M324.26,704.68l-4.38,0.23M393.27,781.8l0.31,3.02M457.24,724.57l0.62,4.42M493.52,687.52l4.42,0.68M508.78,734.75l-3.58,3.17M421.03,811.79l-4.36,1.58M362.76,687.03l-4.18,1.67M503.48,827.01l-3.34,3.33M394.26,803.07l1.31,3.88M487.31,842.34l-2.5,0.78M415.05,724.41l4.62,1.14M458.66,845.25l-0.57,3.92M594.01,693.02l-2.92,1.44M380.88,700.53l-1.93,3.17M449.57,703.57l2.17,2.88M512.21,696.35l-2.26,2.72M417.44,799.74l-2.21,2.03M512.68,708.87l3.23,1.34M479.13,706.94l-2.64,0.64M333.9,698.93l-3.45,2.76M427.01,678.03l4.8,1.18M322.78,699.08l-4.52,0.1M571.97,689.42l-4.8,2.55M482.28,707.73l1.61,2.1M316.24,691.78l1.05,3.85M568.43,739.76l3.97,1.25M518.44,727.57l-2.51,0.26M375.57,729.84l3.02,1.86M550.6,715.98l-0.66,4.37M328.77,704.06l4.02,1.79M539.3,734.65l3.42,2.03M579.54,704.01l4.63,1.3M337.17,824.01l-4.78,1.37M310.9,737.4l5.29,0.77M527.03,795.82l4.85,0.84M397.18,734.97l-0.01,3.03M531.66,718.48l-3.54,2.42M468.31,735.56l-1.41,3.03M443.57,842.39l-4.45,0.42M548.43,722.29l2.54,2.53M302.3,729.21l2.18,1.71M450.32,679.68l-5.45,0.4M407.57,682.34l-5.39,0.58M602.6,745.6l-2.76,4.17M550.24,731.4l2.07,4.59M402.4,746.41l-2.61,2.08M364.48,824.02l4.89,1.32M497,703.39l-4.65,2.3M601.94,739.83l0.26,4.14M382.92,679.58l-3.37,1.59M551.94,718.8l1.63,3.73M603.06,737.32l-2.88,1.11M404.24,813.33l2.49,0.95M363.84,710.19l-1.6,2M601.83,808.78l-1.84,2.18M281.92,729.52l3.6,1.47M345.56,708.88l3.79,2.32M488.45,794.26l2.63,2.21M564.71,721.18l-3.28,2.49M411.56,727.46l-1.13,3.54M548.91,812.18l4.74,2.08M531.94,834.07l-3.48,3.84M401.56,731.57l-2.85,0.1M546.53,676.69l-3.63,0.41M338.75,808.9l3.64,3.04M489.31,711.06l3.87,0.91M313.62,819.7l-1.94,5.14M312.47,797.17l2.42,1.48M625.45,778.66l-0.42,5.28M554.84,811.45l-0.23,3.49M413.36,745.74l-3.15,1.93M346.73,737.03l4.08,3.26M446.44,682.44l3.91,0.79M610.89,779.99l-1.68,2.85M421.55,688.2l1.61,3.25M599.58,692.7l-2.01,1.79M596.35,718.2l-2.62,3.61M327.93,827.63l-1.77,2.97M599.07,730.35l-2.25,4.35M308.28,760.33l-3.88,0.33M588.79,737.02l3.13,3.95M577.07,812.61l0.68,2.55M461.04,728.1l-2.38,3.56M549.1,823.29l-1.97,2.96M546.38,716.68l2,2.83M460.93,699.02l2.3,4.16M581.81,756.48l-4.35,0.51M315.03,692.1l-2.07,3.22M490.52,800.66l-2.1,2.67M551.02,675.57l-5.1,0.01M626.49,704.43l-3.46,0.79M487.03,748l-1.73,4.57M456.47,761.71l-0.42,3.87M419.96,822.47l0.31,3.89M367.86,722.25l-3.36,3.3M488.81,838.38l-0.31,3.82M418.75,843.3l-2.13,2.52M384.6,729.53l-1.47,3.51M418.54,677.55l-0.68,4.91M401.75,703.3l1.17,3.28M349.03,707.29l-2.84,1.24M364.11,772.32l-0.79,4.1M611.42,721.59l-2.42,2.45M516.41,697.52l-1.89,2.16M357.52,675.33l3.71,0.1M627.82,711.66l3.61,0.87M587.18,739.68l-2.35,3.69M481.03,696.92l-0.47,3.65M356.34,720.98l4.28,1.98M334.67,680.55l-2.43,2.49M562.02,684.27l2.95,1.68M393.38,819.1l-2.08,4.31M585.3,734.39l1.91,2.64M605.42,702.28l3.23,1.25M391.85,703.42l-1.9,3.18M458.44,704.66l2.57,0.89M538.93,703.92l0.39,2.78M381.53,760.33l1.55,2.77M517.74,730.77l-2.39,2.59M371.7,705.73l-2.56,1.22M437.32,726.4l5.2,1.59M386.62,814.89l-4.06,0.49M382.29,674.34l-2.56,3.78M324.65,766.99l3.09,1.2M490.86,704.8l-0.87,3.07M592.25,682.44l5.09,1.98M437.56,714.63l4.3,0.07M470.08,701.85l-1.11,2.47M353.11,707.76l-1.73,2.25M293.4,707.94l-0.17,3.51M435.71,838.18l2.88,0.15M399.06,696.26l-0.95,5.01M469.98,761.58l-1.83,4.57M468.57,686.77l-0.16,5.11M424.71,846.56l-0.69,4.38M379.04,744.08l-3,4.26M459.91,681.33l-2.08,1.59M490.87,834.57l2.99,0.28M571.02,742.24l-0.54,3.7M346.71,783.23l0.08,4.93M351.96,828.68l-1.41,2.51M493.53,733.37l-3.44,3.43M614.26,748.49l4.73,2.36M552.73,785.18l-2.03,1.49M398.53,719.9l3.68,0.32M586.68,696.59l1.79,3.43M575.47,709.34l4.18,3.42M374.5,687.71l-0.45,3.98M297.02,717.5l-3.65,0.45M399.85,686.7l-4.43,2.99M502.15,769.02l-2.89,3.47M615.56,711.11l-0.01,4.69M390.51,676.32l-2.44,0.68M426.09,724.86l-1.04,3.04M430.5,712.15l-3.54,1.74M303.08,707.07l3.1,1.91M294.47,808.59l-2.1,2.61M423.81,727.31l-3.7,0.2M476.93,796.1l3.32,1.85M384.37,682.58l2.85,0.51M439.9,687.13l0.19,3.46M407.96,827.5l-2.64,4.01M491.39,680.73l0.4,3.41M475.93,699.11l-2.83,4.34M506.04,712.56l-0.4,5.18M380.59,740.29l-4.58,3M397.98,716.23l4.23,2.57M482.03,806.46l2.38,4.72M381.25,739.42l2.23,2.08M485.52,743.52l4.25,3.41M495.26,693.43l1.87,3.09M542.29,804.51l1.56,3.09M409.14,684.47l0.03,4.14M346.23,708.91l3.28,2.82M439.26,707.52l-1.25,3.44M601.29,692.61l4.39,2.58M307.41,684.59l3.93,1.36M427.75,730.27l1.58,2.44M302.5,751.09l-2.87,1.38M383.9,751.17l-2.49,1.36M432.36,708.76l3.49,1.45M570.8,716.56l-3.74,0.32M543.28,690.83l5.1,0.33M386.19,810.74l3.08,0.01M625.87,703.44l-1.03,2.32M569.62,810.43l-1.87,3.41M582.17,696.05l2.16,1.43M502.97,688.91l1.17,5.26M352.68,746.35l2.46,3.56M550.76,818.16l-3.72,1.59M486.95,742.6l-2.03,1.86M527.57,723.3l2.46,4.13M486.52,672.07l2.13,3.26M490.8,812.25l2.79,4.74M449.64,760.88l-1.7,4.72M346.94,689.33l-3.34,2.73M524.02,731.24l-0.09,3.37M551.04,711.38l3.3,3.99M343.32,742.91l-2.13,1.73M447.24,745.93l-1.59,3.39M476.6,835.2l3.02,2.58M357.25,689.06l-1.06,5.31M445.4,690.96l-2.07,4.22M385.79,836.39l4.21,3.33M613.04,805.11l-4.16,0.02M588.39,764.26l-2.53,0.23M565.45,813.24l-4.38,3M292.26,715.62l2.19,4.45M385.62,712.24l3.76,2.1M504.8,729.13l3.1,2.93M454.09,784.06l2.44,1.47M517.08,689.59l2.52,0.6M594.18,743.93l-5.45,0.73M332.28,723.44l-0.88,4.85M455.79,727.54l-2.19,4.79M625.21,721.76l2.47,1.09M356.05,733.33l-2.72,0.68M552.18,733.33l0.19,5.25M509.53,838.55l-3.17,1.23M448.04,689.4l2.28,4.33M511.43,818.37l-3.88,3.84M489.88,805.58l-1.94,4.21M439.78,714.36l-3.55,3.86M574.48,697.11l1.59,1.97M431.37,807.28l0.01,4.41M369.76,733.54l-3.24,1.43M439.73,714.36l0.18,3.63M478.97,686.65l3.87,2.42M613.45,795.47l0.89,2.95M468.02,710.2l-4.68,1.49M621.45,719.75l4.17,0.7M481.23,816.49l-4.98,1.5M417.55,706.54l-0.97,3.88M414.25,735.26l-4.48,0.35M454.11,683.12l-3.49,3.57M385.71,805.45l2.47,2.6M411.61,682.08l-3.34,1.82M535.96,779.09l5.01,0.48M475.09,685.77l2.59,4.85M319.82,691.17l2.29,4.3M622.35,690.65l-1.72,4.51M395.06,686.59l-2.44,2.19M616.48,760.24l-3.34,3.99M557.52,740.77l3.97,1.34M361.67,726.41l3.57,3.67M465.28,692.32l-0.98,2.84M382.53,809.96l-3.81,1.22M598.7,738.75l-3.6,1.13M532.49,685.24l2.24,4.17M346.76,711.86l-3.64,3.82M398.38,747.85l-2.41,1.37M548.47,812.61l-4.2,0.72M556.67,739.49l-3.87,3.19M551.36,678.1l1.38,3.22M461.65,742.32l-4.66,0.98M423.64,684.41l1.72,2.26M539.45,816.25l-3.77,0.58M459.25,700.7l2.98,1.52M526.73,752.15l-0.35,2.97M409.85,799.85l-4.94,0.96M396.75,677.1l1.78,1.89M510.5,736.02l-3.47,3.14M350.82,722.28l-4.26,0.25M281.15,711.02l-0.36,2.98M573.91,675.64l-0.05,3.66M436.23,685.82l3.95,2.54M528.48,700.66l-3.59,1.76M326.11,724.73l-0.94,4.08M501.78,708.94l-3.08,0.41M415.48,781.57l-2.56,0.25M607.67,741.37l-2.86,0.49M310.08,806.02l3.61,0.72M577.26,727.77l2.4,4.32M456.24,710.95l1.57,2.09M510.7,694.97l-3.94,2.69M333.25,760.89l0.63,3.96M591.8,751.89l-2.51,1.51M461.03,691.35l1.78,4.8M496.67,785.53l-3.3,1.7M616.45,736.15l0.55,2.67M334.99,727.71l2.69,1.12M518.9,710.1l-1.55,4.76M407.98,803.86l-3.56,2.54M601.61,682.14l-4.4,2.26M322.07,782.02l-2.7,3.69M348.97,707.37l1.24,3.53M578.56,815.9l-2.34,4.83M393.13,725.38l-3.65,0.34M625.06,746.23l2.53,3.35M407.39,717.82l0.16,3.63M477.74,806.97l-2.07,2.07M580.7,801.4l-3.34,1.69M397.06,735.77l3.35,3.62M332.91,707.83l-2.58,0.27M552.31,752.71l-5.02,1.1M354.56,711.75l-0.45,2.83M480.67,688.44l0.83,2.68M285.33,735.8l-0.8,2.79M468.85,821.51l-0.56,4.53M506,802.39l-2.8,0.42M292.26,727.88l-1.99,4.91M348.1,781.5l-3.79,3.15M526.22,825.68l-4.48,0.09M478.88,690.21l-2.16,1.87M539.66,731.78l2.24,2.15M387.47,740.11l5.16,0.33M479.01,745.23l-5.33,0.42M449.51,766.1l0.66,2.45M442.26,722.25l-0.1,4.61M569.78,690.49l3.15,2.23M379.95,744.62l-4.69,2.09M356.39,761.64l0.66,3.4M526.04,723.27l-3.27,3.32M338.43,803.56l-3.44,0M439.73,684.87l-0.43,4.7M338.99,681.03l0.59,2.45M541.34,700.08l-4.63,0.71M357.33,822.99l2.89,1.88M469.09,801.77l2.89,1.85M566.98,752.83l-1.08,2.99M463.11,685.14l-5.05,1.46M315.21,714.54l-3.52,0.83M469.13,699.72l5.48,0.26M363.48,828.61l-2.46,1.55M409.25,727.17l-5,0.79M633.62,731.41l3.55,0.4M302.54,722.36l-1.63,4.92M418.23,698.07l0.22,4.04M449.5,679.74l5.2,0.27M455.39,679.16l-1.93,3.54M586.81,737.53l0.06,4.64M422.53,697.35l1.63,2.92M566.35,691.9l-1.75,2.92M387.3,748.23l-2.03,4.17M460.26,745.93l0.8,3.24M498.29,743.87l-3.31,3.91M539.54,673.06l-2.52,2.49M333.89,714.05l-3.52,3.84M503.55,703.67l3.79,2.64M289.74,782.92l-4.16,2.44M578.09,735.58l1.47,2.42M390.04,837.43l1.67,1.91M323.27,687.74l-0.13,2.87M318.59,742.55l2.85,0.98M446.2,685.43l4.45,1.24M572.28,765.68l2.73,0.43M391.57,699.67l-0.88,3.9M370.54,808.42l-3.98,2.88M503.72,703.14l2.51,0.03M348.58,678.23l-3.7,0.29M593.99,702.34l-4.06,3.26M411.17,723.72l0.58,5.01M487.76,770.73l-2.49,1.43M540.54,775.33l-2.52,1.94M313.2,732.08l0.99,2.91M391.12,698.44l3.34,3.23M548.3,799.71l3.3,2.89M569.71,727.69l-0.63,4.76M506.06,721.24l0.61,2.48M471.9,729.51l-0.28,3.13M386.54,711.84l-2.48,3.42M491.42,684.56l2.33,3.61M493.33,679.64l2.16,2.28M417.77,828.58l-3.08,2.14M322.7,814.32l4.3,1.23M363.66,694.54l3.3,0.13M628.12,732.77l0.06,4.11M584.19,729.63l1.72,3.2M602.47,694.43l-2.53,4.03M447.45,736.17l-4.17,0.81M400.48,719.27l1.25,2.97M361.82,828.01l2.08,1.46M578.57,739.68l-0.19,3.2M545,735.3l-1.38,2.18M318.59,699.99l-1.55,3.88M564.81,701.98l3.9,0.24M329.6,818.13l-3.23,2.26M547.56,806.04l2.44,4.3M474.05,697.02l0.46,3.24M393.15,721.35l-3.45,0.36M382.4,701.67l3.09,2.91M568.3,786.85l-2.14,4.35M324.83,749.61l-1.82,2.09M437.05,677.95l-1.3,2.28M601.36,736.17l2.83,1.17M284.3,697.47l3.18,0.24M327.62,694.96l-2.17,2.49M362.5,718.38l3.08,0.75M355.97,769.71l0.49,5.34M611.95,722.76l0.08,2.93M383.32,739.17l-4.57,0.07M582.77,724.9l1.05,3.84M390.29,818.28l-0.21,5.35M455.1,688.21l4.18,0.13M372.49,731.77l1.15,3.09M360.78,786.59l1.38,2.77M563.12,767.13l-2.86,0.08M400.55,702.32l-0.63,2.64M309.2,801.84l0.65,4.71M390.22,705.06l2,2.74M502.34,803.46l4.43,2.33M303.19,692.65l0.29,2.9M521.92,757.81l1.99,3.05M317.13,701.99l-3.13,3.28M462.15,726.63l3.07,3.91M503.42,731.14l-0.22,2.85M510.06,736.91l-1.11,3.78M613.02,738.57l-4.17,0.4M399.75,735.84l2.44,4.07M438.76,803.14l-2.4,2.39M363.2,702.58l-0.51,3.39M565.35,691.54l-2.17,1.43M416.67,735.96l-3.48,0.09M460.68,743.82l2.66,3.55M439.74,703.89l5.37,0.01M532.79,729.58l-2.01,3.08M483.94,711.98l-2.55,3.94M409.32,761.96l1.17,3.02M518.29,715.62l-2.71,2.01M450.57,678.43l-3.8,3.38M297.13,767.62l1,3.06M611.54,698.42l3.36,0.1M318.71,784.08l-3.87,3.45M606.06,800.56l3.87,0.35M493.61,678.07l1.63,2.05M514.31,809.96l3.54,0.69M361.03,729.53l-2.89,3.04M374.94,704.07l0.71,4.42M614.42,728.67l0.82,3.38M555.13,709.02l-1.68,2.43M604.53,703.35l2.75,3.42M347.8,679.06l4.93,0.53M299.7,705.48l3.26,1.79M569.92,733.65l0.19,5.06M562.59,716.4l4.14,1.69M296.88,721.07l-3.39,2.09M584.63,726.34l-2.66,3.97M598.69,764.74l0.98,3.31M294.08,689.15l2.06,3.54M305.62,690.75l0.69,4.57M351.16,700.56l0.9,3.43M390.72,687.53l-5.02,0.89M325.69,679.85l3.43,0.67M400.5,672.42l2.09,4.94M485.39,673.26l1.47,3M469.92,718.32l-0.05,2.92M377.13,690.04l-4.88,1.39M466.13,811.24l1.6,4.78M305.04,739.47l1.33,3.41M376.21,768.02l0.23,3.93M496.52,699.01l-2.27,1.78M423.3,802.46l0.79,3.86M485.4,711.96l0.23,2.59M495.89,809.07l1.01,3.62M404.75,738.24l-3.78,2.96M539.4,692.57l1.95,3.3M323.77,740.86l-2.6,2.26M312.41,815.05l-2.42,3.3M436.43,708.86l-2.06,1.49M392.26,692.25l-0.21,5.31M486.93,723.32l-1.74,2.65M617.51,745.58l-3.65,3M336.46,687.96l-1.46,4.87M385.71,722.96l2.21,3.37M340.61,738.16l3.16,4.26M537.74,720.85l3.18,3.23M607.88,778.88l-0.02,2.98M392.69,792.41l-2.76,4.14M453.67,790.5l4.52,2.77M476.88,822.88l3.88,3.45M597.07,699.23l0.93,2.36M294.75,688.07l-2.83,0.05M630.25,728.04l-2.44,2.7M570.52,682.97l2.71,2.12M475.7,684.51l0.96,4.22M414.49,837.87l2.47,1.28M342.86,822.81l2.91,2.26M454.12,714.48l1.3,2.19M633.04,718.86l-0.8,4.21M565.17,718.78l3.61,2.29M508.06,697.37l-3.93,2.08M499.24,805.84l-5.03,0.74M513.2,815.82l-2.86,1.43M389.6,731.71l1.29,3.91M466.19,690.15l5.08,1.68M336.08,717.81l-2.65,3.16M444.32,782.94l-2.01,2.03M413.94,808.89l-4.69,0.92M462.67,838.12l2.74,1.04M502.21,678.53l1.94,2.05M449.74,835.73l-2,4.64M360.21,726.77l-2.07,2.14M364.64,737.26l-0.64,2.68M492.99,810.69l-4.12,1.88M497.21,758.23l-1.94,5.04M612.68,733.77l-1.48,2.32M341.11,743.23l-4.27,2.27M434.15,739.09l-1.59,2.67M470.36,707.68l-0.38,3.38M396.81,687.13l5.35,0.38M337.62,699.23l-2.93,1.94M392.4,724.89l0.25,3.96M442.38,687.71l-3.15,3.89M506.21,691.91l0.34,3.07M386.45,705.48l5.07,0.25M312.82,725.46l-2.31,1.77M355.78,699.73l3.24,3.64M402.56,755.5l0.27,3.24M351.04,682.93l-0.27,3.35M331.79,675.85l-4.95,0.28M474.3,767.62l4.75,1.59M496.56,840.97l-1.64,2.06M486.74,678.24l-1.14,4.2M589.73,683.29l1.05,5.27M600.07,710.09l3.1,1.81M517.84,715.79l3.34,1.57M336.13,722.78l1.81,4.37M379.69,692.16l2.66,0.26M633.89,719.58l-4.05,0.57M432.33,709.63l2.58,3.08M481.29,689.82l-3.06,0.72M569.46,691.72l2.71,2.13M626.03,702.41l1.69,4.17M370.7,741.11l4.18,0.68M504.54,729.74l-0.38,3.29M467.76,787.82l3.93,0.81M305.59,726.21l-0.67,4.6M590.84,714.94l-3.27,0.65M513.29,766.77l4.56,2.05M365.11,692.51l0.72,4.87M591.42,687.98l2.06,2.35M349.8,714.69l0.12,3.37M481.48,704.3l-3.52,3.36M582.89,707.31l1.65,2.4M575.99,699.14l2.48,3.42M358.15,690.27l1.19,2.31M369.6,718.74l5,1.39M444.41,681.15l-1.47,3.57M482.64,722.83l-3.37,3.46M609.84,697.08l3.57,3.32M611.45,682.43l4.03,0.87M490.79,673.21l3.61,1.52M344.8,732.32l1.5,2.96M622.57,694.85l-2.18,3.34M384.23,699.04l3.73,0.07M323.57,802.87l-5.21,0.65M597.59,775.68l-4.33,2.01M492.41,819.09l-2.45,2.83M630.9,707.16l-1.94,1.83M440.77,794.59l-2.83,1.87M291.11,703.43l-2.57,0.39M517.79,700.59l2.71,1.18M458.33,778.96l4.46,1.28M370.47,836.11l1.03,3.5M589.16,712.65l-0.3,3.02M520.54,720.15l-1,3.67M381.32,697.68l1.56,3.73M590.53,701.06l-2.9,0.89M570.31,713.91l0.29,3.44M395.68,712.19l-3.25,1.81M312.01,808.36l-0.51,4.33M339.52,733.47l-2.53,3.64M614.6,714.89l2.71,2.66M463.32,811.14l3.36,0.82M493.66,704.75l-2.51,4.3M514.88,675.15l-4.09,0.06M319.15,723.97l2.19,4.8M479,704.51l1.54,3.73M628.4,750.38l-2.39,3.9M446.8,737l-2.32,1.74M503.49,686.41l4.06,3M518.14,701.37l-1.39,2.15M347.35,678.71l-1.64,2.89M341.98,705.42l0.48,5.13M511.23,688.69l-3.6,0.05M371.4,686.06l-2.7,1.99M585.43,812.07l-4.1,2.99M487.31,729.42l-0.83,5.33M563.47,773.82l3.66,3.29M449.68,684.42l-2.89,3M497.11,734.91l-3.76,0.06M480.31,751.26l1.11,2.43M355.75,757.01l5.39,0.09M340.35,727.54l-3.56,3.01M357.96,822.6l-2.24,3.73M294.65,727.22l2.67,2.05M437.93,674.22l3.9,0.82M588.67,812.65l2.82,2.73M473.72,685.37l0.05,4.17M413.68,694.12l1.99,2.08M631.27,745.18l2.1,1.69M408.27,714.86l-1.08,2.79M513.02,716.96l2.17,3.63M334.23,762.52l-1.97,2.31M361.83,707.65l-3.51,0.05M390.32,677.54l-4.37,3.07M432.7,822.58l3.74,2.63M295.78,702.91l-0.98,3.49M518.02,722.48l-1.26,2.53M552.66,766.64l-1.49,4.2M296.84,686.6l-3.58,0.69M404.92,671.89l-2.81,4.64M475.73,688.02l0.01,2.86M568.12,818.56l-3.14,0.71M630.18,699.63l3.76,0.28M603.66,690.97l-0.32,3.74M404.79,698.29l-0.71,3.57M364.17,809.84l1.14,4.61M542.2,681.54l-3.03,1.5M500.92,683.78l-3.8,3.24M341.3,682.56l1.57,2.01M395.17,774.03l0.85,4.94M541.69,679.22l3.84,2.5M425.19,674.46l3.63,2.93M593.08,744.72l3.65,2.03M586.31,700.85l0.32,5.06M540.44,704.41l-1.04,4.39M377.11,700.14l-3.05,3.35M620.23,752.92l3.76,1.34M357.11,764.43l-0.62,3.87M497.16,772.98l4.29,0.69M358.98,805.93l-0.38,5.04M522.73,719.46l4.08,3.63M413.76,736.96l-3.41,3.03M479.71,716.13l3.46,0.27M447.6,716.18l-4.61,1.9M345.3,730.52l-5.25,1.34M475.89,738.55l-3.67,1.75M595.47,747.87l1.25,4.89M547.42,816.24l-2.18,2.4M303.42,687.22l1.99,2.36M361.05,710.29l-5.42,0.76M333.62,684.53l1.28,3.88M319.73,746.15l1.5,4.58M315.25,721.37l0.44,3.23M453.98,735.71l1.36,3.71M445.59,722.03l2.05,2.24M624.41,746.95l-3.54,4.02M433.18,726.31l3.55,0.31M520.1,710.68l0.52,3.24M298.39,696.72l0.05,4.55M445.64,711.44l-1.43,3.57M448.59,677.2l2.88,0.41M301.22,728.82l-3.82,3.64M317.21,720.88l-2.75,1.04M343.18,730.77l0.75,2.52M575.4,822.68l-4.57,0.7M564.14,714.62l-1.33,3.43M508.98,739.32l2.83,3.74M457.71,841.66l1.08,5.11M575.18,733.53l3.26,2.59M378.42,676l3.01,2.59M518.88,733.79l-4.08,2.23M498.73,833.52l0.35,4.6M355.84,833.33l3.52,0.49M470.44,679.1l1.86,3.49M493.54,724.46l-3.28,0.87M335.15,737.4l3.69,2M584.43,744.48l-2.9,2.66M449.29,742.83l3.36,1.66" stroke="#e40000" stroke-width="1.5" fill="none" stroke-linecap="round"/>
<path d="M254,720 C256,722.5 258.67,729.67 266,735 C273.33,740.33 283.75,745.93 298,752 C312.25,758.07 335.5,767.1 351.5,771.4 C367.5,775.7 380.92,776.87 394,777.8 C407.08,778.73 417.57,777.35 430,777 C442.43,776.65 453.28,776.98 468.6,775.7 C483.92,774.42 505.92,772.15 521.9,769.3 C537.88,766.45 550.3,762.15 564.5,758.6 C578.7,755.05 595.85,752.27 607.1,748 C618.35,743.73 625.97,737.97 632,733 C638.03,728.03 641.42,720.67 643.3,718.2" stroke="#1010f0" stroke-width="9" fill="none" stroke-linecap="round" stroke-linejoin="round"/>
<path d="M254,720 C256,722.5 258.67,729.67 266,735 C273.33,740.33 283.75,745.93 298,752 C312.25,758.07 335.5,767.1 351.5,771.4 C367.5,775.7 380.92,776.87 394,777.8 C407.08,778.73 417.57,777.35 430,777 C442.43,776.65 453.28,776.98 468.6,775.7 C483.92,774.42 505.92,772.15 521.9,769.3 C537.88,766.45 550.3,762.15 564.5,758.6 C578.7,755.05 595.85,752.27 607.1,748 C618.35,743.73 625.97,737.97 632,733 C638.03,728.03 641.42,720.67 643.3,718.2" stroke="#0000a8" stroke-width="7.65" fill="none" stroke-dasharray="1.8 4" stroke-linecap="butt"/>
<path d="M254,720 C256,722.5 258.67,729.67 266,735 C273.33,740.33 283.75,745.93 298,752 C312.25,758.07 335.5,767.1 351.5,771.4 C367.5,775.7 380.92,776.87 394,777.8 C407.08,778.73 417.57,777.35 430,777 C442.43,776.65 453.28,776.98 468.6,775.7 C483.92,774.42 505.92,772.15 521.9,769.3 C537.88,766.45 550.3,762.15 564.5,758.6 C578.7,755.05 595.85,752.27 607.1,748 C618.35,743.73 625.97,737.97 632,733 C638.03,728.03 641.42,720.67 643.3,718.2" stroke="#4848ff" stroke-width="1.4" fill="none" stroke-dasharray="2 3.8" stroke-dashoffset="2.5"/>
<path d="M262,745 C261.33,747 257.28,751.53 258,757 C258.72,762.47 257.82,770.78 266.3,777.8 C274.78,784.82 294.7,793.42 308.9,799.1 C323.1,804.78 337.3,808.35 351.5,811.9 C365.7,815.45 379.9,819.33 394.1,820.4 C408.3,821.47 418.95,819.72 436.7,818.3 C454.45,816.88 479.3,815.1 500.6,811.9 C521.9,808.7 546.75,803.02 564.5,799.1 C582.25,795.18 595.75,791.23 607.1,788.4 C618.45,785.57 626.92,785.28 632.6,782.1 C638.28,778.92 639.97,774.32 641.2,769.3 C642.43,764.28 640.87,757.22 640,752 C639.13,746.78 636.67,740.33 636,738" stroke="#1010f0" stroke-width="9" fill="none" stroke-linecap="round" stroke-linejoin="round"/>
<path d="M262,745 C261.33,747 257.28,751.53 258,757 C258.72,762.47 257.82,770.78 266.3,777.8 C274.78,784.82 294.7,793.42 308.9,799.1 C323.1,804.78 337.3,808.35 351.5,811.9 C365.7,815.45 379.9,819.33 394.1,820.4 C408.3,821.47 418.95,819.72 436.7,818.3 C454.45,816.88 479.3,815.1 500.6,811.9 C521.9,808.7 546.75,803.02 564.5,799.1 C582.25,795.18 595.75,791.23 607.1,788.4 C618.45,785.57 626.92,785.28 632.6,782.1 C638.28,778.92 639.97,774.32 641.2,769.3 C642.43,764.28 640.87,757.22 640,752 C639.13,746.78 636.67,740.33 636,738" stroke="#0000a8" stroke-width="7.65" fill="none" stroke-dasharray="1.8 4" stroke-linecap="butt"/>
<path d="M262,745 C261.33,747 257.28,751.53 258,757 C258.72,762.47 257.82,770.78 266.3,777.8 C274.78,784.82 294.7,793.42 308.9,799.1 C323.1,804.78 337.3,808.35 351.5,811.9 C365.7,815.45 379.9,819.33 394.1,820.4 C408.3,821.47 418.95,819.72 436.7,818.3 C454.45,816.88 479.3,815.1 500.6,811.9 C521.9,808.7 546.75,803.02 564.5,799.1 C582.25,795.18 595.75,791.23 607.1,788.4 C618.45,785.57 626.92,785.28 632.6,782.1 C638.28,778.92 639.97,774.32 641.2,769.3 C642.43,764.28 640.87,757.22 640,752 C639.13,746.78 636.67,740.33 636,738" stroke="#4848ff" stroke-width="1.4" fill="none" stroke-dasharray="2 3.8" stroke-dashoffset="2.5"/>
<text x="722.23" y="491.9" font-size="48">d</text>
<text transform="translate(923.19,488) scale(1,1.04)" font-size="36.8">CYP2J2 NADA</text>
<text transform="translate(953.13,532.1) scale(1,1.04)" font-size="36.9">Metabolism</text>
<line x1="826" y1="484" x2="826" y2="848" stroke="#000" stroke-width="3.8"/>
<line x1="820" y1="846" x2="1236" y2="846" stroke="#000" stroke-width="4"/>
<line x1="818.6" y1="845.8" x2="824.1" y2="845.8" stroke="#000" stroke-width="3.2"/>
<line x1="818.6" y1="794.4" x2="824.1" y2="794.4" stroke="#000" stroke-width="3.2"/>
<line x1="818.6" y1="743" x2="824.1" y2="743" stroke="#000" stroke-width="3.2"/>
<line x1="818.6" y1="691.6" x2="824.1" y2="691.6" stroke="#000" stroke-width="3.2"/>
<line x1="818.6" y1="640.2" x2="824.1" y2="640.2" stroke="#000" stroke-width="3.2"/>
<line x1="818.6" y1="588.8" x2="824.1" y2="588.8" stroke="#000" stroke-width="3.2"/>
<line x1="818.6" y1="537.4" x2="824.1" y2="537.4" stroke="#000" stroke-width="3.2"/>
<line x1="818.6" y1="486" x2="824.1" y2="486" stroke="#000" stroke-width="3.2"/>
<line x1="821.6" y1="820.1" x2="824.1" y2="820.1" stroke="#000" stroke-width="3.2"/>
<line x1="821.6" y1="768.7" x2="824.1" y2="768.7" stroke="#000" stroke-width="3.2"/>
<line x1="821.6" y1="717.3" x2="824.1" y2="717.3" stroke="#000" stroke-width="3.2"/>
<line x1="821.6" y1="665.9" x2="824.1" y2="665.9" stroke="#000" stroke-width="3.2"/>
<line x1="821.6" y1="614.5" x2="824.1" y2="614.5" stroke="#000" stroke-width="3.2"/>
<line x1="821.6" y1="563.1" x2="824.1" y2="563.1" stroke="#000" stroke-width="3.2"/>
<line x1="821.6" y1="511.7" x2="824.1" y2="511.7" stroke="#000" stroke-width="3.2"/>
<line x1="825.7" y1="848" x2="825.7" y2="853" stroke="#000" stroke-width="3.2"/>
<line x1="899.9" y1="848" x2="899.9" y2="853" stroke="#000" stroke-width="3.2"/>
<line x1="974.1" y1="848" x2="974.1" y2="853" stroke="#000" stroke-width="3.2"/>
<line x1="1048.3" y1="848" x2="1048.3" y2="853" stroke="#000" stroke-width="3.2"/>
<line x1="1122.5" y1="848" x2="1122.5" y2="853" stroke="#000" stroke-width="3.2"/>
<line x1="1196.7" y1="848" x2="1196.7" y2="853" stroke="#000" stroke-width="3.2"/>
<line x1="862.8" y1="848" x2="862.8" y2="850" stroke="#000" stroke-width="3.2"/>
<line x1="937" y1="848" x2="937" y2="850" stroke="#000" stroke-width="3.2"/>
<line x1="1011.2" y1="848" x2="1011.2" y2="850" stroke="#000" stroke-width="3.2"/>
<line x1="1085.4" y1="848" x2="1085.4" y2="850" stroke="#000" stroke-width="3.2"/>
<line x1="1159.6" y1="848" x2="1159.6" y2="850" stroke="#000" stroke-width="3.2"/>
<line x1="1233.8" y1="848" x2="1233.8" y2="850" stroke="#000" stroke-width="3.2"/>
<text transform="translate(799.78,855.4) scale(0.92,1.06)" font-size="30">0</text>
<text transform="translate(799.42,804) scale(0.92,1.06)" font-size="30">1</text>
<text transform="translate(799.76,752.6) scale(0.92,1.06)" font-size="30">2</text>
<text transform="translate(799.65,701.2) scale(0.92,1.06)" font-size="30">3</text>
<text transform="translate(798.8,649.8) scale(0.92,1.06)" font-size="30">4</text>
<text transform="translate(799.42,598.4) scale(0.92,1.06)" font-size="30">5</text>
<text transform="translate(799.65,547) scale(0.92,1.06)" font-size="30">6</text>
<text transform="translate(799.86,495.6) scale(0.92,1.06)" font-size="30">7</text>
<text transform="translate(818.05,880.6) scale(0.92,1.06)" font-size="30">0</text>
<text transform="translate(884.64,880.6) scale(0.92,1.06)" font-size="30">20</text>
<text transform="translate(959.11,880.6) scale(0.92,1.06)" font-size="30">40</text>
<text transform="translate(1033.01,880.6) scale(0.92,1.06)" font-size="30">60</text>
<text transform="translate(1107.28,880.6) scale(0.92,1.06)" font-size="30">80</text>
<text transform="translate(1173.37,880.6) scale(0.92,1.06)" font-size="30">100</text>
<text transform="translate(923.04,913) scale(1,1.04)" font-size="36.7">[NADA] (μM)</text>
<line x1="868.45" y1="813.15" x2="912.8" y2="780.79" stroke="#1a6fb6" stroke-width="4"/>
<line x1="924.48" y1="773.11" x2="1005.17" y2="725.48" stroke="#1a6fb6" stroke-width="4"/>
<line x1="1017.18" y1="718.28" x2="1097.97" y2="669.03" stroke="#1a6fb6" stroke-width="4"/>
<line x1="1107.78" y1="659.53" x2="1192.87" y2="529.38" stroke="#1a6fb6" stroke-width="4"/>
<rect x="858.05" y="812.52" width="9.5" height="9.5" fill="#000"/>
<rect x="913.7" y="771.92" width="9.5" height="9.5" fill="#000"/>
<rect x="1006.45" y="717.18" width="9.5" height="9.5" fill="#000"/>
<rect x="1099.2" y="660.64" width="9.5" height="9.5" fill="#000"/>
<rect x="1191.95" y="518.77" width="9.5" height="9.5" fill="#000"/>
<text transform="translate(767.4,864.08) rotate(-90) scale(1,1.06)" font-size="35.5">Rate<tspan font-size="24.4" dy="9" dx="1">NADA</tspan><tspan dy="-9" font-size="36.95"> metabolism</tspan></text>
<text x="1332.49" y="486.2" font-size="49">e</text>
<text transform="translate(1543.19,492.6) scale(1,1.04)" font-size="36.8">CYP2J2 NA5HT</text>
<text transform="translate(1581.13,536.5) scale(1,1.04)" font-size="36.9">Metabolism</text>
<line x1="1443.9" y1="480.5" x2="1443.9" y2="843.5" stroke="#000" stroke-width="4.2"/>
<line x1="1438" y1="841.5" x2="1893.2" y2="841.5" stroke="#000" stroke-width="4"/>
<line x1="1436.9" y1="832.3" x2="1441.9" y2="832.3" stroke="#000" stroke-width="3.2"/>
<line x1="1436.9" y1="773.97" x2="1441.9" y2="773.97" stroke="#000" stroke-width="3.2"/>
<line x1="1436.9" y1="715.63" x2="1441.9" y2="715.63" stroke="#000" stroke-width="3.2"/>
<line x1="1436.9" y1="657.3" x2="1441.9" y2="657.3" stroke="#000" stroke-width="3.2"/>
<line x1="1436.9" y1="598.97" x2="1441.9" y2="598.97" stroke="#000" stroke-width="3.2"/>
<line x1="1436.9" y1="540.63" x2="1441.9" y2="540.63" stroke="#000" stroke-width="3.2"/>
<line x1="1436.9" y1="482.3" x2="1441.9" y2="482.3" stroke="#000" stroke-width="3.2"/>
<line x1="1439.4" y1="803.13" x2="1441.9" y2="803.13" stroke="#000" stroke-width="3.2"/>
<line x1="1439.4" y1="744.8" x2="1441.9" y2="744.8" stroke="#000" stroke-width="3.2"/>
<line x1="1439.4" y1="686.47" x2="1441.9" y2="686.47" stroke="#000" stroke-width="3.2"/>
<line x1="1439.4" y1="628.13" x2="1441.9" y2="628.13" stroke="#000" stroke-width="3.2"/>
<line x1="1439.4" y1="569.8" x2="1441.9" y2="569.8" stroke="#000" stroke-width="3.2"/>
<line x1="1439.4" y1="511.47" x2="1441.9" y2="511.47" stroke="#000" stroke-width="3.2"/>
<line x1="1439.4" y1="832.3" x2="1441.9" y2="832.3" stroke="#000" stroke-width="3.2"/>
<line x1="1444.5" y1="843.5" x2="1444.5" y2="848.5" stroke="#000" stroke-width="3.2"/>
<line x1="1525.84" y1="843.5" x2="1525.84" y2="848.5" stroke="#000" stroke-width="3.2"/>
<line x1="1607.18" y1="843.5" x2="1607.18" y2="848.5" stroke="#000" stroke-width="3.2"/>
<line x1="1688.52" y1="843.5" x2="1688.52" y2="848.5" stroke="#000" stroke-width="3.2"/>
<line x1="1769.86" y1="843.5" x2="1769.86" y2="848.5" stroke="#000" stroke-width="3.2"/>
<line x1="1851.2" y1="843.5" x2="1851.2" y2="848.5" stroke="#000" stroke-width="3.2"/>
<line x1="1485.17" y1="843.5" x2="1485.17" y2="845.5" stroke="#000" stroke-width="3.2"/>
<line x1="1566.51" y1="843.5" x2="1566.51" y2="845.5" stroke="#000" stroke-width="3.2"/>
<line x1="1647.85" y1="843.5" x2="1647.85" y2="845.5" stroke="#000" stroke-width="3.2"/>
<line x1="1729.19" y1="843.5" x2="1729.19" y2="845.5" stroke="#000" stroke-width="3.2"/>
<line x1="1810.53" y1="843.5" x2="1810.53" y2="845.5" stroke="#000" stroke-width="3.2"/>
<line x1="1891.87" y1="843.5" x2="1891.87" y2="845.5" stroke="#000" stroke-width="3.2"/>
<text transform="translate(1415.81,842.6) scale(0.97,1.03)" font-size="31">0</text>
<text transform="translate(1398.69,784.27) scale(0.97,1.03)" font-size="31">15</text>
<text transform="translate(1399.09,725.93) scale(0.97,1.03)" font-size="31">30</text>
<text transform="translate(1398.69,667.6) scale(0.97,1.03)" font-size="31">45</text>
<text transform="translate(1399.09,609.27) scale(0.97,1.03)" font-size="31">60</text>
<text transform="translate(1398.69,550.93) scale(0.97,1.03)" font-size="31">75</text>
<text transform="translate(1399.09,492.6) scale(0.97,1.03)" font-size="31">90</text>
<text transform="translate(1436.16,876.3) scale(0.97,1.03)" font-size="31">0</text>
<text transform="translate(1509.21,876.3) scale(0.97,1.03)" font-size="31">20</text>
<text transform="translate(1590.85,876.3) scale(0.97,1.03)" font-size="31">40</text>
<text transform="translate(1671.86,876.3) scale(0.97,1.03)" font-size="31">60</text>
<text transform="translate(1753.28,876.3) scale(0.97,1.03)" font-size="31">80</text>
<text transform="translate(1825.78,876.3) scale(0.97,1.03)" font-size="31">100</text>
<text transform="translate(1554.94,910.5) scale(1,1.04)" font-size="36.7">[NA5HT] (μM)</text>
<line x1="1491.53" y1="810.32" x2="1539.81" y2="788.16" stroke="#cc0000" stroke-width="4.2"/>
<line x1="1552.91" y1="783.34" x2="1641.11" y2="758.37" stroke="#cc0000" stroke-width="4.2"/>
<line x1="1652.98" y1="751.7" x2="1744.4" y2="666.73" stroke="#cc0000" stroke-width="4.2"/>
<line x1="1753.59" y1="656.27" x2="1847.13" y2="525.33" stroke="#cc0000" stroke-width="4.2"/>
<rect x="1480.92" y="808.99" width="8.5" height="8.5" fill="#8a8a8a" stroke="#000" stroke-width="2.2"/>
<line x1="1546.17" y1="779.41" x2="1546.17" y2="791.08" stroke="#000" stroke-width="2.6"/>
<line x1="1542.17" y1="779.41" x2="1550.17" y2="779.41" stroke="#000" stroke-width="2.6"/>
<line x1="1542.17" y1="791.08" x2="1550.17" y2="791.08" stroke="#000" stroke-width="2.6"/>
<rect x="1541.92" y="780.99" width="8.5" height="8.5" fill="#8a8a8a" stroke="#000" stroke-width="2.2"/>
<line x1="1647.85" y1="746.74" x2="1647.85" y2="766.19" stroke="#000" stroke-width="2.6"/>
<line x1="1643.85" y1="746.74" x2="1651.85" y2="746.74" stroke="#000" stroke-width="2.6"/>
<line x1="1643.85" y1="766.19" x2="1651.85" y2="766.19" stroke="#000" stroke-width="2.6"/>
<rect x="1643.6" y="752.22" width="8.5" height="8.5" fill="#8a8a8a" stroke="#000" stroke-width="2.2"/>
<line x1="1749.53" y1="641.74" x2="1749.53" y2="682.19" stroke="#000" stroke-width="2.6"/>
<line x1="1745.53" y1="641.74" x2="1753.53" y2="641.74" stroke="#000" stroke-width="2.6"/>
<line x1="1745.53" y1="682.19" x2="1753.53" y2="682.19" stroke="#000" stroke-width="2.6"/>
<rect x="1745.28" y="657.72" width="8.5" height="8.5" fill="#8a8a8a" stroke="#000" stroke-width="2.2"/>
<line x1="1851.2" y1="504.47" x2="1851.2" y2="534.8" stroke="#000" stroke-width="2.6"/>
<line x1="1847.2" y1="504.47" x2="1855.2" y2="504.47" stroke="#000" stroke-width="2.6"/>
<line x1="1847.2" y1="534.8" x2="1855.2" y2="534.8" stroke="#000" stroke-width="2.6"/>
<rect x="1846.95" y="515.38" width="8.5" height="8.5" fill="#8a8a8a" stroke="#000" stroke-width="2.2"/>
<text transform="translate(1375,872.88) rotate(-90) scale(1,1.06)" font-size="35.5">Rate<tspan font-size="24.4" dy="9" dx="1">NA5HT</tspan><tspan dy="-9" font-size="36.95"> metabolism</tspan></text>
<text x="252.18" y="985.4" font-size="48">f</text>
<text transform="translate(412.99,974.1) scale(1,1.04)" font-size="36.6">AEA Metabolism + NADA</text>
<line x1="401" y1="988" x2="401" y2="1351.2" stroke="#000" stroke-width="3.4"/>
<line x1="399.3" y1="1349.5" x2="849.7" y2="1349.5" stroke="#000" stroke-width="3.4"/>
<line x1="393.3" y1="1328.3" x2="399.3" y2="1328.3" stroke="#000" stroke-width="3"/>
<line x1="393.3" y1="1285.9" x2="399.3" y2="1285.9" stroke="#000" stroke-width="3"/>
<line x1="393.3" y1="1243.5" x2="399.3" y2="1243.5" stroke="#000" stroke-width="3"/>
<line x1="393.3" y1="1201.1" x2="399.3" y2="1201.1" stroke="#000" stroke-width="3"/>
<line x1="393.3" y1="1158.7" x2="399.3" y2="1158.7" stroke="#000" stroke-width="3"/>
<line x1="393.3" y1="1116.3" x2="399.3" y2="1116.3" stroke="#000" stroke-width="3"/>
<line x1="393.3" y1="1073.9" x2="399.3" y2="1073.9" stroke="#000" stroke-width="3"/>
<line x1="393.3" y1="1031.5" x2="399.3" y2="1031.5" stroke="#000" stroke-width="3"/>
<line x1="393.3" y1="989.1" x2="399.3" y2="989.1" stroke="#000" stroke-width="3"/>
<line x1="396.3" y1="1349.5" x2="399.3" y2="1349.5" stroke="#000" stroke-width="3"/>
<line x1="396.3" y1="1307.1" x2="399.3" y2="1307.1" stroke="#000" stroke-width="3"/>
<line x1="396.3" y1="1264.7" x2="399.3" y2="1264.7" stroke="#000" stroke-width="3"/>
<line x1="396.3" y1="1222.3" x2="399.3" y2="1222.3" stroke="#000" stroke-width="3"/>
<line x1="396.3" y1="1179.9" x2="399.3" y2="1179.9" stroke="#000" stroke-width="3"/>
<line x1="396.3" y1="1137.5" x2="399.3" y2="1137.5" stroke="#000" stroke-width="3"/>
<line x1="396.3" y1="1095.1" x2="399.3" y2="1095.1" stroke="#000" stroke-width="3"/>
<line x1="396.3" y1="1052.7" x2="399.3" y2="1052.7" stroke="#000" stroke-width="3"/>
<line x1="396.3" y1="1010.3" x2="399.3" y2="1010.3" stroke="#000" stroke-width="3"/>
<line x1="424.2" y1="1351.2" x2="424.2" y2="1357.2" stroke="#000" stroke-width="3"/>
<line x1="471.32" y1="1351.2" x2="471.32" y2="1357.2" stroke="#000" stroke-width="3"/>
<line x1="518.45" y1="1351.2" x2="518.45" y2="1357.2" stroke="#000" stroke-width="3"/>
<line x1="565.58" y1="1351.2" x2="565.58" y2="1357.2" stroke="#000" stroke-width="3"/>
<line x1="612.7" y1="1351.2" x2="612.7" y2="1357.2" stroke="#000" stroke-width="3"/>
<line x1="659.83" y1="1351.2" x2="659.83" y2="1357.2" stroke="#000" stroke-width="3"/>
<line x1="706.95" y1="1351.2" x2="706.95" y2="1357.2" stroke="#000" stroke-width="3"/>
<line x1="754.08" y1="1351.2" x2="754.08" y2="1357.2" stroke="#000" stroke-width="3"/>
<line x1="801.2" y1="1351.2" x2="801.2" y2="1357.2" stroke="#000" stroke-width="3"/>
<line x1="848.33" y1="1351.2" x2="848.33" y2="1357.2" stroke="#000" stroke-width="3"/>
<line x1="400.64" y1="1351.2" x2="400.64" y2="1354.2" stroke="#000" stroke-width="3"/>
<line x1="447.76" y1="1351.2" x2="447.76" y2="1354.2" stroke="#000" stroke-width="3"/>
<line x1="494.89" y1="1351.2" x2="494.89" y2="1354.2" stroke="#000" stroke-width="3"/>
<line x1="542.01" y1="1351.2" x2="542.01" y2="1354.2" stroke="#000" stroke-width="3"/>
<line x1="589.14" y1="1351.2" x2="589.14" y2="1354.2" stroke="#000" stroke-width="3"/>
<line x1="636.26" y1="1351.2" x2="636.26" y2="1354.2" stroke="#000" stroke-width="3"/>
<line x1="683.39" y1="1351.2" x2="683.39" y2="1354.2" stroke="#000" stroke-width="3"/>
<line x1="730.51" y1="1351.2" x2="730.51" y2="1354.2" stroke="#000" stroke-width="3"/>
<line x1="777.64" y1="1351.2" x2="777.64" y2="1354.2" stroke="#000" stroke-width="3"/>
<line x1="824.76" y1="1351.2" x2="824.76" y2="1354.2" stroke="#000" stroke-width="3"/>
<text transform="translate(346.65,1338) scale(1,1.03)" font-size="30.5">0.0</text>
<text transform="translate(346.25,1295.6) scale(1,1.03)" font-size="30.5">0.1</text>
<text transform="translate(346.62,1253.2) scale(1,1.03)" font-size="30.5">0.2</text>
<text transform="translate(346.5,1210.8) scale(1,1.03)" font-size="30.5">0.3</text>
<text transform="translate(345.56,1168.4) scale(1,1.03)" font-size="30.5">0.4</text>
<text transform="translate(346.25,1126) scale(1,1.03)" font-size="30.5">0.5</text>
<text transform="translate(346.5,1083.6) scale(1,1.03)" font-size="30.5">0.6</text>
<text transform="translate(346.74,1041.2) scale(1,1.03)" font-size="30.5">0.7</text>
<text transform="translate(346.34,998.8) scale(1,1.03)" font-size="30.5">0.8</text>
<text transform="translate(415.74,1385.6) scale(1,1.03)" font-size="30.5">0</text>
<text transform="translate(454.03,1385.6) scale(1,1.03)" font-size="30.5">10</text>
<text transform="translate(501.58,1385.6) scale(1,1.03)" font-size="30.5">20</text>
<text transform="translate(548.89,1385.6) scale(1,1.03)" font-size="30.5">30</text>
<text transform="translate(596.13,1385.6) scale(1,1.03)" font-size="30.5">40</text>
<text transform="translate(643.02,1385.6) scale(1,1.03)" font-size="30.5">50</text>
<text transform="translate(690.05,1385.6) scale(1,1.03)" font-size="30.5">60</text>
<text transform="translate(737.08,1385.6) scale(1,1.03)" font-size="30.5">70</text>
<text transform="translate(784.38,1385.6) scale(1,1.03)" font-size="30.5">80</text>
<text transform="translate(831.46,1385.6) scale(1,1.03)" font-size="30.5">90</text>
<text transform="translate(320.4,1314.32) rotate(-90) scale(1,1.04)" font-size="37">AEA saturation</text>
<text transform="translate(531.54,1427.4) scale(1,1.04)" font-size="36.7">[AEA] (μM)</text>
<path d="M447.76,1268.94 L453.65,1256.62 L459.54,1245.12 L465.43,1234.34 L471.32,1224.24 L477.22,1214.73 L483.11,1205.78 L489,1197.34 L494.89,1189.36 L500.78,1181.8 L506.67,1174.64 L512.56,1167.85 L518.45,1161.39 L524.34,1155.24 L530.23,1149.38 L536.12,1143.79 L542.01,1138.45 L547.9,1133.35 L553.79,1128.47 L559.68,1123.8 L565.58,1119.31 L571.47,1115.01 L577.36,1110.88 L583.25,1106.91 L589.14,1103.09 L595.03,1099.42 L600.92,1095.88 L606.81,1092.47 L612.7,1089.18 L618.59,1086 L624.48,1082.93 L630.37,1079.97 L636.26,1077.1 L642.15,1074.33 L648.04,1071.64 L653.93,1069.04 L659.83,1066.53 L665.72,1064.08 L671.61,1061.72 L677.5,1059.42 L683.39,1057.19 L689.28,1055.02 L695.17,1052.92 L701.06,1050.87 L706.95,1048.88 L712.84,1046.95 L718.73,1045.06 L724.62,1043.23 L730.51,1041.45 L736.4,1039.71 L742.29,1038.01 L748.18,1036.36 L754.08,1034.75 L759.97,1033.18 L765.86,1031.64 L771.75,1030.15 L777.64,1028.69 L783.53,1027.26 L789.42,1025.87 L795.31,1024.5 L801.2,1023.17" stroke="#888888" stroke-width="4" fill="none"/>
<line x1="447.76" y1="1229.08" x2="447.76" y2="1246.89" stroke="#888888" stroke-width="2.2"/>
<line x1="444.01" y1="1229.08" x2="451.51" y2="1229.08" stroke="#888888" stroke-width="2.2"/>
<line x1="444.01" y1="1246.89" x2="451.51" y2="1246.89" stroke="#888888" stroke-width="2.2"/>
<rect x="442.76" y="1232.99" width="10" height="10" fill="#888888"/>
<rect x="466.32" y="1223.66" width="10" height="10" fill="#888888"/>
<rect x="513.45" y="1170.66" width="10" height="10" fill="#888888"/>
<line x1="612.7" y1="1076.44" x2="612.7" y2="1101.04" stroke="#888888" stroke-width="2.2"/>
<line x1="608.95" y1="1076.44" x2="616.45" y2="1076.44" stroke="#888888" stroke-width="2.2"/>
<line x1="608.95" y1="1101.04" x2="616.45" y2="1101.04" stroke="#888888" stroke-width="2.2"/>
<rect x="607.7" y="1083.74" width="10" height="10" fill="#888888"/>
<line x1="801.2" y1="989.95" x2="801.2" y2="1047.61" stroke="#888888" stroke-width="2.2"/>
<line x1="797.45" y1="989.95" x2="804.95" y2="989.95" stroke="#888888" stroke-width="2.2"/>
<line x1="797.45" y1="1047.61" x2="804.95" y2="1047.61" stroke="#888888" stroke-width="2.2"/>
<rect x="796.2" y="1013.78" width="10" height="10" fill="#888888"/>
<circle cx="447.76" cy="1309.22" r="5.6" fill="#000"/>
<circle cx="471.32" cy="1291.41" r="5.6" fill="#000"/>
<circle cx="518.45" cy="1260.46" r="5.6" fill="#000"/>
<path d="M447.76,1309.24 L453.65,1304.73 L459.54,1300.33 L465.43,1296.03 L471.32,1291.81 L477.22,1287.69 L483.11,1283.65 L489,1279.7 L494.89,1275.82 L500.78,1272.03 L506.67,1268.32 L512.56,1264.67 L518.45,1261.11 L524.34,1257.61 L530.23,1254.17 L536.12,1250.81 L542.01,1247.51 L547.9,1244.27 L553.79,1241.09 L559.68,1237.97 L565.58,1234.91 L571.47,1231.9 L577.36,1228.95 L583.25,1226.05 L589.14,1223.2 L595.03,1220.4 L600.92,1217.65 L606.81,1214.95 L612.7,1212.29 L618.59,1209.68 L624.48,1207.12 L630.37,1204.59 L636.26,1202.11 L642.15,1199.67 L648.04,1197.27 L653.93,1194.9 L659.83,1192.58 L665.72,1190.29 L671.61,1188.04 L677.5,1185.82 L683.39,1183.63 L689.28,1181.49 L695.17,1179.37 L701.06,1177.28 L706.95,1175.23 L712.84,1173.21 L718.73,1171.22 L724.62,1169.25 L730.51,1167.32 L736.4,1165.41 L742.29,1163.53 L748.18,1161.68 L754.08,1159.86 L759.97,1158.05 L765.86,1156.28 L771.75,1154.53 L777.64,1152.8 L783.53,1151.1 L789.42,1149.42 L795.31,1147.76 L801.2,1146.13" stroke="#a87b12" stroke-width="4.2" fill="none"/>
<line x1="612.7" y1="1206.61" x2="612.7" y2="1237.99" stroke="#000" stroke-width="3.5"/>
<line x1="609.2" y1="1206.61" x2="616.2" y2="1206.61" stroke="#000" stroke-width="3.5"/>
<line x1="609.2" y1="1237.99" x2="616.2" y2="1237.99" stroke="#000" stroke-width="3.5"/>
<line x1="801.2" y1="1128.6" x2="801.2" y2="1184.56" stroke="#000" stroke-width="3.5"/>
<line x1="797.7" y1="1128.6" x2="804.7" y2="1128.6" stroke="#000" stroke-width="3.5"/>
<line x1="797.7" y1="1184.56" x2="804.7" y2="1184.56" stroke="#000" stroke-width="3.5"/>
<circle cx="612.7" cy="1222.3" r="4.6" fill="#888888" stroke="#000" stroke-width="2.4"/>
<circle cx="801.2" cy="1156.58" r="4.6" fill="#888888" stroke="#000" stroke-width="2.4"/>
<path d="M447.76,1321.93 L453.65,1320.37 L459.54,1318.81 L465.43,1317.27 L471.32,1315.73 L477.22,1314.2 L483.11,1312.69 L489,1311.18 L494.89,1309.68 L500.78,1308.2 L506.67,1306.72 L512.56,1305.25 L518.45,1303.79 L524.34,1302.33 L530.23,1300.89 L536.12,1299.46 L542.01,1298.03 L547.9,1296.62 L553.79,1295.21 L559.68,1293.81 L565.58,1292.42 L571.47,1291.04 L577.36,1289.66 L583.25,1288.3 L589.14,1286.94 L595.03,1285.59 L600.92,1284.25 L606.81,1282.92 L612.7,1281.59 L618.59,1280.27 L624.48,1278.96 L630.37,1277.66 L636.26,1276.36 L642.15,1275.08 L648.04,1273.8 L653.93,1272.53 L659.83,1271.26 L665.72,1270 L671.61,1268.75 L677.5,1267.51 L683.39,1266.27 L689.28,1265.04 L695.17,1263.82 L701.06,1262.61 L706.95,1261.4 L712.84,1260.2 L718.73,1259 L724.62,1257.81 L730.51,1256.63 L736.4,1255.46 L742.29,1254.29 L748.18,1253.13 L754.08,1251.97 L759.97,1250.82 L765.86,1249.68 L771.75,1248.54 L777.64,1247.41 L783.53,1246.29 L789.42,1245.17 L795.31,1244.06 L801.2,1242.95" stroke="#a87b12" stroke-width="4.2" fill="none" stroke-dasharray="18 22"/>
<polygon points="447.76,1314.83 453.76,1325.27 441.76,1325.27" fill="#fff" stroke="#000" stroke-width="2.4" stroke-linejoin="miter"/>
<polygon points="471.32,1308.04 477.32,1318.48 465.32,1318.48" fill="#000" stroke="#000" stroke-width="2.4" stroke-linejoin="miter"/>
<polygon points="518.45,1295.75 524.45,1306.19 512.45,1306.19" fill="#888888" stroke="#000" stroke-width="2.4" stroke-linejoin="miter"/>
<polygon points="612.7,1280.91 618.7,1291.35 606.7,1291.35" fill="#888888" stroke="#000" stroke-width="2.4" stroke-linejoin="miter"/>
<polygon points="801.2,1239.78 807.2,1250.22 795.2,1250.22" fill="#000" stroke="#000" stroke-width="2.4" stroke-linejoin="miter"/>
<text transform="translate(476.58,1103.9) scale(1,1.04)" font-size="36.8" fill="#888888">AEA</text>
<text transform="translate(690.26,1115.9) scale(1,1.04)" font-size="36.6" fill="#a87b12">+ 25 μM NADA</text>
<text transform="translate(630.46,1317.1) scale(1,1.04)" font-size="36.6" fill="#a87b12">+ 75 μM NADA</text>
<text x="1035.53" y="985.5" font-size="48">g</text>
<text transform="translate(1215.49,978) scale(1,1.04)" font-size="36.6">AEA Metabolism + NA5HT</text>
<line x1="1193.7" y1="991" x2="1193.7" y2="1351.7" stroke="#000" stroke-width="3.4"/>
<line x1="1192" y1="1350" x2="1637.5" y2="1350" stroke="#000" stroke-width="3.4"/>
<line x1="1186" y1="1328.4" x2="1192" y2="1328.4" stroke="#000" stroke-width="3"/>
<line x1="1186" y1="1286.35" x2="1192" y2="1286.35" stroke="#000" stroke-width="3"/>
<line x1="1186" y1="1244.3" x2="1192" y2="1244.3" stroke="#000" stroke-width="3"/>
<line x1="1186" y1="1202.25" x2="1192" y2="1202.25" stroke="#000" stroke-width="3"/>
<line x1="1186" y1="1160.2" x2="1192" y2="1160.2" stroke="#000" stroke-width="3"/>
<line x1="1186" y1="1118.15" x2="1192" y2="1118.15" stroke="#000" stroke-width="3"/>
<line x1="1186" y1="1076.1" x2="1192" y2="1076.1" stroke="#000" stroke-width="3"/>
<line x1="1186" y1="1034.05" x2="1192" y2="1034.05" stroke="#000" stroke-width="3"/>
<line x1="1186" y1="992" x2="1192" y2="992" stroke="#000" stroke-width="3"/>
<line x1="1189" y1="1349.43" x2="1192" y2="1349.43" stroke="#000" stroke-width="3"/>
<line x1="1189" y1="1307.38" x2="1192" y2="1307.38" stroke="#000" stroke-width="3"/>
<line x1="1189" y1="1265.33" x2="1192" y2="1265.33" stroke="#000" stroke-width="3"/>
<line x1="1189" y1="1223.28" x2="1192" y2="1223.28" stroke="#000" stroke-width="3"/>
<line x1="1189" y1="1181.23" x2="1192" y2="1181.23" stroke="#000" stroke-width="3"/>
<line x1="1189" y1="1139.18" x2="1192" y2="1139.18" stroke="#000" stroke-width="3"/>
<line x1="1189" y1="1097.12" x2="1192" y2="1097.12" stroke="#000" stroke-width="3"/>
<line x1="1189" y1="1055.08" x2="1192" y2="1055.08" stroke="#000" stroke-width="3"/>
<line x1="1189" y1="1013.03" x2="1192" y2="1013.03" stroke="#000" stroke-width="3"/>
<line x1="1217.5" y1="1351.7" x2="1217.5" y2="1357.7" stroke="#000" stroke-width="3"/>
<line x1="1264.17" y1="1351.7" x2="1264.17" y2="1357.7" stroke="#000" stroke-width="3"/>
<line x1="1310.84" y1="1351.7" x2="1310.84" y2="1357.7" stroke="#000" stroke-width="3"/>
<line x1="1357.51" y1="1351.7" x2="1357.51" y2="1357.7" stroke="#000" stroke-width="3"/>
<line x1="1404.18" y1="1351.7" x2="1404.18" y2="1357.7" stroke="#000" stroke-width="3"/>
<line x1="1450.85" y1="1351.7" x2="1450.85" y2="1357.7" stroke="#000" stroke-width="3"/>
<line x1="1497.52" y1="1351.7" x2="1497.52" y2="1357.7" stroke="#000" stroke-width="3"/>
<line x1="1544.19" y1="1351.7" x2="1544.19" y2="1357.7" stroke="#000" stroke-width="3"/>
<line x1="1590.86" y1="1351.7" x2="1590.86" y2="1357.7" stroke="#000" stroke-width="3"/>
<line x1="1637.53" y1="1351.7" x2="1637.53" y2="1357.7" stroke="#000" stroke-width="3"/>
<line x1="1194.16" y1="1351.7" x2="1194.16" y2="1354.7" stroke="#000" stroke-width="3"/>
<line x1="1240.84" y1="1351.7" x2="1240.84" y2="1354.7" stroke="#000" stroke-width="3"/>
<line x1="1287.51" y1="1351.7" x2="1287.51" y2="1354.7" stroke="#000" stroke-width="3"/>
<line x1="1334.17" y1="1351.7" x2="1334.17" y2="1354.7" stroke="#000" stroke-width="3"/>
<line x1="1380.85" y1="1351.7" x2="1380.85" y2="1354.7" stroke="#000" stroke-width="3"/>
<line x1="1427.51" y1="1351.7" x2="1427.51" y2="1354.7" stroke="#000" stroke-width="3"/>
<line x1="1474.18" y1="1351.7" x2="1474.18" y2="1354.7" stroke="#000" stroke-width="3"/>
<line x1="1520.86" y1="1351.7" x2="1520.86" y2="1354.7" stroke="#000" stroke-width="3"/>
<line x1="1567.53" y1="1351.7" x2="1567.53" y2="1354.7" stroke="#000" stroke-width="3"/>
<line x1="1614.19" y1="1351.7" x2="1614.19" y2="1354.7" stroke="#000" stroke-width="3"/>
<text transform="translate(1139.35,1338.1) scale(1,1.03)" font-size="30.5">0.0</text>
<text transform="translate(1138.95,1296.05) scale(1,1.03)" font-size="30.5">0.1</text>
<text transform="translate(1139.32,1254) scale(1,1.03)" font-size="30.5">0.2</text>
<text transform="translate(1139.2,1211.95) scale(1,1.03)" font-size="30.5">0.3</text>
<text transform="translate(1138.26,1169.9) scale(1,1.03)" font-size="30.5">0.4</text>
<text transform="translate(1138.95,1127.85) scale(1,1.03)" font-size="30.5">0.5</text>
<text transform="translate(1139.2,1085.8) scale(1,1.03)" font-size="30.5">0.6</text>
<text transform="translate(1139.44,1043.75) scale(1,1.03)" font-size="30.5">0.7</text>
<text transform="translate(1139.04,1001.7) scale(1,1.03)" font-size="30.5">0.8</text>
<text transform="translate(1209.04,1385.1) scale(1,1.03)" font-size="30.5">0</text>
<text transform="translate(1246.87,1385.1) scale(1,1.03)" font-size="30.5">10</text>
<text transform="translate(1293.97,1385.1) scale(1,1.03)" font-size="30.5">20</text>
<text transform="translate(1340.82,1385.1) scale(1,1.03)" font-size="30.5">30</text>
<text transform="translate(1387.61,1385.1) scale(1,1.03)" font-size="30.5">40</text>
<text transform="translate(1434.04,1385.1) scale(1,1.03)" font-size="30.5">50</text>
<text transform="translate(1480.62,1385.1) scale(1,1.03)" font-size="30.5">60</text>
<text transform="translate(1527.2,1385.1) scale(1,1.03)" font-size="30.5">70</text>
<text transform="translate(1574.04,1385.1) scale(1,1.03)" font-size="30.5">80</text>
<text transform="translate(1620.66,1385.1) scale(1,1.03)" font-size="30.5">90</text>
<text transform="translate(1113.8,1312.72) rotate(-90) scale(1,1.04)" font-size="36.9">AEA saturation</text>
<text transform="translate(1325.54,1418.7) scale(1,1.04)" font-size="36.7">[AEA] (μM)</text>
<path d="M1240.84,1269.53 L1246.67,1257.32 L1252.5,1245.9 L1258.34,1235.22 L1264.17,1225.2 L1270,1215.77 L1275.84,1206.9 L1281.67,1198.52 L1287.51,1190.61 L1293.34,1183.11 L1299.17,1176.01 L1305.01,1169.27 L1310.84,1162.86 L1316.67,1156.77 L1322.51,1150.96 L1328.34,1145.41 L1334.17,1140.12 L1340.01,1135.06 L1345.84,1130.22 L1351.68,1125.58 L1357.51,1121.14 L1363.34,1116.87 L1369.18,1112.78 L1375.01,1108.84 L1380.85,1105.05 L1386.68,1101.41 L1392.51,1097.9 L1398.35,1094.51 L1404.18,1091.25 L1410.01,1088.1 L1415.85,1085.06 L1421.68,1082.12 L1427.51,1079.27 L1433.35,1076.52 L1439.18,1073.86 L1445.02,1071.28 L1450.85,1068.79 L1456.68,1066.37 L1462.52,1064.02 L1468.35,1061.74 L1474.18,1059.53 L1480.02,1057.38 L1485.85,1055.29 L1491.69,1053.26 L1497.52,1051.29 L1503.35,1049.37 L1509.19,1047.5 L1515.02,1045.68 L1520.86,1043.91 L1526.69,1042.19 L1532.52,1040.51 L1538.36,1038.87 L1544.19,1037.27 L1550.02,1035.71 L1555.86,1034.19 L1561.69,1032.71 L1567.53,1031.26 L1573.36,1029.85 L1579.19,1028.46 L1585.03,1027.11 L1590.86,1025.79" stroke="#888888" stroke-width="4" fill="none"/>
<line x1="1240.84" y1="1230" x2="1240.84" y2="1247.66" stroke="#888888" stroke-width="2.2"/>
<line x1="1237.09" y1="1230" x2="1244.59" y2="1230" stroke="#888888" stroke-width="2.2"/>
<line x1="1237.09" y1="1247.66" x2="1244.59" y2="1247.66" stroke="#888888" stroke-width="2.2"/>
<rect x="1235.84" y="1233.83" width="10" height="10" fill="#888888"/>
<rect x="1259.17" y="1224.58" width="10" height="10" fill="#888888"/>
<rect x="1305.84" y="1172.02" width="10" height="10" fill="#888888"/>
<line x1="1404.18" y1="1078.62" x2="1404.18" y2="1103.01" stroke="#888888" stroke-width="2.2"/>
<line x1="1400.43" y1="1078.62" x2="1407.93" y2="1078.62" stroke="#888888" stroke-width="2.2"/>
<line x1="1400.43" y1="1103.01" x2="1407.93" y2="1103.01" stroke="#888888" stroke-width="2.2"/>
<rect x="1399.18" y="1085.82" width="10" height="10" fill="#888888"/>
<line x1="1590.86" y1="992.84" x2="1590.86" y2="1050.03" stroke="#888888" stroke-width="2.2"/>
<line x1="1587.11" y1="992.84" x2="1594.61" y2="992.84" stroke="#888888" stroke-width="2.2"/>
<line x1="1587.11" y1="1050.03" x2="1594.61" y2="1050.03" stroke="#888888" stroke-width="2.2"/>
<rect x="1585.86" y="1016.44" width="10" height="10" fill="#888888"/>
<path d="M1240.84,1295.63 L1246.67,1288.23 L1252.5,1281.12 L1258.34,1274.27 L1264.17,1267.67 L1270,1261.31 L1275.84,1255.17 L1281.67,1249.25 L1287.51,1243.52 L1293.34,1238 L1299.17,1232.65 L1305.01,1227.48 L1310.84,1222.47 L1316.67,1217.62 L1322.51,1212.92 L1328.34,1208.36 L1334.17,1203.94 L1340.01,1199.65 L1345.84,1195.49 L1351.68,1191.45 L1357.51,1187.52 L1363.34,1183.7 L1369.18,1179.98 L1375.01,1176.37 L1380.85,1172.86 L1386.68,1169.43 L1392.51,1166.1 L1398.35,1162.85 L1404.18,1159.69 L1410.01,1156.6 L1415.85,1153.59 L1421.68,1150.66 L1427.51,1147.79 L1433.35,1145 L1439.18,1142.27 L1445.02,1139.6 L1450.85,1137 L1456.68,1134.45 L1462.52,1131.97 L1468.35,1129.54 L1474.18,1127.16 L1480.02,1124.83 L1485.85,1122.56 L1491.69,1120.33 L1497.52,1118.15 L1503.35,1116.02 L1509.19,1113.93 L1515.02,1111.88 L1520.86,1109.87 L1526.69,1107.91 L1532.52,1105.98 L1538.36,1104.09 L1544.19,1102.24 L1550.02,1100.43 L1555.86,1098.65 L1561.69,1096.9 L1567.53,1095.18 L1573.36,1093.5 L1579.19,1091.85 L1585.03,1090.23 L1590.86,1088.64" stroke="#a87b12" stroke-width="4.2" fill="none" stroke-dasharray="19 22"/>
<path d="M1240.84,1302.25 L1246.67,1296.73 L1252.5,1291.54 L1258.34,1286.66 L1264.17,1282.05 L1270,1277.7 L1275.84,1273.58 L1281.67,1269.67 L1287.51,1265.97 L1293.34,1262.45 L1299.17,1259.1 L1305.01,1255.91 L1310.84,1252.87 L1316.67,1249.96 L1322.51,1247.18 L1328.34,1244.53 L1334.17,1241.98 L1340.01,1239.55 L1345.84,1237.21 L1351.68,1234.96 L1357.51,1232.8 L1363.34,1230.73 L1369.18,1228.73 L1375.01,1226.81 L1380.85,1224.95 L1386.68,1223.16 L1392.51,1221.44 L1398.35,1219.77 L1404.18,1218.16 L1410.01,1216.6 L1415.85,1215.1 L1421.68,1213.64 L1427.51,1212.23 L1433.35,1210.86 L1439.18,1209.54 L1445.02,1208.25 L1450.85,1207.01 L1456.68,1205.8 L1462.52,1204.62 L1468.35,1203.48 L1474.18,1202.37 L1480.02,1201.29 L1485.85,1200.24 L1491.69,1199.22 L1497.52,1198.22 L1503.35,1197.26 L1509.19,1196.31 L1515.02,1195.39 L1520.86,1194.5 L1526.69,1193.63 L1532.52,1192.77 L1538.36,1191.94 L1544.19,1191.13 L1550.02,1190.34 L1555.86,1189.57 L1561.69,1188.81 L1567.53,1188.07 L1573.36,1187.35 L1579.19,1186.65 L1585.03,1185.96 L1590.86,1185.28" stroke="#a87b12" stroke-width="4.2" fill="none"/>
<line x1="1264.17" y1="1233.79" x2="1264.17" y2="1295.6" stroke="#000" stroke-width="2.8"/>
<line x1="1260.67" y1="1233.79" x2="1267.67" y2="1233.79" stroke="#000" stroke-width="2.8"/>
<line x1="1260.67" y1="1295.6" x2="1267.67" y2="1295.6" stroke="#000" stroke-width="2.8"/>
<line x1="1240.84" y1="1284.25" x2="1240.84" y2="1292.24" stroke="#000" stroke-width="2.8"/>
<line x1="1237.34" y1="1284.25" x2="1244.34" y2="1284.25" stroke="#000" stroke-width="2.8"/>
<line x1="1237.34" y1="1292.24" x2="1244.34" y2="1292.24" stroke="#000" stroke-width="2.8"/>
<line x1="1310.84" y1="1254.39" x2="1310.84" y2="1272.47" stroke="#000" stroke-width="2.8"/>
<line x1="1307.34" y1="1254.39" x2="1314.34" y2="1254.39" stroke="#000" stroke-width="2.8"/>
<line x1="1307.34" y1="1272.47" x2="1314.34" y2="1272.47" stroke="#000" stroke-width="2.8"/>
<line x1="1404.18" y1="1183.33" x2="1404.18" y2="1225.38" stroke="#000" stroke-width="2.8"/>
<line x1="1400.68" y1="1183.33" x2="1407.68" y2="1183.33" stroke="#000" stroke-width="2.8"/>
<line x1="1400.68" y1="1225.38" x2="1407.68" y2="1225.38" stroke="#000" stroke-width="2.8"/>
<line x1="1590.86" y1="1187.53" x2="1590.86" y2="1208.56" stroke="#000" stroke-width="2.8"/>
<line x1="1587.36" y1="1187.53" x2="1594.36" y2="1187.53" stroke="#000" stroke-width="2.8"/>
<line x1="1587.36" y1="1208.56" x2="1594.36" y2="1208.56" stroke="#000" stroke-width="2.8"/>
<line x1="1404.18" y1="1161.88" x2="1404.18" y2="1185.43" stroke="#000" stroke-width="2.8"/>
<line x1="1400.68" y1="1161.88" x2="1407.68" y2="1161.88" stroke="#000" stroke-width="2.8"/>
<line x1="1400.68" y1="1185.43" x2="1407.68" y2="1185.43" stroke="#000" stroke-width="2.8"/>
<line x1="1590.86" y1="1029.42" x2="1590.86" y2="1079.04" stroke="#000" stroke-width="2.8"/>
<line x1="1587.36" y1="1029.42" x2="1594.36" y2="1029.42" stroke="#000" stroke-width="2.8"/>
<line x1="1587.36" y1="1079.04" x2="1594.36" y2="1079.04" stroke="#000" stroke-width="2.8"/>
<circle cx="1240.84" cy="1308.64" r="5.2" fill="#000" stroke="#000" stroke-width="0"/>
<circle cx="1264.17" cy="1296.44" r="5.2" fill="#000" stroke="#000" stroke-width="0"/>
<circle cx="1310.84" cy="1219.07" r="5.2" fill="#000" stroke="#000" stroke-width="0"/>
<circle cx="1404.18" cy="1173.66" r="4.6" fill="#888888" stroke="#000" stroke-width="2.4"/>
<circle cx="1590.86" cy="1054.23" r="4.6" fill="#888888" stroke="#000" stroke-width="2.4"/>
<polygon points="1240.84,1285.45 1247.34,1296.76 1234.34,1296.76" fill="#888888" stroke="#000" stroke-width="2.4" stroke-linejoin="miter"/>
<polygon points="1264.17,1259.38 1270.67,1270.69 1257.67,1270.69" fill="#888888" stroke="#000" stroke-width="2.4" stroke-linejoin="miter"/>
<polygon points="1310.84,1256.86 1317.34,1268.17 1304.34,1268.17" fill="#888888" stroke="#000" stroke-width="2.4" stroke-linejoin="miter"/>
<polygon points="1404.18,1191.68 1410.68,1202.99 1397.68,1202.99" fill="#888888" stroke="#000" stroke-width="2.4" stroke-linejoin="miter"/>
<polygon points="1590.86,1191.68 1597.36,1202.99 1584.36,1202.99" fill="#888888" stroke="#000" stroke-width="2.4" stroke-linejoin="miter"/>
<text transform="translate(1280.88,1090.6) scale(1,1.04)" font-size="36.8" fill="#888888">AEA</text>
<text transform="translate(1535.46,1152.5) scale(1,1.04)" font-size="36.6" fill="#a87b12">+ 75 μM NA5HT</text>
<text transform="translate(1367.46,1271.2) scale(1,1.04)" font-size="36.6" fill="#a87b12">+ 25 μM NA5HT</text>
<text x="255.55" y="1470.5" font-size="48">h</text>
<text transform="translate(412.43,1484.2) scale(1,1.04)" font-size="36.85">NA5HT Metabolism +AEA</text>
<line x1="397.3" y1="1733.3" x2="841.7" y2="1733.3" stroke="#777" stroke-width="1.3"/>
<line x1="397.3" y1="1493.3" x2="397.3" y2="1853" stroke="#000" stroke-width="3.4"/>
<line x1="395.6" y1="1851.3" x2="841.7" y2="1851.3" stroke="#000" stroke-width="3.4"/>
<line x1="389.6" y1="1852.5" x2="395.6" y2="1852.5" stroke="#000" stroke-width="3"/>
<line x1="389.6" y1="1733.3" x2="395.6" y2="1733.3" stroke="#000" stroke-width="3"/>
<line x1="389.6" y1="1614.1" x2="395.6" y2="1614.1" stroke="#000" stroke-width="3"/>
<line x1="389.6" y1="1494.9" x2="395.6" y2="1494.9" stroke="#000" stroke-width="3"/>
<line x1="393.1" y1="1816.62" x2="395.6" y2="1816.62" stroke="#000" stroke-width="3"/>
<line x1="393.1" y1="1795.63" x2="395.6" y2="1795.63" stroke="#000" stroke-width="3"/>
<line x1="393.1" y1="1780.73" x2="395.6" y2="1780.73" stroke="#000" stroke-width="3"/>
<line x1="393.1" y1="1769.18" x2="395.6" y2="1769.18" stroke="#000" stroke-width="3"/>
<line x1="393.1" y1="1759.74" x2="395.6" y2="1759.74" stroke="#000" stroke-width="3"/>
<line x1="393.1" y1="1751.76" x2="395.6" y2="1751.76" stroke="#000" stroke-width="3"/>
<line x1="393.1" y1="1744.85" x2="395.6" y2="1744.85" stroke="#000" stroke-width="3"/>
<line x1="393.1" y1="1738.75" x2="395.6" y2="1738.75" stroke="#000" stroke-width="3"/>
<line x1="393.1" y1="1697.42" x2="395.6" y2="1697.42" stroke="#000" stroke-width="3"/>
<line x1="393.1" y1="1676.43" x2="395.6" y2="1676.43" stroke="#000" stroke-width="3"/>
<line x1="393.1" y1="1661.53" x2="395.6" y2="1661.53" stroke="#000" stroke-width="3"/>
<line x1="393.1" y1="1649.98" x2="395.6" y2="1649.98" stroke="#000" stroke-width="3"/>
<line x1="393.1" y1="1640.54" x2="395.6" y2="1640.54" stroke="#000" stroke-width="3"/>
<line x1="393.1" y1="1632.56" x2="395.6" y2="1632.56" stroke="#000" stroke-width="3"/>
<line x1="393.1" y1="1625.65" x2="395.6" y2="1625.65" stroke="#000" stroke-width="3"/>
<line x1="393.1" y1="1619.55" x2="395.6" y2="1619.55" stroke="#000" stroke-width="3"/>
<line x1="393.1" y1="1578.22" x2="395.6" y2="1578.22" stroke="#000" stroke-width="3"/>
<line x1="393.1" y1="1557.23" x2="395.6" y2="1557.23" stroke="#000" stroke-width="3"/>
<line x1="393.1" y1="1542.33" x2="395.6" y2="1542.33" stroke="#000" stroke-width="3"/>
<line x1="393.1" y1="1530.78" x2="395.6" y2="1530.78" stroke="#000" stroke-width="3"/>
<line x1="393.1" y1="1521.34" x2="395.6" y2="1521.34" stroke="#000" stroke-width="3"/>
<line x1="393.1" y1="1513.36" x2="395.6" y2="1513.36" stroke="#000" stroke-width="3"/>
<line x1="393.1" y1="1506.45" x2="395.6" y2="1506.45" stroke="#000" stroke-width="3"/>
<line x1="393.1" y1="1500.35" x2="395.6" y2="1500.35" stroke="#000" stroke-width="3"/>
<line x1="409.6" y1="1853" x2="409.6" y2="1859" stroke="#000" stroke-width="3"/>
<line x1="458.8" y1="1853" x2="458.8" y2="1859" stroke="#000" stroke-width="3"/>
<line x1="508" y1="1853" x2="508" y2="1859" stroke="#000" stroke-width="3"/>
<line x1="557.2" y1="1853" x2="557.2" y2="1859" stroke="#000" stroke-width="3"/>
<line x1="606.4" y1="1853" x2="606.4" y2="1859" stroke="#000" stroke-width="3"/>
<line x1="655.6" y1="1853" x2="655.6" y2="1859" stroke="#000" stroke-width="3"/>
<line x1="704.8" y1="1853" x2="704.8" y2="1859" stroke="#000" stroke-width="3"/>
<line x1="754" y1="1853" x2="754" y2="1859" stroke="#000" stroke-width="3"/>
<line x1="803.2" y1="1853" x2="803.2" y2="1859" stroke="#000" stroke-width="3"/>
<line x1="434.2" y1="1853" x2="434.2" y2="1856" stroke="#000" stroke-width="3"/>
<line x1="483.4" y1="1853" x2="483.4" y2="1856" stroke="#000" stroke-width="3"/>
<line x1="532.6" y1="1853" x2="532.6" y2="1856" stroke="#000" stroke-width="3"/>
<line x1="581.8" y1="1853" x2="581.8" y2="1856" stroke="#000" stroke-width="3"/>
<line x1="631" y1="1853" x2="631" y2="1856" stroke="#000" stroke-width="3"/>
<line x1="680.2" y1="1853" x2="680.2" y2="1856" stroke="#000" stroke-width="3"/>
<line x1="729.4" y1="1853" x2="729.4" y2="1856" stroke="#000" stroke-width="3"/>
<line x1="778.6" y1="1853" x2="778.6" y2="1856" stroke="#000" stroke-width="3"/>
<line x1="827.8" y1="1853" x2="827.8" y2="1856" stroke="#000" stroke-width="3"/>
<text transform="translate(334.56,1504.9) scale(1,1.03)" font-size="30.5">100</text>
<text transform="translate(351.53,1624.1) scale(1,1.03)" font-size="30.5">10</text>
<text transform="translate(368.09,1743.3) scale(1,1.03)" font-size="30.5">1</text>
<text transform="translate(342.65,1862.5) scale(1,1.03)" font-size="30.5">0.1</text>
<text transform="translate(401.14,1887.7) scale(1,1.03)" font-size="30.5">0</text>
<text transform="translate(441.5,1887.7) scale(1,1.03)" font-size="30.5">10</text>
<text transform="translate(491.13,1887.7) scale(1,1.03)" font-size="30.5">20</text>
<text transform="translate(540.51,1887.7) scale(1,1.03)" font-size="30.5">30</text>
<text transform="translate(589.83,1887.7) scale(1,1.03)" font-size="30.5">40</text>
<text transform="translate(638.79,1887.7) scale(1,1.03)" font-size="30.5">50</text>
<text transform="translate(687.9,1887.7) scale(1,1.03)" font-size="30.5">60</text>
<text transform="translate(737.01,1887.7) scale(1,1.03)" font-size="30.5">70</text>
<text transform="translate(786.38,1887.7) scale(1,1.03)" font-size="30.5">80</text>
<text transform="translate(324,1782.17) rotate(-90) scale(1,1.05)" font-size="36.95">Fold change</text>
<text transform="translate(560.24,1926) scale(1,1.04)" font-size="36.7">[AEA] (μM)</text>
<path d="M409.6,1733.3 L434.2,1628.1 L458.8,1590.42 L508,1539.56 L606.4,1529.35 L803.2,1509.79" stroke="#cc0a0a" stroke-width="4.5" fill="none" stroke-linejoin="round"/>
<path d="M409.6,1733.3 L434.2,1792.29 L458.8,1786.48 L508,1784.77 L606.4,1764.25 L803.2,1770.23" stroke="#cc0a0a" stroke-width="4.5" fill="none" stroke-dasharray="18 22" stroke-linejoin="round"/>
<line x1="434.2" y1="1611.8" x2="434.2" y2="1652.4" stroke="#cc0a0a" stroke-width="2.6"/>
<line x1="430.45" y1="1611.8" x2="437.95" y2="1611.8" stroke="#cc0a0a" stroke-width="2.6"/>
<line x1="430.45" y1="1652.4" x2="437.95" y2="1652.4" stroke="#cc0a0a" stroke-width="2.6"/>
<line x1="458.8" y1="1568.9" x2="458.8" y2="1629.4" stroke="#cc0a0a" stroke-width="2.6"/>
<line x1="455.05" y1="1568.9" x2="462.55" y2="1568.9" stroke="#cc0a0a" stroke-width="2.6"/>
<line x1="455.05" y1="1629.4" x2="462.55" y2="1629.4" stroke="#cc0a0a" stroke-width="2.6"/>
<line x1="508" y1="1530.2" x2="508" y2="1551.2" stroke="#cc0a0a" stroke-width="2.6"/>
<line x1="504.25" y1="1530.2" x2="511.75" y2="1530.2" stroke="#cc0a0a" stroke-width="2.6"/>
<line x1="504.25" y1="1551.2" x2="511.75" y2="1551.2" stroke="#cc0a0a" stroke-width="2.6"/>
<line x1="606.4" y1="1522.4" x2="606.4" y2="1537.3" stroke="#cc0a0a" stroke-width="2.6"/>
<line x1="602.65" y1="1522.4" x2="610.15" y2="1522.4" stroke="#cc0a0a" stroke-width="2.6"/>
<line x1="602.65" y1="1537.3" x2="610.15" y2="1537.3" stroke="#cc0a0a" stroke-width="2.6"/>
<line x1="803.2" y1="1498.6" x2="803.2" y2="1523.3" stroke="#cc0a0a" stroke-width="2.6"/>
<line x1="799.45" y1="1498.6" x2="806.95" y2="1498.6" stroke="#cc0a0a" stroke-width="2.6"/>
<line x1="799.45" y1="1523.3" x2="806.95" y2="1523.3" stroke="#cc0a0a" stroke-width="2.6"/>
<line x1="508" y1="1775.3" x2="508" y2="1795.2" stroke="#cc0a0a" stroke-width="2.6"/>
<line x1="504.25" y1="1775.3" x2="511.75" y2="1775.3" stroke="#cc0a0a" stroke-width="2.6"/>
<line x1="504.25" y1="1795.2" x2="511.75" y2="1795.2" stroke="#cc0a0a" stroke-width="2.6"/>
<line x1="803.2" y1="1759.8" x2="803.2" y2="1780.4" stroke="#cc0a0a" stroke-width="2.6"/>
<line x1="799.45" y1="1759.8" x2="806.95" y2="1759.8" stroke="#cc0a0a" stroke-width="2.6"/>
<line x1="799.45" y1="1780.4" x2="806.95" y2="1780.4" stroke="#cc0a0a" stroke-width="2.6"/>
<line x1="458.8" y1="1781" x2="458.8" y2="1791" stroke="#cc0a0a" stroke-width="2.6"/>
<line x1="455.05" y1="1781" x2="462.55" y2="1781" stroke="#cc0a0a" stroke-width="2.6"/>
<line x1="455.05" y1="1791" x2="462.55" y2="1791" stroke="#cc0a0a" stroke-width="2.6"/>
<circle cx="434.2" cy="1628.1" r="6" fill="#cc0a0a"/>
<circle cx="458.8" cy="1590.42" r="6" fill="#cc0a0a"/>
<circle cx="508" cy="1539.56" r="6" fill="#cc0a0a"/>
<circle cx="606.4" cy="1529.35" r="6" fill="#cc0a0a"/>
<circle cx="803.2" cy="1509.79" r="6" fill="#cc0a0a"/>
<rect x="429.45" y="1787.54" width="9.5" height="9.5" fill="#cc0a0a"/>
<circle cx="458.8" cy="1786.48" r="6" fill="#cc0a0a"/>
<rect x="503.25" y="1780.02" width="9.5" height="9.5" fill="#cc0a0a"/>
<rect x="601.65" y="1759.5" width="9.5" height="9.5" fill="#cc0a0a"/>
<rect x="798.45" y="1765.48" width="9.5" height="9.5" fill="#cc0a0a"/>
<rect x="404.6" y="1728.3" width="10" height="10" fill="#cc0a0a"/>
<text transform="translate(565.83,1622) scale(1,1.04)" font-size="36.6" fill="#cc0a0a">75 μM NA5HT</text>
<text transform="translate(597.03,1829.4) scale(1,1.04)" font-size="36.6" fill="#cc0a0a">25 μM NA5HT</text>
<text x="1053.15" y="1473.9" font-size="48">i</text>
<text transform="translate(1208.94,1483.1) scale(1,1.04)" font-size="36.8">NADA Metabolism + AEA</text>
<line x1="1192.2" y1="1718.6" x2="1636.6" y2="1718.6" stroke="#000" stroke-width="1.6"/>
<line x1="1192.2" y1="1494.5" x2="1192.2" y2="1854" stroke="#000" stroke-width="3.4"/>
<line x1="1190.5" y1="1852.3" x2="1636.6" y2="1852.3" stroke="#000" stroke-width="3.4"/>
<line x1="1184.5" y1="1807.75" x2="1190.5" y2="1807.75" stroke="#000" stroke-width="3"/>
<line x1="1184.5" y1="1718.6" x2="1190.5" y2="1718.6" stroke="#000" stroke-width="3"/>
<line x1="1184.5" y1="1629.45" x2="1190.5" y2="1629.45" stroke="#000" stroke-width="3"/>
<line x1="1184.5" y1="1540.3" x2="1190.5" y2="1540.3" stroke="#000" stroke-width="3"/>
<line x1="1187.5" y1="1852.32" x2="1190.5" y2="1852.32" stroke="#000" stroke-width="3"/>
<line x1="1187.5" y1="1763.17" x2="1190.5" y2="1763.17" stroke="#000" stroke-width="3"/>
<line x1="1187.5" y1="1674.02" x2="1190.5" y2="1674.02" stroke="#000" stroke-width="3"/>
<line x1="1187.5" y1="1584.88" x2="1190.5" y2="1584.88" stroke="#000" stroke-width="3"/>
<line x1="1187.5" y1="1495.72" x2="1190.5" y2="1495.72" stroke="#000" stroke-width="3"/>
<line x1="1204.7" y1="1854" x2="1204.7" y2="1860" stroke="#000" stroke-width="3"/>
<line x1="1254" y1="1854" x2="1254" y2="1860" stroke="#000" stroke-width="3"/>
<line x1="1303.3" y1="1854" x2="1303.3" y2="1860" stroke="#000" stroke-width="3"/>
<line x1="1352.6" y1="1854" x2="1352.6" y2="1860" stroke="#000" stroke-width="3"/>
<line x1="1401.9" y1="1854" x2="1401.9" y2="1860" stroke="#000" stroke-width="3"/>
<line x1="1451.2" y1="1854" x2="1451.2" y2="1860" stroke="#000" stroke-width="3"/>
<line x1="1500.5" y1="1854" x2="1500.5" y2="1860" stroke="#000" stroke-width="3"/>
<line x1="1549.8" y1="1854" x2="1549.8" y2="1860" stroke="#000" stroke-width="3"/>
<line x1="1599.1" y1="1854" x2="1599.1" y2="1860" stroke="#000" stroke-width="3"/>
<line x1="1229.35" y1="1854" x2="1229.35" y2="1857" stroke="#000" stroke-width="3"/>
<line x1="1278.65" y1="1854" x2="1278.65" y2="1857" stroke="#000" stroke-width="3"/>
<line x1="1327.95" y1="1854" x2="1327.95" y2="1857" stroke="#000" stroke-width="3"/>
<line x1="1377.25" y1="1854" x2="1377.25" y2="1857" stroke="#000" stroke-width="3"/>
<line x1="1426.55" y1="1854" x2="1426.55" y2="1857" stroke="#000" stroke-width="3"/>
<line x1="1475.85" y1="1854" x2="1475.85" y2="1857" stroke="#000" stroke-width="3"/>
<line x1="1525.15" y1="1854" x2="1525.15" y2="1857" stroke="#000" stroke-width="3"/>
<line x1="1574.45" y1="1854" x2="1574.45" y2="1857" stroke="#000" stroke-width="3"/>
<line x1="1623.75" y1="1854" x2="1623.75" y2="1857" stroke="#000" stroke-width="3"/>
<text transform="translate(1139.75,1817.75) scale(1,1.03)" font-size="30.5">0.5</text>
<text transform="translate(1140.15,1728.6) scale(1,1.03)" font-size="30.5">1.0</text>
<text transform="translate(1139.75,1639.45) scale(1,1.03)" font-size="30.5">1.5</text>
<text transform="translate(1140.15,1550.3) scale(1,1.03)" font-size="30.5">2.0</text>
<text transform="translate(1196.24,1887.7) scale(1,1.03)" font-size="30.5">0</text>
<text transform="translate(1236.7,1887.7) scale(1,1.03)" font-size="30.5">10</text>
<text transform="translate(1286.43,1887.7) scale(1,1.03)" font-size="30.5">20</text>
<text transform="translate(1335.91,1887.7) scale(1,1.03)" font-size="30.5">30</text>
<text transform="translate(1385.33,1887.7) scale(1,1.03)" font-size="30.5">40</text>
<text transform="translate(1434.39,1887.7) scale(1,1.03)" font-size="30.5">50</text>
<text transform="translate(1483.6,1887.7) scale(1,1.03)" font-size="30.5">60</text>
<text transform="translate(1532.81,1887.7) scale(1,1.03)" font-size="30.5">70</text>
<text transform="translate(1582.28,1887.7) scale(1,1.03)" font-size="30.5">80</text>
<text transform="translate(1122.3,1778.77) rotate(-90) scale(1,1.05)" font-size="36.85">Fold change</text>
<text transform="translate(1327.64,1924) scale(1,1.04)" font-size="36.7">[AEA] (μM)</text>
<line x1="1206.74" y1="1726.34" x2="1227.31" y2="1804.47" stroke="#0b69ad" stroke-width="4"/>
<line x1="1235.01" y1="1806.56" x2="1248.34" y2="1793.25" stroke="#0b69ad" stroke-width="4"/>
<line x1="1258.07" y1="1780.71" x2="1299.23" y2="1711.05" stroke="#0b69ad" stroke-width="4"/>
<line x1="1311.14" y1="1705.75" x2="1394.06" y2="1722.54" stroke="#0b69ad" stroke-width="4"/>
<line x1="1408.48" y1="1719.57" x2="1592.52" y2="1592.1" stroke="#0b69ad" stroke-width="4"/>
<line x1="1208.31" y1="1711.46" x2="1225.74" y2="1677.06" stroke="#0b69ad" stroke-width="4" stroke-dasharray="19 21"/>
<line x1="1234.42" y1="1676.12" x2="1248.93" y2="1693.86" stroke="#0b69ad" stroke-width="4" stroke-dasharray="19 21"/>
<line x1="1261.25" y1="1703.44" x2="1296.05" y2="1719.68" stroke="#0b69ad" stroke-width="4" stroke-dasharray="19 21"/>
<line x1="1310.13" y1="1718.89" x2="1395.07" y2="1667.13" stroke="#0b69ad" stroke-width="4" stroke-dasharray="19 21"/>
<line x1="1408.97" y1="1659.22" x2="1592.03" y2="1562.23" stroke="#0b69ad" stroke-width="4" stroke-dasharray="19 21"/>
<line x1="1229.35" y1="1653.3" x2="1229.35" y2="1686.8" stroke="#0b69ad" stroke-width="2.6"/>
<line x1="1225.6" y1="1653.3" x2="1233.1" y2="1653.3" stroke="#0b69ad" stroke-width="2.6"/>
<line x1="1225.6" y1="1686.8" x2="1233.1" y2="1686.8" stroke="#0b69ad" stroke-width="2.6"/>
<line x1="1254" y1="1671.2" x2="1254" y2="1729.4" stroke="#0b69ad" stroke-width="2.6"/>
<line x1="1250.25" y1="1671.2" x2="1257.75" y2="1671.2" stroke="#0b69ad" stroke-width="2.6"/>
<line x1="1250.25" y1="1729.4" x2="1257.75" y2="1729.4" stroke="#0b69ad" stroke-width="2.6"/>
<line x1="1303.3" y1="1661.1" x2="1303.3" y2="1747.7" stroke="#0b69ad" stroke-width="2.6"/>
<line x1="1299.55" y1="1661.1" x2="1307.05" y2="1661.1" stroke="#0b69ad" stroke-width="2.6"/>
<line x1="1299.55" y1="1747.7" x2="1307.05" y2="1747.7" stroke="#0b69ad" stroke-width="2.6"/>
<line x1="1401.9" y1="1630.6" x2="1401.9" y2="1696.3" stroke="#0b69ad" stroke-width="2.6"/>
<line x1="1398.15" y1="1630.6" x2="1405.65" y2="1630.6" stroke="#0b69ad" stroke-width="2.6"/>
<line x1="1398.15" y1="1696.3" x2="1405.65" y2="1696.3" stroke="#0b69ad" stroke-width="2.6"/>
<line x1="1254" y1="1777.2" x2="1254" y2="1798.7" stroke="#0b69ad" stroke-width="2.6"/>
<line x1="1250.25" y1="1777.2" x2="1257.75" y2="1777.2" stroke="#0b69ad" stroke-width="2.6"/>
<line x1="1250.25" y1="1798.7" x2="1257.75" y2="1798.7" stroke="#0b69ad" stroke-width="2.6"/>
<line x1="1401.9" y1="1715" x2="1401.9" y2="1733.3" stroke="#0b69ad" stroke-width="2.6"/>
<line x1="1398.15" y1="1715" x2="1405.65" y2="1715" stroke="#0b69ad" stroke-width="2.6"/>
<line x1="1398.15" y1="1733.3" x2="1405.65" y2="1733.3" stroke="#0b69ad" stroke-width="2.6"/>
<line x1="1599.1" y1="1567.1" x2="1599.1" y2="1605.5" stroke="#0b69ad" stroke-width="2.6"/>
<line x1="1595.35" y1="1567.1" x2="1602.85" y2="1567.1" stroke="#0b69ad" stroke-width="2.6"/>
<line x1="1595.35" y1="1605.5" x2="1602.85" y2="1605.5" stroke="#0b69ad" stroke-width="2.6"/>
<line x1="1599.1" y1="1540.4" x2="1599.1" y2="1575" stroke="#0b69ad" stroke-width="2.6"/>
<line x1="1595.35" y1="1540.4" x2="1602.85" y2="1540.4" stroke="#0b69ad" stroke-width="2.6"/>
<line x1="1595.35" y1="1575" x2="1602.85" y2="1575" stroke="#0b69ad" stroke-width="2.6"/>
<circle cx="1229.35" cy="1812.21" r="5.8" fill="#0b69ad"/>
<circle cx="1254" cy="1787.6" r="5.8" fill="#0b69ad"/>
<circle cx="1303.3" cy="1704.16" r="5.8" fill="#0b69ad"/>
<circle cx="1401.9" cy="1724.13" r="5.8" fill="#0b69ad"/>
<circle cx="1599.1" cy="1587.55" r="5.8" fill="#0b69ad"/>
<rect x="1224.35" y="1664.92" width="10" height="10" fill="#0b69ad"/>
<rect x="1249" y="1695.06" width="10" height="10" fill="#0b69ad"/>
<rect x="1298.3" y="1718.06" width="10" height="10" fill="#0b69ad"/>
<rect x="1396.9" y="1657.97" width="10" height="10" fill="#0b69ad"/>
<rect x="1594.1" y="1553.49" width="10" height="10" fill="#0b69ad"/>
<rect x="1199.7" y="1713.6" width="10" height="10" fill="#0b69ad"/>
<text transform="translate(1246.13,1605.5) scale(1,1.04)" font-size="36.6" fill="#0b69ad">25 μM NADA</text>
<text transform="translate(1359.03,1769.4) scale(1,1.04)" font-size="36.6" fill="#0b69ad">75 μM NADA</text>
</svg></body></html>
